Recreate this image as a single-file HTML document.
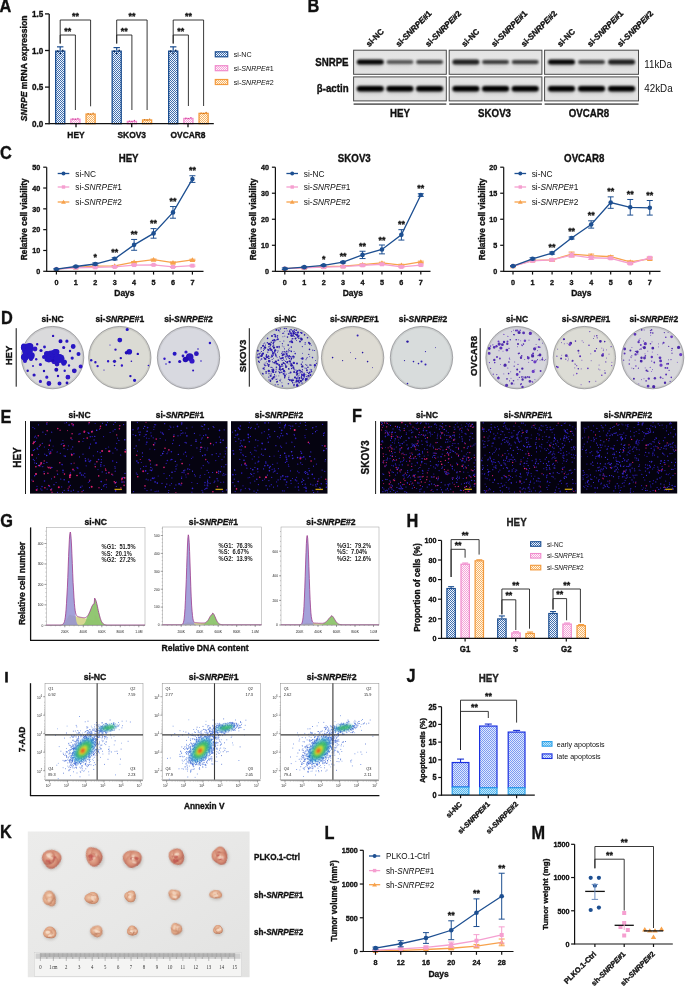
<!DOCTYPE html>
<html><head><meta charset="utf-8"><style>
html,body{margin:0;padding:0;background:#fff;width:685px;height:987px;overflow:hidden}
svg{display:block;font-family:"Liberation Sans",sans-serif;will-change:transform}
</style></head><body>
<svg width="685" height="987" viewBox="0 0 685 987">
<defs>
<pattern id="pB" width="2" height="2" patternUnits="userSpaceOnUse"><rect width="2" height="2" fill="#f4f7fc"/><rect width="1" height="1" fill="#3f6fb0"/><rect x="1" y="1" width="1" height="1" fill="#3f6fb0"/></pattern>
<pattern id="pP" width="2" height="2" patternUnits="userSpaceOnUse"><rect width="2" height="2" fill="#fff4fb"/><rect width="1" height="1" fill="#f4a6d8"/><rect x="1" y="1" width="1" height="1" fill="#f4a6d8"/></pattern>
<pattern id="pO" width="2" height="2" patternUnits="userSpaceOnUse"><rect width="2" height="2" fill="#fff6ea"/><rect width="1" height="1" fill="#f6b466"/><rect x="1" y="1" width="1" height="1" fill="#f6b466"/></pattern>
<filter id="blur1" x="-50%" y="-50%" width="200%" height="200%"><feGaussianBlur stdDeviation="1.15"/></filter>
<filter id="blur05" x="-50%" y="-50%" width="200%" height="200%"><feGaussianBlur stdDeviation="0.5"/></filter>
<filter id="blur2" x="-50%" y="-50%" width="200%" height="200%"><feGaussianBlur stdDeviation="2"/></filter>
<linearGradient id="blotbg" x1="0" y1="0" x2="0" y2="1"><stop offset="0" stop-color="#e2e2e2"/><stop offset="0.5" stop-color="#e9e9e9"/><stop offset="1" stop-color="#e0e0e0"/></linearGradient>


<radialGradient id="plate" cx="0.5" cy="0.5" r="0.5"><stop offset="0" stop-color="#dedee0"/><stop offset="0.85" stop-color="#d8d8db"/><stop offset="0.97" stop-color="#cacacd"/><stop offset="1" stop-color="#8c8c90"/></radialGradient>
<filter id="cb" x="-50%" y="-50%" width="200%" height="200%"><feGaussianBlur stdDeviation="0.35"/></filter>
<filter id="fb" x="-50%" y="-50%" width="200%" height="200%"><feGaussianBlur stdDeviation="0.45"/></filter>


<filter id="hb" x="-50%" y="-50%" width="200%" height="200%"><feGaussianBlur stdDeviation="1.6"/></filter>
<filter id="hb2" x="-50%" y="-50%" width="200%" height="200%"><feGaussianBlur stdDeviation="0.9"/></filter>
<pattern id="pE" width="2" height="2" patternUnits="userSpaceOnUse"><rect width="2" height="2" fill="#bfe6fb"/><rect width="1" height="1" fill="#5ab8ee"/><rect x="1" y="1" width="1" height="1" fill="#5ab8ee"/></pattern>
<pattern id="pL" width="2" height="2" patternUnits="userSpaceOnUse"><rect width="2" height="2" fill="#dfe8fd"/><rect width="1" height="1" fill="#7c9af2"/><rect x="1" y="1" width="1" height="1" fill="#7c9af2"/></pattern>


<linearGradient id="photo" x1="0" y1="0" x2="1" y2="1"><stop offset="0" stop-color="#ececeb"/><stop offset="0.5" stop-color="#e8e8e7"/><stop offset="1" stop-color="#e2e2e1"/></linearGradient>
<radialGradient id="tum" cx="0.45" cy="0.42" r="0.6"><stop offset="0" stop-color="#efc9aa"/><stop offset="0.6" stop-color="#e0a686"/><stop offset="0.9" stop-color="#c98a6c"/><stop offset="1" stop-color="#b27458"/></radialGradient>
<radialGradient id="tumr" cx="0.45" cy="0.42" r="0.6"><stop offset="0" stop-color="#e8b49c"/><stop offset="0.6" stop-color="#d68e76"/><stop offset="0.9" stop-color="#bf7060"/><stop offset="1" stop-color="#a45a4e"/></radialGradient>
<filter id="tb" x="-30%" y="-30%" width="160%" height="160%"><feGaussianBlur stdDeviation="0.5"/></filter>
<filter id="tb2" x="-50%" y="-50%" width="200%" height="200%"><feGaussianBlur stdDeviation="1.0"/></filter>
</defs>
<text x="0" y="0" font-size="18.15" font-weight="bold" text-anchor="start" fill="#111" transform="translate(-0.5 11.6) scale(0.9 1)" stroke="#111" stroke-width="0.35">A</text>
<line x1="60.2" y1="50.5" x2="60.2" y2="46.84" stroke="#1d4f91" stroke-width="1.2"/>
<line x1="57" y1="46.84" x2="63.4" y2="46.84" stroke="#1d4f91" stroke-width="1.2"/>
<rect x="55.65" y="51.15" width="9.1" height="72.55" fill="url(#pB)" stroke="#1d4f91" stroke-width="1.3"/>
<circle cx="57.7" cy="51.23" r="0.9" fill="#0b2a5a"/>
<circle cx="62.7" cy="50.5" r="0.9" fill="#0b2a5a"/>
<circle cx="60.2" cy="53.43" r="0.9" fill="#0b2a5a"/>
<rect x="70.85" y="119.23" width="9.1" height="4.47" fill="url(#pP)" stroke="#f08ccd" stroke-width="1.3"/>
<circle cx="72.9" cy="118.94" r="0.7" fill="#d0409a"/>
<circle cx="77.9" cy="118.36" r="0.7" fill="#d0409a"/>
<circle cx="75.4" cy="119.31" r="0.7" fill="#d0409a"/>
<rect x="86.05" y="114.1" width="9.1" height="9.6" fill="url(#pO)" stroke="#f39a3c" stroke-width="1.3"/>
<circle cx="88.1" cy="113.82" r="0.7" fill="#d07010"/>
<circle cx="93.1" cy="113.23" r="0.7" fill="#d07010"/>
<circle cx="90.6" cy="114.18" r="0.7" fill="#d07010"/>
<line x1="116.7" y1="50.5" x2="116.7" y2="47.57" stroke="#1d4f91" stroke-width="1.2"/>
<line x1="113.5" y1="47.57" x2="119.9" y2="47.57" stroke="#1d4f91" stroke-width="1.2"/>
<rect x="112.15" y="51.15" width="9.1" height="72.55" fill="url(#pB)" stroke="#1d4f91" stroke-width="1.3"/>
<circle cx="114.2" cy="51.23" r="0.9" fill="#0b2a5a"/>
<circle cx="119.2" cy="50.5" r="0.9" fill="#0b2a5a"/>
<circle cx="116.7" cy="53.43" r="0.9" fill="#0b2a5a"/>
<rect x="127.35" y="121.42" width="9.1" height="2.28" fill="url(#pP)" stroke="#f08ccd" stroke-width="1.3"/>
<circle cx="129.4" cy="121.14" r="0.7" fill="#d0409a"/>
<circle cx="134.4" cy="120.55" r="0.7" fill="#d0409a"/>
<circle cx="131.9" cy="121.5" r="0.7" fill="#d0409a"/>
<rect x="142.55" y="119.96" width="9.1" height="3.74" fill="url(#pO)" stroke="#f39a3c" stroke-width="1.3"/>
<circle cx="144.6" cy="119.67" r="0.7" fill="#d07010"/>
<circle cx="149.6" cy="119.09" r="0.7" fill="#d07010"/>
<circle cx="147.1" cy="120.04" r="0.7" fill="#d07010"/>
<line x1="173.2" y1="50.5" x2="173.2" y2="46.84" stroke="#1d4f91" stroke-width="1.2"/>
<line x1="170" y1="46.84" x2="176.4" y2="46.84" stroke="#1d4f91" stroke-width="1.2"/>
<rect x="168.65" y="51.15" width="9.1" height="72.55" fill="url(#pB)" stroke="#1d4f91" stroke-width="1.3"/>
<circle cx="170.7" cy="51.23" r="0.9" fill="#0b2a5a"/>
<circle cx="175.7" cy="50.5" r="0.9" fill="#0b2a5a"/>
<circle cx="173.2" cy="53.43" r="0.9" fill="#0b2a5a"/>
<rect x="183.85" y="118.49" width="9.1" height="5.21" fill="url(#pP)" stroke="#f08ccd" stroke-width="1.3"/>
<circle cx="185.9" cy="118.21" r="0.7" fill="#d0409a"/>
<circle cx="190.9" cy="117.62" r="0.7" fill="#d0409a"/>
<circle cx="188.4" cy="118.58" r="0.7" fill="#d0409a"/>
<rect x="199.05" y="113.37" width="9.1" height="10.33" fill="url(#pO)" stroke="#f39a3c" stroke-width="1.3"/>
<circle cx="201.1" cy="113.09" r="0.7" fill="#d07010"/>
<circle cx="206.1" cy="112.5" r="0.7" fill="#d07010"/>
<circle cx="203.6" cy="113.45" r="0.7" fill="#d07010"/>
<polyline points="60.2,43.5 60.2,20 90.6,20 90.6,106.3" stroke="#222" stroke-width="0.9" fill="none"/>
<polyline points="60.2,43.5 60.2,35 75.4,35 75.4,110" stroke="#222" stroke-width="0.9" fill="none"/>
<text x="0" y="0" font-size="9.9" font-weight="bold" text-anchor="middle" fill="#111" transform="translate(75.4 19) scale(0.9 1)" stroke="#111" stroke-width="0.35">**</text>
<text x="0" y="0" font-size="9.9" font-weight="bold" text-anchor="middle" fill="#111" transform="translate(67.8 34) scale(0.9 1)" stroke="#111" stroke-width="0.35">**</text>
<polyline points="116.7,43.5 116.7,20 147.1,20 147.1,110" stroke="#222" stroke-width="0.9" fill="none"/>
<polyline points="116.7,43.5 116.7,35 131.9,35 131.9,110" stroke="#222" stroke-width="0.9" fill="none"/>
<text x="0" y="0" font-size="9.9" font-weight="bold" text-anchor="middle" fill="#111" transform="translate(131.9 19) scale(0.9 1)" stroke="#111" stroke-width="0.35">**</text>
<text x="0" y="0" font-size="9.9" font-weight="bold" text-anchor="middle" fill="#111" transform="translate(124.3 34) scale(0.9 1)" stroke="#111" stroke-width="0.35">**</text>
<polyline points="173.2,43.5 173.2,20 203.6,20 203.6,106" stroke="#222" stroke-width="0.9" fill="none"/>
<polyline points="173.2,43.5 173.2,35 188.4,35 188.4,106" stroke="#222" stroke-width="0.9" fill="none"/>
<text x="0" y="0" font-size="9.9" font-weight="bold" text-anchor="middle" fill="#111" transform="translate(188.4 19) scale(0.9 1)" stroke="#111" stroke-width="0.35">**</text>
<text x="0" y="0" font-size="9.9" font-weight="bold" text-anchor="middle" fill="#111" transform="translate(180.8 34) scale(0.9 1)" stroke="#111" stroke-width="0.35">**</text>
<line x1="49.2" y1="13.9" x2="49.2" y2="124.35" stroke="#111" stroke-width="1.3"/>
<line x1="45" y1="13.9" x2="49.2" y2="13.9" stroke="#111" stroke-width="1.3"/>
<text x="0" y="0" font-size="9.02" font-weight="bold" text-anchor="end" fill="#111" transform="translate(43.2 17.06) scale(0.9 1)" stroke="#111" stroke-width="0.35">1.5</text>
<line x1="45" y1="50.5" x2="49.2" y2="50.5" stroke="#111" stroke-width="1.3"/>
<text x="0" y="0" font-size="9.02" font-weight="bold" text-anchor="end" fill="#111" transform="translate(43.2 53.66) scale(0.9 1)" stroke="#111" stroke-width="0.35">1.0</text>
<line x1="45" y1="87.1" x2="49.2" y2="87.1" stroke="#111" stroke-width="1.3"/>
<text x="0" y="0" font-size="9.02" font-weight="bold" text-anchor="end" fill="#111" transform="translate(43.2 90.26) scale(0.9 1)" stroke="#111" stroke-width="0.35">0.5</text>
<line x1="45" y1="123.7" x2="49.2" y2="123.7" stroke="#111" stroke-width="1.3"/>
<text x="0" y="0" font-size="9.02" font-weight="bold" text-anchor="end" fill="#111" transform="translate(43.2 126.86) scale(0.9 1)" stroke="#111" stroke-width="0.35">0.0</text>
<line x1="49.2" y1="123.7" x2="213.8" y2="123.7" stroke="#111" stroke-width="1.3"/>
<line x1="76" y1="123.7" x2="76" y2="127.2" stroke="#111" stroke-width="1.3"/>
<text x="0" y="0" font-size="9.35" font-weight="bold" text-anchor="middle" fill="#111" transform="translate(76 137.97) scale(0.9 1)" stroke="#111" stroke-width="0.35">HEY</text>
<line x1="131.7" y1="123.7" x2="131.7" y2="127.2" stroke="#111" stroke-width="1.3"/>
<text x="0" y="0" font-size="9.35" font-weight="bold" text-anchor="middle" fill="#111" transform="translate(131.7 137.97) scale(0.9 1)" stroke="#111" stroke-width="0.35">SKOV3</text>
<line x1="188" y1="123.7" x2="188" y2="127.2" stroke="#111" stroke-width="1.3"/>
<text x="0" y="0" font-size="9.35" font-weight="bold" text-anchor="middle" fill="#111" transform="translate(188 137.97) scale(0.9 1)" stroke="#111" stroke-width="0.35">OVCAR8</text>
<text x="0" y="0" font-size="8.6" font-weight="bold" text-anchor="middle" fill="#111" transform="translate(27 68.4) rotate(-90)" stroke="#111" stroke-width="0.35"><tspan font-style="italic">SNRPE</tspan> mRNA expression</text>
<rect x="215.3" y="51.8" width="12.4" height="5" fill="url(#pB)" stroke="#1d4f91" stroke-width="1.2"/>
<text x="0" y="0" font-size="7.92" text-anchor="start" fill="#111" transform="translate(233.8 57.07) scale(0.9 1)">si-NC</text>
<rect x="215.3" y="65.7" width="12.4" height="5" fill="url(#pP)" stroke="#f08ccd" stroke-width="1.2"/>
<text x="0" y="0" font-size="7.92" text-anchor="start" fill="#111" transform="translate(233.8 70.97) scale(0.9 1)">si-<tspan font-style="italic">SNRPE</tspan>#1</text>
<rect x="215.3" y="79.5" width="12.4" height="5" fill="url(#pO)" stroke="#f39a3c" stroke-width="1.2"/>
<text x="0" y="0" font-size="7.92" text-anchor="start" fill="#111" transform="translate(233.8 84.77) scale(0.9 1)">si-<tspan font-style="italic">SNRPE</tspan>#2</text>
<text x="0" y="0" font-size="18.15" font-weight="bold" text-anchor="start" fill="#111" transform="translate(307.5 11.8) scale(0.9 1)" stroke="#111" stroke-width="0.35">B</text>
<rect x="353.6" y="50.2" width="92.7" height="24.1" fill="url(#blotbg)" stroke="#4a4a4a" stroke-width="1"/>
<clipPath id="cp00"><rect x="353.6" y="50.2" width="92.7" height="24.1"/></clipPath>
<g clip-path="url(#cp00)">
<rect x="356.79" y="59.5" width="27" height="5" rx="2.5" fill="#000" fill-opacity="0.97" filter="url(#blur1)"/>
<rect x="357.29" y="60" width="26" height="7" rx="3.5" fill="#000" fill-opacity="0.15" filter="url(#blur2)"/>
<rect x="386.45" y="59.9" width="27" height="4.2" rx="2.1" fill="#000" fill-opacity="0.6" filter="url(#blur1)"/>
<rect x="386.95" y="60" width="26" height="7" rx="3.5" fill="#000" fill-opacity="0.09" filter="url(#blur2)"/>
<rect x="416.11" y="59.9" width="27" height="4.2" rx="2.1" fill="#000" fill-opacity="0.7" filter="url(#blur1)"/>
<rect x="416.61" y="60" width="26" height="7" rx="3.5" fill="#000" fill-opacity="0.1" filter="url(#blur2)"/>
</g>
<rect x="353.6" y="76.9" width="92.7" height="24" fill="url(#blotbg)" stroke="#4a4a4a" stroke-width="1"/>
<clipPath id="cp01"><rect x="353.6" y="76.9" width="92.7" height="24"/></clipPath>
<g clip-path="url(#cp01)">
<rect x="356.79" y="86.1" width="27" height="5.4" rx="2.7" fill="#000" fill-opacity="1" filter="url(#blur1)"/>
<rect x="356.79" y="85.5" width="27" height="8" rx="4" fill="#000" fill-opacity="0.18" filter="url(#blur2)"/>
<rect x="386.45" y="86.1" width="27" height="5.4" rx="2.7" fill="#000" fill-opacity="1" filter="url(#blur1)"/>
<rect x="386.45" y="85.5" width="27" height="8" rx="4" fill="#000" fill-opacity="0.18" filter="url(#blur2)"/>
<rect x="416.11" y="86.1" width="27" height="5.4" rx="2.7" fill="#000" fill-opacity="1" filter="url(#blur1)"/>
<rect x="416.11" y="85.5" width="27" height="8" rx="4" fill="#000" fill-opacity="0.18" filter="url(#blur2)"/>
</g>
<line x1="353.6" y1="104.1" x2="446.3" y2="104.1" stroke="#6a6a6a" stroke-width="1.6"/>
<text x="0" y="0" font-size="10.78" font-weight="bold" text-anchor="middle" fill="#111" transform="translate(399.95 117.37) scale(0.9 1)" stroke="#111" stroke-width="0.35">HEY</text>
<text x="369.29" y="47.2" font-size="8.2" font-weight="bold" text-anchor="start" fill="#111" transform="rotate(-45 369.29 47.2)" stroke="#111" stroke-width="0.35">si-NC</text>
<text x="398.95" y="47.2" font-size="8.2" font-weight="bold" text-anchor="start" fill="#111" transform="rotate(-45 398.95 47.2)" stroke="#111" stroke-width="0.35">si-<tspan font-style="italic">SNRPE</tspan>#1</text>
<text x="428.61" y="47.2" font-size="8.2" font-weight="bold" text-anchor="start" fill="#111" transform="rotate(-45 428.61 47.2)" stroke="#111" stroke-width="0.35">si-<tspan font-style="italic">SNRPE</tspan>#2</text>
<rect x="449.2" y="50.2" width="92.7" height="24.1" fill="url(#blotbg)" stroke="#4a4a4a" stroke-width="1"/>
<clipPath id="cp10"><rect x="449.2" y="50.2" width="92.7" height="24.1"/></clipPath>
<g clip-path="url(#cp10)">
<rect x="452.39" y="59.5" width="27" height="5" rx="2.5" fill="#000" fill-opacity="0.85" filter="url(#blur1)"/>
<rect x="452.89" y="60" width="26" height="7" rx="3.5" fill="#000" fill-opacity="0.13" filter="url(#blur2)"/>
<rect x="482.05" y="59.9" width="27" height="4.2" rx="2.1" fill="#000" fill-opacity="0.72" filter="url(#blur1)"/>
<rect x="482.55" y="60" width="26" height="7" rx="3.5" fill="#000" fill-opacity="0.11" filter="url(#blur2)"/>
<rect x="511.71" y="59.9" width="27" height="4.2" rx="2.1" fill="#000" fill-opacity="0.72" filter="url(#blur1)"/>
<rect x="512.21" y="60" width="26" height="7" rx="3.5" fill="#000" fill-opacity="0.11" filter="url(#blur2)"/>
</g>
<rect x="449.2" y="76.9" width="92.7" height="24" fill="url(#blotbg)" stroke="#4a4a4a" stroke-width="1"/>
<clipPath id="cp11"><rect x="449.2" y="76.9" width="92.7" height="24"/></clipPath>
<g clip-path="url(#cp11)">
<rect x="452.39" y="86.1" width="27" height="5.4" rx="2.7" fill="#000" fill-opacity="1" filter="url(#blur1)"/>
<rect x="452.39" y="85.5" width="27" height="8" rx="4" fill="#000" fill-opacity="0.18" filter="url(#blur2)"/>
<rect x="482.05" y="86.1" width="27" height="5.4" rx="2.7" fill="#000" fill-opacity="1" filter="url(#blur1)"/>
<rect x="482.05" y="85.5" width="27" height="8" rx="4" fill="#000" fill-opacity="0.18" filter="url(#blur2)"/>
<rect x="511.71" y="86.1" width="27" height="5.4" rx="2.7" fill="#000" fill-opacity="1" filter="url(#blur1)"/>
<rect x="511.71" y="85.5" width="27" height="8" rx="4" fill="#000" fill-opacity="0.18" filter="url(#blur2)"/>
</g>
<line x1="449.2" y1="104.1" x2="541.9" y2="104.1" stroke="#6a6a6a" stroke-width="1.6"/>
<text x="0" y="0" font-size="10.78" font-weight="bold" text-anchor="middle" fill="#111" transform="translate(494.55 117.37) scale(0.9 1)" stroke="#111" stroke-width="0.35">SKOV3</text>
<text x="464.89" y="47.2" font-size="8.2" font-weight="bold" text-anchor="start" fill="#111" transform="rotate(-45 464.89 47.2)" stroke="#111" stroke-width="0.35">si-NC</text>
<text x="494.55" y="47.2" font-size="8.2" font-weight="bold" text-anchor="start" fill="#111" transform="rotate(-45 494.55 47.2)" stroke="#111" stroke-width="0.35">si-<tspan font-style="italic">SNRPE</tspan>#1</text>
<text x="524.21" y="47.2" font-size="8.2" font-weight="bold" text-anchor="start" fill="#111" transform="rotate(-45 524.21 47.2)" stroke="#111" stroke-width="0.35">si-<tspan font-style="italic">SNRPE</tspan>#2</text>
<rect x="544.6" y="50.2" width="93.9" height="24.1" fill="url(#blotbg)" stroke="#4a4a4a" stroke-width="1"/>
<clipPath id="cp20"><rect x="544.6" y="50.2" width="93.9" height="24.1"/></clipPath>
<g clip-path="url(#cp20)">
<rect x="548" y="59.5" width="27" height="5" rx="2.5" fill="#000" fill-opacity="0.97" filter="url(#blur1)"/>
<rect x="548.5" y="60" width="26" height="7" rx="3.5" fill="#000" fill-opacity="0.15" filter="url(#blur2)"/>
<rect x="578.05" y="59.9" width="27" height="4.2" rx="2.1" fill="#000" fill-opacity="0.72" filter="url(#blur1)"/>
<rect x="578.55" y="60" width="26" height="7" rx="3.5" fill="#000" fill-opacity="0.11" filter="url(#blur2)"/>
<rect x="608.1" y="59.5" width="27" height="5" rx="2.5" fill="#000" fill-opacity="0.85" filter="url(#blur1)"/>
<rect x="608.6" y="60" width="26" height="7" rx="3.5" fill="#000" fill-opacity="0.13" filter="url(#blur2)"/>
</g>
<rect x="544.6" y="76.9" width="93.9" height="24" fill="url(#blotbg)" stroke="#4a4a4a" stroke-width="1"/>
<clipPath id="cp21"><rect x="544.6" y="76.9" width="93.9" height="24"/></clipPath>
<g clip-path="url(#cp21)">
<rect x="548" y="86.1" width="27" height="5.4" rx="2.7" fill="#000" fill-opacity="1" filter="url(#blur1)"/>
<rect x="548" y="85.5" width="27" height="8" rx="4" fill="#000" fill-opacity="0.18" filter="url(#blur2)"/>
<rect x="578.05" y="86.1" width="27" height="5.4" rx="2.7" fill="#000" fill-opacity="1" filter="url(#blur1)"/>
<rect x="578.05" y="85.5" width="27" height="8" rx="4" fill="#000" fill-opacity="0.18" filter="url(#blur2)"/>
<rect x="608.1" y="86.1" width="27" height="5.4" rx="2.7" fill="#000" fill-opacity="1" filter="url(#blur1)"/>
<rect x="608.1" y="85.5" width="27" height="8" rx="4" fill="#000" fill-opacity="0.18" filter="url(#blur2)"/>
</g>
<line x1="544.6" y1="104.1" x2="638.5" y2="104.1" stroke="#6a6a6a" stroke-width="1.6"/>
<text x="0" y="0" font-size="10.78" font-weight="bold" text-anchor="middle" fill="#111" transform="translate(588.85 117.37) scale(0.9 1)" stroke="#111" stroke-width="0.35">OVCAR8</text>
<text x="560.5" y="47.2" font-size="8.2" font-weight="bold" text-anchor="start" fill="#111" transform="rotate(-45 560.5 47.2)" stroke="#111" stroke-width="0.35">si-NC</text>
<text x="590.55" y="47.2" font-size="8.2" font-weight="bold" text-anchor="start" fill="#111" transform="rotate(-45 590.55 47.2)" stroke="#111" stroke-width="0.35">si-<tspan font-style="italic">SNRPE</tspan>#1</text>
<text x="620.6" y="47.2" font-size="8.2" font-weight="bold" text-anchor="start" fill="#111" transform="rotate(-45 620.6 47.2)" stroke="#111" stroke-width="0.35">si-<tspan font-style="italic">SNRPE</tspan>#2</text>
<text x="0" y="0" font-size="10.78" font-weight="bold" text-anchor="end" fill="#111" transform="translate(348.6 65.77) scale(0.9 1)" stroke="#111" stroke-width="0.35">SNRPE</text>
<text x="0" y="0" font-size="10.78" font-weight="bold" text-anchor="end" fill="#111" transform="translate(348.6 92.17) scale(0.9 1)" stroke="#111" stroke-width="0.35">&#946;-actin</text>
<text x="0" y="0" font-size="10.89" text-anchor="start" fill="#111" transform="translate(644.3 68.11) scale(0.9 1)">11kDa</text>
<text x="0" y="0" font-size="10.89" text-anchor="start" fill="#111" transform="translate(644.3 92.01) scale(0.9 1)">42kDa</text>
<text x="0" y="0" font-size="18.15" font-weight="bold" text-anchor="start" fill="#111" transform="translate(0 158.5) scale(0.9 1)" stroke="#111" stroke-width="0.35">C</text>
<line x1="75.83" y1="267.76" x2="75.83" y2="266.93" stroke="#f7a24c" stroke-width="1"/>
<line x1="72.83" y1="266.93" x2="78.83" y2="266.93" stroke="#f7a24c" stroke-width="1"/>
<line x1="72.83" y1="267.76" x2="78.83" y2="267.76" stroke="#f7a24c" stroke-width="1"/>
<line x1="95.26" y1="266.51" x2="95.26" y2="265.68" stroke="#f7a24c" stroke-width="1"/>
<line x1="92.26" y1="265.68" x2="98.26" y2="265.68" stroke="#f7a24c" stroke-width="1"/>
<line x1="92.26" y1="266.51" x2="98.26" y2="266.51" stroke="#f7a24c" stroke-width="1"/>
<line x1="114.69" y1="266.3" x2="114.69" y2="265.47" stroke="#f7a24c" stroke-width="1"/>
<line x1="111.69" y1="265.47" x2="117.69" y2="265.47" stroke="#f7a24c" stroke-width="1"/>
<line x1="111.69" y1="266.3" x2="117.69" y2="266.3" stroke="#f7a24c" stroke-width="1"/>
<line x1="134.12" y1="262.76" x2="134.12" y2="261.51" stroke="#f7a24c" stroke-width="1"/>
<line x1="131.12" y1="261.51" x2="137.12" y2="261.51" stroke="#f7a24c" stroke-width="1"/>
<line x1="131.12" y1="262.76" x2="137.12" y2="262.76" stroke="#f7a24c" stroke-width="1"/>
<line x1="153.55" y1="260.27" x2="153.55" y2="259.02" stroke="#f7a24c" stroke-width="1"/>
<line x1="150.55" y1="259.02" x2="156.55" y2="259.02" stroke="#f7a24c" stroke-width="1"/>
<line x1="150.55" y1="260.27" x2="156.55" y2="260.27" stroke="#f7a24c" stroke-width="1"/>
<line x1="172.98" y1="263.18" x2="172.98" y2="261.93" stroke="#f7a24c" stroke-width="1"/>
<line x1="169.98" y1="261.93" x2="175.98" y2="261.93" stroke="#f7a24c" stroke-width="1"/>
<line x1="169.98" y1="263.18" x2="175.98" y2="263.18" stroke="#f7a24c" stroke-width="1"/>
<line x1="192.41" y1="260.47" x2="192.41" y2="259.22" stroke="#f7a24c" stroke-width="1"/>
<line x1="189.41" y1="259.22" x2="195.41" y2="259.22" stroke="#f7a24c" stroke-width="1"/>
<line x1="189.41" y1="260.47" x2="195.41" y2="260.47" stroke="#f7a24c" stroke-width="1"/>
<polyline points="56.4,269.22 75.83,267.34 95.26,266.1 114.69,265.89 134.12,262.14 153.55,259.64 172.98,262.56 192.41,259.85" stroke="#f7a24c" stroke-width="1.3" fill="none"/>
<polygon points="56.4,266.62 53.54,271.3 59.26,271.3" fill="#f7a24c"/>
<polygon points="75.83,264.74 72.97,269.42 78.69,269.42" fill="#f7a24c"/>
<polygon points="95.26,263.5 92.4,268.18 98.12,268.18" fill="#f7a24c"/>
<polygon points="114.69,263.29 111.83,267.97 117.55,267.97" fill="#f7a24c"/>
<polygon points="134.12,259.54 131.26,264.22 136.98,264.22" fill="#f7a24c"/>
<polygon points="153.55,257.04 150.69,261.72 156.41,261.72" fill="#f7a24c"/>
<polygon points="172.98,259.96 170.12,264.64 175.84,264.64" fill="#f7a24c"/>
<polygon points="192.41,257.25 189.55,261.93 195.27,261.93" fill="#f7a24c"/>
<line x1="75.83" y1="268.18" x2="75.83" y2="267.34" stroke="#f59fd0" stroke-width="1"/>
<line x1="72.83" y1="267.34" x2="78.83" y2="267.34" stroke="#f59fd0" stroke-width="1"/>
<line x1="72.83" y1="268.18" x2="78.83" y2="268.18" stroke="#f59fd0" stroke-width="1"/>
<line x1="95.26" y1="267.76" x2="95.26" y2="266.93" stroke="#f59fd0" stroke-width="1"/>
<line x1="92.26" y1="266.93" x2="98.26" y2="266.93" stroke="#f59fd0" stroke-width="1"/>
<line x1="92.26" y1="267.76" x2="98.26" y2="267.76" stroke="#f59fd0" stroke-width="1"/>
<line x1="114.69" y1="267.34" x2="114.69" y2="266.51" stroke="#f59fd0" stroke-width="1"/>
<line x1="111.69" y1="266.51" x2="117.69" y2="266.51" stroke="#f59fd0" stroke-width="1"/>
<line x1="111.69" y1="267.34" x2="117.69" y2="267.34" stroke="#f59fd0" stroke-width="1"/>
<line x1="134.12" y1="265.68" x2="134.12" y2="264.43" stroke="#f59fd0" stroke-width="1"/>
<line x1="131.12" y1="264.43" x2="137.12" y2="264.43" stroke="#f59fd0" stroke-width="1"/>
<line x1="131.12" y1="265.68" x2="137.12" y2="265.68" stroke="#f59fd0" stroke-width="1"/>
<line x1="153.55" y1="265.26" x2="153.55" y2="264.43" stroke="#f59fd0" stroke-width="1"/>
<line x1="150.55" y1="264.43" x2="156.55" y2="264.43" stroke="#f59fd0" stroke-width="1"/>
<line x1="150.55" y1="265.26" x2="156.55" y2="265.26" stroke="#f59fd0" stroke-width="1"/>
<line x1="172.98" y1="267.55" x2="172.98" y2="266.3" stroke="#f59fd0" stroke-width="1"/>
<line x1="169.98" y1="266.3" x2="175.98" y2="266.3" stroke="#f59fd0" stroke-width="1"/>
<line x1="169.98" y1="267.55" x2="175.98" y2="267.55" stroke="#f59fd0" stroke-width="1"/>
<line x1="192.41" y1="266.3" x2="192.41" y2="265.05" stroke="#f59fd0" stroke-width="1"/>
<line x1="189.41" y1="265.05" x2="195.41" y2="265.05" stroke="#f59fd0" stroke-width="1"/>
<line x1="189.41" y1="266.3" x2="195.41" y2="266.3" stroke="#f59fd0" stroke-width="1"/>
<polyline points="56.4,269.22 75.83,267.76 95.26,267.34 114.69,266.93 134.12,265.05 153.55,264.85 172.98,266.93 192.41,265.68" stroke="#f59fd0" stroke-width="1.3" fill="none"/>
<rect x="54.4" y="267.22" width="4" height="4" fill="#f59fd0" stroke="none" stroke-width="1"/>
<rect x="73.83" y="265.76" width="4" height="4" fill="#f59fd0" stroke="none" stroke-width="1"/>
<rect x="93.26" y="265.34" width="4" height="4" fill="#f59fd0" stroke="none" stroke-width="1"/>
<rect x="112.69" y="264.93" width="4" height="4" fill="#f59fd0" stroke="none" stroke-width="1"/>
<rect x="132.12" y="263.05" width="4" height="4" fill="#f59fd0" stroke="none" stroke-width="1"/>
<rect x="151.55" y="262.85" width="4" height="4" fill="#f59fd0" stroke="none" stroke-width="1"/>
<rect x="170.98" y="264.93" width="4" height="4" fill="#f59fd0" stroke="none" stroke-width="1"/>
<rect x="190.41" y="263.68" width="4" height="4" fill="#f59fd0" stroke="none" stroke-width="1"/>
<line x1="56.4" y1="269.84" x2="56.4" y2="268.59" stroke="#1d4f91" stroke-width="1"/>
<line x1="53.4" y1="268.59" x2="59.4" y2="268.59" stroke="#1d4f91" stroke-width="1"/>
<line x1="53.4" y1="269.84" x2="59.4" y2="269.84" stroke="#1d4f91" stroke-width="1"/>
<line x1="75.83" y1="267.14" x2="75.83" y2="265.89" stroke="#1d4f91" stroke-width="1"/>
<line x1="72.83" y1="265.89" x2="78.83" y2="265.89" stroke="#1d4f91" stroke-width="1"/>
<line x1="72.83" y1="267.14" x2="78.83" y2="267.14" stroke="#1d4f91" stroke-width="1"/>
<line x1="95.26" y1="265.05" x2="95.26" y2="262.97" stroke="#1d4f91" stroke-width="1"/>
<line x1="92.26" y1="262.97" x2="98.26" y2="262.97" stroke="#1d4f91" stroke-width="1"/>
<line x1="92.26" y1="265.05" x2="98.26" y2="265.05" stroke="#1d4f91" stroke-width="1"/>
<line x1="114.69" y1="259.85" x2="114.69" y2="257.77" stroke="#1d4f91" stroke-width="1"/>
<line x1="111.69" y1="257.77" x2="117.69" y2="257.77" stroke="#1d4f91" stroke-width="1"/>
<line x1="111.69" y1="259.85" x2="117.69" y2="259.85" stroke="#1d4f91" stroke-width="1"/>
<line x1="134.12" y1="250.27" x2="134.12" y2="239.45" stroke="#1d4f91" stroke-width="1"/>
<line x1="131.12" y1="239.45" x2="137.12" y2="239.45" stroke="#1d4f91" stroke-width="1"/>
<line x1="131.12" y1="250.27" x2="137.12" y2="250.27" stroke="#1d4f91" stroke-width="1"/>
<line x1="153.55" y1="238.2" x2="153.55" y2="228.62" stroke="#1d4f91" stroke-width="1"/>
<line x1="150.55" y1="228.62" x2="156.55" y2="228.62" stroke="#1d4f91" stroke-width="1"/>
<line x1="150.55" y1="238.2" x2="156.55" y2="238.2" stroke="#1d4f91" stroke-width="1"/>
<line x1="172.98" y1="218.21" x2="172.98" y2="206.55" stroke="#1d4f91" stroke-width="1"/>
<line x1="169.98" y1="206.55" x2="175.98" y2="206.55" stroke="#1d4f91" stroke-width="1"/>
<line x1="169.98" y1="218.21" x2="175.98" y2="218.21" stroke="#1d4f91" stroke-width="1"/>
<line x1="192.41" y1="182.4" x2="192.41" y2="175.74" stroke="#1d4f91" stroke-width="1"/>
<line x1="189.41" y1="175.74" x2="195.41" y2="175.74" stroke="#1d4f91" stroke-width="1"/>
<line x1="189.41" y1="182.4" x2="195.41" y2="182.4" stroke="#1d4f91" stroke-width="1"/>
<polyline points="56.4,269.22 75.83,266.51 95.26,264.01 114.69,258.81 134.12,244.86 153.55,233.41 172.98,212.38 192.41,179.07" stroke="#1d4f91" stroke-width="1.3" fill="none"/>
<circle cx="56.4" cy="269.22" r="2.3" fill="#1d4f91"/>
<circle cx="75.83" cy="266.51" r="2.3" fill="#1d4f91"/>
<circle cx="95.26" cy="264.01" r="2.3" fill="#1d4f91"/>
<circle cx="114.69" cy="258.81" r="2.3" fill="#1d4f91"/>
<circle cx="134.12" cy="244.86" r="2.3" fill="#1d4f91"/>
<circle cx="153.55" cy="233.41" r="2.3" fill="#1d4f91"/>
<circle cx="172.98" cy="212.38" r="2.3" fill="#1d4f91"/>
<circle cx="192.41" cy="179.07" r="2.3" fill="#1d4f91"/>
<text x="0" y="0" font-size="9.9" font-weight="bold" text-anchor="middle" fill="#111" transform="translate(95.26 260.47) scale(0.9 1)" stroke="#111" stroke-width="0.35">*</text>
<text x="0" y="0" font-size="9.9" font-weight="bold" text-anchor="middle" fill="#111" transform="translate(114.69 255.27) scale(0.9 1)" stroke="#111" stroke-width="0.35">**</text>
<text x="0" y="0" font-size="9.9" font-weight="bold" text-anchor="middle" fill="#111" transform="translate(134.12 236.95) scale(0.9 1)" stroke="#111" stroke-width="0.35">**</text>
<text x="0" y="0" font-size="9.9" font-weight="bold" text-anchor="middle" fill="#111" transform="translate(153.55 226.12) scale(0.9 1)" stroke="#111" stroke-width="0.35">**</text>
<text x="0" y="0" font-size="9.9" font-weight="bold" text-anchor="middle" fill="#111" transform="translate(172.98 204.05) scale(0.9 1)" stroke="#111" stroke-width="0.35">**</text>
<text x="0" y="0" font-size="9.9" font-weight="bold" text-anchor="middle" fill="#111" transform="translate(192.41 173.24) scale(0.9 1)" stroke="#111" stroke-width="0.35">**</text>
<line x1="46.7" y1="167.2" x2="46.7" y2="271.9" stroke="#111" stroke-width="1.2"/>
<line x1="43.2" y1="271.3" x2="46.7" y2="271.3" stroke="#111" stroke-width="1.2"/>
<text x="0" y="0" font-size="8.03" font-weight="bold" text-anchor="end" fill="#111" transform="translate(40.3 274.11) scale(0.9 1)" stroke="#111" stroke-width="0.35">0</text>
<line x1="43.2" y1="250.48" x2="46.7" y2="250.48" stroke="#111" stroke-width="1.2"/>
<text x="0" y="0" font-size="8.03" font-weight="bold" text-anchor="end" fill="#111" transform="translate(40.3 253.29) scale(0.9 1)" stroke="#111" stroke-width="0.35">10</text>
<line x1="43.2" y1="229.66" x2="46.7" y2="229.66" stroke="#111" stroke-width="1.2"/>
<text x="0" y="0" font-size="8.03" font-weight="bold" text-anchor="end" fill="#111" transform="translate(40.3 232.47) scale(0.9 1)" stroke="#111" stroke-width="0.35">20</text>
<line x1="43.2" y1="208.84" x2="46.7" y2="208.84" stroke="#111" stroke-width="1.2"/>
<text x="0" y="0" font-size="8.03" font-weight="bold" text-anchor="end" fill="#111" transform="translate(40.3 211.65) scale(0.9 1)" stroke="#111" stroke-width="0.35">30</text>
<line x1="43.2" y1="188.02" x2="46.7" y2="188.02" stroke="#111" stroke-width="1.2"/>
<text x="0" y="0" font-size="8.03" font-weight="bold" text-anchor="end" fill="#111" transform="translate(40.3 190.83) scale(0.9 1)" stroke="#111" stroke-width="0.35">40</text>
<line x1="43.2" y1="167.2" x2="46.7" y2="167.2" stroke="#111" stroke-width="1.2"/>
<text x="0" y="0" font-size="8.03" font-weight="bold" text-anchor="end" fill="#111" transform="translate(40.3 170.01) scale(0.9 1)" stroke="#111" stroke-width="0.35">50</text>
<line x1="46.7" y1="271.3" x2="203.5" y2="271.3" stroke="#111" stroke-width="1.2"/>
<line x1="56.4" y1="271.3" x2="56.4" y2="274.6" stroke="#111" stroke-width="1.2"/>
<text x="0" y="0" font-size="8.03" font-weight="bold" text-anchor="middle" fill="#111" transform="translate(56.4 284.81) scale(0.9 1)" stroke="#111" stroke-width="0.35">0</text>
<line x1="75.83" y1="271.3" x2="75.83" y2="274.6" stroke="#111" stroke-width="1.2"/>
<text x="0" y="0" font-size="8.03" font-weight="bold" text-anchor="middle" fill="#111" transform="translate(75.83 284.81) scale(0.9 1)" stroke="#111" stroke-width="0.35">1</text>
<line x1="95.26" y1="271.3" x2="95.26" y2="274.6" stroke="#111" stroke-width="1.2"/>
<text x="0" y="0" font-size="8.03" font-weight="bold" text-anchor="middle" fill="#111" transform="translate(95.26 284.81) scale(0.9 1)" stroke="#111" stroke-width="0.35">2</text>
<line x1="114.69" y1="271.3" x2="114.69" y2="274.6" stroke="#111" stroke-width="1.2"/>
<text x="0" y="0" font-size="8.03" font-weight="bold" text-anchor="middle" fill="#111" transform="translate(114.69 284.81) scale(0.9 1)" stroke="#111" stroke-width="0.35">3</text>
<line x1="134.12" y1="271.3" x2="134.12" y2="274.6" stroke="#111" stroke-width="1.2"/>
<text x="0" y="0" font-size="8.03" font-weight="bold" text-anchor="middle" fill="#111" transform="translate(134.12 284.81) scale(0.9 1)" stroke="#111" stroke-width="0.35">4</text>
<line x1="153.55" y1="271.3" x2="153.55" y2="274.6" stroke="#111" stroke-width="1.2"/>
<text x="0" y="0" font-size="8.03" font-weight="bold" text-anchor="middle" fill="#111" transform="translate(153.55 284.81) scale(0.9 1)" stroke="#111" stroke-width="0.35">5</text>
<line x1="172.98" y1="271.3" x2="172.98" y2="274.6" stroke="#111" stroke-width="1.2"/>
<text x="0" y="0" font-size="8.03" font-weight="bold" text-anchor="middle" fill="#111" transform="translate(172.98 284.81) scale(0.9 1)" stroke="#111" stroke-width="0.35">6</text>
<line x1="192.41" y1="271.3" x2="192.41" y2="274.6" stroke="#111" stroke-width="1.2"/>
<text x="0" y="0" font-size="8.03" font-weight="bold" text-anchor="middle" fill="#111" transform="translate(192.41 284.81) scale(0.9 1)" stroke="#111" stroke-width="0.35">7</text>
<text x="0" y="0" font-size="9.46" font-weight="bold" text-anchor="middle" fill="#111" transform="translate(124.41 296.01) scale(0.9 1)" stroke="#111" stroke-width="0.35">Days</text>
<text x="0" y="0" font-size="10.78" font-weight="bold" text-anchor="middle" fill="#111" transform="translate(128.6 162.17) scale(0.9 1)" stroke="#111" stroke-width="0.35">HEY</text>
<text x="0" y="0" font-size="8.4" font-weight="bold" text-anchor="middle" fill="#111" transform="translate(27.22 219.25) rotate(-90)" stroke="#111" stroke-width="0.35">Relative cell viability</text>
<line x1="57.7" y1="173.5" x2="69.3" y2="173.5" stroke="#1d4f91" stroke-width="1.3"/>
<circle cx="63.5" cy="173.5" r="1.95" fill="#1d4f91"/>
<text x="0" y="0" font-size="9.24" text-anchor="start" fill="#111" transform="translate(75.3 176.73) scale(0.9 1)">si-NC</text>
<line x1="57.7" y1="187" x2="69.3" y2="187" stroke="#f59fd0" stroke-width="1.3"/>
<rect x="61.8" y="185.3" width="3.4" height="3.4" fill="#f59fd0" stroke="none" stroke-width="1"/>
<text x="0" y="0" font-size="9.24" text-anchor="start" fill="#111" transform="translate(75.3 190.23) scale(0.9 1)">si-<tspan font-style="italic">SNRPE</tspan>#1</text>
<line x1="57.7" y1="202" x2="69.3" y2="202" stroke="#f7a24c" stroke-width="1.3"/>
<polygon points="63.5,199.79 61.07,203.77 65.93,203.77" fill="#f7a24c"/>
<text x="0" y="0" font-size="9.24" text-anchor="start" fill="#111" transform="translate(75.3 205.23) scale(0.9 1)">si-<tspan font-style="italic">SNRPE</tspan>#2</text>
<line x1="304.23" y1="268.18" x2="304.23" y2="267.14" stroke="#f7a24c" stroke-width="1"/>
<line x1="301.23" y1="267.14" x2="307.23" y2="267.14" stroke="#f7a24c" stroke-width="1"/>
<line x1="301.23" y1="268.18" x2="307.23" y2="268.18" stroke="#f7a24c" stroke-width="1"/>
<line x1="323.66" y1="267.14" x2="323.66" y2="266.1" stroke="#f7a24c" stroke-width="1"/>
<line x1="320.66" y1="266.1" x2="326.66" y2="266.1" stroke="#f7a24c" stroke-width="1"/>
<line x1="320.66" y1="267.14" x2="326.66" y2="267.14" stroke="#f7a24c" stroke-width="1"/>
<line x1="343.09" y1="266.62" x2="343.09" y2="265.57" stroke="#f7a24c" stroke-width="1"/>
<line x1="340.09" y1="265.57" x2="346.09" y2="265.57" stroke="#f7a24c" stroke-width="1"/>
<line x1="340.09" y1="266.62" x2="346.09" y2="266.62" stroke="#f7a24c" stroke-width="1"/>
<line x1="362.52" y1="265.31" x2="362.52" y2="263.75" stroke="#f7a24c" stroke-width="1"/>
<line x1="359.52" y1="263.75" x2="365.52" y2="263.75" stroke="#f7a24c" stroke-width="1"/>
<line x1="359.52" y1="265.31" x2="365.52" y2="265.31" stroke="#f7a24c" stroke-width="1"/>
<line x1="381.95" y1="263.75" x2="381.95" y2="262.19" stroke="#f7a24c" stroke-width="1"/>
<line x1="378.95" y1="262.19" x2="384.95" y2="262.19" stroke="#f7a24c" stroke-width="1"/>
<line x1="378.95" y1="263.75" x2="384.95" y2="263.75" stroke="#f7a24c" stroke-width="1"/>
<line x1="401.38" y1="265.83" x2="401.38" y2="264.27" stroke="#f7a24c" stroke-width="1"/>
<line x1="398.38" y1="264.27" x2="404.38" y2="264.27" stroke="#f7a24c" stroke-width="1"/>
<line x1="398.38" y1="265.83" x2="404.38" y2="265.83" stroke="#f7a24c" stroke-width="1"/>
<line x1="420.81" y1="262.71" x2="420.81" y2="261.15" stroke="#f7a24c" stroke-width="1"/>
<line x1="417.81" y1="261.15" x2="423.81" y2="261.15" stroke="#f7a24c" stroke-width="1"/>
<line x1="417.81" y1="262.71" x2="423.81" y2="262.71" stroke="#f7a24c" stroke-width="1"/>
<polyline points="284.8,268.7 304.23,267.66 323.66,266.62 343.09,266.1 362.52,264.53 381.95,262.97 401.38,265.05 420.81,261.93" stroke="#f7a24c" stroke-width="1.3" fill="none"/>
<polygon points="284.8,266.1 281.94,270.78 287.66,270.78" fill="#f7a24c"/>
<polygon points="304.23,265.06 301.37,269.74 307.09,269.74" fill="#f7a24c"/>
<polygon points="323.66,264.02 320.8,268.7 326.52,268.7" fill="#f7a24c"/>
<polygon points="343.09,263.5 340.23,268.18 345.95,268.18" fill="#f7a24c"/>
<polygon points="362.52,261.93 359.66,266.61 365.38,266.61" fill="#f7a24c"/>
<polygon points="381.95,260.37 379.09,265.05 384.81,265.05" fill="#f7a24c"/>
<polygon points="401.38,262.45 398.52,267.13 404.24,267.13" fill="#f7a24c"/>
<polygon points="420.81,259.33 417.95,264.01 423.67,264.01" fill="#f7a24c"/>
<line x1="304.23" y1="268.44" x2="304.23" y2="267.4" stroke="#f59fd0" stroke-width="1"/>
<line x1="301.23" y1="267.4" x2="307.23" y2="267.4" stroke="#f59fd0" stroke-width="1"/>
<line x1="301.23" y1="268.44" x2="307.23" y2="268.44" stroke="#f59fd0" stroke-width="1"/>
<line x1="323.66" y1="267.66" x2="323.66" y2="266.62" stroke="#f59fd0" stroke-width="1"/>
<line x1="320.66" y1="266.62" x2="326.66" y2="266.62" stroke="#f59fd0" stroke-width="1"/>
<line x1="320.66" y1="267.66" x2="326.66" y2="267.66" stroke="#f59fd0" stroke-width="1"/>
<line x1="343.09" y1="267.14" x2="343.09" y2="266.1" stroke="#f59fd0" stroke-width="1"/>
<line x1="340.09" y1="266.1" x2="346.09" y2="266.1" stroke="#f59fd0" stroke-width="1"/>
<line x1="340.09" y1="267.14" x2="346.09" y2="267.14" stroke="#f59fd0" stroke-width="1"/>
<line x1="362.52" y1="266.1" x2="362.52" y2="264.53" stroke="#f59fd0" stroke-width="1"/>
<line x1="359.52" y1="264.53" x2="365.52" y2="264.53" stroke="#f59fd0" stroke-width="1"/>
<line x1="359.52" y1="266.1" x2="365.52" y2="266.1" stroke="#f59fd0" stroke-width="1"/>
<line x1="381.95" y1="264.79" x2="381.95" y2="263.75" stroke="#f59fd0" stroke-width="1"/>
<line x1="378.95" y1="263.75" x2="384.95" y2="263.75" stroke="#f59fd0" stroke-width="1"/>
<line x1="378.95" y1="264.79" x2="384.95" y2="264.79" stroke="#f59fd0" stroke-width="1"/>
<line x1="401.38" y1="267.66" x2="401.38" y2="266.1" stroke="#f59fd0" stroke-width="1"/>
<line x1="398.38" y1="266.1" x2="404.38" y2="266.1" stroke="#f59fd0" stroke-width="1"/>
<line x1="398.38" y1="267.66" x2="404.38" y2="267.66" stroke="#f59fd0" stroke-width="1"/>
<line x1="420.81" y1="265.83" x2="420.81" y2="264.27" stroke="#f59fd0" stroke-width="1"/>
<line x1="417.81" y1="264.27" x2="423.81" y2="264.27" stroke="#f59fd0" stroke-width="1"/>
<line x1="417.81" y1="265.83" x2="423.81" y2="265.83" stroke="#f59fd0" stroke-width="1"/>
<polyline points="284.8,268.7 304.23,267.92 323.66,267.14 343.09,266.62 362.52,265.31 381.95,264.27 401.38,266.88 420.81,265.05" stroke="#f59fd0" stroke-width="1.3" fill="none"/>
<rect x="282.8" y="266.7" width="4" height="4" fill="#f59fd0" stroke="none" stroke-width="1"/>
<rect x="302.23" y="265.92" width="4" height="4" fill="#f59fd0" stroke="none" stroke-width="1"/>
<rect x="321.66" y="265.14" width="4" height="4" fill="#f59fd0" stroke="none" stroke-width="1"/>
<rect x="341.09" y="264.62" width="4" height="4" fill="#f59fd0" stroke="none" stroke-width="1"/>
<rect x="360.52" y="263.31" width="4" height="4" fill="#f59fd0" stroke="none" stroke-width="1"/>
<rect x="379.95" y="262.27" width="4" height="4" fill="#f59fd0" stroke="none" stroke-width="1"/>
<rect x="399.38" y="264.88" width="4" height="4" fill="#f59fd0" stroke="none" stroke-width="1"/>
<rect x="418.81" y="263.05" width="4" height="4" fill="#f59fd0" stroke="none" stroke-width="1"/>
<line x1="284.8" y1="269.48" x2="284.8" y2="267.92" stroke="#1d4f91" stroke-width="1"/>
<line x1="281.8" y1="267.92" x2="287.8" y2="267.92" stroke="#1d4f91" stroke-width="1"/>
<line x1="281.8" y1="269.48" x2="287.8" y2="269.48" stroke="#1d4f91" stroke-width="1"/>
<line x1="304.23" y1="267.92" x2="304.23" y2="266.36" stroke="#1d4f91" stroke-width="1"/>
<line x1="301.23" y1="266.36" x2="307.23" y2="266.36" stroke="#1d4f91" stroke-width="1"/>
<line x1="301.23" y1="267.92" x2="307.23" y2="267.92" stroke="#1d4f91" stroke-width="1"/>
<line x1="323.66" y1="266.1" x2="323.66" y2="264.53" stroke="#1d4f91" stroke-width="1"/>
<line x1="320.66" y1="264.53" x2="326.66" y2="264.53" stroke="#1d4f91" stroke-width="1"/>
<line x1="320.66" y1="266.1" x2="326.66" y2="266.1" stroke="#1d4f91" stroke-width="1"/>
<line x1="343.09" y1="262.97" x2="343.09" y2="261.41" stroke="#1d4f91" stroke-width="1"/>
<line x1="340.09" y1="261.41" x2="346.09" y2="261.41" stroke="#1d4f91" stroke-width="1"/>
<line x1="340.09" y1="262.97" x2="346.09" y2="262.97" stroke="#1d4f91" stroke-width="1"/>
<line x1="362.52" y1="258.55" x2="362.52" y2="251.26" stroke="#1d4f91" stroke-width="1"/>
<line x1="359.52" y1="251.26" x2="365.52" y2="251.26" stroke="#1d4f91" stroke-width="1"/>
<line x1="359.52" y1="258.55" x2="365.52" y2="258.55" stroke="#1d4f91" stroke-width="1"/>
<line x1="381.95" y1="253.86" x2="381.95" y2="245.01" stroke="#1d4f91" stroke-width="1"/>
<line x1="378.95" y1="245.01" x2="384.95" y2="245.01" stroke="#1d4f91" stroke-width="1"/>
<line x1="378.95" y1="253.86" x2="384.95" y2="253.86" stroke="#1d4f91" stroke-width="1"/>
<line x1="401.38" y1="240.07" x2="401.38" y2="229.66" stroke="#1d4f91" stroke-width="1"/>
<line x1="398.38" y1="229.66" x2="404.38" y2="229.66" stroke="#1d4f91" stroke-width="1"/>
<line x1="398.38" y1="240.07" x2="404.38" y2="240.07" stroke="#1d4f91" stroke-width="1"/>
<line x1="420.81" y1="196.35" x2="420.81" y2="193.75" stroke="#1d4f91" stroke-width="1"/>
<line x1="417.81" y1="193.75" x2="423.81" y2="193.75" stroke="#1d4f91" stroke-width="1"/>
<line x1="417.81" y1="196.35" x2="423.81" y2="196.35" stroke="#1d4f91" stroke-width="1"/>
<polyline points="284.8,268.7 304.23,267.14 323.66,265.31 343.09,262.19 362.52,254.9 381.95,249.44 401.38,234.87 420.81,195.05" stroke="#1d4f91" stroke-width="1.3" fill="none"/>
<circle cx="284.8" cy="268.7" r="2.3" fill="#1d4f91"/>
<circle cx="304.23" cy="267.14" r="2.3" fill="#1d4f91"/>
<circle cx="323.66" cy="265.31" r="2.3" fill="#1d4f91"/>
<circle cx="343.09" cy="262.19" r="2.3" fill="#1d4f91"/>
<circle cx="362.52" cy="254.9" r="2.3" fill="#1d4f91"/>
<circle cx="381.95" cy="249.44" r="2.3" fill="#1d4f91"/>
<circle cx="401.38" cy="234.87" r="2.3" fill="#1d4f91"/>
<circle cx="420.81" cy="195.05" r="2.3" fill="#1d4f91"/>
<text x="0" y="0" font-size="9.9" font-weight="bold" text-anchor="middle" fill="#111" transform="translate(323.66 262.03) scale(0.9 1)" stroke="#111" stroke-width="0.35">*</text>
<text x="0" y="0" font-size="9.9" font-weight="bold" text-anchor="middle" fill="#111" transform="translate(343.09 258.91) scale(0.9 1)" stroke="#111" stroke-width="0.35">**</text>
<text x="0" y="0" font-size="9.9" font-weight="bold" text-anchor="middle" fill="#111" transform="translate(362.52 248.76) scale(0.9 1)" stroke="#111" stroke-width="0.35">**</text>
<text x="0" y="0" font-size="9.9" font-weight="bold" text-anchor="middle" fill="#111" transform="translate(381.95 242.51) scale(0.9 1)" stroke="#111" stroke-width="0.35">**</text>
<text x="0" y="0" font-size="9.9" font-weight="bold" text-anchor="middle" fill="#111" transform="translate(401.38 227.16) scale(0.9 1)" stroke="#111" stroke-width="0.35">**</text>
<text x="0" y="0" font-size="9.9" font-weight="bold" text-anchor="middle" fill="#111" transform="translate(420.81 191.25) scale(0.9 1)" stroke="#111" stroke-width="0.35">**</text>
<line x1="275.4" y1="167.2" x2="275.4" y2="271.9" stroke="#111" stroke-width="1.2"/>
<line x1="271.9" y1="271.3" x2="275.4" y2="271.3" stroke="#111" stroke-width="1.2"/>
<text x="0" y="0" font-size="8.03" font-weight="bold" text-anchor="end" fill="#111" transform="translate(269 274.11) scale(0.9 1)" stroke="#111" stroke-width="0.35">0</text>
<line x1="271.9" y1="245.28" x2="275.4" y2="245.28" stroke="#111" stroke-width="1.2"/>
<text x="0" y="0" font-size="8.03" font-weight="bold" text-anchor="end" fill="#111" transform="translate(269 248.09) scale(0.9 1)" stroke="#111" stroke-width="0.35">10</text>
<line x1="271.9" y1="219.25" x2="275.4" y2="219.25" stroke="#111" stroke-width="1.2"/>
<text x="0" y="0" font-size="8.03" font-weight="bold" text-anchor="end" fill="#111" transform="translate(269 222.06) scale(0.9 1)" stroke="#111" stroke-width="0.35">20</text>
<line x1="271.9" y1="193.22" x2="275.4" y2="193.22" stroke="#111" stroke-width="1.2"/>
<text x="0" y="0" font-size="8.03" font-weight="bold" text-anchor="end" fill="#111" transform="translate(269 196.04) scale(0.9 1)" stroke="#111" stroke-width="0.35">30</text>
<line x1="271.9" y1="167.2" x2="275.4" y2="167.2" stroke="#111" stroke-width="1.2"/>
<text x="0" y="0" font-size="8.03" font-weight="bold" text-anchor="end" fill="#111" transform="translate(269 170.01) scale(0.9 1)" stroke="#111" stroke-width="0.35">40</text>
<line x1="275.4" y1="271.3" x2="430.5" y2="271.3" stroke="#111" stroke-width="1.2"/>
<line x1="284.8" y1="271.3" x2="284.8" y2="274.6" stroke="#111" stroke-width="1.2"/>
<text x="0" y="0" font-size="8.03" font-weight="bold" text-anchor="middle" fill="#111" transform="translate(284.8 284.81) scale(0.9 1)" stroke="#111" stroke-width="0.35">0</text>
<line x1="304.23" y1="271.3" x2="304.23" y2="274.6" stroke="#111" stroke-width="1.2"/>
<text x="0" y="0" font-size="8.03" font-weight="bold" text-anchor="middle" fill="#111" transform="translate(304.23 284.81) scale(0.9 1)" stroke="#111" stroke-width="0.35">1</text>
<line x1="323.66" y1="271.3" x2="323.66" y2="274.6" stroke="#111" stroke-width="1.2"/>
<text x="0" y="0" font-size="8.03" font-weight="bold" text-anchor="middle" fill="#111" transform="translate(323.66 284.81) scale(0.9 1)" stroke="#111" stroke-width="0.35">2</text>
<line x1="343.09" y1="271.3" x2="343.09" y2="274.6" stroke="#111" stroke-width="1.2"/>
<text x="0" y="0" font-size="8.03" font-weight="bold" text-anchor="middle" fill="#111" transform="translate(343.09 284.81) scale(0.9 1)" stroke="#111" stroke-width="0.35">3</text>
<line x1="362.52" y1="271.3" x2="362.52" y2="274.6" stroke="#111" stroke-width="1.2"/>
<text x="0" y="0" font-size="8.03" font-weight="bold" text-anchor="middle" fill="#111" transform="translate(362.52 284.81) scale(0.9 1)" stroke="#111" stroke-width="0.35">4</text>
<line x1="381.95" y1="271.3" x2="381.95" y2="274.6" stroke="#111" stroke-width="1.2"/>
<text x="0" y="0" font-size="8.03" font-weight="bold" text-anchor="middle" fill="#111" transform="translate(381.95 284.81) scale(0.9 1)" stroke="#111" stroke-width="0.35">5</text>
<line x1="401.38" y1="271.3" x2="401.38" y2="274.6" stroke="#111" stroke-width="1.2"/>
<text x="0" y="0" font-size="8.03" font-weight="bold" text-anchor="middle" fill="#111" transform="translate(401.38 284.81) scale(0.9 1)" stroke="#111" stroke-width="0.35">6</text>
<line x1="420.81" y1="271.3" x2="420.81" y2="274.6" stroke="#111" stroke-width="1.2"/>
<text x="0" y="0" font-size="8.03" font-weight="bold" text-anchor="middle" fill="#111" transform="translate(420.81 284.81) scale(0.9 1)" stroke="#111" stroke-width="0.35">7</text>
<text x="0" y="0" font-size="9.46" font-weight="bold" text-anchor="middle" fill="#111" transform="translate(352.81 296.01) scale(0.9 1)" stroke="#111" stroke-width="0.35">Days</text>
<text x="0" y="0" font-size="10.78" font-weight="bold" text-anchor="middle" fill="#111" transform="translate(354.3 162.17) scale(0.9 1)" stroke="#111" stroke-width="0.35">SKOV3</text>
<text x="0" y="0" font-size="8.4" font-weight="bold" text-anchor="middle" fill="#111" transform="translate(256.02 219.25) rotate(-90)" stroke="#111" stroke-width="0.35">Relative cell viability</text>
<line x1="286.4" y1="173.5" x2="298" y2="173.5" stroke="#1d4f91" stroke-width="1.3"/>
<circle cx="292.2" cy="173.5" r="1.95" fill="#1d4f91"/>
<text x="0" y="0" font-size="9.24" text-anchor="start" fill="#111" transform="translate(303.8 176.73) scale(0.9 1)">si-NC</text>
<line x1="286.4" y1="187" x2="298" y2="187" stroke="#f59fd0" stroke-width="1.3"/>
<rect x="290.5" y="185.3" width="3.4" height="3.4" fill="#f59fd0" stroke="none" stroke-width="1"/>
<text x="0" y="0" font-size="9.24" text-anchor="start" fill="#111" transform="translate(303.8 190.23) scale(0.9 1)">si-<tspan font-style="italic">SNRPE</tspan>#1</text>
<line x1="286.4" y1="202" x2="298" y2="202" stroke="#f7a24c" stroke-width="1.3"/>
<polygon points="292.2,199.79 289.77,203.77 294.63,203.77" fill="#f7a24c"/>
<text x="0" y="0" font-size="9.24" text-anchor="start" fill="#111" transform="translate(303.8 205.23) scale(0.9 1)">si-<tspan font-style="italic">SNRPE</tspan>#2</text>
<line x1="532.54" y1="260.89" x2="532.54" y2="259.85" stroke="#f7a24c" stroke-width="1"/>
<line x1="529.54" y1="259.85" x2="535.54" y2="259.85" stroke="#f7a24c" stroke-width="1"/>
<line x1="529.54" y1="260.89" x2="535.54" y2="260.89" stroke="#f7a24c" stroke-width="1"/>
<line x1="552.08" y1="260.89" x2="552.08" y2="258.81" stroke="#f7a24c" stroke-width="1"/>
<line x1="549.08" y1="258.81" x2="555.08" y2="258.81" stroke="#f7a24c" stroke-width="1"/>
<line x1="549.08" y1="260.89" x2="555.08" y2="260.89" stroke="#f7a24c" stroke-width="1"/>
<line x1="571.62" y1="256.21" x2="571.62" y2="252.04" stroke="#f7a24c" stroke-width="1"/>
<line x1="568.62" y1="252.04" x2="574.62" y2="252.04" stroke="#f7a24c" stroke-width="1"/>
<line x1="568.62" y1="256.21" x2="574.62" y2="256.21" stroke="#f7a24c" stroke-width="1"/>
<line x1="591.16" y1="257.25" x2="591.16" y2="254.12" stroke="#f7a24c" stroke-width="1"/>
<line x1="588.16" y1="254.12" x2="594.16" y2="254.12" stroke="#f7a24c" stroke-width="1"/>
<line x1="588.16" y1="257.25" x2="594.16" y2="257.25" stroke="#f7a24c" stroke-width="1"/>
<line x1="610.7" y1="257.77" x2="610.7" y2="255.69" stroke="#f7a24c" stroke-width="1"/>
<line x1="607.7" y1="255.69" x2="613.7" y2="255.69" stroke="#f7a24c" stroke-width="1"/>
<line x1="607.7" y1="257.77" x2="613.7" y2="257.77" stroke="#f7a24c" stroke-width="1"/>
<line x1="630.24" y1="262.97" x2="630.24" y2="260.89" stroke="#f7a24c" stroke-width="1"/>
<line x1="627.24" y1="260.89" x2="633.24" y2="260.89" stroke="#f7a24c" stroke-width="1"/>
<line x1="627.24" y1="262.97" x2="633.24" y2="262.97" stroke="#f7a24c" stroke-width="1"/>
<line x1="649.78" y1="259.85" x2="649.78" y2="257.77" stroke="#f7a24c" stroke-width="1"/>
<line x1="646.78" y1="257.77" x2="652.78" y2="257.77" stroke="#f7a24c" stroke-width="1"/>
<line x1="646.78" y1="259.85" x2="652.78" y2="259.85" stroke="#f7a24c" stroke-width="1"/>
<polyline points="513,266.1 532.54,260.37 552.08,259.85 571.62,254.12 591.16,255.69 610.7,256.73 630.24,261.93 649.78,258.81" stroke="#f7a24c" stroke-width="1.3" fill="none"/>
<polygon points="513,263.5 510.14,268.18 515.86,268.18" fill="#f7a24c"/>
<polygon points="532.54,257.77 529.68,262.45 535.4,262.45" fill="#f7a24c"/>
<polygon points="552.08,257.25 549.22,261.93 554.94,261.93" fill="#f7a24c"/>
<polygon points="571.62,251.52 568.76,256.2 574.48,256.2" fill="#f7a24c"/>
<polygon points="591.16,253.09 588.3,257.76 594.02,257.76" fill="#f7a24c"/>
<polygon points="610.7,254.13 607.84,258.81 613.56,258.81" fill="#f7a24c"/>
<polygon points="630.24,259.33 627.38,264.01 633.1,264.01" fill="#f7a24c"/>
<polygon points="649.78,256.21 646.92,260.89 652.64,260.89" fill="#f7a24c"/>
<line x1="532.54" y1="261.41" x2="532.54" y2="260.37" stroke="#f59fd0" stroke-width="1"/>
<line x1="529.54" y1="260.37" x2="535.54" y2="260.37" stroke="#f59fd0" stroke-width="1"/>
<line x1="529.54" y1="261.41" x2="535.54" y2="261.41" stroke="#f59fd0" stroke-width="1"/>
<line x1="552.08" y1="260.89" x2="552.08" y2="258.81" stroke="#f59fd0" stroke-width="1"/>
<line x1="549.08" y1="258.81" x2="555.08" y2="258.81" stroke="#f59fd0" stroke-width="1"/>
<line x1="549.08" y1="260.89" x2="555.08" y2="260.89" stroke="#f59fd0" stroke-width="1"/>
<line x1="571.62" y1="257.25" x2="571.62" y2="253.08" stroke="#f59fd0" stroke-width="1"/>
<line x1="568.62" y1="253.08" x2="574.62" y2="253.08" stroke="#f59fd0" stroke-width="1"/>
<line x1="568.62" y1="257.25" x2="574.62" y2="257.25" stroke="#f59fd0" stroke-width="1"/>
<line x1="591.16" y1="259.33" x2="591.16" y2="256.21" stroke="#f59fd0" stroke-width="1"/>
<line x1="588.16" y1="256.21" x2="594.16" y2="256.21" stroke="#f59fd0" stroke-width="1"/>
<line x1="588.16" y1="259.33" x2="594.16" y2="259.33" stroke="#f59fd0" stroke-width="1"/>
<line x1="610.7" y1="259.33" x2="610.7" y2="257.25" stroke="#f59fd0" stroke-width="1"/>
<line x1="607.7" y1="257.25" x2="613.7" y2="257.25" stroke="#f59fd0" stroke-width="1"/>
<line x1="607.7" y1="259.33" x2="613.7" y2="259.33" stroke="#f59fd0" stroke-width="1"/>
<line x1="630.24" y1="264.53" x2="630.24" y2="262.45" stroke="#f59fd0" stroke-width="1"/>
<line x1="627.24" y1="262.45" x2="633.24" y2="262.45" stroke="#f59fd0" stroke-width="1"/>
<line x1="627.24" y1="264.53" x2="633.24" y2="264.53" stroke="#f59fd0" stroke-width="1"/>
<line x1="649.78" y1="258.81" x2="649.78" y2="256.73" stroke="#f59fd0" stroke-width="1"/>
<line x1="646.78" y1="256.73" x2="652.78" y2="256.73" stroke="#f59fd0" stroke-width="1"/>
<line x1="646.78" y1="258.81" x2="652.78" y2="258.81" stroke="#f59fd0" stroke-width="1"/>
<polyline points="513,266.1 532.54,260.89 552.08,259.85 571.62,255.16 591.16,257.77 610.7,258.29 630.24,263.49 649.78,257.77" stroke="#f59fd0" stroke-width="1.3" fill="none"/>
<rect x="511" y="264.1" width="4" height="4" fill="#f59fd0" stroke="none" stroke-width="1"/>
<rect x="530.54" y="258.89" width="4" height="4" fill="#f59fd0" stroke="none" stroke-width="1"/>
<rect x="550.08" y="257.85" width="4" height="4" fill="#f59fd0" stroke="none" stroke-width="1"/>
<rect x="569.62" y="253.16" width="4" height="4" fill="#f59fd0" stroke="none" stroke-width="1"/>
<rect x="589.16" y="255.77" width="4" height="4" fill="#f59fd0" stroke="none" stroke-width="1"/>
<rect x="608.7" y="256.29" width="4" height="4" fill="#f59fd0" stroke="none" stroke-width="1"/>
<rect x="628.24" y="261.49" width="4" height="4" fill="#f59fd0" stroke="none" stroke-width="1"/>
<rect x="647.78" y="255.77" width="4" height="4" fill="#f59fd0" stroke="none" stroke-width="1"/>
<line x1="513" y1="266.62" x2="513" y2="265.57" stroke="#1d4f91" stroke-width="1"/>
<line x1="510" y1="265.57" x2="516" y2="265.57" stroke="#1d4f91" stroke-width="1"/>
<line x1="510" y1="266.62" x2="516" y2="266.62" stroke="#1d4f91" stroke-width="1"/>
<line x1="532.54" y1="259.85" x2="532.54" y2="257.77" stroke="#1d4f91" stroke-width="1"/>
<line x1="529.54" y1="257.77" x2="535.54" y2="257.77" stroke="#1d4f91" stroke-width="1"/>
<line x1="529.54" y1="259.85" x2="535.54" y2="259.85" stroke="#1d4f91" stroke-width="1"/>
<line x1="552.08" y1="254.12" x2="552.08" y2="252.04" stroke="#1d4f91" stroke-width="1"/>
<line x1="549.08" y1="252.04" x2="555.08" y2="252.04" stroke="#1d4f91" stroke-width="1"/>
<line x1="549.08" y1="254.12" x2="555.08" y2="254.12" stroke="#1d4f91" stroke-width="1"/>
<line x1="571.62" y1="239.03" x2="571.62" y2="236.95" stroke="#1d4f91" stroke-width="1"/>
<line x1="568.62" y1="236.95" x2="574.62" y2="236.95" stroke="#1d4f91" stroke-width="1"/>
<line x1="568.62" y1="239.03" x2="574.62" y2="239.03" stroke="#1d4f91" stroke-width="1"/>
<line x1="591.16" y1="228.1" x2="591.16" y2="220.81" stroke="#1d4f91" stroke-width="1"/>
<line x1="588.16" y1="220.81" x2="594.16" y2="220.81" stroke="#1d4f91" stroke-width="1"/>
<line x1="588.16" y1="228.1" x2="594.16" y2="228.1" stroke="#1d4f91" stroke-width="1"/>
<line x1="610.7" y1="208.32" x2="610.7" y2="196.87" stroke="#1d4f91" stroke-width="1"/>
<line x1="607.7" y1="196.87" x2="613.7" y2="196.87" stroke="#1d4f91" stroke-width="1"/>
<line x1="607.7" y1="208.32" x2="613.7" y2="208.32" stroke="#1d4f91" stroke-width="1"/>
<line x1="630.24" y1="215.09" x2="630.24" y2="199.47" stroke="#1d4f91" stroke-width="1"/>
<line x1="627.24" y1="199.47" x2="633.24" y2="199.47" stroke="#1d4f91" stroke-width="1"/>
<line x1="627.24" y1="215.09" x2="633.24" y2="215.09" stroke="#1d4f91" stroke-width="1"/>
<line x1="649.78" y1="215.09" x2="649.78" y2="200.51" stroke="#1d4f91" stroke-width="1"/>
<line x1="646.78" y1="200.51" x2="652.78" y2="200.51" stroke="#1d4f91" stroke-width="1"/>
<line x1="646.78" y1="215.09" x2="652.78" y2="215.09" stroke="#1d4f91" stroke-width="1"/>
<polyline points="513,266.1 532.54,258.81 552.08,253.08 571.62,237.99 591.16,224.46 610.7,202.59 630.24,207.28 649.78,207.8" stroke="#1d4f91" stroke-width="1.3" fill="none"/>
<circle cx="513" cy="266.1" r="2.3" fill="#1d4f91"/>
<circle cx="532.54" cy="258.81" r="2.3" fill="#1d4f91"/>
<circle cx="552.08" cy="253.08" r="2.3" fill="#1d4f91"/>
<circle cx="571.62" cy="237.99" r="2.3" fill="#1d4f91"/>
<circle cx="591.16" cy="224.46" r="2.3" fill="#1d4f91"/>
<circle cx="610.7" cy="202.59" r="2.3" fill="#1d4f91"/>
<circle cx="630.24" cy="207.28" r="2.3" fill="#1d4f91"/>
<circle cx="649.78" cy="207.8" r="2.3" fill="#1d4f91"/>
<text x="0" y="0" font-size="9.9" font-weight="bold" text-anchor="middle" fill="#111" transform="translate(552.08 249.54) scale(0.9 1)" stroke="#111" stroke-width="0.35">**</text>
<text x="0" y="0" font-size="9.9" font-weight="bold" text-anchor="middle" fill="#111" transform="translate(571.62 234.45) scale(0.9 1)" stroke="#111" stroke-width="0.35">**</text>
<text x="0" y="0" font-size="9.9" font-weight="bold" text-anchor="middle" fill="#111" transform="translate(591.16 218.31) scale(0.9 1)" stroke="#111" stroke-width="0.35">**</text>
<text x="0" y="0" font-size="9.9" font-weight="bold" text-anchor="middle" fill="#111" transform="translate(610.7 194.37) scale(0.9 1)" stroke="#111" stroke-width="0.35">**</text>
<text x="0" y="0" font-size="9.9" font-weight="bold" text-anchor="middle" fill="#111" transform="translate(630.24 196.97) scale(0.9 1)" stroke="#111" stroke-width="0.35">**</text>
<text x="0" y="0" font-size="9.9" font-weight="bold" text-anchor="middle" fill="#111" transform="translate(649.78 198.01) scale(0.9 1)" stroke="#111" stroke-width="0.35">**</text>
<line x1="503.7" y1="167.2" x2="503.7" y2="271.9" stroke="#111" stroke-width="1.2"/>
<line x1="500.2" y1="271.3" x2="503.7" y2="271.3" stroke="#111" stroke-width="1.2"/>
<text x="0" y="0" font-size="8.03" font-weight="bold" text-anchor="end" fill="#111" transform="translate(497.3 274.11) scale(0.9 1)" stroke="#111" stroke-width="0.35">0</text>
<line x1="500.2" y1="245.28" x2="503.7" y2="245.28" stroke="#111" stroke-width="1.2"/>
<text x="0" y="0" font-size="8.03" font-weight="bold" text-anchor="end" fill="#111" transform="translate(497.3 248.09) scale(0.9 1)" stroke="#111" stroke-width="0.35">5</text>
<line x1="500.2" y1="219.25" x2="503.7" y2="219.25" stroke="#111" stroke-width="1.2"/>
<text x="0" y="0" font-size="8.03" font-weight="bold" text-anchor="end" fill="#111" transform="translate(497.3 222.06) scale(0.9 1)" stroke="#111" stroke-width="0.35">10</text>
<line x1="500.2" y1="193.22" x2="503.7" y2="193.22" stroke="#111" stroke-width="1.2"/>
<text x="0" y="0" font-size="8.03" font-weight="bold" text-anchor="end" fill="#111" transform="translate(497.3 196.04) scale(0.9 1)" stroke="#111" stroke-width="0.35">15</text>
<line x1="500.2" y1="167.2" x2="503.7" y2="167.2" stroke="#111" stroke-width="1.2"/>
<text x="0" y="0" font-size="8.03" font-weight="bold" text-anchor="end" fill="#111" transform="translate(497.3 170.01) scale(0.9 1)" stroke="#111" stroke-width="0.35">20</text>
<line x1="503.7" y1="271.3" x2="660.5" y2="271.3" stroke="#111" stroke-width="1.2"/>
<line x1="513" y1="271.3" x2="513" y2="274.6" stroke="#111" stroke-width="1.2"/>
<text x="0" y="0" font-size="8.03" font-weight="bold" text-anchor="middle" fill="#111" transform="translate(513 284.81) scale(0.9 1)" stroke="#111" stroke-width="0.35">0</text>
<line x1="532.54" y1="271.3" x2="532.54" y2="274.6" stroke="#111" stroke-width="1.2"/>
<text x="0" y="0" font-size="8.03" font-weight="bold" text-anchor="middle" fill="#111" transform="translate(532.54 284.81) scale(0.9 1)" stroke="#111" stroke-width="0.35">1</text>
<line x1="552.08" y1="271.3" x2="552.08" y2="274.6" stroke="#111" stroke-width="1.2"/>
<text x="0" y="0" font-size="8.03" font-weight="bold" text-anchor="middle" fill="#111" transform="translate(552.08 284.81) scale(0.9 1)" stroke="#111" stroke-width="0.35">2</text>
<line x1="571.62" y1="271.3" x2="571.62" y2="274.6" stroke="#111" stroke-width="1.2"/>
<text x="0" y="0" font-size="8.03" font-weight="bold" text-anchor="middle" fill="#111" transform="translate(571.62 284.81) scale(0.9 1)" stroke="#111" stroke-width="0.35">3</text>
<line x1="591.16" y1="271.3" x2="591.16" y2="274.6" stroke="#111" stroke-width="1.2"/>
<text x="0" y="0" font-size="8.03" font-weight="bold" text-anchor="middle" fill="#111" transform="translate(591.16 284.81) scale(0.9 1)" stroke="#111" stroke-width="0.35">4</text>
<line x1="610.7" y1="271.3" x2="610.7" y2="274.6" stroke="#111" stroke-width="1.2"/>
<text x="0" y="0" font-size="8.03" font-weight="bold" text-anchor="middle" fill="#111" transform="translate(610.7 284.81) scale(0.9 1)" stroke="#111" stroke-width="0.35">5</text>
<line x1="630.24" y1="271.3" x2="630.24" y2="274.6" stroke="#111" stroke-width="1.2"/>
<text x="0" y="0" font-size="8.03" font-weight="bold" text-anchor="middle" fill="#111" transform="translate(630.24 284.81) scale(0.9 1)" stroke="#111" stroke-width="0.35">6</text>
<line x1="649.78" y1="271.3" x2="649.78" y2="274.6" stroke="#111" stroke-width="1.2"/>
<text x="0" y="0" font-size="8.03" font-weight="bold" text-anchor="middle" fill="#111" transform="translate(649.78 284.81) scale(0.9 1)" stroke="#111" stroke-width="0.35">7</text>
<text x="0" y="0" font-size="9.46" font-weight="bold" text-anchor="middle" fill="#111" transform="translate(581.39 296.01) scale(0.9 1)" stroke="#111" stroke-width="0.35">Days</text>
<text x="0" y="0" font-size="10.78" font-weight="bold" text-anchor="middle" fill="#111" transform="translate(584.3 162.17) scale(0.9 1)" stroke="#111" stroke-width="0.35">OVCAR8</text>
<text x="0" y="0" font-size="8.4" font-weight="bold" text-anchor="middle" fill="#111" transform="translate(484.52 219.25) rotate(-90)" stroke="#111" stroke-width="0.35">Relative cell viability</text>
<line x1="514.5" y1="173.5" x2="526.1" y2="173.5" stroke="#1d4f91" stroke-width="1.3"/>
<circle cx="520.3" cy="173.5" r="1.95" fill="#1d4f91"/>
<text x="0" y="0" font-size="9.24" text-anchor="start" fill="#111" transform="translate(531.7 176.73) scale(0.9 1)">si-NC</text>
<line x1="514.5" y1="187" x2="526.1" y2="187" stroke="#f59fd0" stroke-width="1.3"/>
<rect x="518.6" y="185.3" width="3.4" height="3.4" fill="#f59fd0" stroke="none" stroke-width="1"/>
<text x="0" y="0" font-size="9.24" text-anchor="start" fill="#111" transform="translate(531.7 190.23) scale(0.9 1)">si-<tspan font-style="italic">SNRPE</tspan>#1</text>
<line x1="514.5" y1="202" x2="526.1" y2="202" stroke="#f7a24c" stroke-width="1.3"/>
<polygon points="520.3,199.79 517.87,203.77 522.73,203.77" fill="#f7a24c"/>
<text x="0" y="0" font-size="9.24" text-anchor="start" fill="#111" transform="translate(531.7 205.23) scale(0.9 1)">si-<tspan font-style="italic">SNRPE</tspan>#2</text>
<text x="0" y="0" font-size="18.15" font-weight="bold" text-anchor="start" fill="#111" transform="translate(1 323.6) scale(0.9 1)" stroke="#111" stroke-width="0.35">D</text>
<line x1="16.2" y1="328.2" x2="16.2" y2="386.7" stroke="#111" stroke-width="1"/>
<text x="0" y="0" font-size="9.6" font-weight="bold" text-anchor="middle" fill="#111" transform="translate(11.9 355.5) rotate(-90)" stroke="#111" stroke-width="0.35">HEY</text>
<circle cx="52.6" cy="357.6" r="31.2" fill="#dadadc" stroke="#77777c" stroke-width="0.6"/>
<circle cx="52.6" cy="357.6" r="30.2" fill="none" stroke="#000" stroke-opacity="0.07" stroke-width="1.6"/>
<g filter="url(#cb)" stroke-linecap="round" fill="none"><path d="M24.5 347.5h0" stroke="#2c12bc" stroke-width="7.2"/><path d="M29.8 346.5h0M55.2 352.8h0" stroke="#2614c4" stroke-width="7.2"/><path d="M26.6 353.9h0" stroke="#2210b4" stroke-width="7.2"/><path d="M23.5 357.0h0M31.0 356.0h0" stroke="#2614c4" stroke-width="5.2"/><path d="M32.0 354.9h0" stroke="#3018c8" stroke-width="5.2"/><path d="M27.5 350.5h0" stroke="#3018c8" stroke-width="6.8"/><path d="M35.0 349.0h0M48.9 360.2h0M67.9 377.2h0M48.0 359.0h0" stroke="#3018c8" stroke-width="4.8"/><path d="M25.0 361.0h0M80.6 366.6h0M64.0 362.0h0" stroke="#3018c8" stroke-width="4"/><path d="M31.0 359.0h0" stroke="#2c12bc" stroke-width="4"/><path d="M46.8 353.9h0" stroke="#2614c4" stroke-width="5.6"/><path d="M51.0 356.0h0M59.5 358.1h0" stroke="#3018c8" stroke-width="7.2"/><path d="M54.2 361.3h0M25.0 357.0h0" stroke="#3018c8" stroke-width="5.6"/><path d="M63.7 363.4h0M73.2 346.5h0" stroke="#2614c4" stroke-width="4.8"/><path d="M52.5 359.0h0" stroke="#2210b4" stroke-width="6"/><path d="M57.0 364.0h0M74.3 370.8h0M48.9 383.5h0M56.0 352.0h0" stroke="#2c12bc" stroke-width="4.8"/><path d="M44.0 357.0h0M78.5 353.9h0M59.5 383.5h0" stroke="#2614c4" stroke-width="4"/><path d="M60.5 341.2h0M56.3 369.7h0" stroke="#2210b4" stroke-width="4"/><path d="M66.9 341.2h0M72.2 358.1h0" stroke="#2614c4" stroke-width="3.2"/><path d="M46.8 377.2h0M40.4 381.4h0M40.4 364.5h0" stroke="#3018c8" stroke-width="3.2"/><path d="M34.1 375.0h0M63.7 347.5h0" stroke="#2c12bc" stroke-width="3.2"/><path d="M27.7 370.8h0M70.0 351.0h0M44.0 371.0h0" stroke="#2210b4" stroke-width="2.4"/><path d="M37.2 344.3h0M53.1 335.9h0M58.0 376.0h0" stroke="#2c12bc" stroke-width="2.4"/><path d="M64.7 370.8h0M69.0 365.5h0" stroke="#2614c4" stroke-width="2.4"/><path d="M36.2 359.2h0" stroke="#3018c8" stroke-width="2.4"/><path d="M41.0 350.5h0" stroke="#2210b4" stroke-width="3.2"/><path d="M44.5 347.0h0" stroke="#2614c4" stroke-width="2.8"/><path d="M33.0 366.0h0" stroke="#3018c8" stroke-width="2"/><path d="M67.0 383.0h0" stroke="#2210b4" stroke-width="2.8"/><path d="M27.5 350.0h0" stroke="#3018c8" stroke-width="8.8"/><path d="M52.0 355.0h0" stroke="#3018c8" stroke-width="8.4"/><path d="M59.0 358.5h0" stroke="#2c12bc" stroke-width="7.6"/></g>
<ellipse cx="27.5" cy="350" rx="5.5" ry="6.5" fill="#2614c4" filter="url(#cb)"/><ellipse cx="25" cy="357" rx="3.5" ry="4" fill="#2614c4" filter="url(#cb)"/><ellipse cx="31" cy="356" rx="3.5" ry="3.5" fill="#2614c4" filter="url(#cb)"/><ellipse cx="23.5" cy="347" rx="2.5" ry="3.5" fill="#2614c4" filter="url(#cb)"/><ellipse cx="52" cy="355" rx="6.5" ry="4.5" fill="#2614c4" filter="url(#cb)"/><ellipse cx="59" cy="358.5" rx="5.5" ry="4.5" fill="#2614c4" filter="url(#cb)"/><ellipse cx="48" cy="359" rx="3.5" ry="3" fill="#2614c4" filter="url(#cb)"/><ellipse cx="64" cy="362" rx="3" ry="2.5" fill="#2614c4" filter="url(#cb)"/><ellipse cx="56" cy="352" rx="3.5" ry="3" fill="#2614c4" filter="url(#cb)"/>
<circle cx="119.8" cy="357.6" r="31.2" fill="#dbdbd4" stroke="#77777c" stroke-width="0.6"/>
<circle cx="119.8" cy="357.6" r="30.2" fill="none" stroke="#000" stroke-opacity="0.07" stroke-width="1.6"/>
<g filter="url(#cb)" stroke-linecap="round" fill="none"><path d="M127.2 329.5h0M134.6 380.3h0" stroke="#2614c4" stroke-width="3.2"/><path d="M119.8 340.1h0" stroke="#2614c4" stroke-width="4.8"/><path d="M129.3 351.8h0" stroke="#2614c4" stroke-width="5.6"/><path d="M126.5 352.8h0" stroke="#2210b4" stroke-width="3.6"/><path d="M115.5 349.6h0M95.4 362.3h0" stroke="#2c12bc" stroke-width="2.4"/><path d="M137.8 353.9h0M120.8 358.1h0M130.4 376.1h0" stroke="#2210b4" stroke-width="2.4"/><path d="M114.5 361.3h0" stroke="#2c12bc" stroke-width="3.2"/><path d="M91.2 360.2h0" stroke="#2614c4" stroke-width="2.4"/><path d="M97.6 366.1h0M108.1 361.3h0M121.9 365.5h0" stroke="#3018c8" stroke-width="2.4"/><path d="M114.5 365.5h0M131.4 361.3h0" stroke="#2210b4" stroke-width="1.6"/><path d="M148.4 365.5h0" stroke="#2614c4" stroke-width="1.6"/><path d="M110.0 345.0h0" stroke="#3018c8" stroke-width="1.2"/><path d="M104.0 370.0h0" stroke="#2210b4" stroke-width="1.2"/></g>
<circle cx="188.5" cy="357.6" r="31.2" fill="#d8d9e0" stroke="#77777c" stroke-width="0.6"/>
<circle cx="188.5" cy="357.6" r="30.2" fill="none" stroke="#000" stroke-opacity="0.07" stroke-width="1.6"/>
<g filter="url(#cb)" stroke-linecap="round" fill="none"><path d="M189.7 357.1h0" stroke="#2c12bc" stroke-width="7.6"/><path d="M196.4 353.7h0" stroke="#2c12bc" stroke-width="4.8"/><path d="M185.5 359.5h0" stroke="#2210b4" stroke-width="5.6"/><path d="M192.0 361.0h0" stroke="#3018c8" stroke-width="5.2"/><path d="M174.6 353.7h0" stroke="#2614c4" stroke-width="4"/><path d="M209.9 343.0h0" stroke="#2614c4" stroke-width="2.4"/><path d="M164.5 358.8h0" stroke="#3018c8" stroke-width="2.4"/><path d="M169.6 362.1h0" stroke="#2210b4" stroke-width="2.4"/><path d="M179.7 361.5h0" stroke="#2c12bc" stroke-width="3.2"/><path d="M193.1 370.5h0" stroke="#2c12bc" stroke-width="2"/><path d="M166.0 364.0h0M201.0 361.0h0" stroke="#3018c8" stroke-width="1.6"/><path d="M186.0 352.0h0" stroke="#3018c8" stroke-width="3.2"/><path d="M183.0 356.0h0" stroke="#2c12bc" stroke-width="2.8"/><path d="M198.0 349.0h0" stroke="#2c12bc" stroke-width="1.6"/></g>
<text x="0" y="0" font-size="9.46" font-weight="bold" text-anchor="middle" fill="#111" transform="translate(52.6 321.91) scale(0.9 1)" stroke="#111" stroke-width="0.35">si-NC</text>
<text x="0" y="0" font-size="9.46" font-weight="bold" text-anchor="middle" fill="#111" transform="translate(119.8 321.91) scale(0.9 1)" stroke="#111" stroke-width="0.35">si-<tspan font-style="italic">SNRPE</tspan>#1</text>
<text x="0" y="0" font-size="9.46" font-weight="bold" text-anchor="middle" fill="#111" transform="translate(188.5 321.91) scale(0.9 1)" stroke="#111" stroke-width="0.35">si-<tspan font-style="italic">SNRPE</tspan>#2</text>
<line x1="249.3" y1="328.2" x2="249.3" y2="386.7" stroke="#111" stroke-width="1"/>
<text x="0" y="0" font-size="9.6" font-weight="bold" text-anchor="middle" fill="#111" transform="translate(246.2 356) rotate(-90)" stroke="#111" stroke-width="0.35">SKOV3</text>
<circle cx="287" cy="357.6" r="31.2" fill="#cbcfd0" stroke="#77777c" stroke-width="0.6"/>
<circle cx="287" cy="357.6" r="30.2" fill="none" stroke="#000" stroke-opacity="0.07" stroke-width="1.6"/>
<g filter="url(#cb)" stroke-linecap="round" fill="none"><path d="M282.4 351.9h0M263.1 345.6h0M282.2 360.5h0M263.5 350.3h0M300.4 332.5h0M275.2 384.8h0M283.7 333.0h0M284.6 363.7h0M273.3 369.2h0M288.8 377.6h0M277.4 337.2h0M293.7 332.7h0M299.9 370.2h0M295.9 370.0h0M291.5 329.8h0M264.7 343.0h0M301.2 358.6h0M286.1 374.2h0M301.6 374.2h0M305.6 380.7h0M264.4 357.9h0M291.0 359.8h0M275.7 350.5h0M290.2 329.8h0M305.9 380.6h0M294.4 356.9h0M282.4 343.7h0M306.3 376.6h0M276.8 382.1h0M286.4 328.6h0M292.5 331.5h0M299.2 377.6h0M316.4 363.3h0M299.7 370.6h0M293.0 332.1h0M273.4 371.8h0M271.7 369.8h0M271.7 355.2h0M297.7 333.0h0M302.3 346.6h0M299.2 380.1h0M269.7 348.7h0M302.3 383.0h0M285.4 364.2h0M299.1 377.5h0M263.3 345.4h0M304.1 373.0h0M278.0 350.9h0M282.8 333.4h0M265.5 345.1h0M274.5 374.6h0M259.3 362.4h0M289.7 330.3h0M280.1 368.9h0M285.3 356.2h0M268.5 365.9h0M312.8 350.2h0M261.4 351.5h0M273.7 372.4h0M311.6 369.8h0" stroke="#2c1cac" stroke-width="1.2"/><path d="M283.6 373.7h0M276.4 330.0h0M298.0 332.3h0M281.0 358.5h0M268.7 350.1h0M291.6 335.3h0M297.4 371.1h0M265.6 358.9h0M289.2 356.0h0M283.9 354.3h0M304.1 376.0h0M277.9 339.3h0M309.7 372.6h0M286.7 354.1h0M270.6 375.8h0M302.7 379.6h0M272.6 378.5h0M269.4 360.9h0M280.0 366.5h0M310.4 375.1h0M269.1 343.8h0M303.7 375.6h0M272.1 356.3h0M275.0 350.4h0M306.9 370.2h0M266.9 356.9h0M293.3 367.3h0M297.0 363.4h0M290.6 372.6h0M302.0 375.0h0M291.6 365.5h0M282.8 357.9h0M296.6 378.6h0M301.6 333.1h0M291.0 333.5h0" stroke="#3020b4" stroke-width="2"/><path d="M302.5 358.5h0M273.2 370.3h0M297.1 385.5h0M305.9 379.2h0M300.8 381.1h0M291.9 380.5h0" stroke="#2c1cac" stroke-width="2.4"/><path d="M286.8 351.0h0M271.9 367.4h0M268.9 356.7h0M293.7 334.0h0M295.2 377.0h0M269.0 373.7h0M292.8 365.3h0M271.2 373.9h0M285.5 361.3h0M263.7 345.9h0M260.3 353.0h0M307.2 372.4h0M311.0 365.2h0M276.2 379.5h0M262.1 355.4h0M306.8 365.2h0M290.5 361.9h0M273.8 345.1h0M259.9 356.1h0M280.3 328.9h0M261.7 354.3h0M296.6 334.6h0M284.3 328.4h0M264.7 364.8h0M308.8 354.4h0M298.1 378.9h0M290.2 362.0h0M300.2 372.7h0M294.4 329.6h0M311.1 370.8h0M286.5 359.0h0M294.2 369.8h0M266.6 354.8h0M288.6 349.9h0M267.9 364.6h0M269.9 346.3h0M288.6 368.6h0M280.7 370.2h0M308.6 373.4h0M297.5 374.6h0M294.2 336.5h0M280.3 380.8h0M288.1 351.9h0M273.1 362.6h0M272.9 346.4h0M283.4 369.0h0M269.1 379.9h0M267.3 363.5h0M278.0 384.6h0" stroke="#2616a0" stroke-width="1.2"/><path d="M301.5 376.8h0M275.7 355.1h0M293.0 330.7h0M297.5 337.0h0M312.5 357.6h0M282.4 386.0h0M311.6 371.6h0M297.2 381.2h0M288.6 379.2h0M294.1 384.5h0M278.7 330.4h0M273.2 352.8h0M291.3 347.1h0M274.2 334.5h0M278.5 360.3h0M266.3 356.9h0M294.2 331.4h0M289.9 341.7h0M293.2 335.8h0M290.8 356.8h0M286.3 351.7h0M277.5 335.7h0M262.4 353.5h0M295.2 353.6h0M296.1 381.9h0M289.5 331.7h0M270.4 345.1h0M265.1 365.6h0M294.0 385.6h0M288.5 357.0h0M303.3 378.2h0M301.4 339.6h0M296.9 371.7h0M276.1 356.1h0M288.4 383.7h0M272.4 351.7h0M277.7 363.9h0M293.2 356.3h0M259.2 353.9h0M275.5 354.1h0M285.0 375.9h0M261.6 359.0h0" stroke="#3020b4" stroke-width="1.6"/><path d="M291.7 339.0h0M287.2 330.9h0M268.5 360.4h0M277.2 364.2h0M269.1 347.8h0M302.1 372.3h0M296.2 333.1h0M273.6 371.6h0M283.1 366.0h0M309.6 376.8h0M311.3 345.4h0M298.3 332.9h0M279.4 357.9h0M298.4 382.8h0M289.2 348.3h0M288.1 344.6h0M267.4 349.2h0M293.0 334.3h0M265.2 359.2h0M290.6 332.1h0M277.0 379.1h0M269.0 364.4h0M274.7 375.1h0M273.4 358.4h0M286.0 354.0h0M284.7 331.4h0M283.9 346.9h0M261.8 356.1h0M272.7 369.0h0M307.0 376.7h0M283.7 359.5h0M314.4 367.2h0M270.6 380.0h0M278.4 371.4h0M273.1 345.9h0M294.9 382.6h0M291.6 359.4h0M298.7 376.2h0M264.7 369.5h0M292.8 379.1h0M260.9 349.0h0M299.3 379.2h0M271.0 376.3h0M310.2 369.4h0M272.5 361.5h0M293.7 358.3h0M309.7 356.6h0M280.0 341.5h0M274.9 377.9h0" stroke="#3020b4" stroke-width="0.8"/><path d="M280.8 379.3h0M305.5 364.6h0M300.8 338.2h0M299.2 378.0h0M276.1 376.1h0M260.4 360.1h0M288.5 361.3h0M277.1 357.4h0M285.5 357.7h0M287.1 357.0h0M274.4 362.9h0M290.5 332.1h0M282.9 336.7h0M299.6 378.7h0M264.3 367.6h0M266.7 361.8h0M282.5 354.0h0M282.3 346.0h0M266.6 355.0h0M263.4 357.7h0M284.2 360.5h0M263.2 374.3h0M279.8 331.8h0M265.2 363.0h0M267.0 365.5h0M297.2 383.1h0M287.8 356.0h0M289.0 376.1h0M302.4 353.4h0M281.9 382.7h0M304.5 377.4h0M296.0 332.5h0M278.8 375.9h0M263.3 343.9h0M296.5 384.4h0M268.6 346.6h0M263.8 348.5h0M301.3 383.1h0M294.1 351.5h0M302.7 372.8h0M307.3 357.6h0M308.9 373.3h0" stroke="#2c1cac" stroke-width="0.8"/><path d="M271.2 342.2h0M284.7 371.8h0M299.6 377.9h0M268.7 366.1h0M266.1 371.9h0M279.9 367.7h0M258.7 361.4h0M291.5 358.4h0M274.4 362.8h0M293.4 380.3h0M310.0 365.0h0M288.2 345.3h0M295.5 334.5h0M267.3 357.2h0M294.6 333.2h0M301.4 364.3h0M262.8 373.6h0M277.3 381.6h0M264.7 358.8h0M296.4 372.5h0M291.1 363.6h0M272.2 378.9h0M284.7 377.7h0M273.8 342.2h0M277.1 381.7h0M300.9 380.9h0M307.9 367.2h0M287.5 337.1h0M301.5 378.1h0M270.4 381.3h0M284.2 351.7h0M292.7 382.8h0M309.5 349.4h0M301.1 338.4h0M287.3 361.9h0M270.6 348.3h0M292.2 336.0h0M270.6 380.8h0M299.3 382.8h0M261.3 347.7h0" stroke="#2616a0" stroke-width="1.6"/><path d="M268.9 364.7h0M272.6 340.5h0M267.6 338.4h0M288.9 369.1h0M274.7 351.9h0M292.7 338.7h0M307.5 337.7h0M273.2 343.2h0M275.7 372.0h0M289.3 358.5h0M267.4 342.8h0M298.9 338.3h0M285.8 365.7h0M291.7 368.5h0M281.8 372.2h0M268.6 358.2h0M281.9 366.3h0M299.0 370.3h0M304.5 334.9h0M268.4 356.1h0M270.9 350.1h0M276.4 367.2h0M279.1 346.6h0M287.2 355.6h0M293.8 368.2h0M275.3 335.0h0M291.3 351.4h0M301.8 371.6h0M296.2 330.3h0M300.3 370.9h0M262.8 345.9h0" stroke="#2c1cac" stroke-width="1.6"/><path d="M286.2 356.5h0M273.3 343.0h0M296.4 330.4h0M297.0 375.5h0M305.1 344.2h0M257.5 354.8h0M266.4 354.9h0M314.5 350.5h0M305.0 368.0h0M257.3 357.2h0M267.8 352.2h0M296.2 372.9h0M296.5 374.7h0M282.7 355.0h0M299.0 335.6h0M302.1 375.1h0M289.0 373.3h0M289.8 350.7h0M297.5 384.3h0M266.2 355.8h0M284.5 348.8h0M278.0 360.2h0M270.5 349.3h0M298.3 381.1h0M283.8 341.0h0M273.3 355.2h0M279.1 347.7h0M276.2 369.2h0M264.3 349.2h0M281.6 369.5h0M262.3 354.3h0M271.1 357.2h0M296.6 378.7h0M291.9 333.0h0M305.2 342.6h0M302.4 362.0h0M267.9 349.8h0M268.8 377.2h0M272.2 359.5h0M276.6 339.8h0M274.4 376.5h0M297.5 377.0h0M266.1 373.4h0M306.3 368.3h0M262.7 354.6h0M282.9 357.5h0M281.7 353.4h0" stroke="#3020b4" stroke-width="1.2"/><path d="M297.6 385.5h0M296.6 380.7h0M279.8 372.6h0M275.4 336.6h0M288.7 334.0h0M263.1 353.6h0M271.6 350.0h0M273.0 353.7h0M270.4 344.2h0M284.8 375.8h0M293.5 333.4h0M291.3 335.8h0M289.8 361.3h0M276.4 363.5h0M263.5 368.5h0M282.0 364.5h0M264.8 347.2h0M279.1 365.0h0M306.9 378.9h0M308.9 342.7h0M294.9 377.5h0M289.9 380.0h0M277.1 346.9h0M300.0 341.5h0M298.4 336.5h0M272.7 371.8h0M298.5 381.1h0M293.2 356.8h0M287.2 362.5h0M272.0 336.0h0M275.3 350.2h0" stroke="#2c1cac" stroke-width="2"/><path d="M282.7 369.0h0M257.9 350.7h0M295.5 338.4h0M258.6 357.6h0M279.6 369.2h0M261.2 356.0h0M308.4 375.8h0M294.1 372.0h0M283.5 363.1h0M286.0 367.0h0M268.9 344.0h0M273.6 377.3h0M297.4 373.5h0M292.2 342.3h0M309.8 343.8h0M282.6 355.3h0M265.3 347.7h0" stroke="#2616a0" stroke-width="2"/><path d="M302.3 369.6h0M303.5 374.6h0M306.0 359.7h0M258.0 354.2h0M285.7 352.8h0M279.4 356.5h0M286.9 366.3h0M306.4 358.3h0M301.6 377.3h0M270.8 344.9h0M277.5 352.4h0M315.5 360.5h0M299.2 373.9h0M264.1 364.2h0M270.9 371.7h0M262.5 356.0h0M302.5 379.9h0M284.4 374.3h0M284.8 336.2h0M294.0 369.2h0M281.5 358.2h0M273.3 344.9h0M289.0 364.0h0M285.2 328.4h0M295.5 332.5h0M274.5 353.1h0M279.6 380.3h0M270.8 367.4h0M296.5 340.5h0M275.4 340.8h0M289.6 331.8h0M306.0 374.8h0M302.5 369.8h0M276.2 371.1h0M308.0 377.2h0M293.6 333.1h0M291.0 329.5h0M269.4 358.6h0M299.0 375.5h0" stroke="#2616a0" stroke-width="0.8"/><path d="M293.8 362.9h0M304.1 374.5h0M274.3 340.2h0M291.5 341.4h0M268.8 371.0h0M297.2 335.0h0M284.0 370.9h0M314.9 365.3h0M269.2 361.2h0" stroke="#3020b4" stroke-width="2.4"/><path d="M301.6 339.3h0M275.8 361.6h0M302.3 366.4h0M274.0 347.6h0M291.4 365.2h0" stroke="#2616a0" stroke-width="2.4"/></g>
<circle cx="352.6" cy="357.6" r="31.2" fill="#dedcd4" stroke="#77777c" stroke-width="0.6"/>
<circle cx="352.6" cy="357.6" r="30.2" fill="none" stroke="#000" stroke-opacity="0.07" stroke-width="1.6"/>
<g filter="url(#cb)" stroke-linecap="round" fill="none"><path d="M332.6 357.6h0M362.6 352.6h0M367.6 361.6h0" stroke="#2616a0" stroke-width="1.6"/><path d="M357.6 335.6h0" stroke="#3020b4" stroke-width="2"/><path d="M355.6 358.6h0" stroke="#3020b4" stroke-width="1.2"/><path d="M342.6 360.6h0" stroke="#2616a0" stroke-width="1.2"/><path d="M350.6 352.6h0M372.6 367.6h0" stroke="#2616a0" stroke-width="0.8"/></g>
<circle cx="421.5" cy="357.6" r="31.2" fill="#d8dcdc" stroke="#77777c" stroke-width="0.6"/>
<circle cx="421.5" cy="357.6" r="30.2" fill="none" stroke="#000" stroke-opacity="0.07" stroke-width="1.6"/>
<g filter="url(#cb)" stroke-linecap="round" fill="none"><path d="M407.5 341.6h0" stroke="#2616a0" stroke-width="2.4"/><path d="M413.5 361.6h0M418.5 363.6h0M407.5 383.6h0" stroke="#2c1cac" stroke-width="1.6"/><path d="M421.5 361.6h0M425.5 364.6h0" stroke="#3020b4" stroke-width="2"/><path d="M425.5 351.6h0" stroke="#2c1cac" stroke-width="1.2"/><path d="M404.5 360.6h0" stroke="#2616a0" stroke-width="1.2"/><path d="M435.5 347.6h0" stroke="#2616a0" stroke-width="0.8"/></g>
<text x="0" y="0" font-size="9.46" font-weight="bold" text-anchor="middle" fill="#111" transform="translate(285.4 321.91) scale(0.9 1)" stroke="#111" stroke-width="0.35">si-NC</text>
<text x="0" y="0" font-size="9.46" font-weight="bold" text-anchor="middle" fill="#111" transform="translate(354.3 321.91) scale(0.9 1)" stroke="#111" stroke-width="0.35">si-<tspan font-style="italic">SNRPE</tspan>#1</text>
<text x="0" y="0" font-size="9.46" font-weight="bold" text-anchor="middle" fill="#111" transform="translate(423 321.91) scale(0.9 1)" stroke="#111" stroke-width="0.35">si-<tspan font-style="italic">SNRPE</tspan>#2</text>
<line x1="480.2" y1="328.2" x2="480.2" y2="386.7" stroke="#111" stroke-width="1"/>
<text x="0" y="0" font-size="9.6" font-weight="bold" text-anchor="middle" fill="#111" transform="translate(477.2 356) rotate(-90)" stroke="#111" stroke-width="0.35">OVCAR8</text>
<circle cx="517" cy="357.6" r="31.2" fill="#d6d6dc" stroke="#77777c" stroke-width="0.6"/>
<circle cx="517" cy="357.6" r="30.2" fill="none" stroke="#000" stroke-opacity="0.07" stroke-width="1.6"/>
<g filter="url(#cb)" stroke-linecap="round" fill="none"><path d="M517.9 379.7h0M521.6 344.7h0M520.7 340.8h0M500.4 364.5h0M536.0 347.3h0M534.8 369.7h0M514.0 384.0h0M516.7 339.5h0M503.0 351.3h0" stroke="#6a3cc4" stroke-width="0.8"/><path d="M523.5 344.1h0M508.9 362.0h0M507.0 378.9h0M513.5 380.7h0M508.6 373.6h0" stroke="#4a28a8" stroke-width="1.6"/><path d="M534.6 348.8h0M499.2 344.1h0M506.6 385.3h0" stroke="#5530b0" stroke-width="3.2"/><path d="M514.3 334.7h0M530.0 332.5h0M494.7 362.6h0M516.2 339.8h0M527.7 376.9h0M519.7 371.9h0" stroke="#5a30b8" stroke-width="1.6"/><path d="M500.9 348.0h0M530.3 333.4h0" stroke="#5a30b8" stroke-width="3.2"/><path d="M532.6 360.4h0M490.6 368.4h0M493.3 374.2h0M527.6 356.5h0M489.4 362.6h0M536.5 360.8h0M520.6 384.7h0M519.4 377.4h0M538.3 355.3h0" stroke="#5a30b8" stroke-width="1.2"/><path d="M522.2 345.5h0M532.5 382.0h0M490.5 346.1h0M520.2 330.3h0" stroke="#6a3cc4" stroke-width="1.6"/><path d="M498.4 378.1h0M489.2 353.4h0M528.3 358.0h0M506.9 350.1h0M517.2 374.5h0" stroke="#5a30b8" stroke-width="2.8"/><path d="M518.0 343.9h0M517.2 369.5h0" stroke="#4a28a8" stroke-width="2"/><path d="M537.5 359.7h0M492.9 344.8h0M509.5 380.8h0M523.6 377.0h0M496.8 374.6h0M529.6 381.4h0" stroke="#5530b0" stroke-width="1.2"/><path d="M536.1 344.5h0M534.9 379.6h0M513.6 330.2h0M537.6 350.6h0M499.0 350.7h0M509.8 359.4h0M540.1 360.2h0M524.7 359.5h0" stroke="#5530b0" stroke-width="0.8"/><path d="M503.8 373.9h0M530.8 332.6h0M511.0 378.4h0M521.3 377.2h0M532.0 381.4h0M528.7 362.4h0M517.6 346.7h0M511.5 331.6h0M531.5 360.4h0M531.7 333.0h0M488.6 352.5h0" stroke="#5a30b8" stroke-width="0.8"/><path d="M519.1 332.5h0M505.1 365.2h0M532.6 355.9h0" stroke="#4a28a8" stroke-width="3.2"/><path d="M539.8 347.2h0M521.2 383.9h0M504.4 365.7h0M522.0 376.9h0M510.3 339.8h0M518.5 353.6h0M521.7 355.9h0M519.3 353.2h0" stroke="#5530b0" stroke-width="1.6"/><path d="M496.5 346.3h0" stroke="#5a30b8" stroke-width="2.4"/><path d="M540.0 355.0h0M489.3 348.5h0" stroke="#4a28a8" stroke-width="2.8"/><path d="M504.0 342.0h0M525.5 377.4h0M511.8 383.5h0M522.6 379.5h0M522.3 368.6h0" stroke="#4a28a8" stroke-width="2.4"/><path d="M533.2 371.4h0M534.9 361.8h0" stroke="#6a3cc4" stroke-width="3.2"/><path d="M542.3 359.4h0M540.6 371.1h0M539.2 339.6h0M516.0 330.4h0M529.3 377.3h0" stroke="#5530b0" stroke-width="2"/><path d="M513.5 334.6h0M509.0 348.3h0M514.2 366.2h0M498.5 377.2h0M520.5 357.2h0" stroke="#4a28a8" stroke-width="1.2"/><path d="M533.1 353.4h0M497.0 357.1h0" stroke="#5a30b8" stroke-width="2"/><path d="M503.9 334.4h0M507.9 336.3h0M542.5 357.9h0M509.4 358.2h0M507.8 368.0h0M531.7 354.6h0M518.0 364.4h0" stroke="#6a3cc4" stroke-width="1.2"/><path d="M544.3 360.5h0M518.7 339.8h0M529.0 340.2h0M545.7 359.6h0M537.9 355.7h0M542.4 343.2h0M510.7 371.8h0M514.7 362.0h0" stroke="#4a28a8" stroke-width="0.8"/><path d="M494.3 359.9h0M521.0 357.8h0M522.5 386.9h0M507.3 343.8h0" stroke="#5530b0" stroke-width="2.4"/><path d="M494.2 347.3h0M529.9 381.3h0M502.4 344.7h0M523.6 332.9h0" stroke="#5530b0" stroke-width="2.8"/><path d="M498.5 341.6h0M517.4 330.4h0M507.5 341.6h0M499.9 358.5h0M538.6 346.9h0" stroke="#6a3cc4" stroke-width="2"/><path d="M524.9 340.7h0" stroke="#6a3cc4" stroke-width="2.4"/></g>
<circle cx="584.4" cy="357.6" r="31.2" fill="#dcdcd5" stroke="#77777c" stroke-width="0.6"/>
<circle cx="584.4" cy="357.6" r="30.2" fill="none" stroke="#000" stroke-opacity="0.07" stroke-width="1.6"/>
<g filter="url(#cb)" stroke-linecap="round" fill="none"><path d="M561.1 358.4h0M563.8 339.2h0M578.4 350.7h0" stroke="#4a28a8" stroke-width="2"/><path d="M576.8 373.6h0M601.8 375.3h0" stroke="#6a3cc4" stroke-width="1.6"/><path d="M565.8 359.2h0M605.8 361.9h0M611.1 346.7h0M597.2 337.8h0" stroke="#5530b0" stroke-width="1.2"/><path d="M578.3 368.8h0M604.7 341.6h0M564.3 339.2h0M556.7 366.6h0" stroke="#4a28a8" stroke-width="1.6"/><path d="M573.7 375.1h0M582.1 340.8h0M581.9 360.3h0M604.8 370.6h0M599.1 365.1h0M578.8 353.1h0M567.9 360.7h0M581.1 384.7h0M606.5 358.1h0M611.9 362.4h0" stroke="#5a30b8" stroke-width="0.8"/><path d="M602.5 355.4h0M570.7 343.2h0M600.4 341.3h0" stroke="#4a28a8" stroke-width="2.8"/><path d="M595.8 381.3h0M609.0 354.2h0M603.3 350.6h0M567.9 356.9h0M593.4 338.5h0M564.3 343.8h0M581.2 368.9h0M557.7 349.2h0" stroke="#4a28a8" stroke-width="0.8"/><path d="M575.0 363.8h0M598.7 369.1h0M575.2 364.5h0M574.8 367.9h0M568.6 359.0h0M599.9 369.9h0M591.2 360.7h0M561.5 342.6h0M572.1 361.4h0M590.8 353.8h0" stroke="#5530b0" stroke-width="0.8"/><path d="M589.4 381.7h0M605.1 373.1h0M596.8 335.7h0M575.5 341.1h0" stroke="#5530b0" stroke-width="1.6"/><path d="M595.0 351.1h0M580.1 356.2h0" stroke="#5a30b8" stroke-width="2"/><path d="M589.0 345.3h0M587.9 368.4h0" stroke="#5a30b8" stroke-width="1.6"/><path d="M583.3 342.4h0M561.7 355.3h0M567.2 343.4h0M603.4 349.2h0M601.8 348.2h0M606.5 349.9h0" stroke="#6a3cc4" stroke-width="0.8"/><path d="M576.7 365.7h0M611.7 365.6h0M594.4 336.0h0" stroke="#6a3cc4" stroke-width="1.2"/><path d="M589.8 331.6h0M556.9 356.2h0" stroke="#5a30b8" stroke-width="1.2"/><path d="M566.3 355.7h0" stroke="#5530b0" stroke-width="2.8"/><path d="M557.8 367.3h0M603.0 354.0h0" stroke="#6a3cc4" stroke-width="2"/><path d="M572.6 360.8h0" stroke="#5530b0" stroke-width="2"/><path d="M569.8 344.6h0" stroke="#6a3cc4" stroke-width="2.8"/><path d="M596.5 348.6h0" stroke="#4a28a8" stroke-width="1.2"/></g>
<circle cx="652.6" cy="357.6" r="31.2" fill="#d8d8dc" stroke="#77777c" stroke-width="0.6"/>
<circle cx="652.6" cy="357.6" r="30.2" fill="none" stroke="#000" stroke-opacity="0.07" stroke-width="1.6"/>
<g filter="url(#cb)" stroke-linecap="round" fill="none"><path d="M641.6 379.6h0M666.7 364.2h0M662.5 343.9h0M660.4 377.1h0M658.5 343.9h0M645.0 353.9h0" stroke="#5530b0" stroke-width="0.8"/><path d="M680.7 354.6h0M661.0 365.2h0" stroke="#6a3cc4" stroke-width="3.2"/><path d="M651.4 371.5h0M677.3 362.4h0M650.7 335.4h0M644.0 378.7h0M638.8 383.8h0M640.1 338.6h0M652.3 352.1h0M661.1 361.7h0M658.6 346.9h0" stroke="#6a3cc4" stroke-width="0.8"/><path d="M654.3 362.2h0M652.8 333.0h0M641.7 329.9h0M665.3 367.9h0M672.1 348.6h0" stroke="#4a28a8" stroke-width="1.6"/><path d="M633.9 378.7h0M668.1 363.7h0M646.5 370.4h0M630.4 350.6h0" stroke="#4a28a8" stroke-width="2"/><path d="M645.2 367.9h0M652.6 369.6h0M630.4 357.0h0M631.3 357.6h0M652.0 341.9h0M631.9 347.5h0M647.8 351.2h0M642.2 347.2h0M639.5 349.4h0M657.7 354.7h0M631.9 368.1h0" stroke="#5a30b8" stroke-width="0.8"/><path d="M670.1 381.3h0M635.4 351.4h0M669.1 370.4h0M668.7 346.4h0M638.4 368.2h0M629.3 360.0h0M643.6 341.0h0" stroke="#5530b0" stroke-width="1.2"/><path d="M671.0 359.6h0M651.7 361.1h0M662.9 378.3h0" stroke="#5a30b8" stroke-width="1.2"/><path d="M633.7 368.6h0M623.7 360.2h0M672.0 353.2h0M650.4 330.6h0M664.3 332.6h0M631.8 355.8h0" stroke="#4a28a8" stroke-width="1.2"/><path d="M647.8 371.3h0M641.0 349.1h0M639.1 340.2h0M651.6 329.9h0" stroke="#5530b0" stroke-width="1.6"/><path d="M635.1 360.2h0M644.2 330.0h0M668.6 359.8h0M668.1 332.4h0" stroke="#4a28a8" stroke-width="0.8"/><path d="M660.6 377.5h0M666.1 374.6h0M624.6 353.5h0M663.6 342.8h0" stroke="#5a30b8" stroke-width="2"/><path d="M653.7 386.7h0M678.6 347.4h0M644.4 347.6h0" stroke="#4a28a8" stroke-width="3.2"/><path d="M648.8 378.6h0M635.6 354.4h0M638.6 342.1h0M651.8 357.0h0" stroke="#5a30b8" stroke-width="2.4"/><path d="M666.9 363.7h0M635.9 366.0h0" stroke="#6a3cc4" stroke-width="1.6"/><path d="M650.2 367.3h0M637.8 353.9h0M671.7 350.5h0" stroke="#6a3cc4" stroke-width="1.2"/><path d="M640.8 344.9h0M667.3 368.0h0" stroke="#6a3cc4" stroke-width="2"/><path d="M645.3 343.7h0" stroke="#5a30b8" stroke-width="3.2"/><path d="M641.5 357.7h0M665.0 382.8h0" stroke="#4a28a8" stroke-width="2.4"/><path d="M660.6 360.9h0M660.0 357.8h0M635.0 334.3h0" stroke="#5a30b8" stroke-width="2.8"/><path d="M641.2 361.2h0M652.8 348.2h0M637.3 351.8h0" stroke="#4a28a8" stroke-width="2.8"/><path d="M671.3 377.4h0M665.8 337.3h0M650.7 332.7h0M646.1 380.9h0M629.3 364.0h0M654.4 362.7h0M645.4 355.9h0M650.5 343.7h0" stroke="#5a30b8" stroke-width="1.6"/><path d="M644.5 358.0h0M648.1 386.2h0M624.7 349.0h0" stroke="#5530b0" stroke-width="2.8"/><path d="M671.6 336.8h0" stroke="#6a3cc4" stroke-width="2.8"/><path d="M654.9 378.3h0" stroke="#5530b0" stroke-width="2.4"/></g>
<text x="0" y="0" font-size="9.46" font-weight="bold" text-anchor="middle" fill="#111" transform="translate(517 321.91) scale(0.9 1)" stroke="#111" stroke-width="0.35">si-NC</text>
<text x="0" y="0" font-size="9.46" font-weight="bold" text-anchor="middle" fill="#111" transform="translate(586 321.91) scale(0.9 1)" stroke="#111" stroke-width="0.35">si-<tspan font-style="italic">SNRPE</tspan>#1</text>
<text x="0" y="0" font-size="9.46" font-weight="bold" text-anchor="middle" fill="#111" transform="translate(653.8 321.91) scale(0.9 1)" stroke="#111" stroke-width="0.35">si-<tspan font-style="italic">SNRPE</tspan>#2</text>
<text x="0" y="0" font-size="18.15" font-weight="bold" text-anchor="start" fill="#111" transform="translate(0.5 422.5) scale(0.9 1)" stroke="#111" stroke-width="0.35">E</text>
<line x1="25.5" y1="421" x2="25.5" y2="494" stroke="#1a1a1a" stroke-width="1"/>
<text x="0" y="0" font-size="10" font-weight="bold" text-anchor="middle" fill="#111" transform="translate(20.8 457.5) rotate(-90)" stroke="#111" stroke-width="0.35">HEY</text>
<rect x="30" y="421.2" width="96.5" height="72.4" fill="#050310" stroke="none" stroke-width="1"/>
<g filter="url(#fb)" stroke-linecap="round" fill="none"><path d="M44.8 454.2h0M92.2 436.6h0M103.6 436.6h0M80.6 472.9h0M99.5 429.5h0M35.5 436.1h0M72.7 423.6h0M34.7 462.9h0M71.2 449.1h0M56.1 482.5h0M61.7 486.9h0M104.1 465.7h0M101.4 459.6h0M77.4 468.2h0M106.2 484.3h0M44.4 447.0h0M84.8 473.4h0M88.8 423.8h0M94.1 439.9h0M86.2 465.8h0M63.1 443.5h0M33.3 459.4h0M36.7 437.9h0M40.8 488.9h0M113.6 424.3h0M38.5 424.8h0M37.0 486.3h0M77.1 467.4h0M37.8 449.2h0M114.9 466.5h0M101.3 456.4h0" stroke="#2c1ec8" stroke-width="1.2"/><path d="M100.2 452.7h0M38.6 454.3h0M105.9 448.6h0M102.2 471.9h0M34.7 437.1h0M124.5 482.0h0M83.8 438.5h0M103.8 485.9h0M115.2 422.4h0M92.6 431.1h0M64.2 490.3h0M96.1 442.9h0M117.5 438.0h0M42.8 466.6h0M88.2 459.1h0M49.1 452.0h0M50.3 441.0h0M72.7 446.9h0M70.3 472.9h0M78.1 491.7h0M100.8 466.2h0M90.5 444.1h0M73.5 490.2h0M33.4 450.4h0M84.9 476.9h0M61.3 444.2h0M57.5 492.3h0M79.7 473.0h0M64.0 448.6h0M113.1 431.0h0M106.3 473.2h0M83.3 475.2h0M48.5 449.6h0M41.9 490.1h0M107.5 422.3h0M60.8 479.1h0M34.6 449.7h0M71.1 491.2h0M90.7 460.4h0" stroke="#3626d8" stroke-width="1.2"/><path d="M115.4 448.3h0M73.1 425.7h0M115.0 429.5h0M42.0 486.6h0M89.9 461.7h0M112.7 461.0h0M100.8 464.8h0M90.3 436.8h0M73.9 453.8h0" stroke="#2818b8" stroke-width="1.6"/><path d="M50.9 489.5h0M88.0 432.6h0M83.3 490.4h0M79.5 456.9h0M51.5 478.8h0M93.3 455.8h0M50.7 451.3h0M89.4 447.0h0M43.9 463.4h0M110.1 432.5h0M47.1 489.1h0M116.3 482.2h0M112.9 453.0h0M39.3 446.4h0M102.5 423.3h0M89.3 448.3h0M118.9 440.4h0M89.4 481.4h0M115.2 471.2h0M72.0 439.6h0M31.9 480.0h0M80.1 433.7h0M44.0 471.7h0M60.3 453.3h0M116.7 443.3h0M45.7 434.3h0M83.0 454.2h0M34.3 460.6h0M97.6 451.7h0M70.3 485.4h0M51.7 432.2h0M62.5 492.4h0M112.8 475.1h0M82.1 486.0h0" stroke="#3424d0" stroke-width="1.2"/><path d="M46.8 424.0h0M68.4 490.4h0M44.5 481.0h0M37.2 448.3h0M95.9 443.1h0M62.1 464.6h0" stroke="#2c1ec8" stroke-width="1.6"/><path d="M106.5 487.1h0M108.9 472.0h0M74.1 470.7h0M37.3 488.8h0M71.3 453.9h0M88.3 482.5h0M108.6 447.0h0M78.9 434.5h0M82.9 441.3h0M52.1 449.9h0M64.1 455.8h0M57.0 452.0h0M63.0 472.2h0M67.7 449.6h0M36.5 458.0h0M32.9 427.4h0M57.3 451.9h0M98.0 469.6h0M64.9 423.0h0M34.7 428.7h0M53.1 446.0h0M68.4 445.8h0M62.9 440.5h0M115.0 483.6h0M103.5 485.8h0M79.1 433.8h0M123.8 477.5h0M95.2 423.5h0M40.8 466.0h0M78.1 468.1h0" stroke="#2818b8" stroke-width="1.2"/><path d="M89.5 487.6h0M115.1 468.1h0M36.5 463.4h0M104.9 484.6h0M125.3 449.7h0M57.6 474.2h0M42.3 443.3h0M50.4 440.0h0M117.0 449.8h0M120.7 455.0h0M51.7 488.9h0M35.3 441.4h0M42.9 432.1h0M110.1 451.1h0M89.0 461.1h0M123.6 424.6h0M116.3 486.5h0M94.8 436.4h0M85.3 458.7h0M54.0 484.7h0M125.0 473.4h0M101.2 462.4h0M95.0 464.1h0M66.6 422.6h0M46.9 462.4h0M71.2 463.7h0M116.7 462.3h0M101.5 489.5h0" stroke="#4030e8" stroke-width="1.2"/><path d="M63.0 470.2h0M49.5 486.2h0M49.7 453.7h0M123.1 477.5h0M85.6 460.9h0M115.6 490.9h0M98.6 459.5h0M68.7 481.9h0M34.7 475.7h0M122.0 482.1h0M64.2 479.7h0" stroke="#3424d0" stroke-width="1.6"/><path d="M65.3 456.2h0M106.3 424.9h0M51.8 467.5h0M101.2 481.6h0M81.6 475.0h0M80.6 487.3h0" stroke="#3626d8" stroke-width="1.6"/><path d="M96.7 430.2h0M38.6 465.5h0M88.8 433.3h0M69.1 425.0h0M124.8 439.7h0M46.7 455.5h0" stroke="#4030e8" stroke-width="1.6"/><path d="M89.2 422.6h0M114.3 481.8h0M98.7 475.9h0M50.5 468.1h0M95.3 466.7h0M96.9 461.8h0M47.2 430.7h0M120.9 488.0h0M54.5 477.0h0M63.8 445.9h0M124.1 485.4h0M71.7 454.6h0" stroke="#d02070" stroke-width="1.6"/><path d="M105.5 468.9h0" stroke="#e01c68" stroke-width="1.2"/><path d="M73.0 469.5h0" stroke="#a81460" stroke-width="2"/><path d="M108.9 472.7h0M73.2 424.7h0M87.2 438.1h0M51.0 489.9h0M33.2 443.6h0M44.9 487.7h0M100.5 426.2h0M33.2 481.2h0M64.5 474.1h0" stroke="#e01c68" stroke-width="1.6"/><path d="M40.8 464.2h0M111.9 474.3h0M38.3 435.7h0M121.8 479.7h0M71.0 438.1h0M84.3 432.3h0M119.8 425.7h0M57.8 428.6h0M64.4 445.5h0M105.9 470.2h0M50.7 453.0h0M72.1 433.8h0M119.4 428.8h0M47.9 473.3h0M48.8 485.5h0M59.8 462.8h0" stroke="#c8186a" stroke-width="1.6"/><path d="M47.8 467.0h0M44.2 460.9h0M116.7 434.9h0" stroke="#f02878" stroke-width="1.2"/><path d="M122.1 478.5h0M91.7 486.7h0M58.8 487.2h0M125.3 451.8h0" stroke="#e01c68" stroke-width="2"/><path d="M69.8 475.9h0M49.3 445.2h0M79.0 441.6h0M71.9 455.0h0M39.5 465.6h0M44.3 473.8h0M35.9 466.7h0M48.9 467.8h0M124.7 477.9h0M77.0 475.5h0M115.4 482.8h0" stroke="#f02878" stroke-width="1.6"/><path d="M68.1 488.7h0M49.8 467.0h0M123.2 481.9h0M67.5 430.6h0" stroke="#a81460" stroke-width="1.2"/><path d="M47.0 422.5h0M74.1 463.1h0M57.1 470.8h0M82.0 491.7h0M106.3 479.8h0" stroke="#c8186a" stroke-width="1.2"/><path d="M40.2 445.1h0M60.1 430.3h0M99.0 487.7h0M71.7 423.7h0M52.0 492.2h0M100.2 428.3h0M89.7 480.2h0M69.2 487.0h0" stroke="#a81460" stroke-width="1.6"/><path d="M69.9 477.3h0M34.0 442.2h0M41.2 462.9h0M102.1 450.9h0M32.1 455.0h0M91.9 431.8h0" stroke="#d02070" stroke-width="2"/><path d="M84.4 431.5h0M36.6 489.9h0" stroke="#c8186a" stroke-width="2"/><path d="M36.0 473.9h0M109.1 451.2h0M70.3 475.1h0" stroke="#f02878" stroke-width="2"/></g>
<line x1="114.5" y1="489.4" x2="121.9" y2="489.4" stroke="#c8a010" stroke-width="1.3"/>
<rect x="131" y="421.2" width="96.5" height="72.4" fill="#050310" stroke="none" stroke-width="1"/>
<g filter="url(#fb)" stroke-linecap="round" fill="none"><path d="M186.9 435.9h0M138.2 462.7h0M205.1 454.9h0M135.6 435.5h0M181.8 423.1h0M206.9 488.3h0M139.7 434.7h0" stroke="#3424d0" stroke-width="1.6"/><path d="M176.1 468.9h0M218.7 456.4h0M173.4 440.2h0M171.5 483.6h0M145.3 434.8h0M216.3 453.6h0M220.6 439.8h0M158.5 491.0h0M169.9 426.0h0M152.4 469.0h0M167.0 453.7h0M224.1 475.1h0M164.0 473.6h0M201.3 468.0h0M187.5 469.0h0M207.1 470.3h0M186.5 456.1h0M154.7 449.6h0M150.9 432.8h0M137.4 422.4h0M169.0 429.5h0M144.9 488.6h0M148.1 479.9h0M160.8 432.1h0M171.9 477.9h0M205.7 434.9h0M133.1 434.6h0M146.2 479.2h0M175.9 484.9h0M134.2 448.3h0M146.6 438.1h0M147.1 442.2h0M184.0 472.1h0M174.6 488.4h0M144.2 436.5h0M204.8 485.2h0M142.6 456.6h0M208.8 462.9h0M155.7 424.8h0M165.5 440.0h0M224.2 456.9h0M175.9 466.4h0M199.9 477.2h0M154.0 445.0h0M146.5 442.2h0M153.2 437.8h0M202.2 437.9h0M202.8 492.2h0M154.1 426.9h0M222.0 459.6h0M133.6 491.6h0M202.0 490.3h0M200.3 475.3h0M166.2 463.3h0M224.0 466.8h0M165.4 487.1h0" stroke="#2c1ec8" stroke-width="1.2"/><path d="M204.8 448.0h0M154.6 477.9h0M167.8 452.0h0M158.2 476.0h0M189.6 464.8h0M146.2 444.2h0M191.8 482.5h0M201.4 439.1h0M225.8 474.3h0M137.5 451.2h0M204.8 489.4h0M181.7 424.6h0M156.9 491.2h0M223.7 482.2h0M194.5 474.7h0M204.8 474.5h0M177.0 464.9h0M191.9 492.2h0M220.8 482.3h0M173.7 427.1h0M138.5 428.0h0M185.8 474.8h0M169.9 485.2h0M149.9 449.0h0M170.7 459.9h0M155.5 481.9h0M206.0 435.1h0M149.0 438.5h0M200.0 435.0h0M215.8 460.6h0M225.1 451.1h0M155.1 491.6h0M180.8 459.7h0M192.9 457.1h0M186.1 477.0h0M192.2 427.0h0M221.6 466.7h0M166.8 478.4h0M207.9 485.8h0M175.0 471.4h0M141.3 462.5h0M184.0 472.8h0M180.4 435.1h0M153.8 429.5h0" stroke="#2818b8" stroke-width="1.2"/><path d="M172.6 443.6h0M185.3 433.0h0M214.8 481.2h0M224.2 429.8h0M203.5 435.6h0M182.1 472.4h0M139.1 439.9h0M219.4 437.0h0M182.9 432.9h0M154.8 424.6h0M161.0 455.3h0M201.3 426.1h0M151.3 435.9h0M208.0 482.9h0M154.9 442.9h0M207.5 481.7h0M218.0 480.8h0M205.8 488.5h0M181.1 430.5h0M170.8 427.2h0M222.7 491.3h0M179.4 445.3h0M200.3 451.3h0M202.0 447.6h0M207.7 480.1h0M136.3 473.0h0M138.2 427.8h0M155.2 465.0h0M165.5 486.5h0M168.8 490.5h0" stroke="#3626d8" stroke-width="1.2"/><path d="M191.1 445.3h0M164.7 423.7h0M183.8 470.7h0M150.2 470.0h0M181.6 478.5h0M136.2 445.9h0M150.5 464.0h0M175.3 461.4h0M213.1 426.5h0M225.9 464.6h0M144.7 426.4h0M137.8 429.0h0M207.3 484.0h0M178.0 435.8h0M140.6 468.8h0M178.3 454.4h0M186.2 442.9h0M218.6 471.2h0M163.3 434.2h0M186.8 428.0h0M150.9 467.4h0M194.4 433.3h0M210.1 483.3h0M174.0 434.9h0M142.4 452.9h0M226.4 489.9h0M212.1 454.7h0M226.4 447.7h0M192.5 471.2h0M208.4 428.8h0M195.3 476.0h0M202.6 455.7h0M223.1 440.2h0M213.9 427.3h0M150.8 480.1h0M166.8 484.1h0M147.8 473.6h0M184.9 470.0h0" stroke="#4030e8" stroke-width="1.2"/><path d="M200.8 447.7h0M196.9 447.9h0M143.5 428.3h0M225.4 453.8h0M200.3 449.5h0M188.0 468.8h0M223.7 473.5h0M169.5 475.6h0M160.1 438.5h0M204.0 429.1h0M212.6 472.5h0M137.2 474.4h0M185.1 442.4h0M196.0 439.6h0M140.3 432.1h0M213.5 444.8h0M202.6 426.5h0M168.5 492.5h0M214.1 482.6h0M207.7 448.0h0M151.1 489.9h0M189.7 469.3h0M163.7 451.4h0M181.2 433.5h0M146.3 434.6h0M218.6 473.2h0M143.6 466.5h0M138.9 432.1h0M181.7 477.1h0M207.1 450.0h0M208.6 472.6h0M162.0 483.4h0M207.5 461.7h0M203.2 465.6h0M223.3 440.0h0M197.3 483.5h0M147.0 490.6h0M191.5 458.5h0M207.2 485.7h0M222.8 475.0h0M154.8 481.9h0M183.7 454.0h0M220.1 453.9h0M200.7 442.7h0" stroke="#3424d0" stroke-width="1.2"/><path d="M179.1 483.9h0M220.5 442.5h0M196.0 441.3h0M177.5 426.4h0M220.4 471.7h0M204.5 424.7h0M172.0 472.3h0M147.1 431.3h0M162.7 453.6h0" stroke="#4030e8" stroke-width="1.6"/><path d="M149.1 459.6h0M152.5 478.3h0M157.3 483.1h0M145.6 470.9h0M171.8 459.5h0M151.5 470.5h0M219.5 430.4h0M192.5 488.4h0" stroke="#3626d8" stroke-width="1.6"/><path d="M136.9 461.1h0M147.6 427.6h0M171.4 451.7h0M162.4 433.1h0M209.7 477.3h0M153.1 478.4h0M185.5 452.2h0" stroke="#2c1ec8" stroke-width="1.6"/><path d="M133.0 429.8h0M217.1 478.7h0M180.9 485.0h0M146.0 466.3h0M216.2 442.6h0M167.4 460.5h0M205.0 482.6h0" stroke="#2818b8" stroke-width="1.6"/><path d="M137.8 476.7h0M212.9 491.7h0M150.1 460.7h0M165.0 448.3h0M173.8 436.5h0M216.7 472.4h0" stroke="#e01c68" stroke-width="1.6"/><path d="M156.8 465.0h0M182.1 463.6h0M153.6 444.8h0M210.6 443.6h0M207.8 437.6h0M201.1 447.2h0" stroke="#f02878" stroke-width="1.6"/><path d="M217.4 486.6h0M181.6 483.4h0M188.1 473.7h0M205.7 459.6h0" stroke="#a81460" stroke-width="1.6"/><path d="M175.9 492.5h0" stroke="#c8186a" stroke-width="1.2"/><path d="M168.9 449.9h0M145.0 485.9h0M164.0 467.4h0" stroke="#d02070" stroke-width="1.6"/><path d="M146.0 422.4h0" stroke="#a81460" stroke-width="1.2"/><path d="M140.3 459.5h0" stroke="#e01c68" stroke-width="1.2"/><path d="M156.2 439.1h0M136.7 455.2h0" stroke="#c8186a" stroke-width="1.6"/><path d="M143.2 471.2h0" stroke="#c8186a" stroke-width="2"/></g>
<line x1="215.5" y1="489.4" x2="222.9" y2="489.4" stroke="#c8a010" stroke-width="1.3"/>
<rect x="231" y="421.2" width="96.5" height="72.4" fill="#050310" stroke="none" stroke-width="1"/>
<g filter="url(#fb)" stroke-linecap="round" fill="none"><path d="M246.0 465.6h0M302.5 484.5h0M267.6 438.2h0M269.7 486.1h0M291.1 483.3h0M243.3 455.6h0M271.3 484.7h0M274.3 468.9h0M239.6 449.6h0M300.8 451.4h0M296.8 480.9h0M256.1 450.8h0M292.3 455.6h0M295.2 487.0h0M308.9 468.5h0M250.6 473.7h0M302.0 457.4h0M235.7 435.1h0M322.2 445.6h0M254.9 447.3h0M264.5 479.0h0M316.4 464.1h0M250.5 436.4h0M278.4 468.6h0M277.6 485.9h0M249.1 488.5h0M254.0 491.1h0M299.0 472.7h0M254.8 481.1h0M261.8 432.9h0M302.6 479.1h0M288.8 466.5h0M272.7 464.4h0M302.1 481.6h0M284.2 490.9h0M288.4 464.8h0M277.2 473.4h0M240.9 452.7h0M316.1 426.7h0M232.5 432.1h0M234.9 437.5h0M257.8 490.2h0M292.5 478.5h0M326.3 481.1h0M325.1 461.0h0M324.8 471.4h0M235.2 491.6h0M234.9 470.1h0M306.2 429.5h0M287.7 487.5h0M324.4 432.9h0" stroke="#2c1ec8" stroke-width="1.2"/><path d="M294.5 435.0h0M255.3 428.7h0M238.8 438.9h0M305.3 422.5h0M251.6 474.3h0M307.0 472.5h0M286.7 433.6h0M315.5 431.7h0M284.2 479.7h0M266.1 485.7h0M245.8 456.5h0M267.4 475.1h0M254.9 467.5h0M234.5 469.8h0M305.7 425.3h0M268.3 442.2h0M270.2 466.4h0M313.6 492.5h0M300.7 462.8h0M249.8 489.6h0M290.8 480.7h0M255.7 439.9h0M326.3 448.7h0M268.6 422.8h0M301.8 482.1h0M323.6 435.3h0M232.9 482.6h0M303.7 480.4h0M280.4 455.4h0M269.7 456.4h0M298.8 490.0h0M280.9 476.9h0M295.9 423.6h0M274.4 471.1h0M241.0 440.7h0M285.5 424.3h0M308.2 478.1h0M233.1 474.8h0M274.7 431.3h0M292.7 458.6h0M234.8 485.9h0M292.8 426.1h0" stroke="#4030e8" stroke-width="1.2"/><path d="M285.5 425.2h0M237.0 435.1h0M279.3 437.8h0M250.4 452.3h0M292.4 455.3h0M302.2 464.5h0M282.4 490.8h0M245.0 464.4h0M250.5 428.5h0M322.6 424.4h0M294.6 446.7h0M273.5 487.1h0M258.7 426.8h0M262.7 480.3h0M239.8 459.4h0M280.2 422.8h0M281.3 433.4h0M322.1 470.1h0M241.7 445.5h0M290.4 470.9h0M286.0 484.8h0M278.5 423.2h0M273.3 472.0h0M261.4 454.2h0M280.7 446.1h0M241.1 449.9h0M286.0 455.9h0M305.8 487.2h0M318.8 478.8h0M268.8 434.7h0M285.3 479.7h0M285.4 462.4h0M256.3 492.5h0M250.7 468.3h0M241.0 489.5h0M290.8 426.2h0M242.3 446.3h0M286.2 443.1h0M246.6 465.2h0M297.8 464.1h0M257.9 471.8h0M240.3 443.1h0M248.1 434.1h0M300.3 423.2h0M305.6 471.6h0M263.1 455.4h0M241.6 464.9h0M293.0 458.1h0M246.9 468.2h0M254.3 456.7h0M310.8 451.9h0" stroke="#3424d0" stroke-width="1.2"/><path d="M278.4 451.2h0M305.6 459.0h0M249.7 477.3h0M248.1 477.8h0M304.2 487.4h0M264.3 431.7h0M298.3 483.3h0M258.0 440.6h0M276.6 481.9h0M287.3 434.2h0M319.6 487.7h0M245.4 488.3h0M290.4 428.7h0M297.6 471.2h0M277.2 463.1h0M251.8 454.1h0M304.9 435.6h0M249.3 422.6h0M294.1 434.3h0M305.2 437.7h0M254.9 450.2h0M265.8 461.7h0M243.0 485.8h0M316.1 486.2h0M280.1 457.4h0M309.5 443.6h0M275.3 470.8h0M252.2 459.1h0M299.0 426.5h0M274.1 456.0h0M253.1 476.0h0M304.4 472.2h0M321.2 477.0h0M281.6 447.4h0M242.8 454.7h0M235.7 474.6h0M312.8 490.3h0M241.7 445.4h0M250.3 482.9h0M235.8 441.4h0M296.6 477.3h0M272.1 469.3h0M255.5 428.6h0M316.9 430.5h0M258.8 457.1h0M257.8 445.8h0M254.0 473.4h0M289.1 425.4h0M257.9 462.1h0M323.6 433.4h0" stroke="#2818b8" stroke-width="1.2"/><path d="M284.7 453.2h0M323.8 450.6h0M291.6 451.8h0M252.8 469.7h0M309.9 456.5h0M239.8 429.4h0M265.2 449.2h0M297.6 457.6h0M269.4 470.8h0" stroke="#4030e8" stroke-width="1.6"/><path d="M298.3 487.1h0M317.3 484.0h0M249.3 441.7h0M309.4 470.7h0M306.1 491.0h0M300.4 457.4h0M306.1 488.4h0M303.7 456.9h0M286.7 482.1h0M262.1 443.3h0M326.4 483.6h0M265.9 463.0h0M237.7 434.4h0M284.8 425.9h0M267.8 465.4h0M238.5 428.1h0M281.8 430.4h0M269.9 436.8h0" stroke="#2c1ec8" stroke-width="1.6"/><path d="M305.6 473.4h0M284.3 427.8h0M277.7 436.6h0M325.5 459.5h0M291.9 442.2h0M280.6 435.8h0M280.4 479.1h0M271.7 477.3h0M313.0 485.1h0M317.6 481.6h0M248.6 427.4h0M310.7 484.2h0M312.7 433.6h0M278.1 479.9h0M240.1 446.6h0M258.4 484.6h0M255.2 463.1h0M317.8 491.8h0M305.2 484.2h0M262.3 443.7h0M268.9 480.6h0M320.5 488.2h0M261.8 449.0h0M263.6 468.9h0M267.6 489.1h0M282.8 435.7h0M251.2 427.3h0M257.1 424.2h0M313.5 466.2h0M314.7 458.9h0M240.8 490.8h0M275.9 445.7h0M315.6 484.8h0M286.2 457.4h0M234.2 479.1h0M279.8 427.5h0" stroke="#3626d8" stroke-width="1.2"/><path d="M288.9 456.1h0M233.7 454.0h0M257.6 468.9h0M286.7 459.2h0M244.0 460.2h0M312.3 474.4h0M301.5 453.3h0M307.9 474.3h0M312.7 427.7h0M282.8 475.9h0M248.3 434.8h0" stroke="#3626d8" stroke-width="1.6"/><path d="M258.6 461.4h0M240.4 426.0h0M232.7 474.6h0M295.4 479.9h0M295.6 438.4h0M326.4 487.2h0M321.3 483.7h0M286.8 461.2h0M241.7 473.1h0M287.7 476.6h0M265.0 422.9h0M314.4 478.5h0M233.1 450.7h0M285.9 476.7h0M243.9 440.1h0" stroke="#2818b8" stroke-width="1.6"/><path d="M248.4 437.6h0M264.8 465.8h0M235.4 430.7h0M269.5 467.7h0M256.8 479.3h0M238.2 481.6h0M268.8 429.6h0" stroke="#3424d0" stroke-width="1.6"/><path d="M294.7 430.1h0M266.0 477.3h0" stroke="#f02878" stroke-width="2"/><path d="M318.0 481.1h0" stroke="#e01c68" stroke-width="1.2"/><path d="M311.1 461.0h0M236.5 488.9h0M245.2 446.9h0" stroke="#e01c68" stroke-width="1.6"/><path d="M308.4 442.4h0" stroke="#d02070" stroke-width="1.6"/><path d="M245.1 463.4h0M324.9 445.9h0" stroke="#a81460" stroke-width="2"/><path d="M325.8 479.3h0M259.8 477.2h0" stroke="#c8186a" stroke-width="1.6"/><path d="M300.4 458.6h0" stroke="#c8186a" stroke-width="2"/></g>
<line x1="315.5" y1="489.4" x2="322.9" y2="489.4" stroke="#c8a010" stroke-width="1.3"/>
<text x="0" y="0" font-size="9.41" font-weight="bold" text-anchor="middle" fill="#111" transform="translate(79.5 418.29) scale(0.9 1)" stroke="#111" stroke-width="0.35">si-NC</text>
<text x="0" y="0" font-size="9.41" font-weight="bold" text-anchor="middle" fill="#111" transform="translate(180 418.29) scale(0.9 1)" stroke="#111" stroke-width="0.35">si-<tspan font-style="italic">SNRPE</tspan>#1</text>
<text x="0" y="0" font-size="9.41" font-weight="bold" text-anchor="middle" fill="#111" transform="translate(279 418.29) scale(0.9 1)" stroke="#111" stroke-width="0.35">si-<tspan font-style="italic">SNRPE</tspan>#2</text>
<text x="0" y="0" font-size="18.15" font-weight="bold" text-anchor="start" fill="#111" transform="translate(352 422) scale(0.9 1)" stroke="#111" stroke-width="0.35">F</text>
<line x1="375.6" y1="421" x2="375.6" y2="494" stroke="#1a1a1a" stroke-width="1"/>
<text x="0" y="0" font-size="10" font-weight="bold" text-anchor="middle" fill="#111" transform="translate(369.3 457.5) rotate(-90)" stroke="#111" stroke-width="0.35">SKOV3</text>
<rect x="380" y="421.5" width="96.5" height="72" fill="#04020e" stroke="none" stroke-width="1"/>
<g filter="url(#fb)" stroke-linecap="round" fill="none"><path d="M385.3 436.7h0M462.3 441.2h0M424.5 436.0h0M447.2 447.1h0M413.6 458.6h0M472.8 438.3h0M401.0 488.2h0M422.8 473.5h0M459.8 471.6h0M444.6 471.8h0M393.4 472.5h0M394.1 449.1h0M422.6 452.9h0M417.8 483.0h0M431.9 489.6h0M429.3 484.7h0M409.4 457.4h0M419.3 453.7h0M397.8 468.1h0M436.2 453.3h0M395.2 438.6h0M440.3 435.9h0M467.3 448.2h0M390.5 425.4h0M407.5 448.8h0M441.7 426.5h0M441.9 468.5h0M454.1 427.1h0M449.7 446.3h0M449.1 448.1h0M408.9 437.5h0M404.2 428.4h0M431.6 483.9h0M382.6 487.7h0M424.5 448.8h0M391.1 487.8h0M401.4 469.7h0M409.0 438.4h0M422.5 486.6h0M465.3 466.8h0M406.1 440.6h0M463.6 468.1h0M468.2 446.7h0M446.3 430.9h0M471.4 458.5h0M419.0 454.6h0M421.6 434.5h0M399.9 445.4h0M389.9 480.8h0M434.7 453.0h0M406.7 492.3h0M469.8 459.6h0M438.1 464.8h0M452.1 478.0h0M447.7 441.9h0M451.6 457.2h0M447.4 488.8h0M461.8 436.7h0M383.7 474.5h0M474.2 484.6h0M395.6 475.0h0M474.7 466.7h0M395.2 432.4h0M464.9 461.9h0M404.9 491.7h0M387.4 432.5h0M450.7 489.2h0M442.5 423.6h0M385.0 466.7h0M435.3 468.1h0M387.2 459.8h0M434.5 457.5h0M390.3 491.5h0M437.9 479.8h0M424.2 491.9h0M432.5 457.1h0M418.1 471.7h0M395.5 492.3h0M445.7 442.2h0M452.3 450.9h0M412.7 445.8h0M419.4 476.9h0M395.0 452.4h0M381.8 422.6h0M457.1 471.8h0M392.5 485.9h0M474.1 474.7h0M392.6 460.9h0M421.7 461.3h0M407.0 444.9h0M418.2 441.9h0M470.3 486.1h0M448.3 458.8h0M464.7 442.8h0M402.5 443.7h0M462.0 432.1h0M404.0 442.1h0M387.1 479.5h0M461.4 490.5h0M387.6 458.2h0M407.3 482.5h0M467.3 429.0h0M412.1 443.9h0M462.2 438.9h0" stroke="#3626d8" stroke-width="1.2"/><path d="M448.1 472.8h0M396.2 435.8h0M404.0 459.1h0M470.3 476.3h0M395.6 456.5h0M460.3 459.5h0M467.1 457.2h0M412.2 469.5h0M437.8 434.1h0M451.6 438.1h0M453.0 477.5h0M449.0 435.3h0M475.1 443.8h0M399.1 437.2h0M428.3 423.8h0M403.8 475.1h0M417.2 449.5h0M407.6 426.2h0M390.4 455.4h0M471.0 433.1h0M417.4 463.1h0M400.1 450.4h0M450.1 441.5h0M406.6 461.3h0M390.0 458.7h0M452.6 482.8h0M437.7 465.9h0M417.4 429.8h0M448.9 453.7h0M444.8 465.3h0M423.7 435.2h0M453.5 440.1h0M468.7 426.2h0M465.1 433.4h0M386.0 454.3h0M474.8 474.0h0M407.5 483.2h0M441.5 456.7h0M468.2 424.7h0M402.2 464.3h0M469.8 484.1h0M410.8 424.7h0M452.3 468.3h0M392.4 442.5h0M473.7 426.5h0M411.7 483.8h0M401.2 488.9h0M402.1 461.5h0M381.7 441.6h0M397.3 427.7h0M452.2 445.4h0M408.7 476.5h0M456.0 447.3h0M410.0 453.1h0M402.3 465.1h0M474.2 486.3h0M430.7 444.2h0M403.6 460.6h0M420.1 435.0h0M424.2 456.1h0M435.8 485.7h0M421.7 440.9h0M447.0 472.9h0M393.1 436.4h0M430.6 433.8h0M413.6 485.3h0M472.1 424.2h0M468.3 465.3h0M454.5 470.1h0M394.6 443.1h0M469.4 491.2h0M436.4 425.1h0M401.5 487.2h0M410.8 481.6h0M385.3 430.7h0M438.0 457.0h0M433.7 466.8h0M386.5 422.9h0M404.2 474.3h0M395.9 465.1h0M428.1 470.3h0M407.8 477.3h0M391.8 465.3h0M397.2 491.4h0M433.0 446.1h0M474.5 469.6h0M422.4 470.4h0M429.1 484.6h0M399.2 465.1h0M406.3 432.8h0" stroke="#2818b8" stroke-width="1.2"/><path d="M402.7 488.7h0M391.5 438.3h0M385.3 490.9h0M474.2 455.1h0M401.4 436.3h0M433.5 447.8h0M423.3 430.7h0M382.3 440.8h0M466.4 483.1h0M472.5 424.3h0M471.7 480.4h0M417.9 454.8h0M452.1 466.2h0M411.2 430.1h0M383.9 489.0h0M446.8 439.4h0M468.0 490.0h0M412.8 432.0h0M411.2 447.3h0M391.8 432.6h0M456.9 472.7h0M386.3 465.1h0M418.8 434.6h0M460.4 490.2h0M453.6 451.3h0M413.4 444.8h0M439.4 429.1h0M457.4 477.1h0M399.1 488.4h0M400.4 437.9h0M399.6 427.4h0M463.1 464.9h0M430.0 445.9h0M437.1 489.7h0M450.6 436.4h0M387.1 490.5h0M473.7 475.4h0M448.3 462.5h0M422.9 471.1h0M398.7 483.8h0M397.5 426.7h0M455.0 429.0h0M446.9 435.5h0M450.7 449.9h0M434.2 484.3h0M422.1 458.6h0M430.3 461.3h0M439.0 448.5h0M461.7 451.0h0M466.6 460.0h0M407.7 472.3h0M469.2 475.7h0M441.2 482.3h0M472.9 471.0h0M441.6 433.8h0M426.2 423.8h0M406.7 474.8h0M434.8 455.5h0M416.3 429.1h0M447.5 452.4h0M454.8 439.1h0M435.1 423.8h0M417.6 422.9h0M464.4 483.3h0M396.9 487.5h0M456.4 478.4h0M431.4 476.9h0M473.9 445.0h0M387.8 433.7h0M420.9 476.8h0M452.3 466.5h0M469.6 439.9h0M419.9 467.5h0M385.8 479.3h0M458.1 426.9h0M456.8 482.4h0M427.0 442.5h0M437.9 485.4h0M446.2 474.3h0M466.0 434.1h0M443.0 450.1h0M414.6 446.6h0M454.5 435.8h0M433.0 477.1h0M420.3 479.4h0M425.7 435.1h0M452.5 479.3h0M442.5 492.2h0M442.3 467.1h0M411.1 470.2h0M421.9 461.6h0M445.9 473.4h0M444.4 429.4h0M436.2 464.6h0M388.8 488.9h0" stroke="#4030e8" stroke-width="1.2"/><path d="M392.5 432.3h0M394.8 460.4h0M385.7 432.6h0M413.0 445.9h0M417.2 462.4h0M446.0 489.8h0M416.2 423.6h0M427.3 445.2h0M434.7 432.3h0M452.5 468.8h0M426.8 430.7h0M449.8 483.9h0M442.2 454.1h0M419.0 483.1h0M422.5 451.3h0M462.1 427.9h0M400.2 430.7h0M463.6 456.0h0M458.2 443.7h0M419.7 456.6h0M429.1 426.4h0M419.1 450.4h0M392.1 471.9h0M462.8 460.9h0M459.4 477.1h0M415.1 474.7h0M386.8 490.1h0M419.9 489.6h0M406.3 434.3h0M455.4 424.6h0M385.6 436.2h0M402.0 443.5h0M390.6 440.3h0M461.4 484.0h0M395.3 439.0h0M461.6 430.6h0M412.1 436.9h0M411.8 458.5h0M433.8 474.0h0M427.0 441.1h0M402.4 484.7h0M455.0 443.3h0M414.8 428.1h0M440.6 432.0h0M441.5 489.7h0M400.5 461.9h0M388.6 434.3h0M406.0 487.0h0M466.7 423.5h0M421.1 488.9h0M418.3 445.7h0M381.3 447.5h0M448.9 473.3h0M382.5 423.6h0M440.8 456.7h0M437.2 438.2h0M398.6 442.7h0M414.5 445.4h0M404.4 478.0h0M466.3 482.5h0M469.4 482.0h0M438.5 461.3h0M433.5 455.6h0M459.4 437.1h0M386.2 460.0h0M389.1 435.1h0M389.7 432.1h0M472.4 433.4h0M396.3 447.0h0M424.9 463.5h0M462.6 460.3h0M448.4 485.8h0M392.0 489.2h0M426.2 430.7h0M436.3 464.9h0M448.3 432.6h0M390.9 447.6h0M463.3 478.5h0M415.9 436.9h0M413.3 475.0h0M393.0 428.9h0M392.3 453.2h0M472.1 446.0h0M419.9 491.3h0M475.3 460.0h0M456.7 463.0h0M455.3 452.7h0M433.1 491.5h0M383.3 425.7h0M382.9 462.3h0M432.2 434.3h0M387.7 435.2h0" stroke="#2c1ec8" stroke-width="1.2"/><path d="M400.3 472.2h0M416.7 488.5h0M427.8 433.1h0M415.2 465.4h0M471.2 426.5h0M459.7 434.3h0M416.5 437.8h0M440.7 487.4h0M429.3 432.7h0M426.3 464.0h0" stroke="#3626d8" stroke-width="0.8"/><path d="M468.0 472.3h0M416.0 450.2h0M412.5 476.1h0M426.0 441.5h0M448.8 440.0h0M423.6 428.6h0M398.7 439.9h0" stroke="#2c1ec8" stroke-width="0.8"/><path d="M406.1 454.7h0M391.4 438.1h0M394.7 479.0h0M458.4 456.5h0M382.8 441.9h0M393.7 490.4h0M457.4 479.8h0M400.0 488.8h0M399.6 449.0h0M399.3 458.3h0M427.2 487.1h0M459.1 478.5h0M405.4 424.6h0M447.5 488.3h0M419.9 454.4h0M431.2 426.7h0M458.5 449.5h0M452.8 435.4h0M470.0 436.7h0M439.1 470.6h0M425.4 438.4h0M382.6 480.6h0M412.3 488.2h0M427.1 449.5h0M407.6 470.6h0M440.9 446.7h0M448.1 484.4h0M457.2 423.0h0M422.2 444.5h0M416.6 445.2h0M445.1 484.9h0M437.4 442.5h0M474.1 462.9h0M464.8 456.2h0M467.8 452.5h0M436.5 477.8h0M408.5 447.9h0M463.7 472.1h0M400.4 485.9h0M412.4 454.6h0M382.9 491.7h0M430.8 465.6h0M393.4 465.9h0M425.9 423.0h0M462.9 458.2h0M457.1 463.8h0M429.8 481.2h0M392.2 455.9h0M392.3 431.9h0M465.6 426.6h0M466.4 458.9h0M465.2 486.9h0M400.6 448.8h0M420.6 423.6h0M397.4 472.9h0M390.9 445.2h0M416.3 458.6h0M461.5 460.8h0M450.2 452.4h0M428.9 468.6h0M474.4 480.7h0M391.1 445.3h0M454.1 434.9h0M386.9 431.1h0M382.9 473.8h0M411.6 432.7h0M437.5 435.8h0M445.9 471.6h0M411.9 463.8h0M398.5 467.9h0M395.4 463.9h0M421.7 462.7h0M433.3 453.0h0M402.9 475.3h0M467.9 482.0h0M409.4 475.4h0M391.1 484.9h0M440.9 438.5h0M434.7 424.5h0M396.6 469.1h0M414.9 477.6h0M438.5 478.6h0M440.1 425.9h0M403.0 453.2h0M445.9 425.7h0M459.4 429.8h0M444.6 434.9h0M399.2 429.3h0M452.9 443.5h0M415.1 444.1h0M430.0 432.2h0" stroke="#3424d0" stroke-width="1.2"/><path d="M443.4 429.6h0M404.0 476.7h0M441.9 447.2h0M448.5 490.7h0M458.9 454.5h0M456.8 447.6h0M442.1 428.6h0M457.2 475.8h0M423.8 429.8h0M461.3 425.0h0M418.8 437.4h0" stroke="#2818b8" stroke-width="0.8"/><path d="M408.5 449.0h0M468.3 483.5h0M409.1 430.8h0M466.3 454.1h0M421.1 422.5h0M387.6 492.1h0M469.4 423.7h0M436.7 427.7h0M410.4 477.8h0M388.8 424.6h0M384.1 460.5h0" stroke="#4030e8" stroke-width="0.8"/><path d="M400.1 443.8h0M428.0 455.1h0M419.3 454.4h0M385.6 447.6h0M454.3 429.5h0M394.8 440.9h0M418.5 468.4h0M417.8 482.3h0M430.5 436.1h0" stroke="#3424d0" stroke-width="0.8"/><path d="M453.2 491.8h0M449.8 426.4h0M411.7 466.4h0M401.0 469.8h0M464.5 487.5h0M414.5 487.5h0M469.8 487.3h0M453.0 478.0h0M381.1 444.4h0M381.7 424.6h0M387.3 423.4h0M415.7 449.2h0M404.1 454.6h0M401.9 453.8h0M410.1 458.3h0M391.8 448.0h0M444.8 455.7h0M418.0 440.7h0M438.3 477.0h0M448.0 470.2h0M425.1 482.3h0M399.5 452.0h0M425.0 459.4h0M422.3 476.8h0M455.3 486.6h0M390.5 482.1h0M469.8 452.7h0" stroke="#c8186a" stroke-width="1.2"/><path d="M385.0 465.9h0M400.6 482.3h0M397.6 436.9h0M434.1 476.8h0M462.9 458.7h0M393.5 459.7h0M409.6 484.3h0M471.0 477.2h0M463.6 490.6h0M411.9 453.0h0M383.3 461.1h0M389.7 475.7h0M446.4 449.5h0M381.6 430.0h0M424.4 458.8h0M461.9 466.1h0M415.3 456.6h0M423.2 435.1h0M399.9 470.9h0M404.0 484.4h0M435.7 458.1h0M457.6 464.7h0M395.4 426.3h0M468.3 491.4h0M396.4 459.9h0M388.9 472.0h0M382.4 448.2h0M435.8 485.8h0M389.5 450.8h0" stroke="#e01c68" stroke-width="1.2"/><path d="M447.8 474.6h0M450.6 464.9h0M388.1 447.8h0M448.3 454.2h0M418.8 428.6h0M470.6 446.2h0M435.1 453.2h0M465.7 492.1h0M390.6 470.0h0M420.7 465.1h0M383.5 456.4h0M460.2 428.7h0M383.6 483.6h0M431.1 490.3h0M390.1 446.7h0M428.8 427.4h0M471.3 469.9h0M403.4 457.7h0M382.4 427.5h0M388.0 433.0h0M447.0 453.5h0M454.2 484.3h0M440.2 449.3h0M419.4 432.3h0M413.9 457.9h0M391.4 487.3h0" stroke="#a81460" stroke-width="1.2"/><path d="M420.3 485.6h0M383.2 453.8h0M470.4 426.2h0M390.1 487.0h0M386.3 462.6h0M454.0 432.4h0M423.1 476.4h0M441.6 432.8h0M391.8 434.2h0M405.3 473.1h0M415.2 446.8h0M468.4 430.1h0M444.4 469.6h0M427.1 476.9h0M404.2 430.4h0M436.7 478.4h0M391.5 451.4h0M435.7 449.2h0M456.9 453.9h0M427.7 452.1h0M449.9 437.2h0M436.0 442.7h0M460.1 471.6h0M465.2 443.7h0M392.0 448.9h0M471.4 425.0h0M442.7 432.9h0M445.4 460.4h0M403.7 479.0h0M437.2 449.3h0M442.7 427.1h0M427.3 472.8h0M446.2 472.1h0M385.2 433.0h0M412.7 483.0h0M468.9 460.6h0M384.6 422.9h0M383.7 462.8h0" stroke="#d02070" stroke-width="1.2"/><path d="M458.3 486.4h0M466.3 467.9h0M408.0 465.0h0M448.2 447.1h0M440.8 461.5h0M418.1 477.0h0M413.0 427.0h0M424.8 427.2h0M417.2 443.7h0M405.0 480.6h0M440.6 437.8h0M394.6 480.6h0M426.7 479.7h0M458.5 455.6h0M472.9 470.5h0M386.7 426.8h0M464.1 447.7h0M474.7 476.4h0M466.4 477.9h0M410.5 456.2h0M458.5 448.2h0M446.3 449.3h0M396.2 467.4h0M462.4 466.2h0M437.8 485.6h0M389.4 473.1h0M448.7 455.1h0M427.4 437.7h0M472.9 427.4h0M421.3 481.9h0M410.0 423.2h0M466.5 486.4h0M392.4 456.3h0M474.3 457.6h0M393.4 479.9h0M397.5 469.6h0M415.5 436.8h0" stroke="#f02878" stroke-width="1.2"/><path d="M441.7 464.3h0M414.1 475.9h0M453.9 440.0h0M415.1 480.5h0" stroke="#f02878" stroke-width="1.6"/><path d="M401.6 447.7h0M409.7 461.1h0" stroke="#a81460" stroke-width="1.6"/><path d="M391.5 436.6h0M426.7 458.8h0M474.9 483.8h0" stroke="#e01c68" stroke-width="1.6"/><path d="M401.9 422.6h0M389.3 484.0h0M448.8 458.8h0" stroke="#c8186a" stroke-width="1.6"/><path d="M468.6 457.6h0" stroke="#d02070" stroke-width="1.6"/></g>
<line x1="464.5" y1="489.3" x2="471.9" y2="489.3" stroke="#c8a010" stroke-width="1.3"/>
<rect x="480.3" y="421.5" width="96.5" height="72" fill="#04020e" stroke="none" stroke-width="1"/>
<g filter="url(#fb)" stroke-linecap="round" fill="none"><path d="M487.6 445.3h0M559.9 481.4h0M563.8 458.3h0M541.8 444.3h0M533.5 478.8h0M524.1 463.3h0M530.2 482.5h0M536.7 480.9h0M519.8 476.5h0M496.0 468.2h0M494.6 479.4h0M499.3 448.9h0M520.3 464.3h0M552.5 447.0h0M566.7 437.6h0M536.3 439.2h0M546.3 467.7h0M526.4 468.6h0M508.4 480.2h0M546.2 436.3h0M562.0 471.8h0M484.3 490.6h0M482.9 440.8h0M563.1 455.3h0M533.8 465.6h0M492.8 469.7h0M536.2 461.2h0M483.6 429.1h0M501.9 477.5h0M554.9 468.1h0M562.3 443.7h0M520.1 487.7h0M566.3 461.3h0M491.1 427.3h0M539.2 486.0h0M572.0 457.5h0M526.7 442.4h0M496.5 449.1h0M512.0 437.4h0M507.2 429.2h0M518.1 439.1h0M563.0 457.2h0M537.3 470.7h0M524.7 463.2h0M527.0 461.2h0M513.1 457.2h0M499.6 463.0h0M490.4 458.7h0M531.8 427.1h0M484.9 441.5h0M564.2 437.1h0M518.2 449.3h0M539.7 446.2h0M485.1 446.8h0M567.7 433.2h0M483.8 431.2h0M506.9 437.5h0M563.9 460.8h0M564.8 431.0h0M508.8 453.8h0M526.8 463.5h0M517.5 453.5h0M517.7 438.1h0M515.6 443.0h0M573.0 483.3h0M525.3 438.0h0M504.9 442.3h0M572.2 462.1h0M494.1 452.3h0M555.7 443.7h0M540.8 491.2h0M498.3 461.6h0M513.3 450.4h0M514.8 442.1h0M514.5 492.0h0M526.9 447.4h0M505.3 460.5h0M493.7 491.6h0M549.9 482.3h0M489.6 452.5h0M550.0 452.7h0M552.2 454.7h0M560.5 439.0h0M559.0 488.6h0M513.0 436.2h0M569.3 470.3h0M545.2 459.1h0M560.9 453.5h0M522.1 433.5h0M527.6 474.9h0M506.0 427.9h0M523.7 488.2h0" stroke="#3626d8" stroke-width="1.2"/><path d="M512.1 471.5h0M564.6 435.6h0M484.8 473.5h0M484.4 474.3h0M530.0 446.7h0M497.5 426.5h0M529.2 491.4h0M495.8 435.6h0M565.2 472.0h0M489.1 429.6h0M502.6 440.4h0M509.5 470.8h0M491.4 460.6h0M508.9 489.1h0M548.8 485.5h0M503.4 468.3h0M495.2 427.7h0M552.0 458.8h0M518.3 439.8h0M572.2 472.5h0M553.9 441.5h0M512.5 477.5h0M490.4 431.6h0M566.6 451.5h0M567.3 486.1h0M494.8 439.2h0M509.1 459.3h0M547.2 442.3h0M531.4 476.1h0M513.9 426.2h0M575.6 490.8h0M561.5 483.3h0M575.8 483.6h0M515.8 461.0h0M521.4 435.9h0M525.9 431.2h0M501.2 431.0h0M550.3 473.7h0M538.2 481.1h0M489.2 436.0h0M552.1 429.6h0M572.8 426.8h0M491.7 429.2h0M509.7 438.4h0M548.8 453.4h0M554.1 440.6h0M575.7 455.3h0M494.2 438.5h0M535.4 490.8h0M505.9 465.1h0M572.7 433.3h0M573.5 454.8h0M558.3 452.5h0M506.3 477.6h0M530.5 481.2h0M566.2 484.0h0M563.5 452.9h0M535.3 463.6h0M527.5 447.2h0M481.4 460.0h0M565.1 441.0h0M516.2 475.8h0M528.2 473.5h0M523.6 457.7h0M502.0 478.7h0M489.9 471.5h0M564.1 455.2h0M516.4 482.2h0M564.0 477.7h0M546.5 477.6h0M537.8 433.7h0M495.6 450.8h0M564.3 423.5h0M571.3 454.3h0M525.3 425.1h0M497.7 433.2h0M492.3 462.1h0M563.5 438.3h0M546.7 477.2h0M482.8 465.4h0M566.6 432.6h0M506.6 458.7h0M487.5 465.6h0M553.7 428.7h0M511.1 445.2h0M560.1 491.8h0M560.8 480.4h0M551.0 442.9h0M523.9 466.1h0M532.2 460.7h0M568.5 474.0h0M521.2 441.0h0M575.6 428.8h0M541.2 447.0h0M543.8 468.7h0M522.4 450.5h0M488.3 490.0h0M525.3 488.9h0M511.7 455.6h0M485.0 455.2h0M490.2 489.7h0M511.8 432.9h0M489.4 488.6h0M493.7 461.9h0M533.7 487.9h0M513.7 468.6h0M548.6 462.0h0M485.2 478.0h0M539.9 459.4h0M558.9 452.0h0M488.3 459.2h0M528.6 472.6h0" stroke="#2818b8" stroke-width="1.2"/><path d="M506.9 456.3h0M526.9 472.7h0M553.2 472.9h0M554.2 456.8h0M574.8 469.3h0M567.1 459.8h0M493.9 459.5h0M529.4 484.7h0M549.2 465.4h0M543.4 463.4h0M504.0 462.8h0M552.0 476.3h0M572.6 479.6h0M522.1 430.2h0M498.7 471.8h0M546.5 457.4h0M573.7 435.1h0M488.7 430.1h0M552.7 464.6h0M536.6 447.1h0M556.8 425.5h0M544.8 448.8h0M554.7 465.6h0M503.4 426.3h0M556.4 487.0h0M512.9 460.1h0M521.8 483.6h0M486.5 486.6h0M541.2 425.7h0M536.2 470.6h0M511.2 482.6h0M500.8 434.5h0M553.0 457.5h0M522.2 489.1h0M530.8 446.4h0M565.4 430.7h0M485.3 492.5h0M557.4 440.8h0M492.5 453.9h0M569.5 441.7h0M482.5 429.6h0M549.4 467.8h0M526.6 439.8h0M536.4 448.3h0M510.6 476.3h0M562.3 468.5h0M505.0 453.6h0M546.5 463.7h0M555.6 490.0h0M517.5 447.6h0M499.0 437.8h0M529.9 489.1h0M566.1 436.1h0M520.3 449.6h0M564.6 445.2h0M509.5 461.1h0M565.2 423.0h0M541.3 430.3h0M518.4 441.1h0M501.6 465.3h0M523.3 423.2h0M546.9 429.6h0M561.0 450.2h0M504.1 475.4h0M504.7 485.0h0M525.9 453.9h0M516.7 470.2h0M571.3 447.5h0M487.8 459.9h0M562.7 447.8h0M518.4 432.6h0M554.7 454.0h0M568.3 439.2h0M574.5 449.2h0M526.2 479.4h0M529.6 468.5h0M566.7 491.4h0M499.9 470.0h0M488.2 472.4h0M507.6 468.2h0M517.7 437.1h0M540.8 429.8h0M487.8 469.5h0M521.6 423.1h0M565.6 431.9h0M507.9 461.3h0M536.4 467.0h0M558.4 446.6h0M572.5 488.3h0M566.8 454.8h0M507.7 450.6h0M502.4 486.2h0M498.6 455.0h0M549.9 469.2h0M550.1 427.2h0M571.7 439.7h0M503.5 460.3h0M536.0 442.5h0M512.2 469.9h0M500.0 487.3h0M546.0 425.3h0M555.0 458.5h0" stroke="#3424d0" stroke-width="1.2"/><path d="M494.5 462.2h0M516.4 434.3h0M562.3 463.4h0M509.7 491.5h0M507.9 477.8h0M495.1 447.8h0M515.8 471.9h0M557.4 462.2h0M548.7 440.8h0M548.5 449.6h0M488.3 472.6h0M541.9 448.1h0M532.2 425.7h0M558.2 484.2h0M498.8 461.8h0" stroke="#2818b8" stroke-width="0.8"/><path d="M503.0 485.9h0M531.3 435.0h0M520.1 428.2h0M534.9 476.2h0M502.9 439.2h0M546.7 475.7h0M526.7 479.0h0M482.4 458.1h0M506.1 482.4h0M501.2 456.8h0M515.3 469.9h0M575.3 447.3h0" stroke="#2c1ec8" stroke-width="0.8"/><path d="M491.5 461.6h0M520.4 481.5h0M546.9 487.4h0M495.6 462.5h0M500.5 490.8h0M492.3 464.1h0M571.3 473.3h0M547.6 481.2h0M515.3 471.5h0M495.4 467.3h0M483.3 467.9h0M504.7 422.7h0M540.7 461.3h0M563.0 467.7h0M553.1 453.2h0M519.5 442.2h0M488.4 474.9h0M505.3 425.8h0M487.1 478.7h0M483.9 447.2h0M539.3 492.1h0M531.3 491.2h0M523.5 445.4h0M493.8 433.9h0M553.3 463.4h0M536.5 437.7h0M567.2 429.6h0M494.8 437.8h0M528.2 487.9h0M531.5 455.5h0M526.2 437.6h0M546.3 450.4h0M563.6 440.1h0M572.6 489.8h0M504.0 423.6h0M511.2 436.3h0M540.1 481.7h0M492.3 443.2h0M519.3 431.4h0M512.5 465.3h0M519.9 441.5h0M534.8 467.1h0M572.0 449.8h0M547.2 427.4h0M518.0 433.9h0M550.2 429.7h0M569.1 453.1h0M488.0 438.0h0M567.0 474.6h0M529.0 487.1h0M500.3 490.6h0M529.2 455.4h0M490.5 432.2h0M528.2 442.0h0M539.4 427.9h0M555.4 439.1h0M501.3 443.9h0M564.2 429.8h0M564.6 467.0h0M524.8 492.2h0M550.0 473.7h0M501.2 483.4h0M536.5 451.8h0M547.1 475.1h0M560.2 491.2h0M534.2 483.0h0M561.8 425.3h0M524.1 482.2h0M539.2 434.9h0M546.8 469.7h0M520.2 463.8h0M543.5 474.7h0M485.8 491.1h0M520.3 473.4h0M521.0 459.8h0M494.6 427.1h0M502.4 492.1h0M547.2 481.9h0M568.9 436.5h0M560.3 448.7h0M509.0 432.5h0M538.1 478.0h0M554.4 434.8h0M543.0 426.1h0M491.2 424.3h0M561.3 425.5h0M542.6 439.5h0M527.7 458.3h0M531.1 473.5h0" stroke="#2c1ec8" stroke-width="1.2"/><path d="M553.3 477.0h0M553.3 444.4h0M505.1 463.9h0M506.7 487.3h0M492.0 446.0h0M483.2 422.8h0M539.0 478.5h0M484.1 429.0h0M511.0 459.3h0M482.5 469.4h0M511.3 483.1h0M554.5 437.4h0M535.7 428.3h0M548.8 461.4h0M502.8 431.7h0M527.2 446.5h0M557.3 472.6h0M527.1 431.1h0M517.0 447.1h0M488.6 471.4h0M508.8 471.2h0M554.0 448.2h0M549.6 444.9h0M514.7 459.5h0M498.1 483.6h0M510.4 448.2h0M547.4 465.4h0M506.7 467.6h0M506.7 457.8h0M566.4 477.2h0M571.8 431.4h0M507.9 442.6h0M551.0 429.8h0M483.8 444.2h0M559.0 473.5h0M508.0 441.0h0M505.4 437.5h0M539.0 429.8h0M550.8 451.6h0M520.5 492.0h0M501.0 465.2h0M574.3 458.0h0M526.7 432.4h0M538.2 463.7h0M509.3 429.0h0M527.8 437.8h0M511.4 454.9h0M536.0 459.2h0M482.0 460.7h0M564.7 438.2h0M516.8 438.1h0M490.0 457.2h0M535.5 463.2h0M563.2 447.2h0M529.4 446.8h0M493.0 482.3h0M494.0 467.0h0M514.0 430.6h0M520.0 480.8h0M528.2 465.6h0M554.4 438.4h0M569.8 425.2h0M570.8 470.1h0M567.0 483.3h0M524.3 446.4h0M509.6 443.8h0M573.4 447.8h0M564.4 478.4h0M528.8 444.3h0M554.1 467.9h0M509.7 479.2h0M521.0 477.0h0M504.2 439.3h0M535.6 444.2h0M566.8 437.7h0M495.9 465.8h0M506.4 441.0h0M527.0 430.4h0M555.0 492.4h0M506.4 476.8h0M565.0 476.5h0M517.1 434.9h0M549.7 437.1h0M498.6 429.2h0M493.4 443.0h0M573.9 446.7h0" stroke="#4030e8" stroke-width="1.2"/><path d="M485.1 484.1h0M519.0 426.7h0M489.0 440.4h0M556.8 445.1h0M520.6 474.5h0M494.6 480.5h0M488.0 441.1h0M552.1 432.3h0M519.9 480.7h0M544.5 432.1h0M535.0 424.2h0M489.8 480.0h0M528.4 470.8h0M482.2 473.8h0" stroke="#4030e8" stroke-width="0.8"/><path d="M504.7 434.8h0M555.0 478.9h0M531.1 438.4h0M527.8 451.2h0M553.8 451.4h0M558.1 442.4h0M542.8 436.8h0M493.4 438.8h0M540.6 451.1h0M534.2 427.2h0" stroke="#3424d0" stroke-width="0.8"/><path d="M508.8 444.9h0M547.6 448.6h0M486.5 431.5h0M509.0 488.0h0M547.7 489.5h0M556.0 457.9h0M503.8 459.9h0M548.6 437.3h0" stroke="#3626d8" stroke-width="0.8"/><path d="M529.0 455.5h0M534.6 467.2h0M502.7 455.2h0M515.5 423.0h0M539.1 439.1h0M482.5 428.0h0M562.7 469.5h0" stroke="#e01c68" stroke-width="1.2"/><path d="M505.2 476.4h0M526.8 469.6h0M520.0 491.2h0M509.0 475.3h0M533.9 425.4h0M492.6 475.7h0" stroke="#d02070" stroke-width="1.2"/><path d="M550.1 445.7h0M556.0 460.7h0" stroke="#d02070" stroke-width="1.6"/><path d="M521.1 461.7h0M549.5 473.5h0M573.8 491.4h0M486.8 490.8h0M540.4 486.9h0M542.0 473.7h0" stroke="#a81460" stroke-width="1.2"/><path d="M484.2 437.1h0M520.0 481.9h0" stroke="#a81460" stroke-width="1.6"/><path d="M570.4 431.5h0M512.7 462.4h0M523.0 432.4h0" stroke="#f02878" stroke-width="1.2"/><path d="M528.6 453.6h0" stroke="#c8186a" stroke-width="1.6"/><path d="M564.3 473.7h0M558.2 423.2h0" stroke="#c8186a" stroke-width="1.2"/><path d="M524.7 468.5h0" stroke="#f02878" stroke-width="1.6"/></g>
<line x1="564.8" y1="489.3" x2="572.2" y2="489.3" stroke="#c8a010" stroke-width="1.3"/>
<rect x="580.7" y="421.5" width="96.5" height="72" fill="#04020e" stroke="none" stroke-width="1"/>
<g filter="url(#fb)" stroke-linecap="round" fill="none"><path d="M653.9 467.6h0M619.7 455.8h0M652.8 453.8h0M654.4 465.4h0M653.8 446.7h0M583.2 446.8h0M604.9 486.8h0M616.4 451.7h0M585.3 483.0h0M652.6 469.0h0M662.1 466.4h0M624.0 476.8h0M675.5 486.3h0M585.9 428.4h0M595.6 458.2h0M610.0 464.2h0M592.7 455.3h0M598.5 480.7h0M614.2 466.8h0M626.5 461.1h0M630.2 470.7h0M639.1 433.5h0M653.0 452.1h0M666.7 425.9h0M650.9 486.9h0M629.0 484.1h0M610.8 464.9h0M591.2 440.6h0M668.2 474.7h0M608.9 462.6h0M672.0 453.5h0M633.3 475.8h0M593.4 425.8h0M647.7 465.2h0M634.2 427.5h0M600.8 471.7h0M659.9 478.0h0M664.3 489.9h0M605.6 425.2h0M665.6 487.5h0M624.3 460.7h0M611.1 434.1h0M636.6 440.9h0M586.9 477.4h0M668.7 490.9h0M598.7 456.5h0M584.2 472.6h0M593.8 441.2h0M656.5 438.4h0M650.9 425.7h0M622.3 477.1h0M642.2 440.3h0M584.8 474.7h0M622.6 476.6h0M641.6 485.7h0M646.0 433.8h0M675.0 445.3h0M608.3 446.4h0M593.7 431.9h0M596.2 438.3h0M653.4 480.7h0M594.6 476.7h0M654.4 455.2h0M648.6 432.9h0M598.7 481.7h0M606.7 476.4h0M665.7 481.1h0M653.1 422.7h0M633.2 451.6h0M591.7 451.6h0M669.4 482.8h0M586.9 474.5h0M650.2 491.5h0M602.8 469.8h0M670.7 432.9h0M588.3 426.8h0M641.8 474.4h0M618.8 488.0h0M584.9 437.0h0M627.1 454.9h0M634.1 432.6h0M624.1 482.7h0M586.1 452.8h0M632.9 475.1h0M623.8 432.9h0M670.3 446.9h0M649.7 432.6h0M674.5 465.8h0M630.8 465.0h0M664.9 470.6h0M582.4 449.4h0M619.7 492.3h0M639.2 454.5h0M613.7 449.4h0M586.9 464.0h0M590.4 446.9h0M639.1 443.0h0M658.2 469.2h0M671.2 423.6h0M612.6 448.8h0M624.6 448.4h0M591.2 430.4h0M642.5 431.5h0M646.4 485.6h0M645.3 467.7h0M635.9 481.8h0M675.1 459.0h0" stroke="#2818b8" stroke-width="1.2"/><path d="M600.2 450.4h0M649.3 472.1h0M600.4 445.2h0M638.8 424.3h0M657.8 467.1h0M600.1 470.2h0M601.3 425.5h0M669.8 423.9h0M661.6 471.2h0M671.4 427.2h0M627.9 426.7h0M630.4 492.2h0M620.6 449.5h0M592.6 462.2h0M618.7 478.0h0M590.4 474.9h0M648.0 468.4h0M603.0 475.6h0M621.3 444.2h0M622.7 473.9h0M599.1 479.5h0M616.6 461.3h0M628.8 447.8h0M626.5 475.6h0M654.8 439.6h0M636.7 458.2h0M624.1 486.1h0M638.6 422.6h0M623.4 473.8h0M615.3 486.2h0M655.6 446.0h0M666.3 474.2h0M596.1 456.5h0M612.9 454.4h0M632.0 479.9h0M628.0 424.5h0M599.3 456.9h0M663.9 448.3h0M650.0 443.7h0M674.3 486.3h0M643.9 438.8h0M649.7 461.5h0M607.3 448.8h0M625.8 470.8h0M607.5 486.2h0M587.4 482.6h0M606.5 468.2h0M618.7 485.9h0M599.3 431.3h0M623.4 447.5h0M620.5 465.2h0M656.0 437.8h0M634.2 435.9h0M587.4 481.7h0M597.1 451.2h0M668.9 486.5h0M632.1 468.1h0M635.9 443.1h0M624.8 459.8h0M626.2 469.8h0M590.5 479.0h0M645.7 464.8h0M661.1 470.7h0M613.4 448.8h0M614.6 471.2h0M645.7 452.4h0M601.5 456.8h0M588.1 480.3h0M588.9 484.2h0M618.9 476.5h0M647.1 490.4h0M587.3 441.9h0M598.7 455.7h0M632.4 449.2h0M637.9 424.7h0M587.8 486.4h0M583.1 475.3h0M666.2 448.9h0M634.4 468.8h0M608.9 487.3h0M639.1 429.8h0M615.3 471.0h0M617.5 467.9h0M648.2 431.3h0M653.4 432.2h0M590.1 452.7h0M644.6 436.0h0M675.6 434.8h0M646.5 475.4h0M623.3 472.2h0M622.9 452.3h0M582.6 438.1h0M630.4 490.0h0M620.3 456.1h0" stroke="#3626d8" stroke-width="1.2"/><path d="M662.1 425.0h0M604.1 466.6h0M668.5 434.3h0M625.9 425.0h0M629.5 483.5h0M617.2 483.7h0M638.6 460.1h0M613.8 490.9h0M636.9 449.6h0M602.1 427.0h0M614.1 453.1h0M660.9 460.9h0M613.1 448.1h0M584.1 428.0h0M643.0 422.9h0M586.6 449.8h0M601.1 447.5h0M670.0 453.7h0M620.0 434.3h0M629.6 464.2h0M622.3 483.3h0M638.2 460.3h0M651.3 444.1h0M608.0 463.6h0M663.6 487.4h0M674.3 451.3h0M614.2 445.6h0M635.1 475.2h0M642.3 489.5h0M649.6 465.4h0M621.7 439.2h0M675.5 462.4h0M647.0 428.7h0M611.6 468.5h0M660.6 488.0h0M628.2 459.7h0M611.4 463.4h0M633.3 482.0h0M616.0 457.7h0M638.0 444.8h0M627.9 466.5h0M598.5 447.5h0M584.6 430.0h0M623.4 458.4h0M664.1 484.8h0M611.7 475.6h0M659.0 441.0h0M667.6 456.2h0M661.3 447.6h0M623.7 471.1h0M630.0 469.6h0M584.2 444.1h0M657.8 456.9h0M666.5 490.0h0M634.1 477.8h0M653.1 490.5h0M596.5 443.2h0M598.4 452.3h0M605.1 446.0h0M654.3 450.6h0M664.6 460.5h0M670.3 422.9h0M618.2 464.5h0M623.7 451.5h0M646.7 445.5h0M606.9 484.6h0M597.5 463.2h0M652.8 426.6h0M627.2 474.9h0M673.1 469.5h0M631.0 463.8h0M655.8 481.9h0M645.4 471.1h0M607.7 433.2h0M634.8 470.8h0M649.3 472.8h0M664.9 437.7h0M617.8 435.2h0M653.0 441.6h0M630.8 488.7h0M628.3 466.4h0M629.9 450.8h0M630.0 477.5h0M620.6 437.8h0M646.0 433.3h0M635.3 455.6h0M615.8 433.3h0" stroke="#3424d0" stroke-width="1.2"/><path d="M586.0 485.4h0M654.9 425.9h0M645.7 488.3h0M603.5 430.8h0M622.9 424.9h0M584.8 487.5h0M675.0 468.6h0M666.4 445.0h0" stroke="#3626d8" stroke-width="0.8"/><path d="M606.3 434.9h0M593.7 437.9h0M609.3 483.1h0M672.3 443.7h0M622.1 439.6h0M670.6 444.2h0M673.0 475.4h0M600.0 436.4h0M658.5 442.7h0M622.0 434.6h0M663.7 454.1h0M657.3 471.9h0M595.2 492.3h0M626.7 466.3h0M672.0 446.8h0M619.5 429.6h0M639.2 449.8h0M595.0 487.9h0M627.5 425.9h0M619.7 462.2h0M652.9 453.8h0M659.7 425.5h0M607.0 435.8h0M597.6 452.8h0M620.3 490.4h0M630.3 471.8h0M602.1 445.1h0M650.2 467.1h0M654.2 449.2h0M664.0 462.4h0M635.4 486.6h0M630.5 446.8h0M600.8 484.0h0M670.6 477.8h0M629.8 453.4h0M605.6 486.3h0M675.8 447.0h0M635.0 457.8h0M636.9 475.1h0M657.1 487.6h0M638.2 422.7h0M639.1 440.5h0M605.5 467.0h0M597.2 456.1h0M666.4 430.8h0M622.6 438.3h0M607.9 481.2h0M621.1 487.5h0M599.2 467.2h0M630.5 431.2h0M663.4 440.7h0M626.9 428.8h0M643.5 477.5h0M600.1 444.6h0M652.8 483.7h0M616.1 460.1h0M619.0 424.5h0M615.4 488.1h0M647.2 468.8h0M616.2 432.6h0M638.6 442.0h0M675.7 450.3h0M660.0 477.8h0M609.1 430.9h0M664.8 462.7h0M657.0 446.6h0M621.3 437.5h0M665.7 445.8h0M609.2 430.9h0M669.5 484.6h0M626.0 435.6h0M638.3 459.0h0M603.4 468.7h0M609.3 438.6h0M588.1 476.1h0M596.2 470.8h0M639.2 470.1h0M625.1 480.6h0M586.8 489.1h0M608.8 440.7h0M662.4 468.5h0M644.8 480.0h0M651.2 448.4h0M647.0 456.3h0M636.9 443.7h0M591.2 486.1h0M658.5 472.8h0M607.0 449.5h0M636.2 431.5h0M673.1 442.4h0M601.4 483.1h0M583.8 486.3h0M639.4 464.8h0M637.3 439.8h0M617.3 440.3h0" stroke="#2c1ec8" stroke-width="1.2"/><path d="M604.2 485.2h0M634.2 446.9h0M673.3 449.8h0M618.0 461.4h0M593.0 465.5h0M603.2 487.9h0M672.1 485.4h0M668.1 460.6h0M611.0 448.1h0M660.0 449.3h0M600.0 474.9h0M657.2 479.2h0M630.7 436.8h0M614.1 433.4h0M616.2 469.7h0M607.6 459.3h0M650.2 430.1h0M617.7 472.0h0M605.3 463.9h0M650.6 431.9h0M662.7 453.2h0M624.9 444.8h0M610.0 464.4h0M674.2 429.3h0M601.2 469.0h0M614.1 426.4h0M671.8 469.4h0M626.1 478.2h0M591.0 463.9h0M593.5 482.5h0M654.2 442.0h0M622.4 438.7h0M650.2 466.9h0M648.9 452.9h0M625.4 438.1h0M651.8 461.4h0M599.5 455.4h0M655.5 427.2h0M611.8 467.3h0M642.2 425.0h0M598.0 467.7h0M669.0 444.1h0M667.3 487.3h0M658.8 489.4h0M673.5 489.0h0M647.1 444.8h0M622.3 461.5h0M647.8 433.5h0M648.5 444.8h0M600.8 440.3h0M588.3 480.8h0M610.0 435.6h0M616.9 463.8h0M668.4 445.5h0M603.9 441.8h0M664.7 446.1h0M643.9 432.7h0M603.3 473.9h0M671.7 462.3h0M661.2 460.9h0M646.0 433.8h0M615.9 466.2h0M596.9 428.3h0M649.7 428.7h0M660.8 483.9h0M597.4 487.9h0M621.2 436.6h0M591.8 479.3h0M610.3 428.4h0M651.3 462.1h0M636.6 441.9h0M638.9 466.3h0M609.5 475.6h0M672.5 488.0h0M673.3 436.8h0M619.5 452.4h0M658.2 423.8h0M607.4 453.1h0M623.4 466.3h0M636.1 447.8h0M612.7 427.5h0M612.5 434.9h0M598.5 470.6h0M624.0 445.4h0M665.0 489.6h0M627.1 461.1h0M623.2 449.7h0M613.4 476.7h0M629.8 465.8h0M628.2 452.2h0M600.3 463.7h0M622.3 473.3h0M597.4 445.1h0M618.0 425.3h0M629.7 483.4h0M642.2 423.9h0M620.7 466.2h0M613.5 457.8h0M594.3 439.7h0M625.4 472.1h0M585.8 450.6h0M603.0 427.8h0M645.5 490.5h0M605.4 457.4h0M583.1 479.1h0M583.2 470.7h0M604.8 476.2h0M660.4 463.5h0M649.9 481.6h0M614.6 454.6h0" stroke="#4030e8" stroke-width="1.2"/><path d="M644.5 455.2h0M663.2 428.6h0M669.7 473.6h0M675.6 433.6h0M581.7 456.6h0M582.9 477.3h0M643.3 488.0h0M659.1 470.6h0M640.7 470.4h0M633.5 491.5h0" stroke="#2818b8" stroke-width="0.8"/><path d="M673.0 488.4h0M624.6 465.9h0M621.4 440.6h0M650.6 485.1h0M642.9 423.7h0M666.4 427.8h0M635.6 441.9h0M596.8 452.0h0" stroke="#2c1ec8" stroke-width="0.8"/><path d="M589.0 469.5h0M594.9 487.8h0M621.9 424.0h0M599.7 454.5h0M652.6 455.7h0M587.3 456.6h0M633.7 448.1h0M636.1 460.1h0M618.5 469.4h0M666.8 446.1h0M661.3 476.8h0M664.8 455.0h0M674.6 465.2h0" stroke="#3424d0" stroke-width="0.8"/><path d="M627.3 477.2h0M584.4 432.0h0M672.9 447.7h0M596.7 477.9h0M619.6 462.5h0M661.1 470.8h0M588.3 438.8h0M658.3 473.3h0" stroke="#4030e8" stroke-width="0.8"/><path d="M632.7 462.4h0M610.4 467.7h0M665.0 464.3h0M659.7 443.6h0" stroke="#d02070" stroke-width="1.2"/><path d="M646.4 485.7h0" stroke="#a81460" stroke-width="1.6"/><path d="M606.5 439.6h0M668.9 466.1h0M603.3 478.8h0M675.1 473.6h0M609.8 480.9h0" stroke="#a81460" stroke-width="1.2"/><path d="M588.7 437.0h0M602.9 478.2h0M603.9 475.0h0M635.7 482.9h0" stroke="#c8186a" stroke-width="1.2"/><path d="M675.8 450.1h0M667.2 442.9h0M616.7 423.9h0M595.5 434.9h0M655.4 490.4h0M655.7 491.5h0M623.7 450.3h0M629.0 444.8h0" stroke="#e01c68" stroke-width="1.2"/><path d="M658.1 447.9h0M646.0 448.0h0M624.2 471.2h0M664.6 487.1h0M659.1 470.7h0M631.7 439.4h0" stroke="#f02878" stroke-width="1.2"/><path d="M662.0 469.7h0" stroke="#d02070" stroke-width="1.6"/><path d="M646.1 445.2h0" stroke="#e01c68" stroke-width="1.6"/></g>
<line x1="665.2" y1="489.3" x2="672.6" y2="489.3" stroke="#c8a010" stroke-width="1.3"/>
<text x="0" y="0" font-size="9.41" font-weight="bold" text-anchor="middle" fill="#111" transform="translate(427 418.29) scale(0.9 1)" stroke="#111" stroke-width="0.35">si-NC</text>
<text x="0" y="0" font-size="9.41" font-weight="bold" text-anchor="middle" fill="#111" transform="translate(528 418.29) scale(0.9 1)" stroke="#111" stroke-width="0.35">si-<tspan font-style="italic">SNRPE</tspan>#1</text>
<text x="0" y="0" font-size="9.41" font-weight="bold" text-anchor="middle" fill="#111" transform="translate(628 418.29) scale(0.9 1)" stroke="#111" stroke-width="0.35">si-<tspan font-style="italic">SNRPE</tspan>#2</text>
<text x="0" y="0" font-size="18.15" font-weight="bold" text-anchor="start" fill="#111" transform="translate(0.3 526.6) scale(0.9 1)" stroke="#111" stroke-width="0.35">G</text>
<line x1="30.6" y1="527.4" x2="30.6" y2="640.4" stroke="#111" stroke-width="1.3"/>
<line x1="30" y1="640.4" x2="379.2" y2="640.4" stroke="#111" stroke-width="1.3"/>
<text x="0" y="0" font-size="8.55" font-weight="bold" text-anchor="middle" fill="#111" transform="translate(25.2 583.5) rotate(-90)" stroke="#111" stroke-width="0.35">Relative cell number</text>
<text x="0" y="0" font-size="9.57" font-weight="bold" text-anchor="middle" fill="#111" transform="translate(205 650.95) scale(0.9 1)" stroke="#111" stroke-width="0.35">Relative DNA content</text>
<rect x="46.3" y="527.6" width="98.7" height="97.7" fill="#fff" stroke="#9a9a9a" stroke-width="0.5"/>
<line x1="44.3" y1="625.3" x2="46.3" y2="625.3" stroke="#555" stroke-width="0.5"/>
<text x="0" y="0" font-size="3.74" text-anchor="end" fill="#222" transform="translate(43.3 626.61) scale(0.9 1)">0</text>
<line x1="44.3" y1="604.85" x2="46.3" y2="604.85" stroke="#555" stroke-width="0.5"/>
<text x="0" y="0" font-size="3.74" text-anchor="end" fill="#222" transform="translate(43.3 606.16) scale(0.9 1)">100</text>
<line x1="44.3" y1="584.4" x2="46.3" y2="584.4" stroke="#555" stroke-width="0.5"/>
<text x="0" y="0" font-size="3.74" text-anchor="end" fill="#222" transform="translate(43.3 585.71) scale(0.9 1)">200</text>
<line x1="44.3" y1="563.95" x2="46.3" y2="563.95" stroke="#555" stroke-width="0.5"/>
<text x="0" y="0" font-size="3.74" text-anchor="end" fill="#222" transform="translate(43.3 565.26) scale(0.9 1)">300</text>
<line x1="44.3" y1="543.5" x2="46.3" y2="543.5" stroke="#555" stroke-width="0.5"/>
<text x="0" y="0" font-size="3.74" text-anchor="end" fill="#222" transform="translate(43.3 544.81) scale(0.9 1)">400</text>
<line x1="45.3" y1="625.3" x2="46.3" y2="625.3" stroke="#777" stroke-width="0.4"/>
<line x1="45.3" y1="621.21" x2="46.3" y2="621.21" stroke="#777" stroke-width="0.4"/>
<line x1="45.3" y1="617.12" x2="46.3" y2="617.12" stroke="#777" stroke-width="0.4"/>
<line x1="45.3" y1="613.03" x2="46.3" y2="613.03" stroke="#777" stroke-width="0.4"/>
<line x1="45.3" y1="608.94" x2="46.3" y2="608.94" stroke="#777" stroke-width="0.4"/>
<line x1="45.3" y1="604.85" x2="46.3" y2="604.85" stroke="#777" stroke-width="0.4"/>
<line x1="45.3" y1="600.76" x2="46.3" y2="600.76" stroke="#777" stroke-width="0.4"/>
<line x1="45.3" y1="596.67" x2="46.3" y2="596.67" stroke="#777" stroke-width="0.4"/>
<line x1="45.3" y1="592.58" x2="46.3" y2="592.58" stroke="#777" stroke-width="0.4"/>
<line x1="45.3" y1="588.49" x2="46.3" y2="588.49" stroke="#777" stroke-width="0.4"/>
<line x1="45.3" y1="584.4" x2="46.3" y2="584.4" stroke="#777" stroke-width="0.4"/>
<line x1="45.3" y1="580.31" x2="46.3" y2="580.31" stroke="#777" stroke-width="0.4"/>
<line x1="45.3" y1="576.22" x2="46.3" y2="576.22" stroke="#777" stroke-width="0.4"/>
<line x1="45.3" y1="572.13" x2="46.3" y2="572.13" stroke="#777" stroke-width="0.4"/>
<line x1="45.3" y1="568.04" x2="46.3" y2="568.04" stroke="#777" stroke-width="0.4"/>
<line x1="45.3" y1="563.95" x2="46.3" y2="563.95" stroke="#777" stroke-width="0.4"/>
<line x1="45.3" y1="559.86" x2="46.3" y2="559.86" stroke="#777" stroke-width="0.4"/>
<line x1="45.3" y1="555.77" x2="46.3" y2="555.77" stroke="#777" stroke-width="0.4"/>
<line x1="45.3" y1="551.68" x2="46.3" y2="551.68" stroke="#777" stroke-width="0.4"/>
<line x1="45.3" y1="547.59" x2="46.3" y2="547.59" stroke="#777" stroke-width="0.4"/>
<line x1="45.3" y1="543.5" x2="46.3" y2="543.5" stroke="#777" stroke-width="0.4"/>
<line x1="45.3" y1="539.41" x2="46.3" y2="539.41" stroke="#777" stroke-width="0.4"/>
<line x1="45.3" y1="535.32" x2="46.3" y2="535.32" stroke="#777" stroke-width="0.4"/>
<line x1="45.3" y1="531.23" x2="46.3" y2="531.23" stroke="#777" stroke-width="0.4"/>
<line x1="64.8" y1="625.3" x2="64.8" y2="627.3" stroke="#555" stroke-width="0.5"/>
<text x="0" y="0" font-size="3.63" text-anchor="middle" fill="#222" transform="translate(64.8 632.97) scale(0.9 1)">200K</text>
<line x1="83.3" y1="625.3" x2="83.3" y2="627.3" stroke="#555" stroke-width="0.5"/>
<text x="0" y="0" font-size="3.63" text-anchor="middle" fill="#222" transform="translate(83.3 632.97) scale(0.9 1)">400K</text>
<line x1="101.8" y1="625.3" x2="101.8" y2="627.3" stroke="#555" stroke-width="0.5"/>
<text x="0" y="0" font-size="3.63" text-anchor="middle" fill="#222" transform="translate(101.8 632.97) scale(0.9 1)">600K</text>
<line x1="120.3" y1="625.3" x2="120.3" y2="627.3" stroke="#555" stroke-width="0.5"/>
<text x="0" y="0" font-size="3.63" text-anchor="middle" fill="#222" transform="translate(120.3 632.97) scale(0.9 1)">800K</text>
<line x1="138.8" y1="625.3" x2="138.8" y2="627.3" stroke="#555" stroke-width="0.5"/>
<text x="0" y="0" font-size="3.63" text-anchor="middle" fill="#222" transform="translate(138.8 632.97) scale(0.9 1)">1.0M</text>
<line x1="50.92" y1="625.3" x2="50.92" y2="626.3" stroke="#777" stroke-width="0.4"/>
<line x1="55.55" y1="625.3" x2="55.55" y2="626.3" stroke="#777" stroke-width="0.4"/>
<line x1="60.17" y1="625.3" x2="60.17" y2="626.3" stroke="#777" stroke-width="0.4"/>
<line x1="64.8" y1="625.3" x2="64.8" y2="626.3" stroke="#777" stroke-width="0.4"/>
<line x1="69.42" y1="625.3" x2="69.42" y2="626.3" stroke="#777" stroke-width="0.4"/>
<line x1="74.05" y1="625.3" x2="74.05" y2="626.3" stroke="#777" stroke-width="0.4"/>
<line x1="78.67" y1="625.3" x2="78.67" y2="626.3" stroke="#777" stroke-width="0.4"/>
<line x1="83.3" y1="625.3" x2="83.3" y2="626.3" stroke="#777" stroke-width="0.4"/>
<line x1="87.92" y1="625.3" x2="87.92" y2="626.3" stroke="#777" stroke-width="0.4"/>
<line x1="92.55" y1="625.3" x2="92.55" y2="626.3" stroke="#777" stroke-width="0.4"/>
<line x1="97.17" y1="625.3" x2="97.17" y2="626.3" stroke="#777" stroke-width="0.4"/>
<line x1="101.8" y1="625.3" x2="101.8" y2="626.3" stroke="#777" stroke-width="0.4"/>
<line x1="106.42" y1="625.3" x2="106.42" y2="626.3" stroke="#777" stroke-width="0.4"/>
<line x1="111.05" y1="625.3" x2="111.05" y2="626.3" stroke="#777" stroke-width="0.4"/>
<line x1="115.67" y1="625.3" x2="115.67" y2="626.3" stroke="#777" stroke-width="0.4"/>
<line x1="120.3" y1="625.3" x2="120.3" y2="626.3" stroke="#777" stroke-width="0.4"/>
<line x1="124.92" y1="625.3" x2="124.92" y2="626.3" stroke="#777" stroke-width="0.4"/>
<line x1="129.55" y1="625.3" x2="129.55" y2="626.3" stroke="#777" stroke-width="0.4"/>
<line x1="134.18" y1="625.3" x2="134.18" y2="626.3" stroke="#777" stroke-width="0.4"/>
<line x1="138.8" y1="625.3" x2="138.8" y2="626.3" stroke="#777" stroke-width="0.4"/>
<line x1="143.43" y1="625.3" x2="143.43" y2="626.3" stroke="#777" stroke-width="0.4"/>
<path d="M46.3 625.0L46.3 625.0L46.7 625.0L47.1 625.0L47.5 625.0L48.0 625.0L48.4 625.0L48.8 625.0L49.2 625.0L49.6 625.0L50.0 625.0L50.4 625.0L50.8 625.0L51.3 625.0L51.7 625.0L52.1 625.0L52.5 625.0L52.9 625.0L53.3 625.0L53.7 625.0L54.1 625.0L54.6 625.0L55.0 625.0L55.4 625.0L55.8 625.0L56.2 625.0L56.6 625.0L57.0 625.0L57.5 625.0L57.9 625.0L58.3 625.0L58.7 625.0L59.1 625.0L59.5 625.0L59.9 625.0L60.3 624.9L60.8 624.9L61.2 624.8L61.6 624.8L62.0 624.7L62.4 624.5L62.8 624.4L63.2 624.2L63.6 623.9L64.1 623.5L64.5 623.1L64.9 622.6L65.3 622.0L65.7 621.4L66.1 620.6L66.5 619.9L66.9 619.0L67.4 618.2L67.8 617.4L68.2 616.6L68.6 615.9L69.0 615.3L69.4 614.9L69.8 614.6L70.3 614.5L70.7 615.1L71.1 615.2L71.5 615.3L71.9 615.4L72.3 615.5L72.7 615.6L73.1 615.6L73.6 615.7L74.0 615.8L74.4 615.9L74.8 616.0L75.2 616.1L75.6 616.2L76.0 616.3L76.4 616.4L76.9 616.5L77.3 616.6L77.7 616.6L78.1 616.7L78.5 616.8L78.9 616.9L79.3 617.0L79.8 617.1L80.2 617.2L80.6 617.3L81.0 617.4L81.4 617.5L81.8 617.5L82.2 617.6L82.6 617.7L83.1 617.8L83.5 617.9L83.9 618.0L84.3 618.1L84.7 618.2L85.1 618.3L85.5 618.4L85.9 618.4L86.4 618.5L86.8 618.6L87.2 618.7L87.6 618.8L88.0 618.9L88.4 619.0L88.8 619.1L89.2 619.2L89.7 619.3L90.1 619.4L90.5 619.4L90.9 619.5L91.3 619.6L91.7 619.7L92.1 619.8L92.6 619.9L93.0 620.0L93.4 620.1L93.8 620.2L94.2 620.3L94.6 614.5L95.0 614.7L95.4 615.0L95.9 615.4L96.3 616.0L96.7 616.6L97.1 617.2L97.5 617.9L97.9 618.7L98.3 619.4L98.7 620.1L99.2 620.8L99.6 621.4L100.0 622.0L100.4 622.5L100.8 623.0L101.2 623.3L101.6 623.7L102.1 624.0L102.5 624.2L102.9 624.4L103.3 624.5L103.7 624.7L104.1 624.7L104.5 624.8L104.9 624.9L105.4 624.9L105.8 624.9L106.2 625.0L106.6 625.0L107.0 625.0L107.4 625.0L107.8 625.0L108.2 625.0L108.7 625.0L109.1 625.0L109.5 625.0L109.9 625.0L110.3 625.0L110.7 625.0L111.1 625.0L111.5 625.0L112.0 625.0L112.4 625.0L112.8 625.0L113.2 625.0L113.6 625.0L114.0 625.0L114.4 625.0L114.9 625.0L115.3 625.0L115.7 625.0L116.1 625.0L116.5 625.0L116.9 625.0L117.3 625.0L117.7 625.0L118.2 625.0L118.6 625.0L119.0 625.0L119.4 625.0L119.8 625.0L120.2 625.0L120.6 625.0L121.0 625.0L121.5 625.0L121.9 625.0L122.3 625.0L122.7 625.0L123.1 625.0L123.5 625.0L123.9 625.0L124.4 625.0L124.8 625.0L125.2 625.0L125.6 625.0L126.0 625.0L126.4 625.0L126.8 625.0L127.2 625.0L127.7 625.0L128.1 625.0L128.5 625.0L128.9 625.0L129.3 625.0L129.7 625.0L130.1 625.0L130.5 625.0L131.0 625.0L131.4 625.0L131.8 625.0L132.2 625.0L132.6 625.0L133.0 625.0L133.4 625.0L133.8 625.0L134.3 625.0L134.7 625.0L135.1 625.0L135.5 625.0L135.9 625.0L136.3 625.0L136.7 625.0L137.2 625.0L137.6 625.0L138.0 625.0L138.4 625.0L138.8 625.0L139.2 625.0L139.6 625.0L140.0 625.0L140.5 625.0L140.9 625.0L141.3 625.0L141.7 625.0L142.1 625.0L142.5 625.0L142.9 625.0L143.3 625.0L143.8 625.0L144.2 625.0L144.6 625.0L145.0 625.0L145.0 625.0Z" fill="#d6d68e" fill-opacity="0.95"/>
<path d="M46.3 625.0L46.3 625.0L46.7 625.0L47.1 625.0L47.5 625.0L48.0 625.0L48.4 625.0L48.8 625.0L49.2 625.0L49.6 625.0L50.0 625.0L50.4 625.0L50.8 625.0L51.3 625.0L51.7 625.0L52.1 625.0L52.5 625.0L52.9 625.0L53.3 625.0L53.7 625.0L54.1 625.0L54.6 625.0L55.0 625.0L55.4 625.0L55.8 625.0L56.2 625.0L56.6 625.0L57.0 625.0L57.5 625.0L57.9 625.0L58.3 625.0L58.7 625.0L59.1 625.0L59.5 625.0L59.9 625.0L60.3 625.0L60.8 625.0L61.2 625.0L61.6 625.0L62.0 625.0L62.4 625.0L62.8 625.0L63.2 625.0L63.6 625.0L64.1 625.0L64.5 625.0L64.9 625.0L65.3 625.0L65.7 625.0L66.1 625.0L66.5 625.0L66.9 625.0L67.4 625.0L67.8 625.0L68.2 625.0L68.6 625.0L69.0 625.0L69.4 625.0L69.8 625.0L70.3 625.0L70.7 625.0L71.1 625.0L71.5 625.0L71.9 625.0L72.3 625.0L72.7 625.0L73.1 625.0L73.6 625.0L74.0 625.0L74.4 625.0L74.8 625.0L75.2 625.0L75.6 625.0L76.0 625.0L76.4 625.0L76.9 625.0L77.3 625.0L77.7 625.0L78.1 625.0L78.5 625.0L78.9 625.0L79.3 625.0L79.8 625.0L80.2 625.0L80.6 625.0L81.0 624.9L81.4 624.9L81.8 624.8L82.2 624.8L82.6 624.7L83.1 624.5L83.5 624.3L83.9 624.0L84.3 623.6L84.7 623.1L85.1 622.4L85.5 621.6L85.9 620.5L86.4 619.2L86.8 617.6L87.2 616.4L87.6 615.9L88.0 615.3L88.4 614.6L88.8 613.9L89.2 613.0L89.7 612.1L90.1 611.1L90.5 610.0L90.9 609.0L91.3 607.9L91.7 606.9L92.1 606.0L92.6 605.2L93.0 604.6L93.4 604.1L93.8 603.8L94.2 603.8L94.6 598.1L95.0 598.6L95.4 599.3L95.9 600.4L96.3 601.8L96.7 603.3L97.1 605.0L97.5 606.8L97.9 608.7L98.3 610.6L98.7 612.4L99.2 614.1L99.6 615.8L100.0 617.2L100.4 618.6L100.8 619.7L101.2 620.8L101.6 621.6L102.1 622.3L102.5 622.9L102.9 623.4L103.3 623.8L103.7 624.1L104.1 624.3L104.5 624.5L104.9 624.7L105.4 624.8L105.8 624.8L106.2 624.9L106.6 624.9L107.0 624.9L107.4 625.0L107.8 625.0L108.2 625.0L108.7 625.0L109.1 625.0L109.5 625.0L109.9 625.0L110.3 625.0L110.7 625.0L111.1 625.0L111.5 625.0L112.0 625.0L112.4 625.0L112.8 625.0L113.2 625.0L113.6 625.0L114.0 625.0L114.4 625.0L114.9 625.0L115.3 625.0L115.7 625.0L116.1 625.0L116.5 625.0L116.9 625.0L117.3 625.0L117.7 625.0L118.2 625.0L118.6 625.0L119.0 625.0L119.4 625.0L119.8 625.0L120.2 625.0L120.6 625.0L121.0 625.0L121.5 625.0L121.9 625.0L122.3 625.0L122.7 625.0L123.1 625.0L123.5 625.0L123.9 625.0L124.4 625.0L124.8 625.0L125.2 625.0L125.6 625.0L126.0 625.0L126.4 625.0L126.8 625.0L127.2 625.0L127.7 625.0L128.1 625.0L128.5 625.0L128.9 625.0L129.3 625.0L129.7 625.0L130.1 625.0L130.5 625.0L131.0 625.0L131.4 625.0L131.8 625.0L132.2 625.0L132.6 625.0L133.0 625.0L133.4 625.0L133.8 625.0L134.3 625.0L134.7 625.0L135.1 625.0L135.5 625.0L135.9 625.0L136.3 625.0L136.7 625.0L137.2 625.0L137.6 625.0L138.0 625.0L138.4 625.0L138.8 625.0L139.2 625.0L139.6 625.0L140.0 625.0L140.5 625.0L140.9 625.0L141.3 625.0L141.7 625.0L142.1 625.0L142.5 625.0L142.9 625.0L143.3 625.0L143.8 625.0L144.2 625.0L144.6 625.0L145.0 625.0L145.0 625.0Z" fill="#8cc46c" fill-opacity="0.95"/>
<path d="M46.3 625.0L46.3 625.0L46.7 625.0L47.1 625.0L47.5 625.0L48.0 625.0L48.4 625.0L48.8 625.0L49.2 625.0L49.6 625.0L50.0 625.0L50.4 625.0L50.8 625.0L51.3 625.0L51.7 625.0L52.1 625.0L52.5 625.0L52.9 625.0L53.3 625.0L53.7 625.0L54.1 625.0L54.6 625.0L55.0 625.0L55.4 625.0L55.8 625.0L56.2 625.0L56.6 625.0L57.0 625.0L57.5 625.0L57.9 625.0L58.3 625.0L58.7 625.0L59.1 625.0L59.5 625.0L59.9 625.0L60.3 625.0L60.8 625.0L61.2 625.0L61.6 625.0L62.0 624.9L62.4 624.8L62.8 624.6L63.2 624.1L63.6 623.4L64.1 622.5L64.5 621.4L64.9 619.6L65.3 617.2L65.7 613.8L66.1 609.2L66.5 603.3L66.9 596.0L67.4 587.2L67.8 577.4L68.2 566.9L68.6 556.5L69.0 547.0L69.4 539.2L69.8 534.1L70.3 532.0L70.7 533.8L71.1 538.2L71.5 545.0L71.9 553.8L72.3 563.5L72.7 573.3L73.1 582.7L73.6 590.9L74.0 597.9L74.4 603.4L74.8 607.7L75.2 610.7L75.6 615.0L76.0 619.0L76.4 621.6L76.9 623.1L77.3 624.0L77.7 624.5L78.1 624.7L78.5 624.9L78.9 624.9L79.3 625.0L79.8 625.0L80.2 625.0L80.6 625.0L81.0 625.0L81.4 625.0L81.8 625.0L82.2 625.0L82.6 625.0L83.1 625.0L83.5 625.0L83.9 625.0L84.3 625.0L84.7 625.0L85.1 625.0L85.5 625.0L85.9 625.0L86.4 625.0L86.8 625.0L87.2 625.0L87.6 625.0L88.0 625.0L88.4 625.0L88.8 625.0L89.2 625.0L89.7 625.0L90.1 625.0L90.5 625.0L90.9 625.0L91.3 625.0L91.7 625.0L92.1 625.0L92.6 625.0L93.0 625.0L93.4 625.0L93.8 625.0L94.2 625.0L94.6 625.0L95.0 625.0L95.4 625.0L95.9 625.0L96.3 625.0L96.7 625.0L97.1 625.0L97.5 625.0L97.9 625.0L98.3 625.0L98.7 625.0L99.2 625.0L99.6 625.0L100.0 625.0L100.4 625.0L100.8 625.0L101.2 625.0L101.6 625.0L102.1 625.0L102.5 625.0L102.9 625.0L103.3 625.0L103.7 625.0L104.1 625.0L104.5 625.0L104.9 625.0L105.4 625.0L105.8 625.0L106.2 625.0L106.6 625.0L107.0 625.0L107.4 625.0L107.8 625.0L108.2 625.0L108.7 625.0L109.1 625.0L109.5 625.0L109.9 625.0L110.3 625.0L110.7 625.0L111.1 625.0L111.5 625.0L112.0 625.0L112.4 625.0L112.8 625.0L113.2 625.0L113.6 625.0L114.0 625.0L114.4 625.0L114.9 625.0L115.3 625.0L115.7 625.0L116.1 625.0L116.5 625.0L116.9 625.0L117.3 625.0L117.7 625.0L118.2 625.0L118.6 625.0L119.0 625.0L119.4 625.0L119.8 625.0L120.2 625.0L120.6 625.0L121.0 625.0L121.5 625.0L121.9 625.0L122.3 625.0L122.7 625.0L123.1 625.0L123.5 625.0L123.9 625.0L124.4 625.0L124.8 625.0L125.2 625.0L125.6 625.0L126.0 625.0L126.4 625.0L126.8 625.0L127.2 625.0L127.7 625.0L128.1 625.0L128.5 625.0L128.9 625.0L129.3 625.0L129.7 625.0L130.1 625.0L130.5 625.0L131.0 625.0L131.4 625.0L131.8 625.0L132.2 625.0L132.6 625.0L133.0 625.0L133.4 625.0L133.8 625.0L134.3 625.0L134.7 625.0L135.1 625.0L135.5 625.0L135.9 625.0L136.3 625.0L136.7 625.0L137.2 625.0L137.6 625.0L138.0 625.0L138.4 625.0L138.8 625.0L139.2 625.0L139.6 625.0L140.0 625.0L140.5 625.0L140.9 625.0L141.3 625.0L141.7 625.0L142.1 625.0L142.5 625.0L142.9 625.0L143.3 625.0L143.8 625.0L144.2 625.0L144.6 625.0L145.0 625.0L145.0 625.0Z" fill="#9490d2" fill-opacity="0.85"/>
<path d="M46.3 625.0L46.7 625.0L47.1 625.0L47.5 625.0L48.0 625.0L48.4 625.0L48.8 625.0L49.2 625.0L49.6 625.0L50.0 625.0L50.4 625.0L50.8 625.0L51.3 625.0L51.7 625.0L52.1 625.0L52.5 625.0L52.9 625.0L53.3 625.0L53.7 625.0L54.1 625.0L54.6 625.0L55.0 625.0L55.4 625.0L55.8 625.0L56.2 625.0L56.6 625.0L57.0 625.0L57.5 625.0L57.9 625.0L58.3 625.0L58.7 625.0L59.1 625.0L59.5 625.0L59.9 625.0L60.3 624.9L60.8 624.9L61.2 624.8L61.6 624.8L62.0 624.6L62.4 624.5L62.8 624.2L63.2 623.9L63.6 623.3L64.1 622.5L64.5 621.4L64.9 619.6L65.3 617.2L65.7 613.8L66.1 609.2L66.5 603.3L66.9 596.0L67.4 587.2L67.8 577.4L68.2 566.9L68.6 556.5L69.0 547.0L69.4 539.2L69.8 534.1L70.3 532.0L70.7 533.8L71.1 538.2L71.5 545.0L71.9 553.8L72.3 563.5L72.7 573.3L73.1 582.7L73.6 590.9L74.0 597.9L74.4 603.4L74.8 607.7L75.2 610.7L75.6 612.9L76.0 614.3L76.4 615.2L76.9 615.8L77.3 616.2L77.7 616.5L78.1 616.6L78.5 616.8L78.9 616.9L79.3 617.0L79.8 617.1L80.2 617.2L80.6 617.3L81.0 617.3L81.4 617.4L81.8 617.5L82.2 617.6L82.6 617.6L83.1 617.7L83.5 617.7L83.9 617.7L84.3 617.7L84.7 617.7L85.1 617.6L85.5 617.5L85.9 617.3L86.4 617.1L86.8 616.8L87.2 616.4L87.6 615.9L88.0 615.3L88.4 614.6L88.8 613.9L89.2 613.0L89.7 612.1L90.1 611.1L90.5 610.0L90.9 609.0L91.3 607.9L91.7 606.9L92.1 606.0L92.6 605.2L93.0 604.6L93.4 604.1L93.8 603.8L94.2 603.8L94.6 598.1L95.0 598.6L95.4 599.3L95.9 600.4L96.3 601.8L96.7 603.3L97.1 605.0L97.5 606.8L97.9 608.7L98.3 610.6L98.7 612.4L99.2 614.1L99.6 615.8L100.0 617.2L100.4 618.6L100.8 619.7L101.2 620.8L101.6 621.6L102.1 622.3L102.5 622.9L102.9 623.4L103.3 623.8L103.7 624.1L104.1 624.3L104.5 624.5L104.9 624.7L105.4 624.8L105.8 624.8L106.2 624.9L106.6 624.9L107.0 624.9L107.4 625.0L107.8 625.0L108.2 625.0L108.7 625.0L109.1 625.0L109.5 625.0L109.9 625.0L110.3 625.0L110.7 625.0L111.1 625.0L111.5 625.0L112.0 625.0L112.4 625.0L112.8 625.0L113.2 625.0L113.6 625.0L114.0 625.0L114.4 625.0L114.9 625.0L115.3 625.0L115.7 625.0L116.1 625.0L116.5 625.0L116.9 625.0L117.3 625.0L117.7 625.0L118.2 625.0L118.6 625.0L119.0 625.0L119.4 625.0L119.8 625.0L120.2 625.0L120.6 625.0L121.0 625.0L121.5 625.0L121.9 625.0L122.3 625.0L122.7 625.0L123.1 625.0L123.5 625.0L123.9 625.0L124.4 625.0L124.8 625.0L125.2 625.0L125.6 625.0L126.0 625.0L126.4 625.0L126.8 625.0L127.2 625.0L127.7 625.0L128.1 625.0L128.5 625.0L128.9 625.0L129.3 625.0L129.7 625.0L130.1 625.0L130.5 625.0L131.0 625.0L131.4 625.0L131.8 625.0L132.2 625.0L132.6 625.0L133.0 625.0L133.4 625.0L133.8 625.0L134.3 625.0L134.7 625.0L135.1 625.0L135.5 625.0L135.9 625.0L136.3 625.0L136.7 625.0L137.2 625.0L137.6 625.0L138.0 625.0L138.4 625.0L138.8 625.0L139.2 625.0L139.6 625.0L140.0 625.0L140.5 625.0L140.9 625.0L141.3 625.0L141.7 625.0L142.1 625.0L142.5 625.0L142.9 625.0L143.3 625.0L143.8 625.0L144.2 625.0L144.6 625.0L145.0 625.0" fill="none" stroke="#9c3a8c" stroke-width="0.8"/>
<line x1="46.3" y1="625.3" x2="145" y2="625.3" stroke="#777" stroke-width="0.5"/>
<text x="0" y="0" font-size="6.38" font-weight="bold" text-anchor="start" fill="#222" transform="translate(101.6 548.93) scale(0.9 1)" xml:space="preserve">%G1:  51.5%</text>
<text x="0" y="0" font-size="6.38" font-weight="bold" text-anchor="start" fill="#222" transform="translate(101.6 555.73) scale(0.9 1)" xml:space="preserve">%S:  20.1%</text>
<text x="0" y="0" font-size="6.38" font-weight="bold" text-anchor="start" fill="#222" transform="translate(101.6 562.03) scale(0.9 1)" xml:space="preserve">%G2:  27.2%</text>
<text x="0" y="0" font-size="9.57" font-weight="bold" text-anchor="middle" fill="#111" transform="translate(95.8 525.05) scale(0.9 1)" stroke="#111" stroke-width="0.35">si-NC</text>
<rect x="162.7" y="527" width="98.8" height="98" fill="#fff" stroke="#9a9a9a" stroke-width="0.5"/>
<line x1="160.7" y1="625" x2="162.7" y2="625" stroke="#555" stroke-width="0.5"/>
<text x="0" y="0" font-size="3.74" text-anchor="end" fill="#222" transform="translate(159.7 626.31) scale(0.9 1)">0</text>
<line x1="160.7" y1="607.1" x2="162.7" y2="607.1" stroke="#555" stroke-width="0.5"/>
<text x="0" y="0" font-size="3.74" text-anchor="end" fill="#222" transform="translate(159.7 608.41) scale(0.9 1)">100</text>
<line x1="160.7" y1="589.2" x2="162.7" y2="589.2" stroke="#555" stroke-width="0.5"/>
<text x="0" y="0" font-size="3.74" text-anchor="end" fill="#222" transform="translate(159.7 590.51) scale(0.9 1)">200</text>
<line x1="160.7" y1="571.3" x2="162.7" y2="571.3" stroke="#555" stroke-width="0.5"/>
<text x="0" y="0" font-size="3.74" text-anchor="end" fill="#222" transform="translate(159.7 572.61) scale(0.9 1)">300</text>
<line x1="160.7" y1="553.4" x2="162.7" y2="553.4" stroke="#555" stroke-width="0.5"/>
<text x="0" y="0" font-size="3.74" text-anchor="end" fill="#222" transform="translate(159.7 554.71) scale(0.9 1)">400</text>
<line x1="160.7" y1="535.5" x2="162.7" y2="535.5" stroke="#555" stroke-width="0.5"/>
<text x="0" y="0" font-size="3.74" text-anchor="end" fill="#222" transform="translate(159.7 536.81) scale(0.9 1)">500</text>
<line x1="161.7" y1="625" x2="162.7" y2="625" stroke="#777" stroke-width="0.4"/>
<line x1="161.7" y1="621.42" x2="162.7" y2="621.42" stroke="#777" stroke-width="0.4"/>
<line x1="161.7" y1="617.84" x2="162.7" y2="617.84" stroke="#777" stroke-width="0.4"/>
<line x1="161.7" y1="614.26" x2="162.7" y2="614.26" stroke="#777" stroke-width="0.4"/>
<line x1="161.7" y1="610.68" x2="162.7" y2="610.68" stroke="#777" stroke-width="0.4"/>
<line x1="161.7" y1="607.1" x2="162.7" y2="607.1" stroke="#777" stroke-width="0.4"/>
<line x1="161.7" y1="603.52" x2="162.7" y2="603.52" stroke="#777" stroke-width="0.4"/>
<line x1="161.7" y1="599.94" x2="162.7" y2="599.94" stroke="#777" stroke-width="0.4"/>
<line x1="161.7" y1="596.36" x2="162.7" y2="596.36" stroke="#777" stroke-width="0.4"/>
<line x1="161.7" y1="592.78" x2="162.7" y2="592.78" stroke="#777" stroke-width="0.4"/>
<line x1="161.7" y1="589.2" x2="162.7" y2="589.2" stroke="#777" stroke-width="0.4"/>
<line x1="161.7" y1="585.62" x2="162.7" y2="585.62" stroke="#777" stroke-width="0.4"/>
<line x1="161.7" y1="582.04" x2="162.7" y2="582.04" stroke="#777" stroke-width="0.4"/>
<line x1="161.7" y1="578.46" x2="162.7" y2="578.46" stroke="#777" stroke-width="0.4"/>
<line x1="161.7" y1="574.88" x2="162.7" y2="574.88" stroke="#777" stroke-width="0.4"/>
<line x1="161.7" y1="571.3" x2="162.7" y2="571.3" stroke="#777" stroke-width="0.4"/>
<line x1="161.7" y1="567.72" x2="162.7" y2="567.72" stroke="#777" stroke-width="0.4"/>
<line x1="161.7" y1="564.14" x2="162.7" y2="564.14" stroke="#777" stroke-width="0.4"/>
<line x1="161.7" y1="560.56" x2="162.7" y2="560.56" stroke="#777" stroke-width="0.4"/>
<line x1="161.7" y1="556.98" x2="162.7" y2="556.98" stroke="#777" stroke-width="0.4"/>
<line x1="161.7" y1="553.4" x2="162.7" y2="553.4" stroke="#777" stroke-width="0.4"/>
<line x1="161.7" y1="549.82" x2="162.7" y2="549.82" stroke="#777" stroke-width="0.4"/>
<line x1="161.7" y1="546.24" x2="162.7" y2="546.24" stroke="#777" stroke-width="0.4"/>
<line x1="161.7" y1="542.66" x2="162.7" y2="542.66" stroke="#777" stroke-width="0.4"/>
<line x1="161.7" y1="539.08" x2="162.7" y2="539.08" stroke="#777" stroke-width="0.4"/>
<line x1="161.7" y1="535.5" x2="162.7" y2="535.5" stroke="#777" stroke-width="0.4"/>
<line x1="161.7" y1="531.92" x2="162.7" y2="531.92" stroke="#777" stroke-width="0.4"/>
<line x1="161.7" y1="528.34" x2="162.7" y2="528.34" stroke="#777" stroke-width="0.4"/>
<line x1="181.2" y1="625" x2="181.2" y2="627" stroke="#555" stroke-width="0.5"/>
<text x="0" y="0" font-size="3.63" text-anchor="middle" fill="#222" transform="translate(181.2 632.67) scale(0.9 1)">200K</text>
<line x1="199.7" y1="625" x2="199.7" y2="627" stroke="#555" stroke-width="0.5"/>
<text x="0" y="0" font-size="3.63" text-anchor="middle" fill="#222" transform="translate(199.7 632.67) scale(0.9 1)">400K</text>
<line x1="218.2" y1="625" x2="218.2" y2="627" stroke="#555" stroke-width="0.5"/>
<text x="0" y="0" font-size="3.63" text-anchor="middle" fill="#222" transform="translate(218.2 632.67) scale(0.9 1)">600K</text>
<line x1="236.7" y1="625" x2="236.7" y2="627" stroke="#555" stroke-width="0.5"/>
<text x="0" y="0" font-size="3.63" text-anchor="middle" fill="#222" transform="translate(236.7 632.67) scale(0.9 1)">800K</text>
<line x1="255.2" y1="625" x2="255.2" y2="627" stroke="#555" stroke-width="0.5"/>
<text x="0" y="0" font-size="3.63" text-anchor="middle" fill="#222" transform="translate(255.2 632.67) scale(0.9 1)">1.0M</text>
<line x1="167.32" y1="625" x2="167.32" y2="626" stroke="#777" stroke-width="0.4"/>
<line x1="171.95" y1="625" x2="171.95" y2="626" stroke="#777" stroke-width="0.4"/>
<line x1="176.57" y1="625" x2="176.57" y2="626" stroke="#777" stroke-width="0.4"/>
<line x1="181.2" y1="625" x2="181.2" y2="626" stroke="#777" stroke-width="0.4"/>
<line x1="185.82" y1="625" x2="185.82" y2="626" stroke="#777" stroke-width="0.4"/>
<line x1="190.45" y1="625" x2="190.45" y2="626" stroke="#777" stroke-width="0.4"/>
<line x1="195.07" y1="625" x2="195.07" y2="626" stroke="#777" stroke-width="0.4"/>
<line x1="199.7" y1="625" x2="199.7" y2="626" stroke="#777" stroke-width="0.4"/>
<line x1="204.32" y1="625" x2="204.32" y2="626" stroke="#777" stroke-width="0.4"/>
<line x1="208.95" y1="625" x2="208.95" y2="626" stroke="#777" stroke-width="0.4"/>
<line x1="213.57" y1="625" x2="213.57" y2="626" stroke="#777" stroke-width="0.4"/>
<line x1="218.2" y1="625" x2="218.2" y2="626" stroke="#777" stroke-width="0.4"/>
<line x1="222.82" y1="625" x2="222.82" y2="626" stroke="#777" stroke-width="0.4"/>
<line x1="227.45" y1="625" x2="227.45" y2="626" stroke="#777" stroke-width="0.4"/>
<line x1="232.07" y1="625" x2="232.07" y2="626" stroke="#777" stroke-width="0.4"/>
<line x1="236.7" y1="625" x2="236.7" y2="626" stroke="#777" stroke-width="0.4"/>
<line x1="241.32" y1="625" x2="241.32" y2="626" stroke="#777" stroke-width="0.4"/>
<line x1="245.95" y1="625" x2="245.95" y2="626" stroke="#777" stroke-width="0.4"/>
<line x1="250.57" y1="625" x2="250.57" y2="626" stroke="#777" stroke-width="0.4"/>
<line x1="255.2" y1="625" x2="255.2" y2="626" stroke="#777" stroke-width="0.4"/>
<line x1="259.82" y1="625" x2="259.82" y2="626" stroke="#777" stroke-width="0.4"/>
<path d="M162.7 624.7L162.7 624.7L163.1 624.7L163.5 624.7L163.9 624.7L164.4 624.7L164.8 624.7L165.2 624.7L165.6 624.7L166.0 624.7L166.4 624.7L166.8 624.7L167.2 624.7L167.7 624.7L168.1 624.7L168.5 624.7L168.9 624.7L169.3 624.7L169.7 624.7L170.1 624.7L170.6 624.7L171.0 624.7L171.4 624.7L171.8 624.7L172.2 624.7L172.6 624.7L173.0 624.7L173.4 624.7L173.9 624.7L174.3 624.7L174.7 624.7L175.1 624.7L175.5 624.7L175.9 624.7L176.3 624.7L176.8 624.7L177.2 624.7L177.6 624.7L178.0 624.7L178.4 624.7L178.8 624.7L179.2 624.7L179.6 624.7L180.1 624.7L180.5 624.7L180.9 624.6L181.3 624.6L181.7 624.6L182.1 624.5L182.5 624.5L183.0 624.4L183.4 624.3L183.8 624.1L184.2 624.0L184.6 623.8L185.0 623.6L185.4 623.3L185.8 623.1L186.3 622.9L186.7 622.7L187.1 622.5L187.5 622.3L187.9 622.2L188.3 622.2L188.7 622.3L189.2 622.4L189.6 622.4L190.0 622.4L190.4 622.4L190.8 622.5L191.2 622.5L191.6 622.5L192.1 622.5L192.5 622.5L192.9 622.6L193.3 622.6L193.7 622.6L194.1 622.6L194.5 622.6L194.9 622.7L195.4 622.7L195.8 622.7L196.2 622.7L196.6 622.8L197.0 622.8L197.4 622.8L197.8 622.8L198.3 622.8L198.7 622.9L199.1 622.9L199.5 622.9L199.9 622.9L200.3 622.9L200.7 623.0L201.1 623.0L201.6 623.0L202.0 623.0L202.4 623.1L202.8 623.1L203.2 623.1L203.6 623.1L204.0 623.1L204.5 623.2L204.9 623.2L205.3 623.2L205.7 623.2L206.1 623.2L206.5 623.3L206.9 623.3L207.3 623.3L207.8 623.3L208.2 623.4L208.6 623.4L209.0 623.4L209.4 623.4L209.8 623.4L210.2 623.5L210.7 623.5L211.1 623.5L211.5 623.5L211.9 623.5L212.3 623.6L212.7 622.2L213.1 622.3L213.5 622.4L214.0 622.5L214.4 622.7L214.8 622.9L215.2 623.1L215.6 623.3L216.0 623.5L216.4 623.7L216.9 623.9L217.3 624.0L217.7 624.2L218.1 624.3L218.5 624.4L218.9 624.5L219.3 624.5L219.7 624.6L220.2 624.6L220.6 624.6L221.0 624.7L221.4 624.7L221.8 624.7L222.2 624.7L222.6 624.7L223.1 624.7L223.5 624.7L223.9 624.7L224.3 624.7L224.7 624.7L225.1 624.7L225.5 624.7L225.9 624.7L226.4 624.7L226.8 624.7L227.2 624.7L227.6 624.7L228.0 624.7L228.4 624.7L228.8 624.7L229.3 624.7L229.7 624.7L230.1 624.7L230.5 624.7L230.9 624.7L231.3 624.7L231.7 624.7L232.1 624.7L232.6 624.7L233.0 624.7L233.4 624.7L233.8 624.7L234.2 624.7L234.6 624.7L235.0 624.7L235.5 624.7L235.9 624.7L236.3 624.7L236.7 624.7L237.1 624.7L237.5 624.7L237.9 624.7L238.4 624.7L238.8 624.7L239.2 624.7L239.6 624.7L240.0 624.7L240.4 624.7L240.8 624.7L241.2 624.7L241.7 624.7L242.1 624.7L242.5 624.7L242.9 624.7L243.3 624.7L243.7 624.7L244.1 624.7L244.6 624.7L245.0 624.7L245.4 624.7L245.8 624.7L246.2 624.7L246.6 624.7L247.0 624.7L247.4 624.7L247.9 624.7L248.3 624.7L248.7 624.7L249.1 624.7L249.5 624.7L249.9 624.7L250.3 624.7L250.8 624.7L251.2 624.7L251.6 624.7L252.0 624.7L252.4 624.7L252.8 624.7L253.2 624.7L253.6 624.7L254.1 624.7L254.5 624.7L254.9 624.7L255.3 624.7L255.7 624.7L256.1 624.7L256.5 624.7L257.0 624.7L257.4 624.7L257.8 624.7L258.2 624.7L258.6 624.7L259.0 624.7L259.4 624.7L259.8 624.7L260.3 624.7L260.7 624.7L261.1 624.7L261.5 624.7L261.5 624.7Z" fill="#d6d68e" fill-opacity="0.95"/>
<path d="M162.7 624.7L162.7 624.7L163.1 624.7L163.5 624.7L163.9 624.7L164.4 624.7L164.8 624.7L165.2 624.7L165.6 624.7L166.0 624.7L166.4 624.7L166.8 624.7L167.2 624.7L167.7 624.7L168.1 624.7L168.5 624.7L168.9 624.7L169.3 624.7L169.7 624.7L170.1 624.7L170.6 624.7L171.0 624.7L171.4 624.7L171.8 624.7L172.2 624.7L172.6 624.7L173.0 624.7L173.4 624.7L173.9 624.7L174.3 624.7L174.7 624.7L175.1 624.7L175.5 624.7L175.9 624.7L176.3 624.7L176.8 624.7L177.2 624.7L177.6 624.7L178.0 624.7L178.4 624.7L178.8 624.7L179.2 624.7L179.6 624.7L180.1 624.7L180.5 624.7L180.9 624.7L181.3 624.7L181.7 624.7L182.1 624.7L182.5 624.7L183.0 624.7L183.4 624.7L183.8 624.7L184.2 624.7L184.6 624.7L185.0 624.7L185.4 624.7L185.8 624.7L186.3 624.7L186.7 624.7L187.1 624.7L187.5 624.7L187.9 624.7L188.3 624.7L188.7 624.7L189.2 624.7L189.6 624.7L190.0 624.7L190.4 624.7L190.8 624.7L191.2 624.7L191.6 624.7L192.1 624.7L192.5 624.7L192.9 624.7L193.3 624.7L193.7 624.7L194.1 624.7L194.5 624.7L194.9 624.7L195.4 624.7L195.8 624.7L196.2 624.7L196.6 624.7L197.0 624.7L197.4 624.7L197.8 624.7L198.3 624.7L198.7 624.7L199.1 624.7L199.5 624.7L199.9 624.7L200.3 624.7L200.7 624.7L201.1 624.7L201.6 624.6L202.0 624.6L202.4 624.6L202.8 624.5L203.2 624.4L203.6 624.2L204.0 623.9L204.5 623.6L204.9 623.1L205.3 622.7L205.7 622.5L206.1 622.2L206.5 621.9L206.9 621.5L207.3 621.1L207.8 620.6L208.2 619.9L208.6 619.3L209.0 618.6L209.4 617.8L209.8 617.1L210.2 616.4L210.7 615.7L211.1 615.2L211.5 614.7L211.9 614.5L212.3 614.4L212.7 613.1L213.1 613.3L213.5 613.8L214.0 614.5L214.4 615.3L214.8 616.2L215.2 617.1L215.6 618.1L216.0 619.1L216.4 620.0L216.9 620.8L217.3 621.6L217.7 622.2L218.1 622.8L218.5 623.2L218.9 623.6L219.3 623.9L219.7 624.1L220.2 624.3L220.6 624.4L221.0 624.5L221.4 624.6L221.8 624.6L222.2 624.6L222.6 624.7L223.1 624.7L223.5 624.7L223.9 624.7L224.3 624.7L224.7 624.7L225.1 624.7L225.5 624.7L225.9 624.7L226.4 624.7L226.8 624.7L227.2 624.7L227.6 624.7L228.0 624.7L228.4 624.7L228.8 624.7L229.3 624.7L229.7 624.7L230.1 624.7L230.5 624.7L230.9 624.7L231.3 624.7L231.7 624.7L232.1 624.7L232.6 624.7L233.0 624.7L233.4 624.7L233.8 624.7L234.2 624.7L234.6 624.7L235.0 624.7L235.5 624.7L235.9 624.7L236.3 624.7L236.7 624.7L237.1 624.7L237.5 624.7L237.9 624.7L238.4 624.7L238.8 624.7L239.2 624.7L239.6 624.7L240.0 624.7L240.4 624.7L240.8 624.7L241.2 624.7L241.7 624.7L242.1 624.7L242.5 624.7L242.9 624.7L243.3 624.7L243.7 624.7L244.1 624.7L244.6 624.7L245.0 624.7L245.4 624.7L245.8 624.7L246.2 624.7L246.6 624.7L247.0 624.7L247.4 624.7L247.9 624.7L248.3 624.7L248.7 624.7L249.1 624.7L249.5 624.7L249.9 624.7L250.3 624.7L250.8 624.7L251.2 624.7L251.6 624.7L252.0 624.7L252.4 624.7L252.8 624.7L253.2 624.7L253.6 624.7L254.1 624.7L254.5 624.7L254.9 624.7L255.3 624.7L255.7 624.7L256.1 624.7L256.5 624.7L257.0 624.7L257.4 624.7L257.8 624.7L258.2 624.7L258.6 624.7L259.0 624.7L259.4 624.7L259.8 624.7L260.3 624.7L260.7 624.7L261.1 624.7L261.5 624.7L261.5 624.7Z" fill="#8cc46c" fill-opacity="0.95"/>
<path d="M162.7 624.7L162.7 624.7L163.1 624.7L163.5 624.7L163.9 624.7L164.4 624.7L164.8 624.7L165.2 624.7L165.6 624.7L166.0 624.7L166.4 624.7L166.8 624.7L167.2 624.7L167.7 624.7L168.1 624.7L168.5 624.7L168.9 624.7L169.3 624.7L169.7 624.7L170.1 624.7L170.6 624.7L171.0 624.7L171.4 624.7L171.8 624.7L172.2 624.7L172.6 624.7L173.0 624.7L173.4 624.7L173.9 624.7L174.3 624.7L174.7 624.7L175.1 624.7L175.5 624.7L175.9 624.7L176.3 624.7L176.8 624.7L177.2 624.7L177.6 624.7L178.0 624.7L178.4 624.7L178.8 624.7L179.2 624.7L179.6 624.7L180.1 624.7L180.5 624.7L180.9 624.7L181.3 624.6L181.7 624.5L182.1 624.3L182.5 624.0L183.0 623.5L183.4 622.5L183.8 620.9L184.2 618.2L184.6 614.2L185.0 608.5L185.4 600.8L185.8 591.0L186.3 579.6L186.7 567.3L187.1 555.3L187.5 545.0L187.9 537.8L188.3 534.8L188.7 536.4L189.2 542.3L189.6 551.6L190.0 563.0L190.4 575.1L190.8 586.8L191.2 596.9L191.6 605.1L192.1 611.3L192.5 615.7L192.9 618.6L193.3 620.4L193.7 621.5L194.1 623.0L194.5 623.9L194.9 624.3L195.4 624.6L195.8 624.6L196.2 624.7L196.6 624.7L197.0 624.7L197.4 624.7L197.8 624.7L198.3 624.7L198.7 624.7L199.1 624.7L199.5 624.7L199.9 624.7L200.3 624.7L200.7 624.7L201.1 624.7L201.6 624.7L202.0 624.7L202.4 624.7L202.8 624.7L203.2 624.7L203.6 624.7L204.0 624.7L204.5 624.7L204.9 624.7L205.3 624.7L205.7 624.7L206.1 624.7L206.5 624.7L206.9 624.7L207.3 624.7L207.8 624.7L208.2 624.7L208.6 624.7L209.0 624.7L209.4 624.7L209.8 624.7L210.2 624.7L210.7 624.7L211.1 624.7L211.5 624.7L211.9 624.7L212.3 624.7L212.7 624.7L213.1 624.7L213.5 624.7L214.0 624.7L214.4 624.7L214.8 624.7L215.2 624.7L215.6 624.7L216.0 624.7L216.4 624.7L216.9 624.7L217.3 624.7L217.7 624.7L218.1 624.7L218.5 624.7L218.9 624.7L219.3 624.7L219.7 624.7L220.2 624.7L220.6 624.7L221.0 624.7L221.4 624.7L221.8 624.7L222.2 624.7L222.6 624.7L223.1 624.7L223.5 624.7L223.9 624.7L224.3 624.7L224.7 624.7L225.1 624.7L225.5 624.7L225.9 624.7L226.4 624.7L226.8 624.7L227.2 624.7L227.6 624.7L228.0 624.7L228.4 624.7L228.8 624.7L229.3 624.7L229.7 624.7L230.1 624.7L230.5 624.7L230.9 624.7L231.3 624.7L231.7 624.7L232.1 624.7L232.6 624.7L233.0 624.7L233.4 624.7L233.8 624.7L234.2 624.7L234.6 624.7L235.0 624.7L235.5 624.7L235.9 624.7L236.3 624.7L236.7 624.7L237.1 624.7L237.5 624.7L237.9 624.7L238.4 624.7L238.8 624.7L239.2 624.7L239.6 624.7L240.0 624.7L240.4 624.7L240.8 624.7L241.2 624.7L241.7 624.7L242.1 624.7L242.5 624.7L242.9 624.7L243.3 624.7L243.7 624.7L244.1 624.7L244.6 624.7L245.0 624.7L245.4 624.7L245.8 624.7L246.2 624.7L246.6 624.7L247.0 624.7L247.4 624.7L247.9 624.7L248.3 624.7L248.7 624.7L249.1 624.7L249.5 624.7L249.9 624.7L250.3 624.7L250.8 624.7L251.2 624.7L251.6 624.7L252.0 624.7L252.4 624.7L252.8 624.7L253.2 624.7L253.6 624.7L254.1 624.7L254.5 624.7L254.9 624.7L255.3 624.7L255.7 624.7L256.1 624.7L256.5 624.7L257.0 624.7L257.4 624.7L257.8 624.7L258.2 624.7L258.6 624.7L259.0 624.7L259.4 624.7L259.8 624.7L260.3 624.7L260.7 624.7L261.1 624.7L261.5 624.7L261.5 624.7Z" fill="#9490d2" fill-opacity="0.85"/>
<path d="M162.7 624.7L163.1 624.7L163.5 624.7L163.9 624.7L164.4 624.7L164.8 624.7L165.2 624.7L165.6 624.7L166.0 624.7L166.4 624.7L166.8 624.7L167.2 624.7L167.7 624.7L168.1 624.7L168.5 624.7L168.9 624.7L169.3 624.7L169.7 624.7L170.1 624.7L170.6 624.7L171.0 624.7L171.4 624.7L171.8 624.7L172.2 624.7L172.6 624.7L173.0 624.7L173.4 624.7L173.9 624.7L174.3 624.7L174.7 624.7L175.1 624.7L175.5 624.7L175.9 624.7L176.3 624.7L176.8 624.7L177.2 624.7L177.6 624.7L178.0 624.7L178.4 624.7L178.8 624.7L179.2 624.7L179.6 624.7L180.1 624.7L180.5 624.7L180.9 624.6L181.3 624.6L181.7 624.5L182.1 624.3L182.5 624.0L183.0 623.5L183.4 622.5L183.8 620.9L184.2 618.2L184.6 614.2L185.0 608.5L185.4 600.8L185.8 591.0L186.3 579.6L186.7 567.3L187.1 555.3L187.5 545.0L187.9 537.8L188.3 534.8L188.7 536.4L189.2 542.3L189.6 551.6L190.0 563.0L190.4 575.1L190.8 586.8L191.2 596.9L191.6 605.1L192.1 611.3L192.5 615.7L192.9 618.6L193.3 620.4L193.7 621.5L194.1 622.1L194.5 622.4L194.9 622.5L195.4 622.6L195.8 622.7L196.2 622.7L196.6 622.7L197.0 622.8L197.4 622.8L197.8 622.8L198.3 622.8L198.7 622.9L199.1 622.9L199.5 622.9L199.9 622.9L200.3 622.9L200.7 623.0L201.1 623.0L201.6 623.0L202.0 623.0L202.4 623.0L202.8 623.0L203.2 623.0L203.6 623.0L204.0 623.0L204.5 622.9L204.9 622.8L205.3 622.7L205.7 622.5L206.1 622.2L206.5 621.9L206.9 621.5L207.3 621.1L207.8 620.6L208.2 619.9L208.6 619.3L209.0 618.6L209.4 617.8L209.8 617.1L210.2 616.4L210.7 615.7L211.1 615.2L211.5 614.7L211.9 614.5L212.3 614.4L212.7 613.1L213.1 613.3L213.5 613.8L214.0 614.5L214.4 615.3L214.8 616.2L215.2 617.1L215.6 618.1L216.0 619.1L216.4 620.0L216.9 620.8L217.3 621.6L217.7 622.2L218.1 622.8L218.5 623.2L218.9 623.6L219.3 623.9L219.7 624.1L220.2 624.3L220.6 624.4L221.0 624.5L221.4 624.6L221.8 624.6L222.2 624.6L222.6 624.7L223.1 624.7L223.5 624.7L223.9 624.7L224.3 624.7L224.7 624.7L225.1 624.7L225.5 624.7L225.9 624.7L226.4 624.7L226.8 624.7L227.2 624.7L227.6 624.7L228.0 624.7L228.4 624.7L228.8 624.7L229.3 624.7L229.7 624.7L230.1 624.7L230.5 624.7L230.9 624.7L231.3 624.7L231.7 624.7L232.1 624.7L232.6 624.7L233.0 624.7L233.4 624.7L233.8 624.7L234.2 624.7L234.6 624.7L235.0 624.7L235.5 624.7L235.9 624.7L236.3 624.7L236.7 624.7L237.1 624.7L237.5 624.7L237.9 624.7L238.4 624.7L238.8 624.7L239.2 624.7L239.6 624.7L240.0 624.7L240.4 624.7L240.8 624.7L241.2 624.7L241.7 624.7L242.1 624.7L242.5 624.7L242.9 624.7L243.3 624.7L243.7 624.7L244.1 624.7L244.6 624.7L245.0 624.7L245.4 624.7L245.8 624.7L246.2 624.7L246.6 624.7L247.0 624.7L247.4 624.7L247.9 624.7L248.3 624.7L248.7 624.7L249.1 624.7L249.5 624.7L249.9 624.7L250.3 624.7L250.8 624.7L251.2 624.7L251.6 624.7L252.0 624.7L252.4 624.7L252.8 624.7L253.2 624.7L253.6 624.7L254.1 624.7L254.5 624.7L254.9 624.7L255.3 624.7L255.7 624.7L256.1 624.7L256.5 624.7L257.0 624.7L257.4 624.7L257.8 624.7L258.2 624.7L258.6 624.7L259.0 624.7L259.4 624.7L259.8 624.7L260.3 624.7L260.7 624.7L261.1 624.7L261.5 624.7" fill="none" stroke="#9c3a8c" stroke-width="0.8"/>
<line x1="162.7" y1="625" x2="261.5" y2="625" stroke="#777" stroke-width="0.5"/>
<text x="0" y="0" font-size="6.38" font-weight="bold" text-anchor="start" fill="#222" transform="translate(218.6 547.53) scale(0.9 1)" xml:space="preserve">%G1:  76.3%</text>
<text x="0" y="0" font-size="6.38" font-weight="bold" text-anchor="start" fill="#222" transform="translate(218.6 554.13) scale(0.9 1)" xml:space="preserve">%S:  6.67%</text>
<text x="0" y="0" font-size="6.38" font-weight="bold" text-anchor="start" fill="#222" transform="translate(218.6 560.63) scale(0.9 1)" xml:space="preserve">%G2:  13.9%</text>
<text x="0" y="0" font-size="9.57" font-weight="bold" text-anchor="middle" fill="#111" transform="translate(213.5 525.05) scale(0.9 1)" stroke="#111" stroke-width="0.35">si-<tspan font-style="italic">SNRPE</tspan>#1</text>
<rect x="281" y="527" width="98" height="98" fill="#fff" stroke="#9a9a9a" stroke-width="0.5"/>
<line x1="279" y1="625" x2="281" y2="625" stroke="#555" stroke-width="0.5"/>
<text x="0" y="0" font-size="3.74" text-anchor="end" fill="#222" transform="translate(278 626.31) scale(0.9 1)">0</text>
<line x1="279" y1="600.4" x2="281" y2="600.4" stroke="#555" stroke-width="0.5"/>
<text x="0" y="0" font-size="3.74" text-anchor="end" fill="#222" transform="translate(278 601.71) scale(0.9 1)">200</text>
<line x1="279" y1="575.8" x2="281" y2="575.8" stroke="#555" stroke-width="0.5"/>
<text x="0" y="0" font-size="3.74" text-anchor="end" fill="#222" transform="translate(278 577.11) scale(0.9 1)">400</text>
<line x1="279" y1="551.2" x2="281" y2="551.2" stroke="#555" stroke-width="0.5"/>
<text x="0" y="0" font-size="3.74" text-anchor="end" fill="#222" transform="translate(278 552.51) scale(0.9 1)">600</text>
<line x1="280" y1="625" x2="281" y2="625" stroke="#777" stroke-width="0.4"/>
<line x1="280" y1="620.08" x2="281" y2="620.08" stroke="#777" stroke-width="0.4"/>
<line x1="280" y1="615.16" x2="281" y2="615.16" stroke="#777" stroke-width="0.4"/>
<line x1="280" y1="610.24" x2="281" y2="610.24" stroke="#777" stroke-width="0.4"/>
<line x1="280" y1="605.32" x2="281" y2="605.32" stroke="#777" stroke-width="0.4"/>
<line x1="280" y1="600.4" x2="281" y2="600.4" stroke="#777" stroke-width="0.4"/>
<line x1="280" y1="595.48" x2="281" y2="595.48" stroke="#777" stroke-width="0.4"/>
<line x1="280" y1="590.56" x2="281" y2="590.56" stroke="#777" stroke-width="0.4"/>
<line x1="280" y1="585.64" x2="281" y2="585.64" stroke="#777" stroke-width="0.4"/>
<line x1="280" y1="580.72" x2="281" y2="580.72" stroke="#777" stroke-width="0.4"/>
<line x1="280" y1="575.8" x2="281" y2="575.8" stroke="#777" stroke-width="0.4"/>
<line x1="280" y1="570.88" x2="281" y2="570.88" stroke="#777" stroke-width="0.4"/>
<line x1="280" y1="565.96" x2="281" y2="565.96" stroke="#777" stroke-width="0.4"/>
<line x1="280" y1="561.04" x2="281" y2="561.04" stroke="#777" stroke-width="0.4"/>
<line x1="280" y1="556.12" x2="281" y2="556.12" stroke="#777" stroke-width="0.4"/>
<line x1="280" y1="551.2" x2="281" y2="551.2" stroke="#777" stroke-width="0.4"/>
<line x1="280" y1="546.28" x2="281" y2="546.28" stroke="#777" stroke-width="0.4"/>
<line x1="280" y1="541.36" x2="281" y2="541.36" stroke="#777" stroke-width="0.4"/>
<line x1="280" y1="536.44" x2="281" y2="536.44" stroke="#777" stroke-width="0.4"/>
<line x1="280" y1="531.52" x2="281" y2="531.52" stroke="#777" stroke-width="0.4"/>
<line x1="299.5" y1="625" x2="299.5" y2="627" stroke="#555" stroke-width="0.5"/>
<text x="0" y="0" font-size="3.63" text-anchor="middle" fill="#222" transform="translate(299.5 632.67) scale(0.9 1)">200K</text>
<line x1="318" y1="625" x2="318" y2="627" stroke="#555" stroke-width="0.5"/>
<text x="0" y="0" font-size="3.63" text-anchor="middle" fill="#222" transform="translate(318 632.67) scale(0.9 1)">400K</text>
<line x1="336.5" y1="625" x2="336.5" y2="627" stroke="#555" stroke-width="0.5"/>
<text x="0" y="0" font-size="3.63" text-anchor="middle" fill="#222" transform="translate(336.5 632.67) scale(0.9 1)">600K</text>
<line x1="355" y1="625" x2="355" y2="627" stroke="#555" stroke-width="0.5"/>
<text x="0" y="0" font-size="3.63" text-anchor="middle" fill="#222" transform="translate(355 632.67) scale(0.9 1)">800K</text>
<line x1="373.5" y1="625" x2="373.5" y2="627" stroke="#555" stroke-width="0.5"/>
<text x="0" y="0" font-size="3.63" text-anchor="middle" fill="#222" transform="translate(373.5 632.67) scale(0.9 1)">1.0M</text>
<line x1="285.62" y1="625" x2="285.62" y2="626" stroke="#777" stroke-width="0.4"/>
<line x1="290.25" y1="625" x2="290.25" y2="626" stroke="#777" stroke-width="0.4"/>
<line x1="294.88" y1="625" x2="294.88" y2="626" stroke="#777" stroke-width="0.4"/>
<line x1="299.5" y1="625" x2="299.5" y2="626" stroke="#777" stroke-width="0.4"/>
<line x1="304.12" y1="625" x2="304.12" y2="626" stroke="#777" stroke-width="0.4"/>
<line x1="308.75" y1="625" x2="308.75" y2="626" stroke="#777" stroke-width="0.4"/>
<line x1="313.38" y1="625" x2="313.38" y2="626" stroke="#777" stroke-width="0.4"/>
<line x1="318" y1="625" x2="318" y2="626" stroke="#777" stroke-width="0.4"/>
<line x1="322.62" y1="625" x2="322.62" y2="626" stroke="#777" stroke-width="0.4"/>
<line x1="327.25" y1="625" x2="327.25" y2="626" stroke="#777" stroke-width="0.4"/>
<line x1="331.88" y1="625" x2="331.88" y2="626" stroke="#777" stroke-width="0.4"/>
<line x1="336.5" y1="625" x2="336.5" y2="626" stroke="#777" stroke-width="0.4"/>
<line x1="341.12" y1="625" x2="341.12" y2="626" stroke="#777" stroke-width="0.4"/>
<line x1="345.75" y1="625" x2="345.75" y2="626" stroke="#777" stroke-width="0.4"/>
<line x1="350.38" y1="625" x2="350.38" y2="626" stroke="#777" stroke-width="0.4"/>
<line x1="355" y1="625" x2="355" y2="626" stroke="#777" stroke-width="0.4"/>
<line x1="359.62" y1="625" x2="359.62" y2="626" stroke="#777" stroke-width="0.4"/>
<line x1="364.25" y1="625" x2="364.25" y2="626" stroke="#777" stroke-width="0.4"/>
<line x1="368.88" y1="625" x2="368.88" y2="626" stroke="#777" stroke-width="0.4"/>
<line x1="373.5" y1="625" x2="373.5" y2="626" stroke="#777" stroke-width="0.4"/>
<line x1="378.12" y1="625" x2="378.12" y2="626" stroke="#777" stroke-width="0.4"/>
<path d="M281.0 624.7L281.0 624.7L281.4 624.7L281.8 624.7L282.2 624.7L282.6 624.7L283.1 624.7L283.5 624.7L283.9 624.7L284.3 624.7L284.7 624.7L285.1 624.7L285.5 624.7L285.9 624.7L286.3 624.7L286.7 624.7L287.2 624.7L287.6 624.7L288.0 624.7L288.4 624.7L288.8 624.7L289.2 624.7L289.6 624.7L290.0 624.7L290.4 624.7L290.8 624.7L291.3 624.7L291.7 624.7L292.1 624.7L292.5 624.7L292.9 624.7L293.3 624.7L293.7 624.7L294.1 624.7L294.5 624.7L294.9 624.7L295.4 624.7L295.8 624.7L296.2 624.7L296.6 624.7L297.0 624.7L297.4 624.7L297.8 624.7L298.2 624.7L298.6 624.7L299.0 624.7L299.5 624.7L299.9 624.7L300.3 624.6L300.7 624.6L301.1 624.5L301.5 624.5L301.9 624.4L302.3 624.3L302.7 624.2L303.1 624.1L303.6 623.9L304.0 623.7L304.4 623.5L304.8 623.4L305.2 623.2L305.6 623.0L306.0 622.9L306.4 622.8L306.8 622.7L307.2 622.8L307.7 622.8L308.1 622.8L308.5 622.9L308.9 622.9L309.3 622.9L309.7 622.9L310.1 622.9L310.5 622.9L310.9 623.0L311.3 623.0L311.8 623.0L312.2 623.0L312.6 623.0L313.0 623.0L313.4 623.1L313.8 623.1L314.2 623.1L314.6 623.1L315.0 623.1L315.4 623.1L315.9 623.2L316.3 623.2L316.7 623.2L317.1 623.2L317.5 623.2L317.9 623.2L318.3 623.3L318.7 623.3L319.1 623.3L319.5 623.3L320.0 623.3L320.4 623.3L320.8 623.4L321.2 623.4L321.6 623.4L322.0 623.4L322.4 623.4L322.8 623.4L323.2 623.5L323.6 623.5L324.1 623.5L324.5 623.5L324.9 623.5L325.3 623.5L325.7 623.6L326.1 623.6L326.5 623.6L326.9 623.6L327.3 623.6L327.7 623.6L328.2 623.7L328.6 623.7L329.0 623.7L329.4 623.7L329.8 623.7L330.2 623.8L330.6 623.8L331.0 623.8L331.4 622.7L331.8 622.7L332.3 622.8L332.7 622.9L333.1 623.0L333.5 623.1L333.9 623.2L334.3 623.4L334.7 623.5L335.1 623.7L335.5 623.8L335.9 624.0L336.4 624.1L336.8 624.2L337.2 624.3L337.6 624.4L338.0 624.5L338.4 624.5L338.8 624.6L339.2 624.6L339.6 624.6L340.0 624.6L340.5 624.7L340.9 624.7L341.3 624.7L341.7 624.7L342.1 624.7L342.5 624.7L342.9 624.7L343.3 624.7L343.7 624.7L344.1 624.7L344.6 624.7L345.0 624.7L345.4 624.7L345.8 624.7L346.2 624.7L346.6 624.7L347.0 624.7L347.4 624.7L347.8 624.7L348.2 624.7L348.7 624.7L349.1 624.7L349.5 624.7L349.9 624.7L350.3 624.7L350.7 624.7L351.1 624.7L351.5 624.7L351.9 624.7L352.3 624.7L352.8 624.7L353.2 624.7L353.6 624.7L354.0 624.7L354.4 624.7L354.8 624.7L355.2 624.7L355.6 624.7L356.0 624.7L356.4 624.7L356.9 624.7L357.3 624.7L357.7 624.7L358.1 624.7L358.5 624.7L358.9 624.7L359.3 624.7L359.7 624.7L360.1 624.7L360.5 624.7L361.0 624.7L361.4 624.7L361.8 624.7L362.2 624.7L362.6 624.7L363.0 624.7L363.4 624.7L363.8 624.7L364.2 624.7L364.6 624.7L365.1 624.7L365.5 624.7L365.9 624.7L366.3 624.7L366.7 624.7L367.1 624.7L367.5 624.7L367.9 624.7L368.3 624.7L368.7 624.7L369.2 624.7L369.6 624.7L370.0 624.7L370.4 624.7L370.8 624.7L371.2 624.7L371.6 624.7L372.0 624.7L372.4 624.7L372.8 624.7L373.3 624.7L373.7 624.7L374.1 624.7L374.5 624.7L374.9 624.7L375.3 624.7L375.7 624.7L376.1 624.7L376.5 624.7L376.9 624.7L377.4 624.7L377.8 624.7L378.2 624.7L378.6 624.7L379.0 624.7L379.0 624.7Z" fill="#d6d68e" fill-opacity="0.95"/>
<path d="M281.0 624.7L281.0 624.7L281.4 624.7L281.8 624.7L282.2 624.7L282.6 624.7L283.1 624.7L283.5 624.7L283.9 624.7L284.3 624.7L284.7 624.7L285.1 624.7L285.5 624.7L285.9 624.7L286.3 624.7L286.7 624.7L287.2 624.7L287.6 624.7L288.0 624.7L288.4 624.7L288.8 624.7L289.2 624.7L289.6 624.7L290.0 624.7L290.4 624.7L290.8 624.7L291.3 624.7L291.7 624.7L292.1 624.7L292.5 624.7L292.9 624.7L293.3 624.7L293.7 624.7L294.1 624.7L294.5 624.7L294.9 624.7L295.4 624.7L295.8 624.7L296.2 624.7L296.6 624.7L297.0 624.7L297.4 624.7L297.8 624.7L298.2 624.7L298.6 624.7L299.0 624.7L299.5 624.7L299.9 624.7L300.3 624.7L300.7 624.7L301.1 624.7L301.5 624.7L301.9 624.7L302.3 624.7L302.7 624.7L303.1 624.7L303.6 624.7L304.0 624.7L304.4 624.7L304.8 624.7L305.2 624.7L305.6 624.7L306.0 624.7L306.4 624.7L306.8 624.7L307.2 624.7L307.7 624.7L308.1 624.7L308.5 624.7L308.9 624.7L309.3 624.7L309.7 624.7L310.1 624.7L310.5 624.7L310.9 624.7L311.3 624.7L311.8 624.7L312.2 624.7L312.6 624.7L313.0 624.7L313.4 624.7L313.8 624.7L314.2 624.7L314.6 624.7L315.0 624.7L315.4 624.7L315.9 624.7L316.3 624.7L316.7 624.7L317.1 624.7L317.5 624.7L317.9 624.7L318.3 624.7L318.7 624.7L319.1 624.7L319.5 624.7L320.0 624.7L320.4 624.6L320.8 624.6L321.2 624.5L321.6 624.4L322.0 624.3L322.4 624.2L322.8 623.9L323.2 623.6L323.6 623.2L324.1 623.0L324.5 622.8L324.9 622.7L325.3 622.4L325.7 622.1L326.1 621.8L326.5 621.4L326.9 621.0L327.3 620.5L327.7 620.0L328.2 619.5L328.6 619.0L329.0 618.4L329.4 618.0L329.8 617.6L330.2 617.2L330.6 617.0L331.0 616.8L331.4 615.7L331.8 615.8L332.3 616.0L332.7 616.4L333.1 616.9L333.5 617.4L333.9 618.1L334.3 618.7L334.7 619.4L335.1 620.1L335.5 620.8L335.9 621.4L336.4 622.0L336.8 622.5L337.2 622.9L337.6 623.3L338.0 623.6L338.4 623.9L338.8 624.1L339.2 624.2L339.6 624.4L340.0 624.5L340.5 624.5L340.9 624.6L341.3 624.6L341.7 624.6L342.1 624.7L342.5 624.7L342.9 624.7L343.3 624.7L343.7 624.7L344.1 624.7L344.6 624.7L345.0 624.7L345.4 624.7L345.8 624.7L346.2 624.7L346.6 624.7L347.0 624.7L347.4 624.7L347.8 624.7L348.2 624.7L348.7 624.7L349.1 624.7L349.5 624.7L349.9 624.7L350.3 624.7L350.7 624.7L351.1 624.7L351.5 624.7L351.9 624.7L352.3 624.7L352.8 624.7L353.2 624.7L353.6 624.7L354.0 624.7L354.4 624.7L354.8 624.7L355.2 624.7L355.6 624.7L356.0 624.7L356.4 624.7L356.9 624.7L357.3 624.7L357.7 624.7L358.1 624.7L358.5 624.7L358.9 624.7L359.3 624.7L359.7 624.7L360.1 624.7L360.5 624.7L361.0 624.7L361.4 624.7L361.8 624.7L362.2 624.7L362.6 624.7L363.0 624.7L363.4 624.7L363.8 624.7L364.2 624.7L364.6 624.7L365.1 624.7L365.5 624.7L365.9 624.7L366.3 624.7L366.7 624.7L367.1 624.7L367.5 624.7L367.9 624.7L368.3 624.7L368.7 624.7L369.2 624.7L369.6 624.7L370.0 624.7L370.4 624.7L370.8 624.7L371.2 624.7L371.6 624.7L372.0 624.7L372.4 624.7L372.8 624.7L373.3 624.7L373.7 624.7L374.1 624.7L374.5 624.7L374.9 624.7L375.3 624.7L375.7 624.7L376.1 624.7L376.5 624.7L376.9 624.7L377.4 624.7L377.8 624.7L378.2 624.7L378.6 624.7L379.0 624.7L379.0 624.7Z" fill="#8cc46c" fill-opacity="0.95"/>
<path d="M281.0 624.7L281.0 624.7L281.4 624.7L281.8 624.7L282.2 624.7L282.6 624.7L283.1 624.7L283.5 624.7L283.9 624.7L284.3 624.7L284.7 624.7L285.1 624.7L285.5 624.7L285.9 624.7L286.3 624.7L286.7 624.7L287.2 624.7L287.6 624.7L288.0 624.7L288.4 624.7L288.8 624.7L289.2 624.7L289.6 624.7L290.0 624.7L290.4 624.7L290.8 624.7L291.3 624.7L291.7 624.7L292.1 624.7L292.5 624.7L292.9 624.7L293.3 624.7L293.7 624.7L294.1 624.7L294.5 624.7L294.9 624.7L295.4 624.7L295.8 624.7L296.2 624.7L296.6 624.7L297.0 624.7L297.4 624.7L297.8 624.7L298.2 624.7L298.6 624.7L299.0 624.7L299.5 624.7L299.9 624.6L300.3 624.6L300.7 624.5L301.1 624.3L301.5 623.9L301.9 623.2L302.3 622.1L302.7 620.2L303.1 617.2L303.6 612.7L304.0 606.4L304.4 598.1L304.8 587.9L305.2 576.3L305.6 564.1L306.0 552.7L306.4 543.3L306.8 537.2L307.2 535.5L307.7 538.2L308.1 545.0L308.5 554.9L308.9 566.5L309.3 578.5L309.7 589.7L310.1 599.4L310.5 607.1L310.9 612.8L311.3 616.8L311.8 619.4L312.2 621.1L312.6 622.0L313.0 623.2L313.4 624.0L313.8 624.4L314.2 624.6L314.6 624.6L315.0 624.7L315.4 624.7L315.9 624.7L316.3 624.7L316.7 624.7L317.1 624.7L317.5 624.7L317.9 624.7L318.3 624.7L318.7 624.7L319.1 624.7L319.5 624.7L320.0 624.7L320.4 624.7L320.8 624.7L321.2 624.7L321.6 624.7L322.0 624.7L322.4 624.7L322.8 624.7L323.2 624.7L323.6 624.7L324.1 624.7L324.5 624.7L324.9 624.7L325.3 624.7L325.7 624.7L326.1 624.7L326.5 624.7L326.9 624.7L327.3 624.7L327.7 624.7L328.2 624.7L328.6 624.7L329.0 624.7L329.4 624.7L329.8 624.7L330.2 624.7L330.6 624.7L331.0 624.7L331.4 624.7L331.8 624.7L332.3 624.7L332.7 624.7L333.1 624.7L333.5 624.7L333.9 624.7L334.3 624.7L334.7 624.7L335.1 624.7L335.5 624.7L335.9 624.7L336.4 624.7L336.8 624.7L337.2 624.7L337.6 624.7L338.0 624.7L338.4 624.7L338.8 624.7L339.2 624.7L339.6 624.7L340.0 624.7L340.5 624.7L340.9 624.7L341.3 624.7L341.7 624.7L342.1 624.7L342.5 624.7L342.9 624.7L343.3 624.7L343.7 624.7L344.1 624.7L344.6 624.7L345.0 624.7L345.4 624.7L345.8 624.7L346.2 624.7L346.6 624.7L347.0 624.7L347.4 624.7L347.8 624.7L348.2 624.7L348.7 624.7L349.1 624.7L349.5 624.7L349.9 624.7L350.3 624.7L350.7 624.7L351.1 624.7L351.5 624.7L351.9 624.7L352.3 624.7L352.8 624.7L353.2 624.7L353.6 624.7L354.0 624.7L354.4 624.7L354.8 624.7L355.2 624.7L355.6 624.7L356.0 624.7L356.4 624.7L356.9 624.7L357.3 624.7L357.7 624.7L358.1 624.7L358.5 624.7L358.9 624.7L359.3 624.7L359.7 624.7L360.1 624.7L360.5 624.7L361.0 624.7L361.4 624.7L361.8 624.7L362.2 624.7L362.6 624.7L363.0 624.7L363.4 624.7L363.8 624.7L364.2 624.7L364.6 624.7L365.1 624.7L365.5 624.7L365.9 624.7L366.3 624.7L366.7 624.7L367.1 624.7L367.5 624.7L367.9 624.7L368.3 624.7L368.7 624.7L369.2 624.7L369.6 624.7L370.0 624.7L370.4 624.7L370.8 624.7L371.2 624.7L371.6 624.7L372.0 624.7L372.4 624.7L372.8 624.7L373.3 624.7L373.7 624.7L374.1 624.7L374.5 624.7L374.9 624.7L375.3 624.7L375.7 624.7L376.1 624.7L376.5 624.7L376.9 624.7L377.4 624.7L377.8 624.7L378.2 624.7L378.6 624.7L379.0 624.7L379.0 624.7Z" fill="#9490d2" fill-opacity="0.85"/>
<path d="M281.0 624.7L281.4 624.7L281.8 624.7L282.2 624.7L282.6 624.7L283.1 624.7L283.5 624.7L283.9 624.7L284.3 624.7L284.7 624.7L285.1 624.7L285.5 624.7L285.9 624.7L286.3 624.7L286.7 624.7L287.2 624.7L287.6 624.7L288.0 624.7L288.4 624.7L288.8 624.7L289.2 624.7L289.6 624.7L290.0 624.7L290.4 624.7L290.8 624.7L291.3 624.7L291.7 624.7L292.1 624.7L292.5 624.7L292.9 624.7L293.3 624.7L293.7 624.7L294.1 624.7L294.5 624.7L294.9 624.7L295.4 624.7L295.8 624.7L296.2 624.7L296.6 624.7L297.0 624.7L297.4 624.7L297.8 624.7L298.2 624.7L298.6 624.7L299.0 624.7L299.5 624.7L299.9 624.6L300.3 624.6L300.7 624.5L301.1 624.3L301.5 623.9L301.9 623.2L302.3 622.1L302.7 620.2L303.1 617.2L303.6 612.7L304.0 606.4L304.4 598.1L304.8 587.9L305.2 576.3L305.6 564.1L306.0 552.7L306.4 543.3L306.8 537.2L307.2 535.5L307.7 538.2L308.1 545.0L308.5 554.9L308.9 566.5L309.3 578.5L309.7 589.7L310.1 599.4L310.5 607.1L310.9 612.8L311.3 616.8L311.8 619.4L312.2 621.1L312.6 622.0L313.0 622.5L313.4 622.8L313.8 623.0L314.2 623.0L314.6 623.1L315.0 623.1L315.4 623.1L315.9 623.2L316.3 623.2L316.7 623.2L317.1 623.2L317.5 623.2L317.9 623.2L318.3 623.3L318.7 623.3L319.1 623.3L319.5 623.3L320.0 623.3L320.4 623.3L320.8 623.3L321.2 623.3L321.6 623.3L322.0 623.3L322.4 623.3L322.8 623.3L323.2 623.2L323.6 623.1L324.1 623.0L324.5 622.8L324.9 622.7L325.3 622.4L325.7 622.1L326.1 621.8L326.5 621.4L326.9 621.0L327.3 620.5L327.7 620.0L328.2 619.5L328.6 619.0L329.0 618.4L329.4 618.0L329.8 617.6L330.2 617.2L330.6 617.0L331.0 616.8L331.4 615.7L331.8 615.8L332.3 616.0L332.7 616.4L333.1 616.9L333.5 617.4L333.9 618.1L334.3 618.7L334.7 619.4L335.1 620.1L335.5 620.8L335.9 621.4L336.4 622.0L336.8 622.5L337.2 622.9L337.6 623.3L338.0 623.6L338.4 623.9L338.8 624.1L339.2 624.2L339.6 624.4L340.0 624.5L340.5 624.5L340.9 624.6L341.3 624.6L341.7 624.6L342.1 624.7L342.5 624.7L342.9 624.7L343.3 624.7L343.7 624.7L344.1 624.7L344.6 624.7L345.0 624.7L345.4 624.7L345.8 624.7L346.2 624.7L346.6 624.7L347.0 624.7L347.4 624.7L347.8 624.7L348.2 624.7L348.7 624.7L349.1 624.7L349.5 624.7L349.9 624.7L350.3 624.7L350.7 624.7L351.1 624.7L351.5 624.7L351.9 624.7L352.3 624.7L352.8 624.7L353.2 624.7L353.6 624.7L354.0 624.7L354.4 624.7L354.8 624.7L355.2 624.7L355.6 624.7L356.0 624.7L356.4 624.7L356.9 624.7L357.3 624.7L357.7 624.7L358.1 624.7L358.5 624.7L358.9 624.7L359.3 624.7L359.7 624.7L360.1 624.7L360.5 624.7L361.0 624.7L361.4 624.7L361.8 624.7L362.2 624.7L362.6 624.7L363.0 624.7L363.4 624.7L363.8 624.7L364.2 624.7L364.6 624.7L365.1 624.7L365.5 624.7L365.9 624.7L366.3 624.7L366.7 624.7L367.1 624.7L367.5 624.7L367.9 624.7L368.3 624.7L368.7 624.7L369.2 624.7L369.6 624.7L370.0 624.7L370.4 624.7L370.8 624.7L371.2 624.7L371.6 624.7L372.0 624.7L372.4 624.7L372.8 624.7L373.3 624.7L373.7 624.7L374.1 624.7L374.5 624.7L374.9 624.7L375.3 624.7L375.7 624.7L376.1 624.7L376.5 624.7L376.9 624.7L377.4 624.7L377.8 624.7L378.2 624.7L378.6 624.7L379.0 624.7" fill="none" stroke="#9c3a8c" stroke-width="0.8"/>
<line x1="281" y1="625" x2="379" y2="625" stroke="#777" stroke-width="0.5"/>
<text x="0" y="0" font-size="6.38" font-weight="bold" text-anchor="start" fill="#222" transform="translate(337 547.53) scale(0.9 1)" xml:space="preserve">%G1:  79.2%</text>
<text x="0" y="0" font-size="6.38" font-weight="bold" text-anchor="start" fill="#222" transform="translate(337 554.13) scale(0.9 1)" xml:space="preserve">%S:  7.04%</text>
<text x="0" y="0" font-size="6.38" font-weight="bold" text-anchor="start" fill="#222" transform="translate(337 560.63) scale(0.9 1)" xml:space="preserve">%G2:  12.6%</text>
<text x="0" y="0" font-size="9.57" font-weight="bold" text-anchor="middle" fill="#111" transform="translate(331 525.05) scale(0.9 1)" stroke="#111" stroke-width="0.35">si-<tspan font-style="italic">SNRPE</tspan>#2</text>
<text x="0" y="0" font-size="18.15" font-weight="bold" text-anchor="start" fill="#111" transform="translate(406.5 527) scale(0.9 1)" stroke="#111" stroke-width="0.35">H</text>
<text x="0" y="0" font-size="10.89" font-weight="bold" text-anchor="middle" fill="#222" transform="translate(516.6 525.71) scale(0.9 1)" stroke="#222" stroke-width="0.35">HEY</text>
<line x1="451.1" y1="587.93" x2="451.1" y2="586.66" stroke="#1d4f91" stroke-width="1.1"/>
<line x1="448.1" y1="586.66" x2="454.1" y2="586.66" stroke="#1d4f91" stroke-width="1.1"/>
<rect x="446.9" y="588.53" width="8.4" height="49.87" fill="url(#pB)" stroke="#1d4f91" stroke-width="1.2"/>
<line x1="465.2" y1="563.63" x2="465.2" y2="563.04" stroke="#f08ccd" stroke-width="1.1"/>
<line x1="462.2" y1="563.04" x2="468.2" y2="563.04" stroke="#f08ccd" stroke-width="1.1"/>
<rect x="461" y="564.23" width="8.4" height="74.17" fill="url(#pP)" stroke="#f08ccd" stroke-width="1.2"/>
<line x1="479.3" y1="560.2" x2="479.3" y2="559.8" stroke="#f39a3c" stroke-width="1.1"/>
<line x1="476.3" y1="559.8" x2="482.3" y2="559.8" stroke="#f39a3c" stroke-width="1.1"/>
<rect x="475.1" y="560.8" width="8.4" height="77.6" fill="url(#pO)" stroke="#f39a3c" stroke-width="1.2"/>
<line x1="501.9" y1="618.31" x2="501.9" y2="615.96" stroke="#1d4f91" stroke-width="1.1"/>
<line x1="498.9" y1="615.96" x2="504.9" y2="615.96" stroke="#1d4f91" stroke-width="1.1"/>
<rect x="497.7" y="618.91" width="8.4" height="19.49" fill="url(#pB)" stroke="#1d4f91" stroke-width="1.2"/>
<line x1="516" y1="632.32" x2="516" y2="631.74" stroke="#f08ccd" stroke-width="1.1"/>
<line x1="513" y1="631.74" x2="519" y2="631.74" stroke="#f08ccd" stroke-width="1.1"/>
<rect x="511.8" y="632.92" width="8.4" height="5.48" fill="url(#pP)" stroke="#f08ccd" stroke-width="1.2"/>
<line x1="530.1" y1="632.91" x2="530.1" y2="632.03" stroke="#f39a3c" stroke-width="1.1"/>
<line x1="527.1" y1="632.03" x2="533.1" y2="632.03" stroke="#f39a3c" stroke-width="1.1"/>
<rect x="525.9" y="633.51" width="8.4" height="4.89" fill="url(#pO)" stroke="#f39a3c" stroke-width="1.2"/>
<line x1="553" y1="612.92" x2="553" y2="611.55" stroke="#1d4f91" stroke-width="1.1"/>
<line x1="550" y1="611.55" x2="556" y2="611.55" stroke="#1d4f91" stroke-width="1.1"/>
<rect x="548.8" y="613.52" width="8.4" height="24.88" fill="url(#pB)" stroke="#1d4f91" stroke-width="1.2"/>
<line x1="567.1" y1="623.5" x2="567.1" y2="623.01" stroke="#f08ccd" stroke-width="1.1"/>
<line x1="564.1" y1="623.01" x2="570.1" y2="623.01" stroke="#f08ccd" stroke-width="1.1"/>
<rect x="562.9" y="624.1" width="8.4" height="14.3" fill="url(#pP)" stroke="#f08ccd" stroke-width="1.2"/>
<line x1="581.2" y1="625.07" x2="581.2" y2="624.58" stroke="#f39a3c" stroke-width="1.1"/>
<line x1="578.2" y1="624.58" x2="584.2" y2="624.58" stroke="#f39a3c" stroke-width="1.1"/>
<rect x="577" y="625.67" width="8.4" height="12.73" fill="url(#pO)" stroke="#f39a3c" stroke-width="1.2"/>
<polyline points="451.1,577 451.1,539.6 479.1,539.6 479.1,554.6" stroke="#222" stroke-width="0.9" fill="none"/>
<polyline points="451.1,577 451.1,549.3 465.1,549.3 465.1,557.7" stroke="#222" stroke-width="0.9" fill="none"/>
<text x="0" y="0" font-size="9.9" font-weight="bold" text-anchor="middle" fill="#111" transform="translate(465.1 538.2) scale(0.9 1)" stroke="#111" stroke-width="0.35">**</text>
<text x="0" y="0" font-size="9.9" font-weight="bold" text-anchor="middle" fill="#111" transform="translate(458.1 547.9) scale(0.9 1)" stroke="#111" stroke-width="0.35">**</text>
<polyline points="501.9,614.3 501.9,589 529.5,589 529.5,628.7" stroke="#222" stroke-width="0.9" fill="none"/>
<polyline points="501.9,614.3 501.9,599.8 515.8,599.8 515.8,630" stroke="#222" stroke-width="0.9" fill="none"/>
<text x="0" y="0" font-size="9.9" font-weight="bold" text-anchor="middle" fill="#111" transform="translate(515.7 587.6) scale(0.9 1)" stroke="#111" stroke-width="0.35">**</text>
<text x="0" y="0" font-size="9.9" font-weight="bold" text-anchor="middle" fill="#111" transform="translate(508.85 598.4) scale(0.9 1)" stroke="#111" stroke-width="0.35">**</text>
<polyline points="553,609.5 553,589 580.4,589 580.4,622.7" stroke="#222" stroke-width="0.9" fill="none"/>
<polyline points="553,609.5 553,598.6 566.6,598.6 566.6,620.3" stroke="#222" stroke-width="0.9" fill="none"/>
<text x="0" y="0" font-size="9.9" font-weight="bold" text-anchor="middle" fill="#111" transform="translate(566.7 587.6) scale(0.9 1)" stroke="#111" stroke-width="0.35">**</text>
<text x="0" y="0" font-size="9.9" font-weight="bold" text-anchor="middle" fill="#111" transform="translate(559.8 597.2) scale(0.9 1)" stroke="#111" stroke-width="0.35">**</text>
<line x1="441.5" y1="540.4" x2="441.5" y2="639" stroke="#111" stroke-width="1.2"/>
<line x1="438" y1="638.4" x2="441.5" y2="638.4" stroke="#111" stroke-width="1.2"/>
<text x="0" y="0" font-size="7.92" font-weight="bold" text-anchor="end" fill="#111" transform="translate(436.4 641.17) scale(0.9 1)" stroke="#111" stroke-width="0.35">0</text>
<line x1="438" y1="618.8" x2="441.5" y2="618.8" stroke="#111" stroke-width="1.2"/>
<text x="0" y="0" font-size="7.92" font-weight="bold" text-anchor="end" fill="#111" transform="translate(436.4 621.57) scale(0.9 1)" stroke="#111" stroke-width="0.35">20</text>
<line x1="438" y1="599.2" x2="441.5" y2="599.2" stroke="#111" stroke-width="1.2"/>
<text x="0" y="0" font-size="7.92" font-weight="bold" text-anchor="end" fill="#111" transform="translate(436.4 601.97) scale(0.9 1)" stroke="#111" stroke-width="0.35">40</text>
<line x1="438" y1="579.6" x2="441.5" y2="579.6" stroke="#111" stroke-width="1.2"/>
<text x="0" y="0" font-size="7.92" font-weight="bold" text-anchor="end" fill="#111" transform="translate(436.4 582.37) scale(0.9 1)" stroke="#111" stroke-width="0.35">60</text>
<line x1="438" y1="560" x2="441.5" y2="560" stroke="#111" stroke-width="1.2"/>
<text x="0" y="0" font-size="7.92" font-weight="bold" text-anchor="end" fill="#111" transform="translate(436.4 562.77) scale(0.9 1)" stroke="#111" stroke-width="0.35">80</text>
<line x1="438" y1="540.4" x2="441.5" y2="540.4" stroke="#111" stroke-width="1.2"/>
<text x="0" y="0" font-size="7.92" font-weight="bold" text-anchor="end" fill="#111" transform="translate(436.4 543.17) scale(0.9 1)" stroke="#111" stroke-width="0.35">100</text>
<line x1="441.5" y1="638.4" x2="589.1" y2="638.4" stroke="#111" stroke-width="1.2"/>
<line x1="465.1" y1="638.4" x2="465.1" y2="641.4" stroke="#111" stroke-width="1.2"/>
<text x="0" y="0" font-size="8.8" font-weight="bold" text-anchor="middle" fill="#111" transform="translate(465.1 651.78) scale(0.9 1)" stroke="#111" stroke-width="0.35">G1</text>
<line x1="515.7" y1="638.4" x2="515.7" y2="641.4" stroke="#111" stroke-width="1.2"/>
<text x="0" y="0" font-size="8.8" font-weight="bold" text-anchor="middle" fill="#111" transform="translate(515.7 651.78) scale(0.9 1)" stroke="#111" stroke-width="0.35">S</text>
<line x1="566.3" y1="638.4" x2="566.3" y2="641.4" stroke="#111" stroke-width="1.2"/>
<text x="0" y="0" font-size="8.8" font-weight="bold" text-anchor="middle" fill="#111" transform="translate(566.3 651.78) scale(0.9 1)" stroke="#111" stroke-width="0.35">G2</text>
<text x="0" y="0" font-size="8.3" font-weight="bold" text-anchor="middle" fill="#111" transform="translate(419.5 587.6) rotate(-90)" stroke="#111" stroke-width="0.35">Proportion of cells (%)</text>
<rect x="530.6" y="541.7" width="10.2" height="4.6" fill="url(#pB)" stroke="#1d4f91" stroke-width="1.1"/>
<text x="0" y="0" font-size="7.26" text-anchor="start" fill="#111" transform="translate(547 546.54) scale(0.9 1)">si-NC</text>
<rect x="530.6" y="553.5" width="10.2" height="4.6" fill="url(#pP)" stroke="#f08ccd" stroke-width="1.1"/>
<text x="0" y="0" font-size="7.26" text-anchor="start" fill="#111" transform="translate(547 558.34) scale(0.9 1)">si-<tspan font-style="italic">SNRPE</tspan>#1</text>
<rect x="530.6" y="565.3" width="10.2" height="4.6" fill="url(#pO)" stroke="#f39a3c" stroke-width="1.1"/>
<text x="0" y="0" font-size="7.26" text-anchor="start" fill="#111" transform="translate(547 570.14) scale(0.9 1)">si-<tspan font-style="italic">SNRPE</tspan>#2</text>
<rect x="5.2" y="671.8" width="2.6" height="10.8" fill="#111"/>
<line x1="30.5" y1="683.2" x2="30.5" y2="795.6" stroke="#111" stroke-width="1.3"/>
<line x1="29.9" y1="795.6" x2="379.4" y2="795.6" stroke="#111" stroke-width="1.3"/>
<text x="0" y="0" font-size="8.4" font-weight="bold" text-anchor="middle" fill="#111" transform="translate(25.3 739.4) rotate(-90)" stroke="#111" stroke-width="0.35">7-AAD</text>
<text x="0" y="0" font-size="9.24" font-weight="bold" text-anchor="middle" fill="#111" transform="translate(204.2 808.63) scale(0.9 1)" stroke="#111" stroke-width="0.35">Annexin V</text>
<rect x="45" y="683.3" width="98" height="96.4" fill="#fff" stroke="#8a8a8a" stroke-width="0.5"/>
<clipPath id="fc300"><rect x="45" y="683.3" width="98" height="96.4"/></clipPath>
<g clip-path="url(#fc300)">
<g stroke-linecap="round" fill="none"><path d="M76.0 755.1h0M98.1 734.0h0M87.1 737.8h0M84.8 756.6h0M84.7 760.8h0M81.5 761.3h0M74.0 754.9h0M93.2 758.2h0M87.0 753.5h0M92.7 742.8h0M94.7 731.8h0M90.9 740.2h0M80.6 758.1h0M95.7 736.2h0M85.7 746.1h0M99.1 732.5h0M85.3 747.1h0M90.4 761.5h0M79.0 760.4h0M80.5 750.3h0M87.5 751.5h0M80.8 760.0h0M77.2 748.9h0M89.7 755.4h0M80.6 742.7h0M94.4 744.2h0M76.1 748.5h0M87.3 744.7h0M86.0 743.5h0M71.0 757.8h0M91.8 750.5h0M86.1 753.4h0M95.2 744.9h0M86.0 747.5h0M76.0 757.5h0M89.1 755.5h0M84.1 764.1h0M88.3 745.6h0M76.8 752.8h0M80.0 761.3h0M92.4 738.8h0M82.4 733.1h0M92.1 756.0h0M67.4 759.7h0M91.3 752.9h0M80.5 741.9h0M98.0 735.3h0M92.3 759.5h0M80.2 771.4h0M85.5 738.5h0M88.0 748.7h0M98.4 751.7h0M80.3 740.4h0M84.3 770.7h0M87.7 744.3h0M94.2 747.8h0M89.6 746.7h0M86.2 750.8h0M85.2 737.3h0M83.4 748.5h0M83.9 756.6h0M88.3 753.5h0M88.7 756.5h0M71.2 758.2h0M81.6 758.0h0M90.3 746.3h0M88.5 737.0h0M83.5 748.0h0M88.8 757.6h0M71.7 747.7h0M89.8 744.4h0M89.6 733.1h0M85.8 750.8h0M80.0 745.4h0M83.7 771.3h0M82.6 748.7h0M85.9 750.3h0M86.2 744.0h0M82.6 740.6h0M83.8 742.1h0M92.8 746.7h0M83.2 751.0h0M71.1 760.8h0M75.8 749.9h0M82.0 749.5h0M79.0 744.5h0M85.4 744.8h0M68.5 760.3h0M86.9 754.6h0M76.2 756.5h0M71.2 757.7h0M90.9 744.1h0M80.5 747.6h0M94.9 751.3h0M89.0 775.0h0M82.1 756.8h0M72.4 748.5h0M67.7 766.1h0M92.4 746.4h0M84.4 759.0h0M79.5 754.8h0M84.6 743.8h0M87.0 740.4h0M72.5 746.2h0M77.5 739.4h0M97.7 748.4h0M84.9 749.0h0M65.7 760.3h0M80.7 736.9h0M77.8 740.5h0M88.1 741.6h0M83.1 739.2h0M81.5 758.4h0M89.9 745.6h0M73.0 757.4h0M77.5 754.6h0M83.5 751.2h0M92.9 749.2h0M84.3 738.5h0M85.8 750.2h0M78.1 749.5h0M85.6 750.3h0M72.7 757.5h0M86.5 757.2h0M102.7 741.7h0M94.6 750.5h0M90.5 740.7h0M69.0 743.2h0M70.3 762.0h0M86.0 765.3h0M91.3 747.4h0M69.7 749.7h0M89.3 761.0h0M95.7 749.5h0M76.3 765.3h0M75.7 755.7h0M83.8 757.1h0M88.6 744.2h0M80.6 763.6h0M72.6 760.7h0M70.6 775.6h0M89.2 753.5h0M82.9 739.4h0M82.0 750.6h0M83.9 756.5h0M91.3 726.2h0M93.3 760.5h0M78.5 737.8h0M92.1 752.3h0M82.3 766.8h0M88.8 752.2h0M93.3 743.3h0M94.0 755.0h0M89.3 735.8h0M81.5 743.6h0M95.2 755.3h0M78.4 759.7h0M79.1 743.8h0M74.8 755.1h0M87.2 746.1h0M89.4 753.4h0M90.7 734.9h0M100.8 731.9h0M78.1 758.5h0M83.5 751.5h0M94.6 738.2h0M96.2 748.9h0M87.7 744.4h0M87.6 740.6h0M85.5 763.8h0M92.0 741.2h0M74.5 757.2h0M93.4 740.2h0M78.0 751.7h0M73.9 747.7h0M77.6 746.6h0M75.5 757.0h0M88.8 754.0h0M89.5 750.8h0M77.0 765.3h0M77.0 756.2h0M74.7 743.8h0M81.2 740.0h0M85.5 740.1h0M84.8 751.2h0M88.2 749.5h0M92.9 744.4h0M86.5 754.8h0M80.4 730.8h0M77.1 752.9h0M86.7 755.9h0M96.2 738.8h0M88.9 752.6h0M83.7 756.6h0M78.6 747.5h0M76.2 746.1h0M83.6 748.0h0M84.0 741.4h0M67.2 752.7h0M77.1 751.4h0M78.3 756.9h0M58.3 763.4h0M83.9 740.8h0M85.2 742.2h0M101.9 744.9h0M80.8 749.7h0M84.3 755.8h0M81.2 746.9h0M85.1 750.6h0M107.9 727.9h0M111.7 726.9h0M110.3 727.1h0M106.8 724.7h0M102.8 727.9h0M118.4 726.2h0M94.7 724.6h0M119.3 724.4h0M107.3 728.6h0M101.4 728.7h0M115.4 723.8h0M99.1 728.7h0M110.8 726.8h0M99.1 728.3h0M102.1 727.5h0M99.4 727.2h0M126.3 721.1h0M119.2 729.7h0M105.4 726.1h0M105.2 726.3h0M110.7 727.9h0M100.4 729.9h0M106.7 729.5h0M92.0 727.7h0M107.1 729.6h0M112.2 728.8h0M106.5 723.4h0M104.3 727.2h0M116.0 728.2h0M89.8 731.4h0M109.5 724.2h0M105.5 726.7h0M106.8 727.9h0M109.2 725.1h0M106.4 727.6h0M102.0 735.6h0M96.4 740.4h0M83.9 745.2h0M99.6 730.7h0M86.1 745.4h0M91.1 743.0h0M91.1 746.3h0M102.5 733.3h0M92.6 740.6h0M86.9 744.6h0M86.9 742.0h0M90.5 749.4h0M107.4 729.4h0M86.7 749.5h0M85.5 748.4h0M107.8 732.6h0M107.4 730.3h0M106.2 727.4h0M105.5 727.3h0M90.6 751.5h0M83.8 748.9h0M81.6 755.1h0M95.5 740.2h0M114.0 736.5h0M84.8 732.3h0M111.2 751.8h0M76.7 732.9h0M81.6 753.0h0M92.9 749.7h0M67.1 726.1h0M99.9 730.3h0M96.7 750.7h0M97.2 731.7h0M57.6 728.8h0M89.3 754.3h0M109.7 750.7h0M120.0 764.3h0M79.1 733.9h0M71.3 756.9h0M85.7 752.0h0M97.3 735.8h0M111.6 737.9h0M109.0 728.7h0M87.0 745.2h0M101.5 748.8h0M93.7 744.4h0M94.7 736.7h0M111.4 752.1h0M79.0 738.9h0M94.4 736.7h0M73.7 751.1h0M101.7 745.4h0M94.6 751.0h0M82.3 751.6h0M121.4 743.2h0M105.3 742.0h0" stroke="#7a9ce6" stroke-width="0.8"/><path d="M78.6 754.0h0M89.7 747.2h0M87.4 759.4h0M80.7 734.2h0M90.3 754.0h0M89.1 755.8h0M87.9 749.6h0M85.9 740.6h0M81.5 758.5h0M95.2 742.7h0M73.7 740.2h0M90.3 738.7h0M77.2 745.5h0M83.5 751.3h0M83.6 749.9h0M101.1 730.0h0M77.0 745.0h0M88.3 745.1h0M92.2 730.7h0M80.7 755.7h0M84.8 736.6h0M78.9 753.8h0M72.5 748.6h0M88.1 740.2h0M83.1 751.0h0M75.5 741.5h0M76.1 742.3h0M74.7 756.1h0M75.6 751.4h0M91.4 732.2h0M71.6 755.9h0M96.3 739.9h0M72.4 757.6h0M89.8 754.9h0M85.8 763.7h0M75.5 763.5h0M74.4 754.7h0M86.1 746.1h0M93.7 765.5h0M76.9 753.3h0M75.8 758.7h0M92.2 742.6h0M86.2 760.1h0M81.7 756.9h0M81.8 753.1h0M87.3 750.4h0M75.8 744.6h0M82.7 754.4h0M80.1 742.8h0M96.8 731.6h0M87.1 747.7h0M96.7 743.9h0M105.9 732.1h0M85.1 750.3h0M74.2 757.3h0M83.4 760.4h0M75.3 748.8h0M87.2 747.4h0M93.9 748.5h0M90.3 741.5h0M73.1 758.0h0M78.8 754.9h0M82.0 742.4h0M71.9 762.5h0M87.5 742.2h0M108.5 749.6h0M82.0 741.3h0M91.3 733.6h0M83.9 736.3h0M80.6 744.9h0M72.4 752.7h0M74.7 759.6h0M78.1 733.5h0M91.5 741.2h0M72.6 753.8h0M77.0 773.0h0M91.7 751.8h0M79.5 743.9h0M86.1 748.4h0M86.7 754.0h0M92.6 746.7h0M95.7 744.9h0M72.5 761.5h0M81.2 755.0h0M75.5 763.1h0M95.2 742.2h0M79.4 762.3h0M100.5 729.6h0M68.4 750.6h0M93.9 730.4h0M77.8 740.3h0M88.4 731.7h0M89.0 747.3h0M78.1 754.2h0M78.5 740.7h0M79.8 757.8h0M73.4 771.8h0M82.6 749.9h0M93.1 730.1h0M84.5 751.7h0M78.0 753.9h0M76.3 748.4h0M73.1 755.9h0M81.4 760.6h0M82.5 765.7h0M82.0 758.5h0M69.6 751.0h0M89.0 740.2h0M89.4 757.2h0M83.3 746.3h0M83.5 751.7h0M87.9 750.8h0M78.5 745.4h0M97.7 739.8h0M72.6 753.2h0M76.1 737.1h0M89.3 762.5h0M91.1 740.6h0M79.4 762.7h0M83.9 740.2h0M84.9 749.6h0M76.4 758.7h0M92.4 749.9h0M85.4 746.2h0M77.6 760.7h0M84.7 756.9h0M91.1 736.8h0M96.2 740.8h0M80.2 746.3h0M77.8 752.8h0M79.8 752.3h0M73.7 748.8h0M77.3 752.3h0M87.1 730.6h0M81.1 755.2h0M80.4 750.1h0M88.4 754.9h0M86.2 753.3h0M93.4 743.4h0M77.5 751.7h0M81.4 765.8h0M91.8 742.8h0M77.8 747.8h0M80.0 756.8h0M83.5 751.6h0M86.0 750.3h0M88.7 749.5h0M65.6 768.7h0M90.6 756.7h0M81.6 754.4h0M71.7 735.8h0M83.3 758.2h0M77.9 758.1h0M86.6 756.3h0M80.5 742.6h0M72.8 744.4h0M87.6 748.7h0M79.6 749.5h0M86.5 757.6h0M73.9 735.9h0M85.6 743.7h0M65.7 754.0h0M92.4 751.6h0M63.0 760.4h0M75.9 762.4h0M76.5 762.5h0M75.4 765.2h0M92.6 739.3h0M79.0 750.5h0M73.7 757.6h0M87.4 730.5h0M83.0 747.6h0M88.4 741.3h0M72.4 746.0h0M82.8 750.1h0M98.4 751.6h0M97.8 737.5h0M73.1 737.5h0M73.4 748.9h0M91.1 745.4h0M91.5 741.1h0M78.3 749.6h0M81.6 751.5h0M75.8 752.6h0M74.5 761.8h0M70.7 764.8h0M80.6 747.3h0M80.4 754.7h0M85.2 747.4h0M96.5 749.7h0M96.5 735.9h0M81.2 748.5h0M69.7 762.0h0M106.9 739.0h0M98.5 733.1h0M80.2 747.7h0M80.9 750.4h0M93.3 748.8h0M73.4 763.3h0M100.8 728.2h0M80.6 744.3h0M82.0 753.6h0M94.4 744.0h0M93.9 736.2h0M83.4 749.1h0M82.7 746.3h0M90.7 736.4h0M77.8 752.4h0M85.5 755.4h0M85.4 740.6h0M88.1 756.2h0M81.6 752.1h0M84.9 755.1h0M86.4 749.8h0M71.0 747.5h0M85.2 743.9h0M83.3 754.3h0M87.6 749.5h0M83.7 753.5h0M88.1 732.6h0M82.1 755.5h0M85.8 744.0h0M74.8 757.6h0M78.0 758.2h0M58.2 778.7h0M70.8 759.2h0M69.8 756.2h0M85.8 755.6h0M77.8 754.6h0M88.7 753.2h0M78.4 743.8h0M97.8 732.7h0M106.3 732.2h0M106.4 730.5h0M101.5 727.2h0M102.1 722.9h0M102.1 727.6h0M110.1 725.2h0M111.1 726.6h0M121.9 727.8h0M99.0 724.7h0M105.7 732.5h0M113.6 723.1h0M94.6 726.9h0M112.2 727.6h0M111.4 723.5h0M106.9 729.1h0M122.1 721.2h0M105.6 727.9h0M113.3 727.0h0M107.4 728.9h0M107.7 731.2h0M122.4 725.7h0M105.1 726.7h0M97.3 725.1h0M112.8 726.3h0M89.3 746.0h0M96.2 739.3h0M88.8 741.7h0M92.3 745.4h0M91.6 742.3h0M87.7 749.8h0M87.0 749.4h0M84.2 742.7h0M102.4 731.0h0M103.1 729.7h0M92.7 747.3h0M86.5 749.0h0M99.9 737.4h0M93.9 738.9h0M103.3 731.7h0M86.5 748.3h0M90.6 749.0h0M107.5 729.4h0M106.0 733.0h0M79.5 716.5h0M85.2 721.8h0M80.1 744.3h0M63.2 753.2h0M86.9 726.7h0M55.5 735.4h0M95.1 745.1h0M72.7 760.6h0M73.5 745.1h0M115.4 774.9h0M87.8 727.3h0M90.1 753.3h0M86.5 740.1h0M64.6 738.1h0M91.9 753.1h0M91.2 754.8h0M85.2 736.1h0M86.5 752.2h0M78.3 789.9h0M91.5 743.0h0M73.1 758.3h0M88.2 745.4h0M89.0 753.8h0M88.3 730.8h0M92.8 729.5h0" stroke="#4872dc" stroke-width="0.8"/><path d="M73.0 736.5h0M84.4 738.7h0M84.6 755.7h0M81.4 745.0h0M76.7 754.3h0M87.5 739.1h0M86.3 748.0h0M97.2 755.2h0M64.2 761.0h0M86.1 756.1h0M100.8 749.0h0M72.1 760.0h0M83.6 751.0h0M75.5 758.4h0M94.3 753.9h0M94.4 744.4h0M88.4 741.8h0M75.1 751.6h0M80.3 747.5h0M66.4 757.3h0M69.9 760.8h0M80.5 763.5h0M76.5 740.9h0M64.9 755.5h0M87.5 742.7h0M84.2 753.8h0M72.7 740.3h0M77.8 756.0h0M90.1 742.5h0M76.6 754.5h0M72.0 753.6h0M84.6 748.7h0M79.1 752.9h0M89.9 749.1h0M78.2 749.0h0M77.9 752.1h0M76.6 756.1h0M78.0 753.2h0M93.6 754.7h0M87.8 746.1h0M80.5 752.8h0M63.4 773.2h0M75.4 746.8h0M96.7 735.2h0M83.2 743.9h0M84.9 741.6h0M82.7 756.5h0M74.2 741.4h0M88.6 742.6h0M83.9 750.9h0M75.1 755.0h0M74.9 749.2h0M84.0 753.9h0M85.8 748.3h0M87.2 739.8h0M83.6 756.2h0M87.5 747.1h0M85.4 735.8h0M95.0 749.8h0M92.1 746.5h0M88.7 751.1h0M74.2 751.4h0M94.5 747.8h0M91.7 741.2h0M68.9 767.2h0M73.1 753.5h0M86.4 748.0h0M74.9 748.0h0M100.4 730.9h0M90.4 743.0h0M85.5 749.2h0M83.9 749.5h0M84.5 744.0h0M70.0 769.4h0M85.5 758.8h0M93.3 740.9h0M86.5 737.4h0M85.6 760.4h0M83.3 750.8h0M69.7 753.0h0M67.8 762.9h0M81.2 743.6h0M70.3 753.0h0M81.0 758.4h0M86.3 743.1h0M83.3 745.4h0M91.6 747.5h0M79.4 748.9h0M94.2 746.7h0M88.4 744.3h0M75.8 767.3h0M89.7 729.6h0M79.9 749.8h0M83.6 749.3h0M73.6 765.4h0M83.9 741.1h0M83.8 753.8h0M85.4 731.6h0M78.7 746.9h0M76.9 750.7h0M71.7 763.0h0M101.9 730.9h0M91.0 751.4h0M95.1 736.0h0M86.3 761.8h0M77.5 745.7h0M73.3 731.2h0M89.2 735.2h0M74.5 760.8h0M85.1 742.5h0M87.8 744.6h0M78.9 757.5h0M85.4 756.1h0M86.5 752.1h0M74.9 744.3h0M70.7 767.5h0M88.4 752.4h0M91.0 750.1h0M79.0 745.5h0M83.4 746.3h0M88.0 721.2h0M97.0 742.1h0M83.3 744.8h0M93.1 742.5h0M93.8 769.4h0M78.0 757.4h0M81.9 751.7h0M92.6 737.9h0M92.1 737.3h0M90.4 744.8h0M80.8 754.2h0M85.1 748.0h0M74.8 763.6h0M74.1 749.0h0M81.0 744.5h0M78.9 756.0h0M78.0 751.9h0M88.3 759.1h0M85.5 750.5h0M82.5 752.5h0M91.6 747.5h0M106.1 736.8h0M96.4 731.1h0M89.3 753.6h0M88.4 745.9h0M86.3 743.6h0M81.1 750.4h0M69.6 760.3h0M81.7 751.6h0M85.1 744.7h0M85.8 738.0h0M84.7 736.6h0M91.9 751.7h0M90.0 736.3h0M87.5 751.7h0M66.7 756.4h0M73.9 753.9h0M88.6 745.3h0M84.1 743.4h0M90.3 749.9h0M84.4 747.4h0M77.0 761.9h0M75.5 745.3h0M93.9 737.7h0M95.6 731.5h0M87.2 751.3h0M78.5 736.5h0M83.1 748.4h0M70.1 759.7h0M76.3 755.4h0M84.4 740.1h0M94.2 753.3h0M75.3 754.1h0M90.3 739.3h0M83.1 743.7h0M95.5 742.8h0M94.7 729.1h0M93.2 754.9h0M86.9 736.3h0M93.5 752.3h0M89.6 751.5h0M76.2 749.5h0M87.0 750.7h0M89.2 749.3h0M101.1 731.4h0M87.9 751.9h0M71.2 742.4h0M87.4 753.0h0M86.1 748.0h0M88.4 765.6h0M83.4 737.8h0M83.9 746.4h0M81.2 754.7h0M96.3 724.9h0M84.4 758.5h0M80.6 751.2h0M74.0 752.2h0M97.6 739.4h0M86.9 748.0h0M72.5 754.8h0M79.2 762.4h0M99.5 742.0h0M95.4 745.5h0M95.6 738.6h0M87.1 745.2h0M94.2 739.5h0M91.6 739.8h0M84.2 737.6h0M87.1 754.0h0M66.5 751.9h0M89.5 732.7h0M86.4 749.0h0M81.0 745.0h0M84.7 743.3h0M92.0 745.8h0M65.6 760.7h0M74.8 764.3h0M106.2 733.7h0M83.5 751.3h0M83.1 753.4h0M75.5 764.5h0M82.6 751.9h0M78.6 759.9h0M83.5 756.7h0M85.7 763.9h0M79.5 758.5h0M85.0 746.5h0M66.5 733.0h0M68.9 770.7h0M87.0 728.0h0M83.7 752.5h0M89.6 746.4h0M91.7 735.7h0M73.8 755.4h0M89.5 744.9h0M87.6 749.4h0M84.4 748.9h0M82.9 759.6h0M86.0 744.6h0M81.6 760.9h0M82.9 748.2h0M85.3 753.1h0M78.5 738.0h0M103.1 740.9h0M81.5 757.0h0M84.1 757.0h0M72.1 761.5h0M93.8 738.5h0M76.3 767.3h0M91.7 740.1h0M83.7 744.5h0M95.9 733.9h0M81.2 746.9h0M86.2 742.0h0M109.1 731.0h0M102.1 722.8h0M90.7 733.7h0M108.2 725.8h0M100.2 726.1h0M104.9 726.6h0M105.6 730.4h0M114.6 730.0h0M113.2 727.6h0M107.5 726.2h0M102.4 737.1h0M118.8 725.7h0M113.0 730.4h0M101.7 726.5h0M99.9 728.0h0M96.8 729.8h0M117.2 725.0h0M105.9 726.6h0M110.6 727.7h0M113.4 724.4h0M106.0 726.7h0M102.1 726.5h0M100.1 730.1h0M113.3 724.3h0M104.1 728.6h0M101.4 730.0h0M110.1 720.0h0M114.0 723.0h0M98.4 726.2h0M105.3 728.1h0M108.5 727.7h0M114.7 725.9h0M114.0 728.5h0M105.3 723.6h0M106.3 723.8h0M103.8 728.7h0M103.2 734.0h0M92.3 740.5h0M97.4 736.7h0M90.3 745.3h0M99.7 736.7h0M93.4 740.0h0M105.1 731.5h0M102.4 736.1h0M107.4 727.7h0M98.3 737.3h0M92.4 742.9h0M95.3 740.7h0M91.5 741.7h0M103.8 729.0h0M95.0 730.4h0M104.7 738.8h0M81.5 744.3h0M93.8 746.1h0M99.1 735.6h0M104.8 731.2h0M85.6 746.8h0M75.1 761.7h0M117.4 753.6h0M117.0 751.2h0M84.7 752.8h0M111.0 730.1h0M88.3 738.4h0M86.0 736.9h0M80.5 742.8h0M73.2 749.3h0M80.7 772.2h0M89.5 750.6h0M106.4 741.9h0M87.7 746.4h0M78.7 754.9h0M121.1 749.1h0M76.4 746.6h0M115.1 740.8h0M109.0 753.9h0M102.2 726.0h0M88.0 733.5h0M79.6 732.7h0M109.0 751.8h0M73.3 749.7h0M63.7 754.5h0M89.9 746.7h0M75.9 743.1h0M104.3 736.6h0M98.1 752.1h0M93.5 754.4h0M76.7 743.8h0M96.5 722.5h0M86.3 737.6h0M83.3 750.1h0M66.5 755.6h0M85.8 748.1h0M82.7 759.5h0M120.4 759.1h0M70.0 745.4h0M96.1 744.6h0M70.7 749.7h0M99.9 747.2h0" stroke="#2c50c8" stroke-width="0.8"/><path d="M105.8 744.6h0M81.4 760.4h0M84.6 749.9h0M86.9 766.1h0M81.9 750.9h0M81.6 754.0h0M87.5 748.2h0M84.8 759.2h0M75.6 762.8h0M73.0 748.3h0M87.5 751.7h0M92.0 741.2h0M80.2 743.6h0M75.8 759.7h0M83.7 757.7h0M94.9 733.6h0M81.6 744.0h0M78.5 750.3h0M82.7 748.8h0M88.1 756.3h0M83.1 744.0h0M90.6 735.7h0M85.3 736.0h0M79.0 750.1h0M85.0 743.9h0M94.3 762.6h0M88.2 744.3h0M75.7 753.8h0M88.6 745.7h0M89.7 764.4h0M89.3 760.4h0M76.4 768.2h0M84.3 746.6h0M85.5 740.4h0M72.5 760.5h0M88.5 750.5h0M81.4 759.4h0M68.2 757.2h0M91.0 743.7h0M82.5 751.0h0M92.4 746.6h0M88.2 754.7h0M68.2 757.9h0M84.0 741.1h0M81.2 755.7h0M86.7 737.0h0M87.9 749.1h0M89.7 741.9h0M85.8 747.7h0M89.2 754.7h0M73.9 752.4h0M88.8 757.0h0M88.1 738.6h0M87.3 732.7h0M93.6 739.7h0M85.4 741.2h0M74.3 763.2h0M84.9 747.6h0M74.6 763.1h0M83.4 762.1h0M89.6 745.7h0M72.5 764.8h0M76.6 747.5h0M90.5 736.9h0M71.5 746.4h0M90.8 731.6h0M81.1 753.2h0M87.7 738.0h0M80.9 744.2h0M91.1 740.6h0M78.8 744.3h0M76.0 754.9h0M80.3 761.7h0M86.5 744.0h0M90.2 750.1h0M80.6 754.8h0M80.8 743.3h0M76.3 760.3h0M81.2 744.9h0M82.1 770.3h0M89.2 744.2h0M71.7 736.1h0M80.9 748.2h0M90.6 751.7h0M78.7 749.3h0M94.8 741.9h0M79.0 761.5h0M87.0 743.9h0M92.3 739.4h0M71.1 765.4h0M81.4 745.7h0M78.2 755.8h0M96.4 729.5h0M78.2 753.8h0M82.8 762.2h0M89.1 747.3h0M76.5 753.7h0M70.8 757.3h0M96.2 739.0h0M75.4 747.5h0M84.1 752.9h0M83.6 735.5h0M78.5 750.6h0M73.7 748.5h0M91.6 753.0h0M77.2 753.5h0M74.3 751.2h0M78.4 748.8h0M76.2 725.4h0M75.4 760.3h0M75.8 748.5h0M105.4 736.9h0M83.6 753.4h0M82.4 755.2h0M80.9 744.2h0M80.0 747.1h0M86.5 738.0h0M86.6 752.5h0M72.5 754.9h0M74.6 753.2h0M87.6 750.2h0M91.6 755.6h0M92.9 739.5h0M76.7 751.8h0M85.6 744.4h0M85.1 750.8h0M71.3 756.0h0M82.2 768.7h0M78.1 763.5h0M79.7 750.5h0M82.9 740.4h0M87.8 743.6h0M78.1 758.2h0M85.4 754.9h0M97.8 736.6h0M85.6 764.6h0M84.5 744.4h0M84.3 744.3h0M85.8 744.4h0M97.0 751.4h0M80.0 776.8h0M88.8 740.6h0M92.8 753.3h0M76.1 763.3h0M96.6 753.6h0M66.2 751.8h0M93.2 738.5h0M76.8 739.3h0M84.6 751.0h0M88.5 749.6h0M85.9 748.1h0M83.7 737.4h0M87.2 750.7h0M74.6 748.5h0M86.4 742.5h0M83.7 746.4h0M87.2 746.7h0M66.7 760.6h0M82.9 756.5h0M83.3 752.7h0M82.2 739.0h0M86.9 744.8h0M79.9 753.6h0M73.4 752.5h0M77.7 742.8h0M89.9 753.0h0M85.0 753.7h0M77.9 750.0h0M85.3 745.4h0M87.7 743.7h0M87.1 739.2h0M92.2 741.8h0M97.2 742.1h0M77.0 763.1h0M80.1 753.4h0M82.9 751.4h0M81.6 753.2h0M85.7 735.5h0M84.1 740.3h0M104.9 736.9h0M68.6 743.7h0M93.5 748.9h0M69.6 761.8h0M79.1 745.9h0M80.3 735.9h0M70.2 763.0h0M78.8 745.4h0M87.9 740.9h0M92.1 748.0h0M85.8 768.8h0M72.6 753.0h0M88.3 742.3h0M76.3 749.2h0M71.0 765.0h0M89.3 750.4h0M76.4 759.5h0M77.5 755.0h0M83.6 759.5h0M85.5 757.3h0M81.3 762.1h0M86.2 746.6h0M88.3 745.4h0M78.4 732.2h0M77.5 756.1h0M89.0 745.1h0M95.2 741.6h0M86.7 754.9h0M80.2 744.4h0M86.2 754.3h0M74.2 768.0h0M83.3 750.4h0M95.3 764.6h0M83.0 742.9h0M92.8 740.0h0M72.8 767.8h0M95.9 750.0h0M60.9 751.2h0M69.1 770.0h0M73.1 759.8h0M81.3 742.9h0M110.4 734.3h0M82.6 748.3h0M82.9 754.8h0M91.3 746.6h0M99.5 731.9h0M97.5 743.2h0M74.8 753.7h0M87.3 748.1h0M88.5 738.5h0M95.9 743.1h0M83.5 758.3h0M72.3 759.3h0M88.8 739.4h0M73.5 757.6h0M82.8 754.2h0M80.0 746.6h0M81.1 760.5h0M85.5 748.1h0M89.3 757.5h0M97.2 729.0h0M111.7 729.5h0M107.5 724.8h0M112.8 726.1h0M103.0 727.9h0M108.4 729.8h0M101.2 728.5h0M96.0 728.7h0M97.4 730.9h0M111.2 730.8h0M106.8 728.5h0M104.8 727.3h0M130.3 722.0h0M105.4 727.7h0M97.7 730.8h0M102.8 725.8h0M115.6 726.8h0M102.4 728.2h0M114.1 724.4h0M115.1 726.8h0M111.8 729.5h0M107.1 729.7h0M98.7 730.2h0M102.0 728.6h0M112.0 726.2h0M98.2 730.9h0M117.1 726.4h0M97.3 730.0h0M103.4 729.1h0M101.9 729.9h0M108.2 727.6h0M97.4 743.5h0M99.6 733.2h0M100.6 731.7h0M90.8 748.7h0M93.2 742.6h0M102.0 738.0h0M87.1 744.5h0M88.7 747.5h0M90.4 747.9h0M99.9 735.3h0M108.1 727.1h0M102.9 732.6h0M99.6 731.2h0M74.6 735.8h0M100.8 745.2h0M75.3 731.0h0M87.5 735.3h0M87.0 733.9h0M99.0 749.5h0M104.1 731.1h0M74.4 748.1h0M128.1 741.3h0M98.1 744.8h0M102.6 751.3h0M104.5 764.4h0M91.0 764.8h0M72.7 758.8h0M109.0 749.0h0M74.1 747.9h0M77.8 730.5h0M84.8 744.3h0M76.0 736.0h0M76.3 740.9h0M90.8 735.0h0M76.8 726.9h0M108.0 759.3h0M92.5 743.2h0" stroke="#3c64d8" stroke-width="0.8"/><path d="M86.8 730.8h0M79.0 752.9h0M85.3 744.6h0M81.5 752.8h0M79.1 762.7h0M79.1 761.4h0M102.0 740.2h0M89.2 747.3h0M94.4 741.5h0M97.8 760.2h0M80.5 741.2h0M81.9 756.7h0M89.4 759.5h0M80.6 768.1h0M86.4 751.3h0M78.8 742.9h0M84.5 755.7h0M68.7 754.1h0M72.8 766.5h0M85.3 742.2h0M70.3 750.4h0M87.4 766.7h0M71.4 749.1h0M95.5 752.4h0M90.3 748.3h0M92.4 733.1h0M83.0 749.2h0M72.8 753.5h0M85.9 756.1h0M82.7 747.5h0M79.2 755.9h0M80.5 745.0h0M87.3 749.0h0M81.4 742.9h0M78.4 752.1h0M70.9 760.1h0M77.3 760.2h0M89.2 752.6h0M78.8 743.2h0M74.0 746.5h0M76.1 760.0h0M86.8 749.7h0M76.5 752.0h0M80.1 746.5h0M85.0 761.5h0M102.9 731.0h0M88.5 741.4h0M75.6 762.0h0M86.8 739.3h0M75.6 749.0h0M81.4 753.1h0M78.0 764.3h0M83.1 747.8h0M77.6 755.3h0M88.9 744.0h0M88.0 750.9h0M82.5 747.2h0M87.6 743.9h0M83.4 749.6h0M91.6 745.2h0M93.7 741.8h0M72.7 753.1h0M85.2 741.0h0M86.0 735.2h0M85.7 741.0h0M77.6 759.2h0M90.5 746.4h0M96.3 736.2h0M56.8 765.2h0M84.3 742.5h0M77.7 762.8h0M81.4 760.7h0M102.2 730.9h0M81.3 760.0h0M95.7 746.5h0M83.5 742.8h0M82.1 742.9h0M81.2 763.5h0M86.9 751.5h0M86.2 748.0h0M71.9 755.2h0M73.8 750.9h0M75.9 752.4h0M67.4 751.8h0M83.7 751.3h0M79.7 761.5h0M91.5 731.7h0M79.9 743.0h0M80.4 764.4h0M93.7 751.6h0M84.3 750.5h0M86.0 744.8h0M96.8 725.7h0M90.7 739.1h0M86.2 738.7h0M76.3 754.6h0M77.4 738.8h0M89.2 747.8h0M77.8 761.1h0M75.5 752.9h0M79.6 758.3h0M91.4 744.3h0M81.6 755.5h0M77.6 746.7h0M70.0 759.9h0M69.6 753.8h0M86.3 749.9h0M85.8 740.8h0M82.4 757.4h0M77.5 753.9h0M78.3 741.7h0M84.9 753.2h0M79.8 767.2h0M91.7 745.5h0M83.9 760.2h0M89.3 756.4h0M88.4 745.7h0M89.2 745.8h0M95.2 742.9h0M77.3 740.8h0M88.8 736.6h0M82.8 752.2h0M85.1 746.4h0M85.1 750.8h0M82.4 761.4h0M91.3 739.1h0M76.9 753.8h0M85.2 752.1h0M75.3 749.2h0M70.9 755.4h0M77.1 756.1h0M72.9 746.1h0M76.1 759.9h0M77.3 753.8h0M73.5 747.2h0M81.4 767.2h0M70.3 759.7h0M78.1 759.5h0M84.7 757.8h0M69.2 745.1h0M81.1 754.5h0M100.7 748.3h0M76.8 764.7h0M88.2 749.2h0M79.4 759.5h0M71.5 760.6h0M71.5 749.4h0M86.4 751.1h0M78.3 748.0h0M81.3 757.4h0M82.5 749.8h0M79.0 746.2h0M83.6 746.7h0M83.4 749.8h0M91.9 743.8h0M99.6 743.8h0M77.0 745.7h0M78.3 742.1h0M86.1 738.9h0M98.7 744.1h0M94.2 745.6h0M78.3 739.0h0M88.7 771.8h0M81.6 756.3h0M77.8 755.8h0M79.9 749.7h0M76.2 762.5h0M69.7 766.1h0M77.3 749.1h0M80.1 745.7h0M79.9 755.4h0M85.5 748.3h0M80.4 758.2h0M72.2 755.4h0M81.4 753.9h0M86.3 753.4h0M102.9 754.0h0M76.0 758.7h0M71.8 758.5h0M91.9 742.4h0M83.9 752.7h0M80.4 750.1h0M86.3 740.3h0M90.3 757.4h0M78.6 758.8h0M83.5 760.0h0M90.3 747.8h0M66.6 748.5h0M90.0 732.5h0M90.0 743.7h0M82.0 743.8h0M93.5 739.7h0M81.0 760.8h0M86.6 738.7h0M84.7 757.7h0M87.1 756.9h0M86.2 758.3h0M78.1 756.1h0M94.0 750.8h0M81.4 735.8h0M87.9 746.1h0M81.0 755.9h0M84.7 741.7h0M82.3 741.5h0M71.6 765.9h0M90.6 749.3h0M77.2 745.3h0M63.1 767.7h0M89.8 758.2h0M89.0 733.9h0M70.5 745.9h0M87.3 739.7h0M82.4 756.0h0M82.0 736.7h0M80.1 758.0h0M85.5 756.1h0M78.9 756.1h0M81.2 735.1h0M99.0 728.1h0M109.0 728.7h0M100.9 731.3h0M118.5 722.5h0M113.3 723.2h0M108.3 729.1h0M91.1 733.1h0M108.3 727.8h0M112.6 730.1h0M111.5 728.8h0M110.2 731.4h0M106.4 727.0h0M106.4 725.3h0M93.2 728.8h0M101.5 730.5h0M105.2 725.7h0M106.2 731.9h0M104.2 730.0h0M104.1 731.2h0M103.6 724.5h0M100.5 727.0h0M105.2 724.0h0M108.1 728.6h0M100.1 728.1h0M104.3 728.0h0M116.7 727.0h0M101.5 731.7h0M109.9 728.4h0M102.3 732.2h0M107.2 725.4h0M106.7 728.9h0M104.9 725.3h0M107.5 724.5h0M88.2 743.0h0M101.1 734.4h0M89.1 749.1h0M87.1 748.6h0M90.0 740.6h0M94.2 743.1h0M89.4 741.3h0M103.3 726.8h0M108.1 729.6h0M107.4 726.9h0M94.6 737.5h0M102.6 733.2h0M101.0 731.4h0M98.4 737.3h0M103.8 727.6h0M93.6 747.3h0M110.8 730.7h0M101.1 730.9h0M95.7 739.5h0M88.0 764.5h0M107.2 737.6h0M89.3 737.9h0M104.5 736.6h0M82.1 745.1h0M110.0 730.2h0M109.1 746.7h0M90.6 729.9h0M80.2 753.6h0M84.4 756.2h0M115.0 751.4h0M101.2 734.9h0M99.4 753.0h0M90.6 749.6h0M98.7 750.3h0M96.2 739.3h0M70.2 737.7h0M72.9 737.4h0M96.3 749.5h0M64.9 761.1h0M104.6 743.6h0M88.2 765.1h0M110.8 735.7h0M94.7 757.3h0M90.0 759.6h0M59.2 746.6h0M100.5 757.4h0M73.9 745.5h0M82.1 751.5h0M114.2 744.9h0M106.3 782.6h0M91.2 733.2h0M93.4 746.7h0M101.5 732.9h0" stroke="#5a82e0" stroke-width="0.8"/></g>
<ellipse cx="83.71" cy="749.82" rx="14.25" ry="7.83" fill="#2cb0d0" fill-opacity="0.55" transform="rotate(-52 83.71 749.82)" filter="url(#hb)"/>
<ellipse cx="83.71" cy="749.82" rx="9.97" ry="5.67" fill="#3cc060" fill-opacity="0.9" transform="rotate(-52 83.71 749.82)" filter="url(#hb)"/>
<ellipse cx="83.11" cy="750.32" rx="5.7" ry="3.35" fill="#d8e030" fill-opacity="0.95" transform="rotate(-52 83.11 750.32)" filter="url(#hb2)"/>
<ellipse cx="82.71" cy="750.72" rx="2.66" ry="1.73" fill="#ee3a20" fill-opacity="0.95" transform="rotate(-52 82.71 750.72)" filter="url(#hb2)"/>
<ellipse cx="107.72" cy="727.64" rx="9" ry="3.12" fill="#30b0b0" fill-opacity="0.5" transform="rotate(-10 107.72 727.64)" filter="url(#hb2)"/>
<ellipse cx="108.72" cy="727.64" rx="5.62" ry="1.92" fill="#3cc060" fill-opacity="0.85" transform="rotate(-10 108.72 727.64)" filter="url(#hb2)"/>
</g>
<line x1="97.14" y1="683.3" x2="97.14" y2="779.7" stroke="#3a3a3a" stroke-width="1.1"/>
<line x1="45" y1="734.87" x2="143" y2="734.87" stroke="#3a3a3a" stroke-width="1.1"/>
<text x="0" y="0" font-size="4.29" text-anchor="start" fill="#1a1a1a" transform="translate(48.2 689.8) scale(0.9 1)">Q1</text>
<text x="0" y="0" font-size="4.29" text-anchor="start" fill="#1a1a1a" transform="translate(48.2 695.6) scale(0.9 1)">0.92</text>
<text x="0" y="0" font-size="4.29" text-anchor="end" fill="#1a1a1a" transform="translate(135.5 689.8) scale(0.9 1)">Q2</text>
<text x="0" y="0" font-size="4.29" text-anchor="end" fill="#1a1a1a" transform="translate(135.5 695.6) scale(0.9 1)">7.59</text>
<text x="0" y="0" font-size="4.29" text-anchor="start" fill="#1a1a1a" transform="translate(48.2 770.2) scale(0.9 1)">Q4</text>
<text x="0" y="0" font-size="4.29" text-anchor="start" fill="#1a1a1a" transform="translate(48.2 776.2) scale(0.9 1)">89.3</text>
<text x="0" y="0" font-size="4.29" text-anchor="end" fill="#1a1a1a" transform="translate(135.5 770.2) scale(0.9 1)">Q3</text>
<text x="0" y="0" font-size="4.29" text-anchor="end" fill="#1a1a1a" transform="translate(135.5 776.2) scale(0.9 1)">2.23</text>
<line x1="43.2" y1="696.7" x2="45" y2="696.7" stroke="#444" stroke-width="0.5"/>
<text x="0" y="0" font-size="3.74" text-anchor="end" fill="#222" transform="translate(42 698.61) scale(0.9 1)">10<tspan dy="-1.3" font-size="2.6">6</tspan></text>
<line x1="44.1" y1="702.27" x2="45" y2="702.27" stroke="#777" stroke-width="0.35"/>
<line x1="44.1" y1="705.53" x2="45" y2="705.53" stroke="#777" stroke-width="0.35"/>
<line x1="44.1" y1="707.84" x2="45" y2="707.84" stroke="#777" stroke-width="0.35"/>
<line x1="44.1" y1="709.63" x2="45" y2="709.63" stroke="#777" stroke-width="0.35"/>
<line x1="44.1" y1="711.1" x2="45" y2="711.1" stroke="#777" stroke-width="0.35"/>
<line x1="44.1" y1="712.33" x2="45" y2="712.33" stroke="#777" stroke-width="0.35"/>
<line x1="44.1" y1="713.41" x2="45" y2="713.41" stroke="#777" stroke-width="0.35"/>
<line x1="44.1" y1="714.35" x2="45" y2="714.35" stroke="#777" stroke-width="0.35"/>
<line x1="43.2" y1="715.2" x2="45" y2="715.2" stroke="#444" stroke-width="0.5"/>
<text x="0" y="0" font-size="3.74" text-anchor="end" fill="#222" transform="translate(42 717.11) scale(0.9 1)">10<tspan dy="-1.3" font-size="2.6">5</tspan></text>
<line x1="44.1" y1="720.77" x2="45" y2="720.77" stroke="#777" stroke-width="0.35"/>
<line x1="44.1" y1="724.03" x2="45" y2="724.03" stroke="#777" stroke-width="0.35"/>
<line x1="44.1" y1="726.34" x2="45" y2="726.34" stroke="#777" stroke-width="0.35"/>
<line x1="44.1" y1="728.13" x2="45" y2="728.13" stroke="#777" stroke-width="0.35"/>
<line x1="44.1" y1="729.6" x2="45" y2="729.6" stroke="#777" stroke-width="0.35"/>
<line x1="44.1" y1="730.83" x2="45" y2="730.83" stroke="#777" stroke-width="0.35"/>
<line x1="44.1" y1="731.91" x2="45" y2="731.91" stroke="#777" stroke-width="0.35"/>
<line x1="44.1" y1="732.85" x2="45" y2="732.85" stroke="#777" stroke-width="0.35"/>
<line x1="43.2" y1="733.7" x2="45" y2="733.7" stroke="#444" stroke-width="0.5"/>
<text x="0" y="0" font-size="3.74" text-anchor="end" fill="#222" transform="translate(42 735.61) scale(0.9 1)">10<tspan dy="-1.3" font-size="2.6">4</tspan></text>
<line x1="44.1" y1="739.27" x2="45" y2="739.27" stroke="#777" stroke-width="0.35"/>
<line x1="44.1" y1="742.53" x2="45" y2="742.53" stroke="#777" stroke-width="0.35"/>
<line x1="44.1" y1="744.84" x2="45" y2="744.84" stroke="#777" stroke-width="0.35"/>
<line x1="44.1" y1="746.63" x2="45" y2="746.63" stroke="#777" stroke-width="0.35"/>
<line x1="44.1" y1="748.1" x2="45" y2="748.1" stroke="#777" stroke-width="0.35"/>
<line x1="44.1" y1="749.33" x2="45" y2="749.33" stroke="#777" stroke-width="0.35"/>
<line x1="44.1" y1="750.41" x2="45" y2="750.41" stroke="#777" stroke-width="0.35"/>
<line x1="44.1" y1="751.35" x2="45" y2="751.35" stroke="#777" stroke-width="0.35"/>
<line x1="43.2" y1="752.2" x2="45" y2="752.2" stroke="#444" stroke-width="0.5"/>
<text x="0" y="0" font-size="3.74" text-anchor="end" fill="#222" transform="translate(42 754.11) scale(0.9 1)">10<tspan dy="-1.3" font-size="2.6">3</tspan></text>
<line x1="44.1" y1="757.77" x2="45" y2="757.77" stroke="#777" stroke-width="0.35"/>
<line x1="44.1" y1="761.03" x2="45" y2="761.03" stroke="#777" stroke-width="0.35"/>
<line x1="44.1" y1="763.34" x2="45" y2="763.34" stroke="#777" stroke-width="0.35"/>
<line x1="44.1" y1="765.13" x2="45" y2="765.13" stroke="#777" stroke-width="0.35"/>
<line x1="44.1" y1="766.6" x2="45" y2="766.6" stroke="#777" stroke-width="0.35"/>
<line x1="44.1" y1="767.83" x2="45" y2="767.83" stroke="#777" stroke-width="0.35"/>
<line x1="44.1" y1="768.91" x2="45" y2="768.91" stroke="#777" stroke-width="0.35"/>
<line x1="44.1" y1="769.85" x2="45" y2="769.85" stroke="#777" stroke-width="0.35"/>
<line x1="43.2" y1="770.7" x2="45" y2="770.7" stroke="#444" stroke-width="0.5"/>
<text x="0" y="0" font-size="3.74" text-anchor="end" fill="#222" transform="translate(42 772.61) scale(0.9 1)">10<tspan dy="-1.3" font-size="2.6">2</tspan></text>
<line x1="44.1" y1="776.27" x2="45" y2="776.27" stroke="#777" stroke-width="0.35"/>
<line x1="44.1" y1="779.53" x2="45" y2="779.53" stroke="#777" stroke-width="0.35"/>
<line x1="45" y1="780.6" x2="143" y2="780.6" stroke="#444" stroke-width="0.6"/>
<line x1="49.4" y1="780.6" x2="49.4" y2="782.5" stroke="#444" stroke-width="0.5"/>
<text x="0" y="0" font-size="3.74" text-anchor="middle" fill="#222" transform="translate(48.2 787.41) scale(0.9 1)">10<tspan dy="-1.3" font-size="2.6">2</tspan></text>
<line x1="54.88" y1="780.6" x2="54.88" y2="781.6" stroke="#777" stroke-width="0.35"/>
<line x1="58.08" y1="780.6" x2="58.08" y2="781.6" stroke="#777" stroke-width="0.35"/>
<line x1="60.36" y1="780.6" x2="60.36" y2="781.6" stroke="#777" stroke-width="0.35"/>
<line x1="62.12" y1="780.6" x2="62.12" y2="781.6" stroke="#777" stroke-width="0.35"/>
<line x1="63.56" y1="780.6" x2="63.56" y2="781.6" stroke="#777" stroke-width="0.35"/>
<line x1="64.78" y1="780.6" x2="64.78" y2="781.6" stroke="#777" stroke-width="0.35"/>
<line x1="65.84" y1="780.6" x2="65.84" y2="781.6" stroke="#777" stroke-width="0.35"/>
<line x1="66.77" y1="780.6" x2="66.77" y2="781.6" stroke="#777" stroke-width="0.35"/>
<line x1="67.6" y1="780.6" x2="67.6" y2="782.5" stroke="#444" stroke-width="0.5"/>
<text x="0" y="0" font-size="3.74" text-anchor="middle" fill="#222" transform="translate(66.4 787.41) scale(0.9 1)">10<tspan dy="-1.3" font-size="2.6">3</tspan></text>
<line x1="73.08" y1="780.6" x2="73.08" y2="781.6" stroke="#777" stroke-width="0.35"/>
<line x1="76.28" y1="780.6" x2="76.28" y2="781.6" stroke="#777" stroke-width="0.35"/>
<line x1="78.56" y1="780.6" x2="78.56" y2="781.6" stroke="#777" stroke-width="0.35"/>
<line x1="80.32" y1="780.6" x2="80.32" y2="781.6" stroke="#777" stroke-width="0.35"/>
<line x1="81.76" y1="780.6" x2="81.76" y2="781.6" stroke="#777" stroke-width="0.35"/>
<line x1="82.98" y1="780.6" x2="82.98" y2="781.6" stroke="#777" stroke-width="0.35"/>
<line x1="84.04" y1="780.6" x2="84.04" y2="781.6" stroke="#777" stroke-width="0.35"/>
<line x1="84.97" y1="780.6" x2="84.97" y2="781.6" stroke="#777" stroke-width="0.35"/>
<line x1="85.8" y1="780.6" x2="85.8" y2="782.5" stroke="#444" stroke-width="0.5"/>
<text x="0" y="0" font-size="3.74" text-anchor="middle" fill="#222" transform="translate(84.6 787.41) scale(0.9 1)">10<tspan dy="-1.3" font-size="2.6">4</tspan></text>
<line x1="91.28" y1="780.6" x2="91.28" y2="781.6" stroke="#777" stroke-width="0.35"/>
<line x1="94.48" y1="780.6" x2="94.48" y2="781.6" stroke="#777" stroke-width="0.35"/>
<line x1="96.76" y1="780.6" x2="96.76" y2="781.6" stroke="#777" stroke-width="0.35"/>
<line x1="98.52" y1="780.6" x2="98.52" y2="781.6" stroke="#777" stroke-width="0.35"/>
<line x1="99.96" y1="780.6" x2="99.96" y2="781.6" stroke="#777" stroke-width="0.35"/>
<line x1="101.18" y1="780.6" x2="101.18" y2="781.6" stroke="#777" stroke-width="0.35"/>
<line x1="102.24" y1="780.6" x2="102.24" y2="781.6" stroke="#777" stroke-width="0.35"/>
<line x1="103.17" y1="780.6" x2="103.17" y2="781.6" stroke="#777" stroke-width="0.35"/>
<line x1="104" y1="780.6" x2="104" y2="782.5" stroke="#444" stroke-width="0.5"/>
<text x="0" y="0" font-size="3.74" text-anchor="middle" fill="#222" transform="translate(102.8 787.41) scale(0.9 1)">10<tspan dy="-1.3" font-size="2.6">5</tspan></text>
<line x1="109.48" y1="780.6" x2="109.48" y2="781.6" stroke="#777" stroke-width="0.35"/>
<line x1="112.68" y1="780.6" x2="112.68" y2="781.6" stroke="#777" stroke-width="0.35"/>
<line x1="114.96" y1="780.6" x2="114.96" y2="781.6" stroke="#777" stroke-width="0.35"/>
<line x1="116.72" y1="780.6" x2="116.72" y2="781.6" stroke="#777" stroke-width="0.35"/>
<line x1="118.16" y1="780.6" x2="118.16" y2="781.6" stroke="#777" stroke-width="0.35"/>
<line x1="119.38" y1="780.6" x2="119.38" y2="781.6" stroke="#777" stroke-width="0.35"/>
<line x1="120.44" y1="780.6" x2="120.44" y2="781.6" stroke="#777" stroke-width="0.35"/>
<line x1="121.37" y1="780.6" x2="121.37" y2="781.6" stroke="#777" stroke-width="0.35"/>
<line x1="122.2" y1="780.6" x2="122.2" y2="782.5" stroke="#444" stroke-width="0.5"/>
<text x="0" y="0" font-size="3.74" text-anchor="middle" fill="#222" transform="translate(121 787.41) scale(0.9 1)">10<tspan dy="-1.3" font-size="2.6">6</tspan></text>
<line x1="127.68" y1="780.6" x2="127.68" y2="781.6" stroke="#777" stroke-width="0.35"/>
<line x1="130.88" y1="780.6" x2="130.88" y2="781.6" stroke="#777" stroke-width="0.35"/>
<line x1="133.16" y1="780.6" x2="133.16" y2="781.6" stroke="#777" stroke-width="0.35"/>
<line x1="134.92" y1="780.6" x2="134.92" y2="781.6" stroke="#777" stroke-width="0.35"/>
<line x1="136.36" y1="780.6" x2="136.36" y2="781.6" stroke="#777" stroke-width="0.35"/>
<line x1="137.58" y1="780.6" x2="137.58" y2="781.6" stroke="#777" stroke-width="0.35"/>
<line x1="138.64" y1="780.6" x2="138.64" y2="781.6" stroke="#777" stroke-width="0.35"/>
<line x1="139.57" y1="780.6" x2="139.57" y2="781.6" stroke="#777" stroke-width="0.35"/>
<line x1="140.4" y1="780.6" x2="140.4" y2="782.5" stroke="#444" stroke-width="0.5"/>
<text x="0" y="0" font-size="3.74" text-anchor="middle" fill="#222" transform="translate(139.2 787.41) scale(0.9 1)">10<tspan dy="-1.3" font-size="2.6">7</tspan></text>
<text x="0" y="0" font-size="9.68" font-weight="bold" text-anchor="middle" fill="#111" transform="translate(95 679.79) scale(0.9 1)" stroke="#111" stroke-width="0.35">si-NC</text>
<rect x="162.2" y="683.3" width="98.3" height="96.4" fill="#fff" stroke="#8a8a8a" stroke-width="0.5"/>
<clipPath id="fc301"><rect x="162.2" y="683.3" width="98.3" height="96.4"/></clipPath>
<g clip-path="url(#fc301)">
<g stroke-linecap="round" fill="none"><path d="M197.1 764.2h0M194.3 756.9h0M208.7 749.8h0M190.5 762.3h0M207.3 743.5h0M202.8 751.4h0M203.1 753.7h0M205.4 751.6h0M201.2 751.9h0M201.3 761.6h0M201.9 748.7h0M199.2 755.4h0M199.4 755.3h0M203.9 740.9h0M187.5 767.4h0M192.2 764.1h0M202.5 755.6h0M206.5 750.6h0M208.5 729.7h0M211.4 744.0h0M190.7 753.0h0M187.2 766.0h0M199.1 750.3h0M209.3 751.0h0M207.3 763.2h0M199.3 745.4h0M203.4 748.8h0M202.4 738.6h0M189.2 762.2h0M194.8 758.9h0M209.8 737.4h0M205.3 751.2h0M180.7 751.1h0M195.3 764.7h0M198.5 742.0h0M201.2 745.4h0M198.5 753.2h0M196.6 759.5h0M209.2 750.3h0M192.5 746.0h0M205.8 747.0h0M202.1 752.7h0M195.1 755.0h0M206.5 746.6h0M214.5 737.8h0M206.6 745.4h0M213.4 748.6h0M202.4 749.8h0M205.5 736.9h0M206.4 741.0h0M203.0 743.5h0M201.3 731.1h0M203.2 737.7h0M202.7 757.0h0M211.6 739.3h0M185.5 752.5h0M198.6 743.7h0M197.5 746.1h0M210.4 749.2h0M207.3 746.2h0M210.9 728.9h0M195.5 761.2h0M190.9 753.4h0M196.4 748.0h0M201.4 761.2h0M199.1 753.0h0M193.8 759.8h0M215.3 730.8h0M204.8 747.9h0M185.4 763.9h0M208.3 748.2h0M205.7 742.6h0M200.2 750.9h0M197.9 730.8h0M193.2 762.9h0M208.4 742.4h0M203.4 752.2h0M197.1 749.8h0M197.5 756.8h0M190.5 760.4h0M210.4 754.4h0M212.9 753.3h0M206.7 757.7h0M192.0 762.2h0M201.5 744.3h0M198.3 752.4h0M209.6 746.1h0M192.4 755.7h0M190.3 739.9h0M204.3 757.1h0M214.0 748.9h0M204.8 760.6h0M212.0 739.5h0M202.1 750.4h0M193.2 766.0h0M203.4 742.1h0M196.0 752.5h0M210.8 734.8h0M208.3 746.0h0M219.3 725.6h0M195.8 757.3h0M211.9 750.1h0M207.5 741.1h0M210.9 731.3h0M194.3 763.6h0M198.1 748.2h0M192.5 757.4h0M201.4 746.6h0M203.6 750.0h0M202.0 739.2h0M195.8 745.5h0M202.7 750.7h0M195.1 777.4h0M208.8 749.4h0M195.1 748.2h0M197.3 760.9h0M191.4 760.5h0M191.8 753.7h0M201.2 740.0h0M198.7 763.4h0M188.5 759.0h0M198.6 756.8h0M206.5 747.3h0M184.4 760.3h0M190.0 748.0h0M211.6 740.5h0M211.1 756.8h0M189.8 759.4h0M206.5 762.6h0M200.7 753.4h0M201.5 754.6h0M205.0 745.0h0M170.3 758.0h0M200.2 748.2h0M197.8 761.4h0M195.0 751.7h0M207.2 746.0h0M190.3 752.3h0M221.6 744.4h0M199.7 763.2h0M212.2 750.7h0M193.8 769.5h0M196.9 750.6h0M192.9 754.0h0M197.4 751.3h0M208.2 745.7h0M202.7 743.4h0M193.4 760.7h0M205.9 746.7h0M196.4 744.4h0M210.4 733.7h0M206.2 730.8h0M205.7 750.3h0M201.7 735.8h0M202.0 752.2h0M212.3 751.3h0M192.8 764.7h0M195.4 751.4h0M187.5 749.0h0M184.8 766.9h0M201.8 753.7h0M190.0 763.2h0M209.7 751.9h0M205.6 747.9h0M190.8 755.0h0M205.1 757.1h0M197.0 759.0h0M193.2 756.4h0M204.6 754.0h0M192.0 753.8h0M199.1 741.6h0M213.0 748.1h0M195.7 747.3h0M209.4 742.5h0M204.6 748.4h0M198.8 732.3h0M202.3 748.9h0M195.6 751.4h0M206.6 745.6h0M198.1 755.3h0M193.0 752.1h0M197.7 755.3h0M196.1 754.7h0M196.0 744.0h0M195.9 758.2h0M200.7 763.0h0M203.4 760.5h0M186.9 765.1h0M203.5 738.3h0M200.8 757.5h0M191.0 758.9h0M201.3 741.7h0M204.3 750.2h0M213.6 742.8h0M200.6 754.6h0M196.9 755.3h0M204.1 743.3h0M194.2 768.7h0M194.5 739.2h0M204.9 740.5h0M199.8 750.6h0M214.8 737.3h0M201.0 743.1h0M187.6 771.1h0M205.2 764.7h0M199.5 761.0h0M203.5 753.4h0M205.4 746.6h0M199.5 752.0h0M203.7 756.0h0M209.8 735.9h0M208.7 744.8h0M188.4 753.4h0M188.7 745.6h0M208.4 744.7h0M202.0 742.1h0M199.5 763.1h0M208.1 745.0h0M193.0 756.7h0M198.8 755.4h0M205.9 748.8h0M198.4 745.4h0M199.9 741.3h0M195.0 755.8h0M189.3 766.1h0M186.6 753.3h0M211.1 734.4h0M185.4 759.2h0M213.3 728.3h0M238.9 730.9h0M230.6 722.4h0M216.3 726.1h0M231.0 727.5h0M219.7 725.2h0M226.0 730.3h0M215.4 731.9h0M225.8 728.4h0M225.3 723.5h0M229.6 722.9h0M226.3 724.3h0M216.7 727.4h0M234.6 729.7h0M215.6 726.8h0M220.0 732.1h0M225.6 725.1h0M226.2 723.6h0M208.9 728.4h0M221.9 729.1h0M219.8 726.8h0M234.5 724.9h0M236.8 725.9h0M216.8 732.0h0M238.7 724.2h0M223.2 730.0h0M228.3 729.3h0M231.6 724.6h0M228.1 727.3h0M222.5 729.7h0M235.7 728.6h0M226.0 731.5h0M214.7 730.7h0M222.3 724.3h0M228.9 723.7h0M212.1 729.5h0M227.4 728.9h0M227.9 722.7h0M222.5 726.1h0M218.9 726.8h0M227.5 724.2h0M227.8 725.4h0M221.5 727.6h0M222.2 732.4h0M223.1 729.3h0M219.9 725.1h0M223.2 732.7h0M211.8 733.2h0M225.8 730.4h0M227.5 725.7h0M235.4 725.3h0M222.7 727.8h0M233.8 723.3h0M231.0 726.7h0M221.7 725.1h0M235.3 728.7h0M229.5 725.3h0M229.3 730.2h0M227.6 725.5h0M225.7 732.7h0M222.2 731.6h0M218.4 728.7h0M215.4 734.0h0M211.6 736.2h0M223.4 729.0h0M218.1 733.4h0M210.4 744.2h0M224.4 732.9h0M206.8 740.2h0M214.5 735.8h0M212.6 730.0h0M214.1 735.9h0M202.1 747.2h0M203.4 744.3h0M203.4 751.6h0M209.7 743.4h0M221.8 732.8h0M215.8 737.9h0M225.1 723.3h0M216.2 730.0h0M223.6 733.1h0M210.1 744.2h0M209.8 740.4h0M207.9 738.0h0M215.2 732.1h0M205.9 765.2h0M188.3 733.0h0M212.9 764.3h0M217.3 738.9h0M188.9 747.6h0M210.5 758.3h0M180.0 730.7h0M186.9 745.5h0M201.2 732.3h0M210.2 748.6h0M219.4 750.5h0M232.5 742.9h0M210.6 759.1h0M208.1 745.4h0M202.3 764.7h0M205.4 764.4h0M189.2 782.3h0M198.9 744.8h0M196.6 729.3h0M192.8 749.5h0M190.4 772.0h0M173.1 726.2h0M224.1 731.0h0M218.2 742.8h0M212.7 752.5h0M217.0 761.5h0M208.4 759.4h0M231.2 737.5h0M231.8 736.1h0M210.8 742.5h0M197.0 741.6h0M193.7 729.5h0M203.7 753.1h0M190.8 770.1h0M225.1 734.8h0" stroke="#5a82e0" stroke-width="0.8"/><path d="M208.9 736.0h0M211.4 740.5h0M198.8 743.7h0M190.4 734.7h0M180.2 756.6h0M218.4 735.4h0M207.3 735.5h0M192.0 752.8h0M203.8 764.4h0M190.9 771.6h0M191.1 743.7h0M197.7 749.6h0M206.2 739.5h0M203.8 759.4h0M203.1 752.2h0M198.0 750.6h0M212.7 750.0h0M200.3 750.5h0M193.1 758.3h0M202.0 741.7h0M193.1 759.8h0M200.3 745.9h0M196.3 764.3h0M210.0 735.9h0M190.9 770.6h0M195.1 756.5h0M212.8 731.1h0M187.3 752.6h0M201.3 745.1h0M211.4 748.0h0M190.7 749.0h0M201.6 747.9h0M205.0 742.2h0M188.8 757.6h0M207.2 737.3h0M194.4 760.2h0M201.3 749.7h0M203.3 749.6h0M206.9 741.0h0M211.9 751.7h0M194.1 755.2h0M193.6 748.6h0M196.4 749.7h0M203.0 767.1h0M193.3 756.9h0M198.2 756.8h0M211.1 752.4h0M197.3 751.6h0M204.3 736.7h0M194.5 759.7h0M209.4 745.8h0M197.3 774.0h0M183.4 769.1h0M198.8 746.6h0M204.4 740.5h0M202.0 752.5h0M193.9 752.4h0M196.8 752.5h0M208.5 739.1h0M203.0 745.9h0M199.4 750.7h0M207.9 750.5h0M192.4 754.5h0M209.2 743.6h0M203.6 743.7h0M211.8 763.9h0M201.2 753.4h0M213.6 750.3h0M218.5 738.1h0M186.5 759.8h0M209.8 738.3h0M190.8 755.5h0M201.8 736.2h0M205.9 767.3h0M209.5 751.9h0M203.7 743.9h0M190.2 752.0h0M205.2 758.5h0M199.6 743.2h0M197.3 754.7h0M200.4 747.4h0M209.6 752.4h0M213.0 734.1h0M208.9 759.9h0M193.8 746.0h0M190.9 750.5h0M182.0 768.7h0M207.1 732.4h0M208.9 745.3h0M216.3 742.1h0M196.8 745.6h0M203.6 747.9h0M205.2 752.3h0M197.1 744.4h0M194.7 747.5h0M192.1 753.6h0M194.3 745.1h0M193.8 746.0h0M196.2 748.1h0M207.6 747.4h0M200.0 742.8h0M188.7 748.3h0M187.8 748.5h0M204.3 744.1h0M198.1 757.8h0M195.9 756.2h0M194.9 749.4h0M205.3 747.3h0M206.7 752.8h0M207.3 747.1h0M201.9 741.8h0M190.8 751.0h0M203.1 748.5h0M207.3 745.6h0M208.3 742.7h0M203.8 754.2h0M201.8 749.0h0M205.7 732.8h0M200.0 758.7h0M201.2 758.7h0M196.6 737.8h0M203.6 744.1h0M216.0 743.0h0M191.6 743.8h0M196.4 739.5h0M197.7 753.0h0M200.5 742.4h0M203.0 746.1h0M198.3 737.9h0M205.1 750.4h0M199.5 748.6h0M208.5 744.6h0M194.7 744.6h0M194.2 757.1h0M193.9 748.5h0M193.6 751.3h0M206.7 743.3h0M196.1 744.6h0M205.8 765.4h0M203.4 751.0h0M195.6 732.5h0M205.1 745.7h0M196.8 755.9h0M205.9 756.7h0M198.9 739.2h0M186.5 757.9h0M205.5 736.2h0M202.1 749.7h0M204.8 729.5h0M205.8 752.8h0M197.1 760.0h0M207.4 745.6h0M207.4 744.0h0M211.1 745.3h0M204.7 755.6h0M190.5 740.6h0M196.9 740.8h0M201.3 759.8h0M207.2 744.1h0M201.2 738.7h0M200.6 750.3h0M199.6 737.4h0M192.6 755.0h0M210.1 748.1h0M205.7 745.2h0M218.0 725.2h0M198.6 746.5h0M194.0 743.3h0M199.5 767.6h0M202.2 755.6h0M196.7 739.8h0M198.0 749.8h0M186.4 744.3h0M214.8 736.8h0M184.5 747.0h0M217.8 745.3h0M181.6 752.9h0M205.2 745.2h0M195.5 750.9h0M199.0 757.4h0M191.8 735.5h0M219.1 739.6h0M205.9 724.6h0M203.2 741.4h0M186.6 751.6h0M212.3 744.0h0M209.1 742.4h0M201.7 744.2h0M206.3 757.1h0M197.8 753.0h0M199.6 757.2h0M191.5 754.9h0M201.1 753.5h0M209.0 746.8h0M181.7 753.4h0M202.3 752.2h0M208.1 741.5h0M202.3 749.0h0M192.5 756.0h0M202.0 759.1h0M202.1 756.9h0M209.2 736.8h0M197.4 759.9h0M204.4 740.2h0M201.7 746.4h0M198.1 756.2h0M207.5 727.0h0M201.9 744.0h0M179.9 754.4h0M196.5 752.2h0M193.0 748.5h0M198.3 748.2h0M215.7 737.7h0M190.4 749.4h0M204.1 747.0h0M199.9 732.7h0M199.0 746.8h0M209.3 751.3h0M215.2 732.1h0M210.2 751.0h0M197.7 760.0h0M193.6 735.7h0M202.0 752.6h0M188.6 737.2h0M191.2 762.7h0M201.5 758.4h0M202.5 740.0h0M204.1 760.3h0M216.5 754.2h0M206.8 733.9h0M198.7 748.8h0M201.9 751.0h0M200.7 752.4h0M189.7 760.2h0M203.9 742.8h0M194.7 747.4h0M196.3 756.2h0M202.5 751.5h0M208.6 750.0h0M208.2 747.2h0M213.4 741.3h0M214.3 753.9h0M208.1 738.5h0M199.2 768.7h0M199.1 751.1h0M202.9 741.8h0M208.4 741.0h0M206.1 758.5h0M216.3 739.2h0M203.3 750.9h0M202.4 742.6h0M190.5 747.4h0M192.0 758.5h0M209.5 740.3h0M208.4 733.0h0M218.7 735.6h0M187.0 751.5h0M197.4 761.8h0M197.1 747.6h0M210.2 727.4h0M224.5 726.9h0M220.8 726.2h0M223.0 728.6h0M232.3 728.3h0M227.0 732.2h0M224.1 728.7h0M217.2 732.2h0M212.5 733.0h0M222.0 728.2h0M225.0 731.4h0M228.8 726.7h0M213.0 725.3h0M222.0 731.6h0M222.9 726.5h0M224.2 728.3h0M221.4 731.3h0M237.9 726.2h0M220.0 728.8h0M229.3 730.0h0M224.6 727.3h0M229.6 725.7h0M220.0 724.2h0M229.1 730.9h0M214.2 729.9h0M240.6 725.7h0M223.2 725.8h0M223.5 728.1h0M219.4 723.3h0M218.9 732.4h0M235.5 720.0h0M234.0 729.3h0M221.9 730.9h0M227.6 728.7h0M216.0 729.2h0M220.8 730.4h0M217.6 727.4h0M217.6 730.4h0M220.7 727.9h0M224.1 729.8h0M227.9 729.2h0M214.6 727.7h0M231.7 723.1h0M232.0 724.5h0M215.4 724.0h0M216.6 731.9h0M232.8 724.0h0M226.0 728.9h0M221.2 727.8h0M225.6 731.5h0M239.7 727.4h0M224.9 733.2h0M217.2 725.2h0M226.7 728.3h0M224.1 726.7h0M218.0 727.4h0M218.8 724.0h0M218.5 726.0h0M235.1 730.5h0M234.7 726.8h0M232.9 729.0h0M245.2 725.3h0M227.0 730.2h0M212.7 725.8h0M202.5 742.7h0M208.3 740.1h0M208.0 743.2h0M203.0 746.0h0M214.0 736.9h0M204.3 750.2h0M199.9 748.3h0M214.5 736.7h0M209.2 742.0h0M219.8 734.9h0M207.4 748.2h0M203.0 753.2h0M213.8 734.8h0M221.8 732.8h0M213.2 737.3h0M215.7 742.7h0M209.6 741.5h0M222.4 725.7h0M196.6 747.5h0M208.1 740.5h0M192.2 733.9h0M199.3 756.5h0M202.0 741.0h0M220.7 748.1h0M224.0 748.1h0M213.7 745.0h0M226.8 739.8h0M220.7 744.7h0M204.5 751.5h0M200.9 758.7h0M209.3 735.5h0M212.0 749.3h0M212.9 752.9h0M203.1 743.7h0M209.4 754.1h0M208.1 746.4h0M228.1 723.7h0M205.3 729.8h0M218.0 752.1h0M238.9 760.5h0M217.2 742.5h0M219.0 726.3h0M174.8 733.5h0M192.1 745.8h0M182.6 735.1h0M208.0 752.6h0M226.5 751.9h0M226.1 728.4h0M209.5 760.0h0" stroke="#4872dc" stroke-width="0.8"/><path d="M203.1 746.2h0M195.5 743.6h0M208.6 736.3h0M198.7 746.9h0M199.5 757.8h0M202.5 752.0h0M200.2 755.2h0M210.2 746.7h0M199.7 749.6h0M197.1 755.0h0M205.7 743.0h0M214.4 750.6h0M197.0 759.3h0M196.9 761.9h0M213.8 745.9h0M199.5 743.2h0M223.2 751.7h0M204.1 744.2h0M199.1 746.0h0M191.1 751.3h0M188.9 755.8h0M195.7 762.5h0M206.6 755.9h0M211.8 760.9h0M200.7 752.4h0M201.2 750.4h0M205.6 745.9h0M203.6 752.5h0M203.0 734.1h0M192.8 760.4h0M190.4 757.8h0M198.7 754.5h0M210.8 735.4h0M199.4 753.5h0M206.1 741.7h0M191.2 763.5h0M195.3 749.3h0M209.7 747.3h0M203.6 757.3h0M193.4 751.3h0M205.4 750.5h0M205.5 759.3h0M213.5 738.8h0M205.8 753.4h0M208.5 747.8h0M206.2 752.9h0M183.0 756.9h0M207.1 755.2h0M193.0 765.5h0M202.6 751.5h0M204.1 748.4h0M201.2 749.2h0M202.5 754.3h0M198.2 764.8h0M202.2 750.4h0M209.9 747.3h0M207.8 745.5h0M194.9 750.1h0M198.0 750.4h0M202.8 763.2h0M197.7 754.2h0M195.7 764.7h0M189.9 751.3h0M187.7 769.1h0M200.4 749.6h0M201.0 760.7h0M197.3 742.3h0M194.8 747.2h0M211.6 750.1h0M193.3 766.7h0M200.8 749.5h0M204.0 750.5h0M194.5 751.8h0M210.3 746.2h0M206.4 761.9h0M205.9 737.2h0M189.4 750.8h0M204.4 745.7h0M203.2 750.4h0M203.1 742.8h0M199.3 752.0h0M203.2 752.2h0M209.4 748.4h0M224.6 742.8h0M201.5 749.9h0M195.1 751.9h0M201.4 748.6h0M199.7 769.2h0M201.5 749.3h0M206.7 754.5h0M210.8 747.6h0M210.7 734.3h0M203.1 757.5h0M198.5 737.4h0M202.9 757.0h0M198.4 749.4h0M199.8 751.7h0M209.2 750.8h0M207.6 740.2h0M195.3 750.8h0M204.0 750.0h0M202.1 747.5h0M204.3 743.8h0M202.5 753.2h0M194.6 746.0h0M194.7 747.3h0M192.3 744.2h0M207.5 733.7h0M207.0 753.8h0M208.5 746.9h0M207.8 743.7h0M198.5 741.3h0M190.0 751.5h0M199.9 760.4h0M201.8 758.0h0M209.8 731.9h0M191.5 759.1h0M202.0 744.8h0M201.2 758.5h0M201.9 750.8h0M203.1 758.9h0M197.5 753.7h0M197.2 758.1h0M204.0 737.3h0M206.3 755.0h0M194.7 754.8h0M200.3 737.4h0M190.6 746.3h0M204.7 739.5h0M183.6 748.5h0M201.9 752.1h0M208.9 725.8h0M204.7 743.8h0M197.6 747.3h0M200.1 762.7h0M211.9 758.7h0M198.6 749.4h0M189.1 760.5h0M196.2 753.2h0M213.9 741.7h0M200.9 743.2h0M203.2 741.4h0M201.2 739.2h0M200.4 751.7h0M202.3 760.7h0M212.7 739.3h0M209.3 758.8h0M195.6 761.8h0M205.2 743.2h0M196.6 741.4h0M196.4 763.8h0M211.3 753.1h0M202.7 750.9h0M189.4 757.6h0M200.9 747.0h0M199.9 764.5h0M194.8 749.6h0M208.1 744.2h0M200.1 743.5h0M195.4 750.1h0M202.5 747.8h0M208.9 743.9h0M200.5 749.9h0M213.1 726.7h0M211.3 748.7h0M200.6 745.0h0M197.9 761.5h0M201.6 749.0h0M201.5 751.5h0M206.2 736.7h0M212.0 745.8h0M195.3 748.4h0M204.8 736.4h0M217.1 730.7h0M189.0 760.9h0M192.6 764.4h0M197.0 751.4h0M207.1 746.0h0M211.5 743.3h0M213.3 742.8h0M207.8 747.1h0M194.5 760.3h0M206.6 738.6h0M200.6 756.1h0M210.8 745.8h0M200.4 735.9h0M195.5 749.8h0M206.2 755.5h0M215.5 746.7h0M223.7 718.9h0M193.4 753.0h0M202.1 748.3h0M203.5 729.4h0M190.5 762.0h0M209.6 742.2h0M208.3 749.8h0M205.6 749.6h0M208.9 755.9h0M196.8 753.0h0M195.3 751.0h0M202.3 754.2h0M218.9 737.6h0M199.6 762.6h0M204.9 749.1h0M205.4 756.6h0M209.4 748.9h0M208.3 747.4h0M204.7 752.7h0M213.1 736.5h0M209.2 755.4h0M190.2 761.5h0M196.8 762.5h0M197.9 755.8h0M199.5 753.9h0M203.0 726.4h0M222.2 725.8h0M219.0 725.2h0M227.7 729.4h0M214.6 731.0h0M221.5 727.4h0M236.1 723.2h0M238.8 728.4h0M231.4 722.8h0M232.0 725.6h0M223.6 726.8h0M222.5 728.8h0M230.1 725.7h0M221.1 725.0h0M240.4 721.6h0M226.4 729.4h0M233.7 726.3h0M220.0 725.2h0M223.5 723.9h0M217.5 732.7h0M234.7 723.4h0M231.5 726.6h0M209.9 731.4h0M213.9 732.3h0M217.7 732.2h0M228.2 727.3h0M222.3 725.7h0M225.5 725.8h0M234.0 725.7h0M224.3 729.2h0M232.6 723.5h0M224.5 730.3h0M236.5 723.9h0M217.0 725.6h0M225.2 728.2h0M213.3 728.5h0M225.9 729.3h0M233.0 722.9h0M215.3 728.6h0M229.9 722.5h0M233.9 724.4h0M224.4 727.6h0M228.3 731.9h0M213.0 730.9h0M223.9 726.0h0M221.9 727.1h0M209.8 727.9h0M240.9 727.6h0M225.1 729.3h0M233.7 730.4h0M220.1 731.6h0M226.9 727.8h0M218.7 727.1h0M233.5 727.2h0M226.5 728.1h0M225.4 730.3h0M229.6 728.5h0M228.8 730.6h0M234.4 725.7h0M234.0 726.1h0M216.2 727.6h0M214.7 738.9h0M211.3 733.4h0M205.7 743.8h0M203.6 747.8h0M225.2 725.0h0M207.0 749.1h0M210.5 733.3h0M214.3 743.0h0M215.6 737.1h0M206.0 741.4h0M215.4 735.0h0M218.7 735.2h0M219.6 734.6h0M223.3 729.0h0M223.9 727.8h0M200.9 741.0h0M200.4 745.4h0M224.3 733.7h0M211.5 739.3h0M240.1 746.9h0M219.0 753.4h0M185.9 732.1h0M224.8 750.3h0M188.9 733.5h0M216.7 748.1h0M210.1 728.2h0M209.2 739.1h0M197.1 727.2h0M206.8 732.1h0M192.7 759.6h0M197.8 761.4h0M231.3 724.0h0M202.8 735.2h0M221.4 755.6h0M194.9 735.7h0M190.7 748.9h0M189.4 752.5h0M219.5 741.1h0M198.4 755.8h0M202.6 751.5h0M214.2 729.7h0M205.0 745.3h0M199.6 746.6h0M190.9 742.8h0M228.0 751.6h0M206.4 738.2h0M221.7 764.3h0M215.1 761.1h0M196.0 742.0h0M186.3 753.8h0M178.8 736.3h0M201.2 749.0h0M201.6 733.9h0M216.7 756.9h0M204.1 762.4h0M212.6 752.9h0M211.7 751.5h0" stroke="#2c50c8" stroke-width="0.8"/><path d="M198.1 732.7h0M200.1 758.0h0M199.5 727.5h0M189.8 758.3h0M194.6 757.2h0M196.8 749.2h0M202.6 747.2h0M192.2 757.7h0M194.8 752.0h0M214.2 744.2h0M186.9 761.2h0M196.2 763.0h0M203.7 741.9h0M217.1 736.8h0M217.1 733.7h0M197.1 745.3h0M198.9 737.9h0M195.8 744.2h0M215.5 742.7h0M197.4 755.8h0M208.2 737.1h0M199.9 753.6h0M196.5 744.1h0M202.9 734.8h0M186.5 763.1h0M209.6 753.5h0M199.4 747.1h0M215.2 745.0h0M205.6 752.7h0M198.5 752.4h0M219.5 749.0h0M195.4 740.1h0M205.9 745.1h0M200.0 746.9h0M198.2 749.0h0M192.3 745.2h0M208.5 758.0h0M198.5 749.0h0M190.6 763.8h0M207.9 752.2h0M204.5 732.1h0M191.1 754.5h0M207.2 756.3h0M203.4 745.7h0M193.3 750.1h0M190.5 749.2h0M197.6 750.4h0M201.3 737.1h0M197.9 748.5h0M195.5 748.7h0M200.7 752.5h0M200.0 759.8h0M213.0 745.0h0M209.0 749.9h0M213.6 748.2h0M202.0 764.2h0M206.1 747.4h0M220.4 745.2h0M198.5 751.7h0M211.0 750.6h0M211.4 751.9h0M205.3 745.2h0M197.7 751.5h0M203.5 759.3h0M194.4 756.7h0M197.1 741.6h0M197.7 747.6h0M182.4 763.3h0M200.3 744.2h0M196.0 760.8h0M195.2 748.9h0M197.4 751.5h0M203.5 739.1h0M203.3 756.9h0M200.1 763.2h0M208.2 742.9h0M211.8 733.2h0M193.3 753.1h0M199.4 746.9h0M210.2 751.0h0M209.0 748.1h0M206.9 749.0h0M198.9 758.3h0M186.6 763.8h0M200.2 752.1h0M204.5 754.0h0M200.1 752.5h0M194.5 751.0h0M209.7 755.0h0M207.4 752.6h0M200.3 756.4h0M197.9 747.7h0M202.7 753.7h0M206.0 721.3h0M200.3 747.3h0M217.4 742.9h0M191.5 758.0h0M198.5 751.7h0M212.5 732.6h0M209.2 737.5h0M203.9 740.8h0M207.5 760.9h0M215.3 743.1h0M215.0 744.0h0M193.9 766.5h0M186.5 747.5h0M204.8 735.3h0M211.8 747.4h0M200.1 745.4h0M204.8 744.0h0M199.6 758.9h0M221.7 731.4h0M193.3 764.6h0M213.1 732.4h0M201.8 756.4h0M205.8 748.3h0M195.8 755.4h0M205.0 754.8h0M203.9 745.6h0M204.4 748.9h0M200.3 733.7h0M196.3 748.5h0M194.7 739.7h0M201.8 746.4h0M200.5 731.4h0M198.0 757.1h0M188.8 759.2h0M183.1 761.5h0M200.0 736.9h0M191.1 759.8h0M186.4 753.8h0M208.7 739.2h0M207.2 747.2h0M221.4 743.3h0M208.1 734.8h0M204.8 743.3h0M210.7 740.2h0M206.4 747.4h0M199.5 742.2h0M209.6 749.6h0M195.9 746.4h0M214.1 739.6h0M199.8 755.0h0M195.6 744.5h0M193.1 763.0h0M207.0 754.1h0M202.2 754.0h0M198.9 744.2h0M204.0 748.6h0M196.5 759.5h0M207.7 745.6h0M211.7 747.4h0M201.3 761.2h0M198.7 752.6h0M212.0 745.3h0M205.0 753.3h0M197.7 739.2h0M184.5 756.5h0M213.7 737.2h0M195.7 743.2h0M210.0 753.2h0M202.8 747.0h0M193.8 746.8h0M194.4 761.4h0M206.4 747.2h0M195.2 754.9h0M203.4 742.9h0M204.2 739.4h0M208.9 745.4h0M203.7 745.2h0M202.6 740.1h0M197.2 739.9h0M201.6 749.3h0M210.6 742.6h0M199.1 759.2h0M217.3 748.3h0M199.4 751.2h0M195.7 746.9h0M208.3 749.4h0M203.9 755.5h0M208.0 749.2h0M214.0 736.6h0M191.8 754.8h0M197.0 739.6h0M186.0 746.5h0M199.8 745.8h0M196.6 748.6h0M196.2 746.0h0M198.6 754.9h0M198.3 735.2h0M196.5 753.8h0M189.1 758.2h0M194.5 751.1h0M202.2 730.3h0M193.4 748.8h0M200.9 734.7h0M210.1 740.9h0M191.3 758.3h0M194.6 757.0h0M203.1 740.7h0M199.6 749.7h0M194.3 759.2h0M203.9 762.5h0M203.8 746.1h0M213.9 744.7h0M197.7 749.6h0M187.1 754.3h0M204.8 757.6h0M193.0 744.1h0M201.7 749.2h0M205.0 754.7h0M213.7 747.5h0M212.9 745.0h0M202.3 759.6h0M220.7 752.0h0M193.9 752.1h0M199.7 757.6h0M198.0 745.2h0M199.5 745.0h0M207.6 749.7h0M194.5 756.9h0M197.4 735.6h0M190.4 771.9h0M187.3 758.1h0M189.9 755.5h0M190.8 738.6h0M221.3 739.7h0M204.7 755.1h0M208.2 729.7h0M188.6 763.1h0M211.6 743.6h0M200.8 756.3h0M183.6 731.4h0M203.6 748.9h0M228.7 728.1h0M223.4 731.1h0M239.6 727.5h0M228.3 729.2h0M219.9 724.7h0M216.6 729.5h0M223.2 727.5h0M229.7 724.7h0M224.8 727.3h0M241.8 722.9h0M232.7 728.1h0M241.0 727.5h0M214.6 728.4h0M230.7 722.9h0M213.0 729.1h0M229.6 727.5h0M239.1 725.8h0M224.2 729.3h0M234.6 725.7h0M227.2 724.0h0M233.6 727.1h0M234.7 729.3h0M227.2 727.4h0M233.9 723.4h0M214.5 733.8h0M219.5 728.8h0M209.3 729.3h0M232.5 726.0h0M215.5 726.6h0M227.6 728.7h0M227.3 725.7h0M237.1 725.6h0M221.3 729.2h0M227.3 729.4h0M229.5 727.2h0M225.8 726.9h0M234.4 726.3h0M224.8 727.6h0M206.1 730.5h0M220.1 732.0h0M235.6 728.3h0M224.7 728.5h0M227.5 728.0h0M232.9 727.8h0M219.4 730.3h0M228.5 726.1h0M227.2 725.7h0M225.7 726.0h0M215.8 733.4h0M226.7 729.2h0M214.4 729.5h0M223.0 732.0h0M202.5 744.4h0M228.1 729.2h0M222.5 730.4h0M200.8 750.9h0M209.4 742.7h0M225.0 723.7h0M208.0 745.7h0M212.1 741.6h0M213.0 742.5h0M210.6 739.3h0M209.9 740.0h0M208.5 746.7h0M210.9 740.2h0M208.8 738.2h0M214.0 732.5h0M220.4 735.5h0M201.8 748.0h0M197.8 746.1h0M244.5 735.2h0M220.2 745.3h0M203.1 755.2h0M209.3 744.4h0M216.2 735.8h0M188.8 719.8h0M233.1 745.0h0M191.9 749.1h0M210.5 754.6h0M216.6 751.6h0M200.8 752.7h0M236.3 727.2h0M212.8 763.8h0M206.2 748.3h0M216.5 725.2h0M195.2 762.5h0M213.2 748.8h0M215.6 744.8h0M186.6 748.3h0M205.0 751.8h0M199.9 742.1h0M202.9 743.0h0M214.3 741.9h0M203.0 764.3h0M198.2 734.9h0M225.5 748.5h0M210.4 736.6h0M211.6 747.7h0M208.4 743.4h0M188.7 746.4h0" stroke="#7a9ce6" stroke-width="0.8"/><path d="M201.6 748.4h0M199.4 750.8h0M201.5 738.2h0M196.1 757.1h0M220.4 742.0h0M197.1 760.1h0M207.4 740.8h0M204.5 757.1h0M211.8 753.5h0M197.3 750.8h0M203.5 750.4h0M182.2 760.2h0M199.4 738.1h0M207.0 747.6h0M208.4 750.7h0M188.8 752.2h0M195.3 736.0h0M190.4 763.0h0M205.2 748.8h0M200.8 751.0h0M188.6 754.2h0M201.1 743.0h0M196.4 757.6h0M202.7 760.0h0M192.0 763.9h0M205.5 748.9h0M205.5 741.0h0M217.7 734.2h0M192.7 759.7h0M192.5 763.8h0M202.4 766.9h0M198.2 756.3h0M212.6 736.5h0M200.9 736.6h0M195.4 761.2h0M197.8 751.5h0M197.1 744.3h0M189.2 757.1h0M202.0 757.0h0M206.2 730.2h0M196.0 747.3h0M212.6 735.9h0M205.1 736.3h0M206.7 748.6h0M188.1 762.1h0M192.5 749.6h0M210.6 741.4h0M197.4 752.3h0M206.9 750.6h0M206.4 752.6h0M208.3 744.1h0M184.7 749.4h0M194.7 755.6h0M199.5 752.1h0M193.1 751.8h0M207.5 760.7h0M206.2 747.6h0M203.6 748.2h0M192.5 739.0h0M203.3 750.6h0M203.0 748.2h0M211.7 748.3h0M190.4 758.3h0M192.2 756.9h0M193.3 749.3h0M214.1 752.3h0M209.7 744.2h0M199.3 739.6h0M198.5 740.3h0M206.8 738.1h0M196.2 759.2h0M193.7 751.6h0M197.5 756.7h0M205.1 741.0h0M198.0 746.3h0M180.7 751.6h0M193.2 747.9h0M203.5 751.5h0M194.0 749.0h0M210.5 748.1h0M192.9 761.2h0M207.9 737.6h0M209.1 749.5h0M199.8 754.3h0M213.2 731.8h0M204.6 754.5h0M199.6 753.6h0M206.7 742.0h0M214.1 749.6h0M191.6 755.8h0M202.2 748.8h0M221.0 727.5h0M196.5 739.7h0M194.9 739.3h0M197.7 756.9h0M192.9 746.2h0M206.6 750.6h0M195.4 760.0h0M214.6 730.2h0M206.8 738.1h0M211.9 756.9h0M200.4 748.1h0M209.6 739.8h0M199.8 751.9h0M203.1 758.6h0M195.5 757.7h0M205.3 742.3h0M209.0 747.7h0M202.3 737.9h0M211.4 746.9h0M200.4 760.7h0M203.2 744.7h0M187.9 761.9h0M193.0 738.7h0M206.9 740.0h0M203.6 740.5h0M203.2 747.2h0M190.9 756.6h0M208.3 751.9h0M199.0 740.2h0M201.3 758.9h0M169.3 779.2h0M205.3 752.1h0M205.2 744.1h0M213.7 727.6h0M201.4 748.7h0M203.6 750.8h0M213.3 742.9h0M203.1 747.3h0M204.6 752.1h0M195.5 757.6h0M191.7 759.1h0M209.9 736.3h0M208.2 749.6h0M204.6 757.9h0M213.4 748.9h0M199.2 752.2h0M195.5 758.5h0M194.7 744.4h0M200.8 745.7h0M199.0 741.0h0M181.8 746.9h0M189.4 756.0h0M187.7 749.5h0M197.8 759.8h0M193.8 757.2h0M200.6 765.5h0M213.5 737.4h0M205.0 764.9h0M186.0 748.8h0M216.3 726.2h0M198.8 749.1h0M192.3 761.3h0M191.4 760.7h0M191.6 755.8h0M209.3 741.2h0M196.5 742.3h0M202.7 741.3h0M201.0 745.2h0M193.3 745.5h0M209.5 744.1h0M190.9 754.9h0M215.2 738.6h0M208.0 742.1h0M195.4 744.3h0M213.0 720.0h0M180.0 756.4h0M199.7 754.7h0M205.2 740.9h0M182.1 756.3h0M203.7 750.6h0M203.9 745.6h0M199.9 744.3h0M189.5 744.4h0M185.7 766.8h0M198.4 731.0h0M192.0 769.4h0M196.3 754.3h0M193.9 743.4h0M207.6 735.8h0M204.7 745.7h0M199.4 744.7h0M208.0 725.7h0M199.3 762.0h0M209.6 749.8h0M192.3 758.4h0M199.9 765.0h0M198.3 735.9h0M197.7 743.5h0M194.9 745.8h0M194.7 751.5h0M195.5 760.7h0M215.3 746.2h0M194.2 757.7h0M200.5 753.5h0M197.9 758.4h0M201.0 747.3h0M212.4 732.0h0M195.4 755.9h0M192.4 735.4h0M209.5 731.9h0M201.2 761.1h0M206.7 747.6h0M193.3 764.1h0M196.5 737.9h0M204.8 749.1h0M203.1 746.3h0M195.3 749.2h0M202.9 742.0h0M186.0 769.1h0M209.7 730.4h0M186.5 740.4h0M216.1 743.4h0M194.4 756.2h0M220.5 728.1h0M220.8 727.7h0M208.2 729.4h0M224.9 725.8h0M223.8 727.0h0M234.3 725.1h0M211.4 731.4h0M221.2 728.5h0M222.3 728.1h0M209.6 731.2h0M225.1 726.0h0M245.9 720.2h0M236.4 723.9h0M213.9 734.8h0M237.0 724.2h0M216.1 732.0h0M238.3 727.8h0M230.2 723.7h0M232.2 729.8h0M222.6 726.1h0M220.6 727.4h0M237.6 726.0h0M232.3 723.0h0M231.2 728.8h0M222.8 725.2h0M226.8 728.4h0M215.4 729.8h0M225.7 730.2h0M240.4 722.5h0M228.1 727.0h0M231.5 728.8h0M228.4 725.8h0M216.7 730.9h0M241.4 724.6h0M231.2 730.9h0M234.0 726.7h0M214.9 731.7h0M221.0 729.0h0M214.4 732.0h0M244.1 729.6h0M224.3 726.3h0M231.0 725.6h0M232.9 725.5h0M232.4 722.4h0M220.9 726.9h0M230.0 728.8h0M234.5 727.2h0M218.4 730.0h0M239.7 725.6h0M237.7 725.2h0M216.9 727.9h0M231.4 725.8h0M227.4 725.2h0M223.0 727.6h0M232.8 729.8h0M234.7 725.3h0M230.8 727.5h0M220.4 728.7h0M230.6 725.3h0M236.7 727.3h0M215.1 728.2h0M227.7 730.1h0M221.4 726.2h0M218.9 730.5h0M201.2 748.7h0M216.0 737.7h0M206.9 743.2h0M217.0 737.7h0M212.7 733.5h0M200.6 748.2h0M207.2 745.7h0M221.0 732.5h0M218.8 736.2h0M227.8 728.9h0M225.9 731.7h0M216.2 748.9h0M188.6 751.6h0M171.6 735.7h0M196.9 740.8h0M214.5 740.0h0M194.4 732.0h0M203.8 744.0h0M210.2 747.7h0M217.2 749.3h0M217.2 723.4h0M207.0 736.6h0M193.4 757.1h0M208.8 751.8h0M214.4 764.0h0M222.7 735.6h0M205.3 757.5h0M198.4 735.3h0M189.9 746.9h0M215.8 745.3h0M194.3 752.8h0M205.2 744.9h0M167.4 758.4h0M203.0 750.4h0M179.0 768.8h0M192.2 746.4h0M187.8 777.0h0M211.8 759.1h0M210.2 730.9h0" stroke="#3c64d8" stroke-width="0.8"/></g>
<ellipse cx="201.03" cy="749.82" rx="14.25" ry="7.83" fill="#2cb0d0" fill-opacity="0.55" transform="rotate(-52 201.03 749.82)" filter="url(#hb)"/>
<ellipse cx="201.03" cy="749.82" rx="9.97" ry="5.67" fill="#3cc060" fill-opacity="0.9" transform="rotate(-52 201.03 749.82)" filter="url(#hb)"/>
<ellipse cx="200.43" cy="750.32" rx="5.7" ry="3.35" fill="#d8e030" fill-opacity="0.95" transform="rotate(-52 200.43 750.32)" filter="url(#hb2)"/>
<ellipse cx="200.03" cy="750.72" rx="2.66" ry="1.73" fill="#ee3a20" fill-opacity="0.95" transform="rotate(-52 200.03 750.72)" filter="url(#hb2)"/>
<ellipse cx="225.11" cy="727.64" rx="9.6" ry="3.12" fill="#30b0b0" fill-opacity="0.5" transform="rotate(-10 225.11 727.64)" filter="url(#hb2)"/>
<ellipse cx="226.11" cy="727.64" rx="6" ry="1.92" fill="#3cc060" fill-opacity="0.85" transform="rotate(-10 226.11 727.64)" filter="url(#hb2)"/>
</g>
<line x1="214.5" y1="683.3" x2="214.5" y2="779.7" stroke="#3a3a3a" stroke-width="1.1"/>
<line x1="162.2" y1="734.87" x2="260.5" y2="734.87" stroke="#3a3a3a" stroke-width="1.1"/>
<text x="0" y="0" font-size="4.29" text-anchor="start" fill="#1a1a1a" transform="translate(165.4 689.8) scale(0.9 1)">Q1</text>
<text x="0" y="0" font-size="4.29" text-anchor="start" fill="#1a1a1a" transform="translate(165.4 695.6) scale(0.9 1)">2.77</text>
<text x="0" y="0" font-size="4.29" text-anchor="end" fill="#1a1a1a" transform="translate(253 689.8) scale(0.9 1)">Q2</text>
<text x="0" y="0" font-size="4.29" text-anchor="end" fill="#1a1a1a" transform="translate(253 695.6) scale(0.9 1)">17.3</text>
<text x="0" y="0" font-size="4.29" text-anchor="start" fill="#1a1a1a" transform="translate(165.4 770.2) scale(0.9 1)">Q4</text>
<text x="0" y="0" font-size="4.29" text-anchor="start" fill="#1a1a1a" transform="translate(165.4 776.2) scale(0.9 1)">77.9</text>
<text x="0" y="0" font-size="4.29" text-anchor="end" fill="#1a1a1a" transform="translate(253 770.2) scale(0.9 1)">Q3</text>
<text x="0" y="0" font-size="4.29" text-anchor="end" fill="#1a1a1a" transform="translate(253 776.2) scale(0.9 1)">2.05</text>
<line x1="160.4" y1="696.7" x2="162.2" y2="696.7" stroke="#444" stroke-width="0.5"/>
<text x="0" y="0" font-size="3.74" text-anchor="end" fill="#222" transform="translate(159.2 698.61) scale(0.9 1)">10<tspan dy="-1.3" font-size="2.6">6</tspan></text>
<line x1="161.3" y1="702.27" x2="162.2" y2="702.27" stroke="#777" stroke-width="0.35"/>
<line x1="161.3" y1="705.53" x2="162.2" y2="705.53" stroke="#777" stroke-width="0.35"/>
<line x1="161.3" y1="707.84" x2="162.2" y2="707.84" stroke="#777" stroke-width="0.35"/>
<line x1="161.3" y1="709.63" x2="162.2" y2="709.63" stroke="#777" stroke-width="0.35"/>
<line x1="161.3" y1="711.1" x2="162.2" y2="711.1" stroke="#777" stroke-width="0.35"/>
<line x1="161.3" y1="712.33" x2="162.2" y2="712.33" stroke="#777" stroke-width="0.35"/>
<line x1="161.3" y1="713.41" x2="162.2" y2="713.41" stroke="#777" stroke-width="0.35"/>
<line x1="161.3" y1="714.35" x2="162.2" y2="714.35" stroke="#777" stroke-width="0.35"/>
<line x1="160.4" y1="715.2" x2="162.2" y2="715.2" stroke="#444" stroke-width="0.5"/>
<text x="0" y="0" font-size="3.74" text-anchor="end" fill="#222" transform="translate(159.2 717.11) scale(0.9 1)">10<tspan dy="-1.3" font-size="2.6">5</tspan></text>
<line x1="161.3" y1="720.77" x2="162.2" y2="720.77" stroke="#777" stroke-width="0.35"/>
<line x1="161.3" y1="724.03" x2="162.2" y2="724.03" stroke="#777" stroke-width="0.35"/>
<line x1="161.3" y1="726.34" x2="162.2" y2="726.34" stroke="#777" stroke-width="0.35"/>
<line x1="161.3" y1="728.13" x2="162.2" y2="728.13" stroke="#777" stroke-width="0.35"/>
<line x1="161.3" y1="729.6" x2="162.2" y2="729.6" stroke="#777" stroke-width="0.35"/>
<line x1="161.3" y1="730.83" x2="162.2" y2="730.83" stroke="#777" stroke-width="0.35"/>
<line x1="161.3" y1="731.91" x2="162.2" y2="731.91" stroke="#777" stroke-width="0.35"/>
<line x1="161.3" y1="732.85" x2="162.2" y2="732.85" stroke="#777" stroke-width="0.35"/>
<line x1="160.4" y1="733.7" x2="162.2" y2="733.7" stroke="#444" stroke-width="0.5"/>
<text x="0" y="0" font-size="3.74" text-anchor="end" fill="#222" transform="translate(159.2 735.61) scale(0.9 1)">10<tspan dy="-1.3" font-size="2.6">4</tspan></text>
<line x1="161.3" y1="739.27" x2="162.2" y2="739.27" stroke="#777" stroke-width="0.35"/>
<line x1="161.3" y1="742.53" x2="162.2" y2="742.53" stroke="#777" stroke-width="0.35"/>
<line x1="161.3" y1="744.84" x2="162.2" y2="744.84" stroke="#777" stroke-width="0.35"/>
<line x1="161.3" y1="746.63" x2="162.2" y2="746.63" stroke="#777" stroke-width="0.35"/>
<line x1="161.3" y1="748.1" x2="162.2" y2="748.1" stroke="#777" stroke-width="0.35"/>
<line x1="161.3" y1="749.33" x2="162.2" y2="749.33" stroke="#777" stroke-width="0.35"/>
<line x1="161.3" y1="750.41" x2="162.2" y2="750.41" stroke="#777" stroke-width="0.35"/>
<line x1="161.3" y1="751.35" x2="162.2" y2="751.35" stroke="#777" stroke-width="0.35"/>
<line x1="160.4" y1="752.2" x2="162.2" y2="752.2" stroke="#444" stroke-width="0.5"/>
<text x="0" y="0" font-size="3.74" text-anchor="end" fill="#222" transform="translate(159.2 754.11) scale(0.9 1)">10<tspan dy="-1.3" font-size="2.6">3</tspan></text>
<line x1="161.3" y1="757.77" x2="162.2" y2="757.77" stroke="#777" stroke-width="0.35"/>
<line x1="161.3" y1="761.03" x2="162.2" y2="761.03" stroke="#777" stroke-width="0.35"/>
<line x1="161.3" y1="763.34" x2="162.2" y2="763.34" stroke="#777" stroke-width="0.35"/>
<line x1="161.3" y1="765.13" x2="162.2" y2="765.13" stroke="#777" stroke-width="0.35"/>
<line x1="161.3" y1="766.6" x2="162.2" y2="766.6" stroke="#777" stroke-width="0.35"/>
<line x1="161.3" y1="767.83" x2="162.2" y2="767.83" stroke="#777" stroke-width="0.35"/>
<line x1="161.3" y1="768.91" x2="162.2" y2="768.91" stroke="#777" stroke-width="0.35"/>
<line x1="161.3" y1="769.85" x2="162.2" y2="769.85" stroke="#777" stroke-width="0.35"/>
<line x1="160.4" y1="770.7" x2="162.2" y2="770.7" stroke="#444" stroke-width="0.5"/>
<text x="0" y="0" font-size="3.74" text-anchor="end" fill="#222" transform="translate(159.2 772.61) scale(0.9 1)">10<tspan dy="-1.3" font-size="2.6">2</tspan></text>
<line x1="161.3" y1="776.27" x2="162.2" y2="776.27" stroke="#777" stroke-width="0.35"/>
<line x1="161.3" y1="779.53" x2="162.2" y2="779.53" stroke="#777" stroke-width="0.35"/>
<line x1="162.2" y1="780.6" x2="260.5" y2="780.6" stroke="#444" stroke-width="0.6"/>
<line x1="166.6" y1="780.6" x2="166.6" y2="782.5" stroke="#444" stroke-width="0.5"/>
<text x="0" y="0" font-size="3.74" text-anchor="middle" fill="#222" transform="translate(165.4 787.41) scale(0.9 1)">10<tspan dy="-1.3" font-size="2.6">2</tspan></text>
<line x1="172.08" y1="780.6" x2="172.08" y2="781.6" stroke="#777" stroke-width="0.35"/>
<line x1="175.28" y1="780.6" x2="175.28" y2="781.6" stroke="#777" stroke-width="0.35"/>
<line x1="177.56" y1="780.6" x2="177.56" y2="781.6" stroke="#777" stroke-width="0.35"/>
<line x1="179.32" y1="780.6" x2="179.32" y2="781.6" stroke="#777" stroke-width="0.35"/>
<line x1="180.76" y1="780.6" x2="180.76" y2="781.6" stroke="#777" stroke-width="0.35"/>
<line x1="181.98" y1="780.6" x2="181.98" y2="781.6" stroke="#777" stroke-width="0.35"/>
<line x1="183.04" y1="780.6" x2="183.04" y2="781.6" stroke="#777" stroke-width="0.35"/>
<line x1="183.97" y1="780.6" x2="183.97" y2="781.6" stroke="#777" stroke-width="0.35"/>
<line x1="184.8" y1="780.6" x2="184.8" y2="782.5" stroke="#444" stroke-width="0.5"/>
<text x="0" y="0" font-size="3.74" text-anchor="middle" fill="#222" transform="translate(183.6 787.41) scale(0.9 1)">10<tspan dy="-1.3" font-size="2.6">3</tspan></text>
<line x1="190.28" y1="780.6" x2="190.28" y2="781.6" stroke="#777" stroke-width="0.35"/>
<line x1="193.48" y1="780.6" x2="193.48" y2="781.6" stroke="#777" stroke-width="0.35"/>
<line x1="195.76" y1="780.6" x2="195.76" y2="781.6" stroke="#777" stroke-width="0.35"/>
<line x1="197.52" y1="780.6" x2="197.52" y2="781.6" stroke="#777" stroke-width="0.35"/>
<line x1="198.96" y1="780.6" x2="198.96" y2="781.6" stroke="#777" stroke-width="0.35"/>
<line x1="200.18" y1="780.6" x2="200.18" y2="781.6" stroke="#777" stroke-width="0.35"/>
<line x1="201.24" y1="780.6" x2="201.24" y2="781.6" stroke="#777" stroke-width="0.35"/>
<line x1="202.17" y1="780.6" x2="202.17" y2="781.6" stroke="#777" stroke-width="0.35"/>
<line x1="203" y1="780.6" x2="203" y2="782.5" stroke="#444" stroke-width="0.5"/>
<text x="0" y="0" font-size="3.74" text-anchor="middle" fill="#222" transform="translate(201.8 787.41) scale(0.9 1)">10<tspan dy="-1.3" font-size="2.6">4</tspan></text>
<line x1="208.48" y1="780.6" x2="208.48" y2="781.6" stroke="#777" stroke-width="0.35"/>
<line x1="211.68" y1="780.6" x2="211.68" y2="781.6" stroke="#777" stroke-width="0.35"/>
<line x1="213.96" y1="780.6" x2="213.96" y2="781.6" stroke="#777" stroke-width="0.35"/>
<line x1="215.72" y1="780.6" x2="215.72" y2="781.6" stroke="#777" stroke-width="0.35"/>
<line x1="217.16" y1="780.6" x2="217.16" y2="781.6" stroke="#777" stroke-width="0.35"/>
<line x1="218.38" y1="780.6" x2="218.38" y2="781.6" stroke="#777" stroke-width="0.35"/>
<line x1="219.44" y1="780.6" x2="219.44" y2="781.6" stroke="#777" stroke-width="0.35"/>
<line x1="220.37" y1="780.6" x2="220.37" y2="781.6" stroke="#777" stroke-width="0.35"/>
<line x1="221.2" y1="780.6" x2="221.2" y2="782.5" stroke="#444" stroke-width="0.5"/>
<text x="0" y="0" font-size="3.74" text-anchor="middle" fill="#222" transform="translate(220 787.41) scale(0.9 1)">10<tspan dy="-1.3" font-size="2.6">5</tspan></text>
<line x1="226.68" y1="780.6" x2="226.68" y2="781.6" stroke="#777" stroke-width="0.35"/>
<line x1="229.88" y1="780.6" x2="229.88" y2="781.6" stroke="#777" stroke-width="0.35"/>
<line x1="232.16" y1="780.6" x2="232.16" y2="781.6" stroke="#777" stroke-width="0.35"/>
<line x1="233.92" y1="780.6" x2="233.92" y2="781.6" stroke="#777" stroke-width="0.35"/>
<line x1="235.36" y1="780.6" x2="235.36" y2="781.6" stroke="#777" stroke-width="0.35"/>
<line x1="236.58" y1="780.6" x2="236.58" y2="781.6" stroke="#777" stroke-width="0.35"/>
<line x1="237.64" y1="780.6" x2="237.64" y2="781.6" stroke="#777" stroke-width="0.35"/>
<line x1="238.57" y1="780.6" x2="238.57" y2="781.6" stroke="#777" stroke-width="0.35"/>
<line x1="239.4" y1="780.6" x2="239.4" y2="782.5" stroke="#444" stroke-width="0.5"/>
<text x="0" y="0" font-size="3.74" text-anchor="middle" fill="#222" transform="translate(238.2 787.41) scale(0.9 1)">10<tspan dy="-1.3" font-size="2.6">6</tspan></text>
<line x1="244.88" y1="780.6" x2="244.88" y2="781.6" stroke="#777" stroke-width="0.35"/>
<line x1="248.08" y1="780.6" x2="248.08" y2="781.6" stroke="#777" stroke-width="0.35"/>
<line x1="250.36" y1="780.6" x2="250.36" y2="781.6" stroke="#777" stroke-width="0.35"/>
<line x1="252.12" y1="780.6" x2="252.12" y2="781.6" stroke="#777" stroke-width="0.35"/>
<line x1="253.56" y1="780.6" x2="253.56" y2="781.6" stroke="#777" stroke-width="0.35"/>
<line x1="254.78" y1="780.6" x2="254.78" y2="781.6" stroke="#777" stroke-width="0.35"/>
<line x1="255.84" y1="780.6" x2="255.84" y2="781.6" stroke="#777" stroke-width="0.35"/>
<line x1="256.77" y1="780.6" x2="256.77" y2="781.6" stroke="#777" stroke-width="0.35"/>
<line x1="257.6" y1="780.6" x2="257.6" y2="782.5" stroke="#444" stroke-width="0.5"/>
<text x="0" y="0" font-size="3.74" text-anchor="middle" fill="#222" transform="translate(256.4 787.41) scale(0.9 1)">10<tspan dy="-1.3" font-size="2.6">7</tspan></text>
<text x="0" y="0" font-size="9.68" font-weight="bold" text-anchor="middle" fill="#111" transform="translate(213.6 679.79) scale(0.9 1)" stroke="#111" stroke-width="0.35">si-<tspan font-style="italic">SNRPE</tspan>#1</text>
<rect x="280.6" y="683.3" width="98.3" height="96.4" fill="#fff" stroke="#8a8a8a" stroke-width="0.5"/>
<clipPath id="fc302"><rect x="280.6" y="683.3" width="98.3" height="96.4"/></clipPath>
<g clip-path="url(#fc302)">
<g stroke-linecap="round" fill="none"><path d="M325.4 739.8h0M312.4 742.0h0M306.7 763.7h0M302.9 755.2h0M313.6 747.7h0M322.3 753.6h0M317.1 765.2h0M322.9 748.2h0M315.2 761.3h0M309.9 751.0h0M327.8 761.9h0M313.3 748.5h0M316.1 751.8h0M316.0 759.3h0M316.2 753.8h0M323.6 736.3h0M309.6 741.3h0M329.0 746.2h0M328.2 747.4h0M316.2 751.5h0M317.8 751.9h0M323.5 740.8h0M308.8 762.4h0M317.8 748.9h0M313.2 755.0h0M309.2 763.7h0M329.9 737.1h0M314.9 753.0h0M316.9 755.2h0M312.9 739.7h0M312.5 762.2h0M322.8 762.3h0M323.0 738.6h0M319.0 749.0h0M322.2 739.2h0M316.2 747.2h0M311.5 752.6h0M310.3 755.3h0M308.8 767.9h0M326.1 757.2h0M332.0 733.0h0M325.7 753.1h0M313.5 746.9h0M334.9 747.4h0M299.9 770.0h0M309.7 757.6h0M318.1 752.0h0M322.7 752.8h0M328.9 747.0h0M302.4 746.0h0M338.7 732.8h0M321.4 754.8h0M323.6 749.3h0M322.9 741.7h0M301.5 756.6h0M318.7 749.9h0M310.2 757.2h0M314.9 756.2h0M337.9 739.7h0M314.1 750.6h0M320.6 759.3h0M316.6 750.0h0M325.7 734.6h0M314.5 766.1h0M324.8 736.2h0M323.0 750.7h0M320.9 749.4h0M315.8 757.0h0M332.8 755.6h0M310.3 753.5h0M324.7 741.1h0M326.2 743.0h0M327.8 745.3h0M329.8 743.1h0M310.8 757.2h0M334.7 725.9h0M317.8 745.2h0M310.0 763.2h0M314.2 752.1h0M324.7 751.7h0M312.2 745.8h0M324.0 749.4h0M313.0 745.3h0M317.7 749.1h0M305.1 746.5h0M310.2 751.9h0M325.1 741.9h0M316.7 745.8h0M309.7 754.8h0M325.3 747.9h0M304.9 755.3h0M322.4 734.1h0M310.8 740.6h0M312.1 733.5h0M315.7 743.7h0M316.5 764.8h0M327.7 737.4h0M315.0 733.5h0M327.5 732.4h0M319.4 753.5h0M312.6 751.4h0M311.4 759.1h0M318.9 757.1h0M320.6 765.4h0M324.1 737.3h0M309.5 749.6h0M321.0 767.5h0M316.6 754.6h0M326.4 727.9h0M316.4 747.4h0M325.1 748.4h0M329.0 743.3h0M321.3 752.3h0M309.7 756.8h0M315.7 742.8h0M323.5 739.4h0M333.6 730.0h0M303.2 755.9h0M310.0 749.5h0M321.4 744.5h0M321.9 751.1h0M330.3 725.7h0M325.0 753.9h0M326.1 725.7h0M320.6 745.4h0M308.1 763.6h0M311.1 757.2h0M310.3 763.3h0M317.1 750.0h0M328.5 738.3h0M315.2 751.1h0M311.2 759.2h0M310.1 758.8h0M321.1 731.8h0M306.5 756.3h0M327.5 744.2h0M321.7 753.2h0M314.4 753.0h0M339.4 754.0h0M319.7 750.4h0M323.7 747.5h0M327.1 739.8h0M305.9 755.9h0M325.9 771.2h0M317.8 754.8h0M301.5 764.0h0M311.7 762.0h0M320.8 754.4h0M332.8 738.3h0M324.3 739.6h0M325.9 754.1h0M333.5 736.4h0M319.4 743.9h0M329.2 742.3h0M325.4 742.0h0M313.1 742.8h0M324.2 748.9h0M326.3 742.2h0M326.8 733.9h0M321.5 757.1h0M330.0 756.4h0M319.0 751.4h0M310.2 741.7h0M314.4 749.1h0M307.4 762.4h0M314.6 753.6h0M315.0 760.2h0M308.3 752.1h0M314.8 747.0h0M317.1 758.3h0M331.9 740.0h0M320.1 749.4h0M316.1 753.7h0M318.6 737.0h0M316.8 747.6h0M318.4 751.8h0M330.9 758.2h0M309.0 755.2h0M312.9 743.9h0M320.1 749.0h0M314.0 759.3h0M317.9 759.9h0M316.8 756.5h0M309.5 751.6h0M307.0 749.1h0M334.6 737.8h0M306.0 751.0h0M312.5 764.3h0M309.4 757.1h0M319.0 759.4h0M317.9 748.3h0M320.6 750.0h0M331.4 748.3h0M320.5 753.5h0M324.2 751.8h0M325.9 736.4h0M314.8 740.6h0M340.4 715.7h0M326.6 746.6h0M322.3 740.4h0M336.8 743.0h0M338.9 741.4h0M318.4 754.0h0M305.1 758.3h0M304.0 757.3h0M320.5 757.1h0M315.8 747.2h0M316.2 755.3h0M323.5 746.7h0M315.3 755.8h0M325.8 740.7h0M317.9 755.0h0M315.7 761.8h0M319.0 734.0h0M324.6 740.5h0M309.8 763.8h0M323.7 750.3h0M310.2 746.4h0M307.0 762.6h0M331.4 738.4h0M321.4 747.4h0M327.0 745.9h0M327.1 749.1h0M332.4 733.4h0M323.6 758.7h0M317.3 758.3h0M321.4 745.9h0M310.3 759.1h0M316.8 756.1h0M321.6 761.0h0M326.5 749.8h0M309.3 744.2h0M327.4 753.2h0M314.8 748.9h0M333.7 743.1h0M319.5 746.8h0M325.6 745.4h0M355.8 721.8h0M345.5 725.9h0M354.4 727.5h0M339.9 728.6h0M329.5 732.3h0M346.8 726.8h0M352.4 728.4h0M335.1 730.1h0M336.2 728.3h0M340.3 724.8h0M343.7 723.2h0M363.1 724.1h0M358.6 723.8h0M351.2 727.8h0M349.7 725.8h0M352.4 725.8h0M347.2 723.2h0M347.2 722.8h0M343.9 723.5h0M333.3 729.1h0M360.4 726.7h0M338.2 733.4h0M327.4 732.5h0M335.6 732.7h0M332.4 732.4h0M353.1 729.7h0M346.2 731.9h0M350.6 728.8h0M344.4 730.6h0M340.7 724.4h0M348.9 729.0h0M336.7 727.0h0M336.5 727.6h0M338.2 727.9h0M345.9 725.7h0M333.5 728.8h0M346.8 730.9h0M347.2 724.4h0M350.7 726.6h0M341.7 729.7h0M344.3 729.3h0M340.7 728.3h0M349.4 727.3h0M337.4 729.1h0M340.6 730.0h0M344.0 724.9h0M341.2 725.8h0M341.1 727.4h0M361.4 730.4h0M343.1 727.0h0M353.7 725.5h0M352.8 731.8h0M340.1 730.0h0M341.3 731.6h0M321.1 745.3h0M331.5 734.3h0M342.3 734.6h0M338.6 729.9h0M336.2 729.1h0M339.5 728.7h0M333.0 736.4h0M338.8 739.8h0M329.2 746.2h0M332.4 738.6h0M343.9 726.7h0M335.4 740.4h0M330.6 745.9h0M334.9 732.0h0M328.9 737.4h0M328.7 740.4h0M328.5 737.9h0M343.9 726.7h0M320.2 742.3h0M346.2 729.6h0M334.4 734.8h0M324.1 739.7h0M327.4 752.4h0M349.1 731.1h0M297.5 732.9h0M304.8 733.4h0M327.3 753.3h0M319.9 744.3h0M331.2 747.6h0M329.0 746.0h0M311.4 733.3h0M336.8 746.9h0M332.3 752.1h0M351.0 762.1h0M312.6 757.7h0M309.4 762.8h0M334.5 730.3h0M332.4 740.7h0M317.8 736.8h0M311.0 740.1h0M337.0 728.7h0M332.3 736.4h0M317.0 742.6h0M329.1 764.8h0M302.2 737.5h0M317.1 725.9h0M319.7 744.7h0M338.0 751.4h0M330.7 756.0h0M323.7 739.7h0M361.9 754.3h0M318.1 757.6h0M303.4 776.5h0M334.2 749.8h0" stroke="#5a82e0" stroke-width="0.8"/><path d="M318.3 743.3h0M326.2 744.9h0M323.0 753.2h0M315.3 750.5h0M329.3 730.7h0M314.9 741.1h0M330.3 733.5h0M312.4 760.0h0M332.1 743.6h0M332.2 746.5h0M322.9 762.1h0M324.2 755.6h0M318.0 741.4h0M323.2 743.9h0M315.7 751.9h0M327.4 742.9h0M327.4 744.6h0M310.4 750.7h0M316.5 753.7h0M317.9 764.4h0M322.4 745.3h0M325.1 744.6h0M321.8 747.3h0M312.1 750.1h0M307.8 747.4h0M317.6 752.1h0M307.2 755.0h0M328.4 752.0h0M311.7 751.7h0M331.5 742.2h0M299.1 759.4h0M316.3 763.8h0M310.8 767.8h0M317.8 748.6h0M330.8 737.3h0M306.3 745.3h0M321.1 745.0h0M322.5 763.4h0M331.8 729.7h0M328.2 750.9h0M321.3 748.3h0M323.5 748.6h0M318.8 749.8h0M320.2 751.9h0M313.1 752.2h0M310.7 752.9h0M319.4 755.7h0M323.7 751.7h0M312.0 768.5h0M317.6 748.1h0M315.3 766.2h0M338.5 735.2h0M319.1 752.2h0M302.2 745.7h0M336.7 737.0h0M316.1 741.7h0M313.4 751.5h0M316.1 751.2h0M316.5 748.4h0M315.2 748.6h0M318.0 745.6h0M313.2 751.2h0M313.4 744.0h0M312.9 748.4h0M318.5 759.1h0M326.8 756.2h0M325.3 747.3h0M323.9 760.9h0M326.4 743.3h0M322.3 740.0h0M320.3 750.0h0M316.4 754.3h0M316.0 758.4h0M310.7 761.5h0M324.9 740.2h0M310.5 761.1h0M318.2 743.2h0M327.4 742.7h0M321.5 746.0h0M326.2 745.8h0M325.9 753.8h0M325.5 739.5h0M322.0 750.1h0M323.6 758.3h0M319.4 744.1h0M324.4 752.1h0M319.1 755.8h0M319.1 756.0h0M322.3 755.3h0M315.6 746.5h0M311.7 757.0h0M315.7 742.0h0M318.2 752.9h0M319.9 759.1h0M311.9 746.5h0M313.7 748.6h0M314.4 753.2h0M329.7 755.9h0M339.6 730.3h0M337.4 743.6h0M312.0 748.1h0M314.2 765.6h0M329.7 744.2h0M306.7 764.9h0M330.6 742.9h0M320.8 760.8h0M317.0 753.9h0M306.0 754.3h0M322.4 754.8h0M317.5 751.9h0M309.1 751.1h0M317.8 747.6h0M311.0 754.6h0M317.2 746.6h0M320.0 760.5h0M312.8 746.4h0M328.6 751.1h0M318.4 751.7h0M332.9 736.5h0M322.9 749.6h0M324.4 744.2h0M323.4 746.4h0M297.0 756.4h0M325.5 750.0h0M330.0 740.9h0M312.1 752.5h0M310.5 758.6h0M319.4 753.2h0M301.4 762.9h0M323.1 746.2h0M318.4 747.9h0M317.6 747.3h0M328.4 731.2h0M317.1 752.1h0M319.4 763.1h0M315.4 752.4h0M309.6 747.5h0M322.0 747.3h0M330.5 743.9h0M315.2 746.4h0M322.2 744.2h0M307.4 764.2h0M328.2 748.0h0M319.0 736.5h0M321.8 739.5h0M329.5 757.2h0M326.2 750.2h0M325.1 740.1h0M324.6 744.3h0M322.8 759.5h0M309.7 752.7h0M324.3 752.3h0M328.7 759.6h0M305.1 759.4h0M327.3 747.7h0M318.9 760.5h0M326.7 734.4h0M318.1 746.2h0M302.8 755.8h0M304.6 747.2h0M311.8 752.5h0M318.1 762.0h0M322.6 737.0h0M309.8 760.3h0M322.8 749.2h0M312.8 758.5h0M316.4 748.4h0M313.0 746.5h0M318.7 757.5h0M326.1 747.8h0M319.0 741.2h0M314.1 760.0h0M320.8 745.9h0M311.0 754.1h0M323.5 751.7h0M318.5 751.9h0M315.3 754.8h0M309.1 736.7h0M315.5 747.6h0M329.0 742.7h0M317.4 738.9h0M330.2 738.6h0M317.0 742.4h0M312.3 745.1h0M314.4 746.8h0M299.1 750.0h0M327.1 744.7h0M313.9 753.1h0M328.2 749.3h0M319.4 755.9h0M304.0 768.6h0M327.1 737.8h0M319.0 743.3h0M328.2 743.2h0M310.4 752.0h0M316.9 745.7h0M325.6 750.5h0M307.2 749.3h0M323.5 743.2h0M309.1 761.2h0M331.9 752.9h0M325.5 745.1h0M319.3 749.3h0M308.2 750.1h0M311.8 756.2h0M331.4 736.8h0M324.2 750.5h0M321.0 752.2h0M311.0 771.3h0M327.2 753.6h0M314.1 748.0h0M321.9 757.7h0M325.1 741.1h0M324.9 751.3h0M312.2 749.9h0M312.4 753.3h0M316.9 752.3h0M321.3 749.4h0M319.0 747.6h0M322.2 761.3h0M319.4 744.5h0M324.1 751.3h0M337.8 729.8h0M338.1 730.1h0M314.5 744.8h0M323.6 752.4h0M309.9 752.3h0M322.0 746.5h0M329.9 734.0h0M321.0 742.8h0M317.6 757.0h0M327.2 747.4h0M323.0 749.9h0M332.4 742.8h0M345.9 723.7h0M346.0 724.8h0M343.6 730.0h0M340.3 723.9h0M349.5 728.1h0M327.2 727.4h0M357.5 726.8h0M356.6 725.1h0M330.2 731.8h0M352.5 728.6h0M354.9 720.4h0M335.8 729.4h0M342.3 728.0h0M337.2 731.1h0M330.5 730.2h0M340.2 729.4h0M355.0 725.7h0M328.2 730.3h0M344.8 731.4h0M347.6 727.1h0M347.8 726.6h0M346.9 729.6h0M340.1 732.2h0M336.7 731.0h0M353.1 729.5h0M355.4 728.7h0M349.1 726.8h0M354.7 732.7h0M345.0 730.7h0M342.9 726.2h0M344.5 729.0h0M337.1 728.3h0M344.0 729.6h0M345.3 726.4h0M361.4 720.5h0M346.4 728.2h0M340.6 725.3h0M361.2 724.4h0M349.5 728.1h0M331.1 732.1h0M352.3 725.9h0M348.6 728.0h0M335.3 729.8h0M338.1 728.9h0M350.1 726.8h0M348.1 730.3h0M341.7 724.0h0M346.7 727.1h0M344.7 724.8h0M323.5 746.4h0M328.5 738.8h0M342.2 724.7h0M324.8 741.0h0M329.5 741.8h0M323.9 747.1h0M328.3 736.0h0M343.7 734.6h0M343.6 727.6h0M324.4 744.6h0M324.9 742.4h0M337.4 734.1h0M335.0 738.2h0M337.3 737.2h0M323.9 742.9h0M332.4 742.4h0M327.4 738.8h0M328.2 739.5h0M336.3 737.6h0M335.6 745.2h0M337.1 751.0h0M305.7 748.0h0M333.1 738.9h0M319.9 754.6h0M315.9 752.1h0M317.0 742.2h0M324.3 763.5h0M343.1 741.9h0M357.8 752.2h0M299.8 759.2h0M329.3 746.8h0M307.2 749.6h0M322.3 740.0h0M316.4 740.1h0M312.2 771.0h0M322.1 761.4h0M326.9 738.2h0M318.6 722.6h0M366.5 752.3h0M324.7 765.5h0M335.0 721.6h0M343.6 746.2h0M342.0 761.2h0M331.6 746.9h0M318.9 741.3h0M301.1 758.3h0M298.4 735.9h0M334.9 740.8h0M295.8 761.4h0M314.3 763.6h0M318.7 759.7h0M330.7 766.9h0" stroke="#7a9ce6" stroke-width="0.8"/><path d="M318.6 770.5h0M325.5 747.1h0M310.0 749.6h0M325.6 747.7h0M331.9 737.8h0M321.8 755.4h0M317.6 754.9h0M305.9 766.6h0M316.8 758.2h0M334.0 765.0h0M314.5 737.3h0M312.4 758.2h0M333.5 742.8h0M315.5 742.5h0M331.2 737.9h0M330.6 746.4h0M316.4 757.2h0M308.4 768.5h0M330.3 746.0h0M310.1 754.2h0M327.4 742.8h0M318.8 758.0h0M317.0 759.1h0M318.7 756.3h0M333.3 740.8h0M318.6 749.9h0M323.0 758.0h0M315.7 752.4h0M322.8 753.4h0M342.9 733.4h0M320.2 750.9h0M322.1 749.1h0M326.1 744.3h0M321.9 750.2h0M323.4 735.7h0M307.6 771.9h0M313.8 756.7h0M310.6 763.0h0M314.8 755.5h0M308.4 772.1h0M329.7 733.4h0M325.2 748.5h0M326.1 739.7h0M327.9 750.8h0M312.0 766.7h0M313.0 767.8h0M310.2 749.7h0M313.8 743.4h0M316.9 757.5h0M331.0 734.4h0M331.8 743.7h0M317.5 761.7h0M320.6 748.5h0M311.1 746.1h0M291.2 763.6h0M305.7 751.1h0M334.5 740.9h0M336.7 741.7h0M322.4 749.2h0M318.1 754.0h0M334.1 753.0h0M323.1 755.2h0M324.4 743.7h0M321.2 740.9h0M307.5 756.5h0M322.3 730.9h0M309.4 768.7h0M316.6 745.4h0M324.8 731.2h0M328.5 758.0h0M317.4 737.9h0M315.9 763.3h0M333.0 738.6h0M312.1 758.6h0M318.8 747.4h0M321.8 747.0h0M327.1 735.6h0M317.6 756.4h0M310.8 760.7h0M310.5 760.5h0M308.9 761.8h0M315.8 749.2h0M325.5 746.3h0M328.5 743.6h0M324.4 744.7h0M321.4 757.6h0M315.1 759.3h0M312.5 758.0h0M327.6 751.4h0M311.2 760.0h0M309.2 740.3h0M317.3 738.8h0M321.8 751.0h0M324.7 750.5h0M326.7 744.5h0M317.8 750.0h0M313.4 759.3h0M316.8 738.7h0M313.5 755.7h0M310.6 747.9h0M318.5 745.0h0M326.2 750.3h0M314.1 743.6h0M327.4 744.7h0M322.5 752.0h0M312.5 726.5h0M308.2 771.3h0M325.0 748.1h0M319.6 762.3h0M312.1 763.2h0M321.9 757.7h0M307.4 762.7h0M310.7 767.9h0M316.5 753.3h0M318.9 750.6h0M313.1 753.4h0M319.8 743.5h0M303.3 757.1h0M312.4 753.5h0M323.7 749.1h0M305.0 761.1h0M308.3 768.4h0M320.7 753.3h0M321.8 753.4h0M317.0 740.8h0M318.0 738.8h0M324.3 750.7h0M322.6 749.1h0M317.2 739.7h0M311.2 752.6h0M309.1 756.8h0M316.8 753.2h0M327.0 770.1h0M326.1 753.9h0M327.7 746.3h0M314.1 755.9h0M304.9 752.2h0M309.3 749.0h0M334.8 727.0h0M313.0 747.9h0M322.0 750.2h0M303.9 758.3h0M318.9 751.2h0M327.6 739.1h0M320.4 747.0h0M330.2 743.5h0M320.9 755.7h0M324.0 752.3h0M319.9 745.9h0M324.2 747.7h0M311.7 742.9h0M317.3 750.0h0M312.2 755.6h0M317.6 752.3h0M319.7 756.5h0M318.9 756.6h0M309.2 750.7h0M329.4 736.1h0M315.3 751.6h0M308.8 753.7h0M312.6 754.9h0M319.6 732.9h0M307.9 750.3h0M315.9 751.9h0M324.3 740.6h0M323.7 758.7h0M332.7 735.5h0M324.1 750.5h0M315.7 736.6h0M311.8 748.4h0M314.7 751.3h0M313.4 763.5h0M315.6 748.9h0M324.8 752.1h0M323.5 737.9h0M301.5 764.4h0M314.2 745.3h0M332.9 739.4h0M329.1 739.0h0M331.5 738.7h0M320.1 740.9h0M323.2 746.9h0M311.0 759.8h0M307.0 750.8h0M323.8 722.4h0M314.2 753.0h0M299.1 741.0h0M335.3 750.3h0M312.4 756.5h0M322.5 751.2h0M315.8 744.3h0M321.4 736.7h0M317.6 765.0h0M319.1 748.8h0M311.5 740.5h0M321.4 736.1h0M327.7 742.4h0M310.5 746.3h0M318.2 761.6h0M307.5 765.4h0M319.3 762.5h0M294.8 785.7h0M335.1 742.6h0M336.1 740.3h0M324.2 749.0h0M327.1 740.0h0M308.6 764.1h0M323.4 747.6h0M303.9 761.4h0M319.3 751.2h0M321.6 751.0h0M319.6 756.6h0M324.2 762.5h0M330.4 756.8h0M310.4 753.1h0M312.3 745.2h0M332.4 745.1h0M318.1 748.5h0M317.6 743.4h0M329.1 739.3h0M323.1 763.7h0M325.5 749.2h0M310.2 755.6h0M317.8 753.4h0M320.1 747.0h0M343.1 734.2h0M324.6 743.5h0M326.0 743.6h0M316.8 740.3h0M327.1 763.2h0M317.4 763.7h0M328.3 737.8h0M320.7 755.7h0M335.2 730.5h0M317.5 764.7h0M316.3 748.2h0M326.0 754.9h0M317.8 740.0h0M323.4 748.6h0M322.4 756.9h0M325.7 753.9h0M328.5 737.6h0M321.0 746.7h0M314.1 742.7h0M332.1 747.9h0M330.1 746.1h0M316.6 750.6h0M326.5 736.0h0M308.6 763.6h0M302.3 764.2h0M312.6 759.5h0M325.5 743.7h0M321.6 746.1h0M319.6 738.2h0M335.1 728.6h0M342.2 724.3h0M357.0 724.8h0M339.8 724.6h0M351.9 728.0h0M342.3 733.0h0M347.6 725.5h0M320.1 733.1h0M354.3 726.0h0M342.2 728.6h0M354.9 727.9h0M356.0 727.5h0M336.8 728.2h0M348.9 723.2h0M353.1 728.5h0M355.6 724.4h0M337.0 729.5h0M344.4 730.6h0M336.0 730.1h0M340.7 731.3h0M339.0 727.5h0M354.7 723.7h0M343.6 726.2h0M349.3 727.5h0M333.3 732.0h0M341.8 729.4h0M349.7 726.9h0M351.1 730.1h0M332.1 727.2h0M355.4 723.7h0M349.5 726.2h0M353.4 726.7h0M344.8 726.4h0M344.5 729.3h0M350.7 729.3h0M336.7 725.0h0M353.1 728.9h0M353.3 731.7h0M339.8 730.4h0M338.6 727.6h0M346.3 726.9h0M338.3 728.5h0M337.3 728.7h0M344.6 725.6h0M350.9 727.5h0M338.9 727.5h0M341.9 727.7h0M331.1 726.3h0M325.5 727.4h0M335.0 727.2h0M332.9 727.2h0M336.5 728.2h0M344.8 729.0h0M344.5 728.0h0M351.8 728.2h0M370.2 720.0h0M344.8 726.8h0M337.9 727.9h0M333.1 732.5h0M339.5 729.8h0M334.4 735.7h0M328.6 742.7h0M332.9 743.6h0M323.9 745.3h0M338.5 733.8h0M331.0 737.3h0M323.7 747.2h0M320.3 749.2h0M330.4 740.7h0M338.5 727.4h0M322.0 743.7h0M335.4 732.1h0M308.3 759.0h0M339.0 761.7h0M350.6 760.9h0M338.2 758.5h0M296.7 769.5h0M315.9 761.4h0M340.7 759.0h0M334.9 748.0h0M319.4 757.5h0M360.8 764.5h0M302.9 748.9h0M340.6 726.3h0M334.1 751.6h0M318.7 731.5h0M325.0 756.9h0M331.5 764.1h0M310.7 752.3h0M324.7 727.4h0M342.3 742.4h0M341.6 744.3h0M328.8 729.2h0M323.6 736.1h0M328.6 738.8h0M304.6 741.9h0M320.1 757.9h0M372.9 736.3h0M338.2 729.6h0M314.8 741.6h0M327.6 760.7h0M334.8 755.2h0M323.6 745.8h0M319.2 766.4h0M302.2 750.0h0M337.9 740.9h0M337.0 761.5h0M321.0 744.6h0M324.8 734.2h0M319.1 735.4h0" stroke="#3c64d8" stroke-width="0.8"/><path d="M308.4 751.4h0M338.2 733.9h0M321.6 745.4h0M318.6 748.0h0M312.5 757.9h0M326.6 749.9h0M324.6 767.8h0M314.9 740.8h0M324.6 750.4h0M311.7 753.1h0M310.1 756.2h0M322.1 746.0h0M320.6 750.8h0M322.6 747.2h0M320.0 756.0h0M310.9 759.3h0M323.3 747.7h0M321.9 739.0h0M331.4 734.3h0M308.0 756.3h0M308.0 761.5h0M317.3 753.4h0M322.1 759.6h0M320.7 741.1h0M324.2 750.2h0M326.3 758.2h0M308.8 747.5h0M333.3 725.4h0M318.4 757.0h0M316.1 771.0h0M328.9 744.9h0M324.4 743.4h0M330.5 738.1h0M325.6 756.7h0M314.4 753.8h0M310.2 752.3h0M320.8 745.9h0M334.6 750.3h0M320.7 747.1h0M319.5 751.5h0M308.7 734.3h0M309.5 739.9h0M327.3 748.1h0M316.5 744.0h0M330.2 739.8h0M316.0 747.1h0M323.7 735.8h0M321.7 757.2h0M314.2 739.3h0M321.1 737.1h0M336.1 728.6h0M324.3 751.0h0M316.6 753.8h0M333.4 737.2h0M343.4 731.0h0M309.5 755.7h0M322.4 747.8h0M315.6 752.4h0M307.0 753.7h0M322.4 745.6h0M321.0 731.3h0M314.5 736.9h0M328.7 733.9h0M323.8 749.2h0M317.0 750.9h0M314.8 737.5h0M320.2 752.0h0M322.9 754.9h0M320.6 750.5h0M300.4 761.3h0M310.8 748.7h0M325.8 754.1h0M316.9 753.7h0M321.3 758.3h0M323.5 754.2h0M332.6 731.6h0M311.1 737.4h0M315.0 755.2h0M319.0 752.6h0M307.7 767.2h0M305.7 759.3h0M324.3 734.9h0M313.0 747.1h0M325.0 754.1h0M326.6 743.7h0M314.7 743.6h0M328.0 757.4h0M316.7 761.4h0M319.5 757.8h0M316.0 747.5h0M330.0 741.4h0M308.2 755.9h0M299.6 750.2h0M306.5 764.8h0M306.1 755.6h0M331.0 747.4h0M321.0 743.4h0M309.5 749.6h0M304.3 759.5h0M293.4 744.0h0M335.3 741.8h0M318.2 746.4h0M318.4 751.0h0M318.2 756.2h0M330.0 746.8h0M318.5 745.1h0M314.5 756.7h0M306.9 746.2h0M315.5 775.0h0M318.7 755.5h0M317.8 755.1h0M327.5 746.6h0M318.4 742.6h0M327.1 739.4h0M309.5 759.7h0M318.9 753.0h0M319.3 744.2h0M327.0 737.1h0M312.2 763.9h0M329.7 733.1h0M325.6 740.9h0M323.1 757.7h0M301.8 759.4h0M315.1 759.4h0M310.0 750.8h0M312.7 762.3h0M315.4 745.9h0M303.9 752.2h0M318.3 757.6h0M316.0 758.0h0M321.4 742.3h0M315.7 747.9h0M321.0 750.7h0M329.2 735.0h0M329.9 737.4h0M319.6 739.5h0M316.0 757.3h0M306.2 758.4h0M324.2 760.5h0M323.3 750.4h0M328.1 747.8h0M321.1 757.3h0M344.3 734.2h0M304.2 769.6h0M309.6 755.9h0M326.6 747.4h0M318.0 768.2h0M328.4 750.6h0M322.2 750.2h0M313.7 757.8h0M326.5 749.1h0M332.5 744.4h0M302.5 762.8h0M320.1 745.1h0M322.9 750.3h0M312.5 761.9h0M324.4 739.6h0M321.0 743.2h0M309.9 757.3h0M312.8 760.1h0M322.5 744.9h0M331.6 739.4h0M330.5 760.7h0M309.6 755.5h0M316.8 739.8h0M324.2 742.6h0M324.8 754.6h0M337.9 733.4h0M327.9 751.3h0M326.2 753.5h0M324.2 748.7h0M320.8 751.4h0M324.2 727.7h0M323.3 742.5h0M311.0 754.0h0M330.8 755.4h0M318.9 746.4h0M320.1 758.0h0M321.4 754.8h0M315.1 756.6h0M308.0 745.0h0M322.2 758.4h0M321.3 749.7h0M325.7 734.0h0M321.9 742.9h0M340.8 749.4h0M312.0 743.3h0M323.4 754.8h0M311.7 757.9h0M324.9 753.0h0M313.4 746.2h0M305.5 737.8h0M310.7 745.1h0M327.5 749.4h0M303.8 763.5h0M316.1 748.0h0M311.6 753.0h0M314.0 754.7h0M309.3 760.2h0M315.0 748.0h0M331.1 726.9h0M343.6 730.4h0M340.2 725.3h0M363.7 723.6h0M340.6 732.0h0M339.2 729.3h0M346.2 726.2h0M352.7 726.3h0M341.0 726.1h0M349.2 728.2h0M342.0 729.2h0M351.6 726.7h0M339.0 729.1h0M334.1 727.3h0M331.5 729.2h0M343.6 724.0h0M338.9 729.0h0M358.7 721.6h0M348.4 721.3h0M341.3 727.8h0M341.3 727.9h0M339.8 727.1h0M331.5 729.8h0M354.3 725.5h0M341.6 728.8h0M339.7 728.5h0M343.1 724.1h0M352.9 725.6h0M346.9 728.4h0M347.3 729.4h0M351.0 729.9h0M339.3 727.3h0M344.2 725.3h0M336.2 726.6h0M332.7 727.4h0M342.2 729.3h0M340.2 727.0h0M349.0 731.1h0M341.6 728.4h0M339.2 728.6h0M354.8 723.3h0M346.3 724.7h0M328.7 728.1h0M344.3 730.1h0M327.7 730.1h0M349.3 728.7h0M353.4 726.8h0M347.9 722.2h0M356.2 727.7h0M359.2 721.4h0M334.0 728.5h0M335.7 731.4h0M338.8 727.7h0M346.7 727.1h0M331.8 732.5h0M366.5 723.9h0M340.7 732.6h0M347.1 729.8h0M341.9 724.5h0M333.2 731.4h0M340.9 730.7h0M362.4 719.5h0M325.7 729.0h0M325.3 744.3h0M329.0 740.5h0M340.4 728.7h0M337.8 730.2h0M338.5 731.4h0M336.7 735.2h0M330.8 742.3h0M320.6 745.5h0M341.0 731.9h0M338.4 729.0h0M339.9 728.7h0M326.5 743.3h0M345.7 729.2h0M329.1 748.1h0M337.9 736.3h0M326.8 744.4h0M333.1 734.6h0M324.8 741.0h0M312.4 732.9h0M341.1 745.9h0M310.5 732.2h0M330.6 737.5h0M330.3 739.8h0M341.8 751.5h0M330.1 750.6h0M292.8 748.1h0M352.3 765.9h0M315.8 747.9h0M330.9 747.1h0M354.9 753.8h0M333.3 741.1h0M304.8 753.8h0M307.8 753.9h0M338.1 724.0h0M325.2 737.7h0M338.7 752.3h0M303.1 741.7h0M351.7 760.1h0M313.7 735.4h0M316.8 750.1h0M299.7 739.1h0M341.6 723.2h0M310.2 733.9h0M323.8 750.1h0M307.9 728.9h0M313.8 755.3h0M307.1 739.9h0M304.7 767.7h0M313.5 756.6h0M312.0 748.8h0M336.1 740.8h0M313.2 748.4h0" stroke="#4872dc" stroke-width="0.8"/><path d="M323.6 757.7h0M316.6 748.2h0M313.8 763.7h0M314.9 749.4h0M308.4 752.0h0M329.1 755.8h0M325.9 736.4h0M319.2 759.5h0M321.1 751.3h0M303.7 755.7h0M332.0 749.5h0M315.6 756.3h0M321.9 753.9h0M318.0 731.6h0M304.2 760.8h0M304.9 753.5h0M324.9 754.5h0M326.6 748.8h0M320.3 743.7h0M316.7 752.6h0M311.1 761.7h0M309.8 754.1h0M315.8 754.6h0M329.5 744.0h0M319.8 745.0h0M316.6 743.4h0M315.4 755.5h0M314.8 760.4h0M317.9 757.1h0M304.8 759.7h0M328.6 744.6h0M312.6 751.9h0M310.2 753.6h0M319.2 753.1h0M315.1 766.8h0M321.9 748.6h0M323.1 745.7h0M303.9 761.5h0M314.0 749.0h0M318.5 755.4h0M312.3 757.6h0M316.9 751.0h0M315.9 759.9h0M323.4 745.2h0M312.8 760.3h0M309.7 767.1h0M317.8 746.8h0M331.5 739.8h0M318.9 748.0h0M324.8 751.3h0M328.8 751.8h0M303.2 768.2h0M302.3 757.7h0M312.7 744.9h0M308.6 756.5h0M312.6 761.4h0M310.9 749.6h0M297.9 753.0h0M318.9 771.7h0M329.1 741.9h0M323.4 740.5h0M323.1 752.1h0M331.6 748.9h0M330.1 745.9h0M319.7 756.1h0M308.2 763.4h0M316.5 740.0h0M316.7 758.0h0M326.5 752.4h0M336.6 738.2h0M324.2 749.3h0M333.4 737.3h0M325.1 747.3h0M325.4 742.6h0M316.4 750.0h0M321.6 760.3h0M325.5 762.7h0M325.9 757.6h0M315.0 748.8h0M320.5 747.8h0M324.4 755.1h0M307.1 747.3h0M315.3 752.2h0M325.8 759.7h0M337.3 741.1h0M312.7 758.6h0M333.4 744.7h0M311.6 760.3h0M315.0 746.3h0M309.0 756.8h0M314.2 741.4h0M333.2 740.3h0M319.2 753.0h0M322.6 750.1h0M311.7 753.1h0M314.1 742.2h0M312.0 751.8h0M316.5 764.4h0M321.9 739.7h0M332.8 742.2h0M324.8 738.0h0M319.4 753.6h0M327.1 755.6h0M329.4 751.6h0M311.8 746.9h0M329.7 741.0h0M318.7 746.1h0M290.6 757.0h0M312.5 739.7h0M322.6 754.2h0M303.2 750.5h0M311.5 764.8h0M309.3 755.8h0M312.8 766.2h0M325.3 740.5h0M322.5 745.5h0M324.3 733.3h0M323.2 751.9h0M307.9 759.1h0M306.8 754.5h0M322.0 750.6h0M316.2 743.7h0M316.4 756.2h0M322.4 748.6h0M321.4 770.8h0M308.0 759.0h0M326.3 738.1h0M333.8 739.0h0M318.4 757.5h0M325.0 758.0h0M322.2 754.7h0M337.7 752.0h0M315.5 749.3h0M315.0 749.8h0M329.2 752.1h0M313.8 755.5h0M320.9 756.8h0M327.5 726.8h0M309.6 752.8h0M327.2 743.6h0M315.4 760.6h0M326.7 742.5h0M322.0 753.8h0M324.3 750.0h0M319.1 763.8h0M302.3 755.2h0M327.2 753.8h0M323.9 745.0h0M316.4 757.2h0M320.6 761.0h0M310.6 755.7h0M314.0 759.4h0M307.6 747.6h0M326.7 748.0h0M320.7 753.4h0M322.2 752.5h0M319.6 748.4h0M327.0 748.4h0M303.1 752.5h0M328.4 747.1h0M309.7 756.4h0M309.6 757.1h0M318.1 750.8h0M318.1 756.7h0M323.1 741.7h0M318.0 742.8h0M335.4 742.0h0M327.6 748.8h0M319.5 752.6h0M316.4 741.0h0M313.6 751.4h0M314.5 743.1h0M314.5 756.6h0M333.1 739.1h0M312.8 747.7h0M308.2 757.1h0M319.0 750.0h0M314.4 754.9h0M307.4 758.4h0M315.1 742.1h0M319.9 749.0h0M316.1 743.6h0M322.1 741.8h0M335.7 740.0h0M305.4 747.0h0M315.5 753.8h0M320.1 756.2h0M327.8 747.5h0M319.1 747.8h0M312.8 742.4h0M313.0 743.6h0M306.9 746.2h0M318.7 747.2h0M326.3 749.7h0M311.8 753.0h0M324.1 748.9h0M313.5 743.7h0M312.8 768.7h0M314.6 757.8h0M320.3 753.1h0M322.9 760.3h0M317.9 736.7h0M327.8 754.2h0M320.9 743.2h0M327.4 760.4h0M322.6 758.2h0M313.4 755.5h0M320.9 748.9h0M319.7 752.1h0M322.6 738.2h0M315.5 740.2h0M312.3 756.5h0M308.6 769.2h0M315.6 760.6h0M319.4 750.5h0M325.1 754.5h0M325.6 737.3h0M323.6 745.2h0M314.2 749.5h0M319.1 754.6h0M313.7 753.3h0M340.5 759.8h0M310.9 760.6h0M317.2 738.9h0M328.3 746.9h0M348.3 727.8h0M347.0 724.7h0M325.6 729.4h0M343.7 724.3h0M348.9 725.1h0M344.7 727.7h0M348.0 729.2h0M364.5 723.0h0M356.2 726.1h0M346.0 728.9h0M329.2 735.0h0M344.6 729.9h0M354.1 722.0h0M349.1 727.5h0M342.7 731.3h0M334.6 726.9h0M333.4 729.4h0M345.0 728.6h0M343.2 728.0h0M339.8 732.1h0M350.6 729.5h0M348.3 729.7h0M343.4 728.7h0M342.8 726.1h0M342.0 729.4h0M346.7 724.9h0M345.5 725.3h0M347.7 726.3h0M351.0 732.5h0M346.8 722.3h0M340.8 731.1h0M311.1 732.5h0M357.4 723.0h0M348.0 720.1h0M348.5 727.6h0M343.0 727.2h0M368.8 723.2h0M346.1 725.6h0M342.8 727.3h0M353.2 726.7h0M352.5 728.6h0M344.6 727.2h0M332.5 730.1h0M351.9 729.8h0M342.2 724.2h0M350.4 725.3h0M359.3 723.5h0M328.2 731.2h0M357.9 725.6h0M334.5 728.3h0M350.4 725.6h0M354.2 727.0h0M349.0 721.7h0M326.1 728.8h0M348.5 727.6h0M328.4 741.0h0M332.3 740.8h0M333.4 733.8h0M335.1 736.3h0M328.1 750.0h0M317.0 744.8h0M320.0 746.8h0M324.1 744.9h0M332.4 735.7h0M340.7 732.0h0M329.5 742.6h0M338.9 734.8h0M332.2 740.5h0M346.9 732.6h0M326.6 742.1h0M326.5 745.4h0M338.9 731.5h0M337.0 727.8h0M325.1 744.5h0M327.0 740.9h0M343.0 727.2h0M323.9 753.5h0M343.4 741.9h0M300.8 766.7h0M311.4 755.8h0M309.3 756.8h0M328.9 748.9h0M345.5 741.5h0M322.5 748.1h0M336.6 770.3h0M310.0 728.8h0M337.2 745.2h0M352.5 732.6h0M360.9 752.0h0M329.2 748.7h0M326.8 732.8h0M326.6 763.5h0M338.6 735.8h0M338.8 744.8h0M325.4 761.3h0M319.8 747.9h0M335.9 747.8h0M365.5 744.0h0M318.9 739.8h0" stroke="#2c50c8" stroke-width="0.8"/></g>
<ellipse cx="319.43" cy="749.82" rx="14.25" ry="7.83" fill="#2cb0d0" fill-opacity="0.55" transform="rotate(-52 319.43 749.82)" filter="url(#hb)"/>
<ellipse cx="319.43" cy="749.82" rx="9.97" ry="5.67" fill="#3cc060" fill-opacity="0.9" transform="rotate(-52 319.43 749.82)" filter="url(#hb)"/>
<ellipse cx="318.83" cy="750.32" rx="5.7" ry="3.35" fill="#d8e030" fill-opacity="0.95" transform="rotate(-52 318.83 750.32)" filter="url(#hb2)"/>
<ellipse cx="318.43" cy="750.72" rx="2.66" ry="1.73" fill="#ee3a20" fill-opacity="0.95" transform="rotate(-52 318.43 750.72)" filter="url(#hb2)"/>
<ellipse cx="343.51" cy="727.64" rx="10.2" ry="3.12" fill="#30b0b0" fill-opacity="0.5" transform="rotate(-10 343.51 727.64)" filter="url(#hb2)"/>
<ellipse cx="344.51" cy="727.64" rx="6.38" ry="1.92" fill="#3cc060" fill-opacity="0.85" transform="rotate(-10 344.51 727.64)" filter="url(#hb2)"/>
</g>
<line x1="332.9" y1="683.3" x2="332.9" y2="779.7" stroke="#3a3a3a" stroke-width="1.1"/>
<line x1="280.6" y1="734.87" x2="378.9" y2="734.87" stroke="#3a3a3a" stroke-width="1.1"/>
<text x="0" y="0" font-size="4.29" text-anchor="start" fill="#1a1a1a" transform="translate(283.8 689.8) scale(0.9 1)">Q1</text>
<text x="0" y="0" font-size="4.29" text-anchor="start" fill="#1a1a1a" transform="translate(283.8 695.6) scale(0.9 1)">2.62</text>
<text x="0" y="0" font-size="4.29" text-anchor="end" fill="#1a1a1a" transform="translate(371.4 689.8) scale(0.9 1)">Q2</text>
<text x="0" y="0" font-size="4.29" text-anchor="end" fill="#1a1a1a" transform="translate(371.4 695.6) scale(0.9 1)">15.9</text>
<text x="0" y="0" font-size="4.29" text-anchor="start" fill="#1a1a1a" transform="translate(283.8 770.2) scale(0.9 1)">Q4</text>
<text x="0" y="0" font-size="4.29" text-anchor="start" fill="#1a1a1a" transform="translate(283.8 776.2) scale(0.9 1)">79.4</text>
<text x="0" y="0" font-size="4.29" text-anchor="end" fill="#1a1a1a" transform="translate(371.4 770.2) scale(0.9 1)">Q3</text>
<text x="0" y="0" font-size="4.29" text-anchor="end" fill="#1a1a1a" transform="translate(371.4 776.2) scale(0.9 1)">2.11</text>
<line x1="278.8" y1="696.7" x2="280.6" y2="696.7" stroke="#444" stroke-width="0.5"/>
<text x="0" y="0" font-size="3.74" text-anchor="end" fill="#222" transform="translate(277.6 698.61) scale(0.9 1)">10<tspan dy="-1.3" font-size="2.6">6</tspan></text>
<line x1="279.7" y1="702.27" x2="280.6" y2="702.27" stroke="#777" stroke-width="0.35"/>
<line x1="279.7" y1="705.53" x2="280.6" y2="705.53" stroke="#777" stroke-width="0.35"/>
<line x1="279.7" y1="707.84" x2="280.6" y2="707.84" stroke="#777" stroke-width="0.35"/>
<line x1="279.7" y1="709.63" x2="280.6" y2="709.63" stroke="#777" stroke-width="0.35"/>
<line x1="279.7" y1="711.1" x2="280.6" y2="711.1" stroke="#777" stroke-width="0.35"/>
<line x1="279.7" y1="712.33" x2="280.6" y2="712.33" stroke="#777" stroke-width="0.35"/>
<line x1="279.7" y1="713.41" x2="280.6" y2="713.41" stroke="#777" stroke-width="0.35"/>
<line x1="279.7" y1="714.35" x2="280.6" y2="714.35" stroke="#777" stroke-width="0.35"/>
<line x1="278.8" y1="715.2" x2="280.6" y2="715.2" stroke="#444" stroke-width="0.5"/>
<text x="0" y="0" font-size="3.74" text-anchor="end" fill="#222" transform="translate(277.6 717.11) scale(0.9 1)">10<tspan dy="-1.3" font-size="2.6">5</tspan></text>
<line x1="279.7" y1="720.77" x2="280.6" y2="720.77" stroke="#777" stroke-width="0.35"/>
<line x1="279.7" y1="724.03" x2="280.6" y2="724.03" stroke="#777" stroke-width="0.35"/>
<line x1="279.7" y1="726.34" x2="280.6" y2="726.34" stroke="#777" stroke-width="0.35"/>
<line x1="279.7" y1="728.13" x2="280.6" y2="728.13" stroke="#777" stroke-width="0.35"/>
<line x1="279.7" y1="729.6" x2="280.6" y2="729.6" stroke="#777" stroke-width="0.35"/>
<line x1="279.7" y1="730.83" x2="280.6" y2="730.83" stroke="#777" stroke-width="0.35"/>
<line x1="279.7" y1="731.91" x2="280.6" y2="731.91" stroke="#777" stroke-width="0.35"/>
<line x1="279.7" y1="732.85" x2="280.6" y2="732.85" stroke="#777" stroke-width="0.35"/>
<line x1="278.8" y1="733.7" x2="280.6" y2="733.7" stroke="#444" stroke-width="0.5"/>
<text x="0" y="0" font-size="3.74" text-anchor="end" fill="#222" transform="translate(277.6 735.61) scale(0.9 1)">10<tspan dy="-1.3" font-size="2.6">4</tspan></text>
<line x1="279.7" y1="739.27" x2="280.6" y2="739.27" stroke="#777" stroke-width="0.35"/>
<line x1="279.7" y1="742.53" x2="280.6" y2="742.53" stroke="#777" stroke-width="0.35"/>
<line x1="279.7" y1="744.84" x2="280.6" y2="744.84" stroke="#777" stroke-width="0.35"/>
<line x1="279.7" y1="746.63" x2="280.6" y2="746.63" stroke="#777" stroke-width="0.35"/>
<line x1="279.7" y1="748.1" x2="280.6" y2="748.1" stroke="#777" stroke-width="0.35"/>
<line x1="279.7" y1="749.33" x2="280.6" y2="749.33" stroke="#777" stroke-width="0.35"/>
<line x1="279.7" y1="750.41" x2="280.6" y2="750.41" stroke="#777" stroke-width="0.35"/>
<line x1="279.7" y1="751.35" x2="280.6" y2="751.35" stroke="#777" stroke-width="0.35"/>
<line x1="278.8" y1="752.2" x2="280.6" y2="752.2" stroke="#444" stroke-width="0.5"/>
<text x="0" y="0" font-size="3.74" text-anchor="end" fill="#222" transform="translate(277.6 754.11) scale(0.9 1)">10<tspan dy="-1.3" font-size="2.6">3</tspan></text>
<line x1="279.7" y1="757.77" x2="280.6" y2="757.77" stroke="#777" stroke-width="0.35"/>
<line x1="279.7" y1="761.03" x2="280.6" y2="761.03" stroke="#777" stroke-width="0.35"/>
<line x1="279.7" y1="763.34" x2="280.6" y2="763.34" stroke="#777" stroke-width="0.35"/>
<line x1="279.7" y1="765.13" x2="280.6" y2="765.13" stroke="#777" stroke-width="0.35"/>
<line x1="279.7" y1="766.6" x2="280.6" y2="766.6" stroke="#777" stroke-width="0.35"/>
<line x1="279.7" y1="767.83" x2="280.6" y2="767.83" stroke="#777" stroke-width="0.35"/>
<line x1="279.7" y1="768.91" x2="280.6" y2="768.91" stroke="#777" stroke-width="0.35"/>
<line x1="279.7" y1="769.85" x2="280.6" y2="769.85" stroke="#777" stroke-width="0.35"/>
<line x1="278.8" y1="770.7" x2="280.6" y2="770.7" stroke="#444" stroke-width="0.5"/>
<text x="0" y="0" font-size="3.74" text-anchor="end" fill="#222" transform="translate(277.6 772.61) scale(0.9 1)">10<tspan dy="-1.3" font-size="2.6">2</tspan></text>
<line x1="279.7" y1="776.27" x2="280.6" y2="776.27" stroke="#777" stroke-width="0.35"/>
<line x1="279.7" y1="779.53" x2="280.6" y2="779.53" stroke="#777" stroke-width="0.35"/>
<line x1="280.6" y1="780.6" x2="378.9" y2="780.6" stroke="#444" stroke-width="0.6"/>
<line x1="285" y1="780.6" x2="285" y2="782.5" stroke="#444" stroke-width="0.5"/>
<text x="0" y="0" font-size="3.74" text-anchor="middle" fill="#222" transform="translate(283.8 787.41) scale(0.9 1)">10<tspan dy="-1.3" font-size="2.6">2</tspan></text>
<line x1="290.48" y1="780.6" x2="290.48" y2="781.6" stroke="#777" stroke-width="0.35"/>
<line x1="293.68" y1="780.6" x2="293.68" y2="781.6" stroke="#777" stroke-width="0.35"/>
<line x1="295.96" y1="780.6" x2="295.96" y2="781.6" stroke="#777" stroke-width="0.35"/>
<line x1="297.72" y1="780.6" x2="297.72" y2="781.6" stroke="#777" stroke-width="0.35"/>
<line x1="299.16" y1="780.6" x2="299.16" y2="781.6" stroke="#777" stroke-width="0.35"/>
<line x1="300.38" y1="780.6" x2="300.38" y2="781.6" stroke="#777" stroke-width="0.35"/>
<line x1="301.44" y1="780.6" x2="301.44" y2="781.6" stroke="#777" stroke-width="0.35"/>
<line x1="302.37" y1="780.6" x2="302.37" y2="781.6" stroke="#777" stroke-width="0.35"/>
<line x1="303.2" y1="780.6" x2="303.2" y2="782.5" stroke="#444" stroke-width="0.5"/>
<text x="0" y="0" font-size="3.74" text-anchor="middle" fill="#222" transform="translate(302 787.41) scale(0.9 1)">10<tspan dy="-1.3" font-size="2.6">3</tspan></text>
<line x1="308.68" y1="780.6" x2="308.68" y2="781.6" stroke="#777" stroke-width="0.35"/>
<line x1="311.88" y1="780.6" x2="311.88" y2="781.6" stroke="#777" stroke-width="0.35"/>
<line x1="314.16" y1="780.6" x2="314.16" y2="781.6" stroke="#777" stroke-width="0.35"/>
<line x1="315.92" y1="780.6" x2="315.92" y2="781.6" stroke="#777" stroke-width="0.35"/>
<line x1="317.36" y1="780.6" x2="317.36" y2="781.6" stroke="#777" stroke-width="0.35"/>
<line x1="318.58" y1="780.6" x2="318.58" y2="781.6" stroke="#777" stroke-width="0.35"/>
<line x1="319.64" y1="780.6" x2="319.64" y2="781.6" stroke="#777" stroke-width="0.35"/>
<line x1="320.57" y1="780.6" x2="320.57" y2="781.6" stroke="#777" stroke-width="0.35"/>
<line x1="321.4" y1="780.6" x2="321.4" y2="782.5" stroke="#444" stroke-width="0.5"/>
<text x="0" y="0" font-size="3.74" text-anchor="middle" fill="#222" transform="translate(320.2 787.41) scale(0.9 1)">10<tspan dy="-1.3" font-size="2.6">4</tspan></text>
<line x1="326.88" y1="780.6" x2="326.88" y2="781.6" stroke="#777" stroke-width="0.35"/>
<line x1="330.08" y1="780.6" x2="330.08" y2="781.6" stroke="#777" stroke-width="0.35"/>
<line x1="332.36" y1="780.6" x2="332.36" y2="781.6" stroke="#777" stroke-width="0.35"/>
<line x1="334.12" y1="780.6" x2="334.12" y2="781.6" stroke="#777" stroke-width="0.35"/>
<line x1="335.56" y1="780.6" x2="335.56" y2="781.6" stroke="#777" stroke-width="0.35"/>
<line x1="336.78" y1="780.6" x2="336.78" y2="781.6" stroke="#777" stroke-width="0.35"/>
<line x1="337.84" y1="780.6" x2="337.84" y2="781.6" stroke="#777" stroke-width="0.35"/>
<line x1="338.77" y1="780.6" x2="338.77" y2="781.6" stroke="#777" stroke-width="0.35"/>
<line x1="339.6" y1="780.6" x2="339.6" y2="782.5" stroke="#444" stroke-width="0.5"/>
<text x="0" y="0" font-size="3.74" text-anchor="middle" fill="#222" transform="translate(338.4 787.41) scale(0.9 1)">10<tspan dy="-1.3" font-size="2.6">5</tspan></text>
<line x1="345.08" y1="780.6" x2="345.08" y2="781.6" stroke="#777" stroke-width="0.35"/>
<line x1="348.28" y1="780.6" x2="348.28" y2="781.6" stroke="#777" stroke-width="0.35"/>
<line x1="350.56" y1="780.6" x2="350.56" y2="781.6" stroke="#777" stroke-width="0.35"/>
<line x1="352.32" y1="780.6" x2="352.32" y2="781.6" stroke="#777" stroke-width="0.35"/>
<line x1="353.76" y1="780.6" x2="353.76" y2="781.6" stroke="#777" stroke-width="0.35"/>
<line x1="354.98" y1="780.6" x2="354.98" y2="781.6" stroke="#777" stroke-width="0.35"/>
<line x1="356.04" y1="780.6" x2="356.04" y2="781.6" stroke="#777" stroke-width="0.35"/>
<line x1="356.97" y1="780.6" x2="356.97" y2="781.6" stroke="#777" stroke-width="0.35"/>
<line x1="357.8" y1="780.6" x2="357.8" y2="782.5" stroke="#444" stroke-width="0.5"/>
<text x="0" y="0" font-size="3.74" text-anchor="middle" fill="#222" transform="translate(356.6 787.41) scale(0.9 1)">10<tspan dy="-1.3" font-size="2.6">6</tspan></text>
<line x1="363.28" y1="780.6" x2="363.28" y2="781.6" stroke="#777" stroke-width="0.35"/>
<line x1="366.48" y1="780.6" x2="366.48" y2="781.6" stroke="#777" stroke-width="0.35"/>
<line x1="368.76" y1="780.6" x2="368.76" y2="781.6" stroke="#777" stroke-width="0.35"/>
<line x1="370.52" y1="780.6" x2="370.52" y2="781.6" stroke="#777" stroke-width="0.35"/>
<line x1="371.96" y1="780.6" x2="371.96" y2="781.6" stroke="#777" stroke-width="0.35"/>
<line x1="373.18" y1="780.6" x2="373.18" y2="781.6" stroke="#777" stroke-width="0.35"/>
<line x1="374.24" y1="780.6" x2="374.24" y2="781.6" stroke="#777" stroke-width="0.35"/>
<line x1="375.17" y1="780.6" x2="375.17" y2="781.6" stroke="#777" stroke-width="0.35"/>
<line x1="376" y1="780.6" x2="376" y2="782.5" stroke="#444" stroke-width="0.5"/>
<text x="0" y="0" font-size="3.74" text-anchor="middle" fill="#222" transform="translate(374.8 787.41) scale(0.9 1)">10<tspan dy="-1.3" font-size="2.6">7</tspan></text>
<text x="0" y="0" font-size="9.68" font-weight="bold" text-anchor="middle" fill="#111" transform="translate(331.6 679.79) scale(0.9 1)" stroke="#111" stroke-width="0.35">si-<tspan font-style="italic">SNRPE</tspan>#2</text>
<text x="0" y="0" font-size="18.15" font-weight="bold" text-anchor="start" fill="#111" transform="translate(406.5 682.3) scale(0.9 1)" stroke="#111" stroke-width="0.35">J</text>
<text x="0" y="0" font-size="10.89" font-weight="bold" text-anchor="middle" fill="#222" transform="translate(488.8 681.61) scale(0.9 1)" stroke="#222" stroke-width="0.35">HEY</text>
<line x1="460.55" y1="761.92" x2="460.55" y2="759.09" stroke="#1830d0" stroke-width="1.1"/>
<line x1="457.05" y1="759.09" x2="464.05" y2="759.09" stroke="#1830d0" stroke-width="1.1"/>
<rect x="452.2" y="762.52" width="16.7" height="24.53" fill="url(#pL)" stroke="#1a30e0" stroke-width="1.2"/>
<rect x="452.2" y="787.06" width="16.7" height="7.54" fill="url(#pE)" stroke="#2aa0ea" stroke-width="1.2"/>
<line x1="488.3" y1="725.46" x2="488.3" y2="724.05" stroke="#1830d0" stroke-width="1.1"/>
<line x1="484.8" y1="724.05" x2="491.8" y2="724.05" stroke="#1830d0" stroke-width="1.1"/>
<rect x="479.6" y="726.06" width="17.4" height="61.7" fill="url(#pL)" stroke="#1a30e0" stroke-width="1.2"/>
<rect x="479.6" y="787.77" width="17.4" height="6.83" fill="url(#pE)" stroke="#2aa0ea" stroke-width="1.2"/>
<line x1="516.6" y1="731.48" x2="516.6" y2="730.42" stroke="#1830d0" stroke-width="1.1"/>
<line x1="513.1" y1="730.42" x2="520.1" y2="730.42" stroke="#1830d0" stroke-width="1.1"/>
<rect x="508.2" y="732.08" width="16.8" height="55.69" fill="url(#pL)" stroke="#1a30e0" stroke-width="1.2"/>
<rect x="508.2" y="787.77" width="16.8" height="6.83" fill="url(#pE)" stroke="#2aa0ea" stroke-width="1.2"/>
<polyline points="460.5,750 460.5,700.2 516.6,700.2 516.6,722.6" stroke="#222" stroke-width="0.9" fill="none"/>
<polyline points="460.5,750 460.5,711.4 488.3,711.4 488.3,718" stroke="#222" stroke-width="0.9" fill="none"/>
<text x="0" y="0" font-size="9.9" font-weight="bold" text-anchor="middle" fill="#111" transform="translate(488.5 698.8) scale(0.9 1)" stroke="#111" stroke-width="0.35">**</text>
<text x="0" y="0" font-size="9.9" font-weight="bold" text-anchor="middle" fill="#111" transform="translate(474.5 710) scale(0.9 1)" stroke="#111" stroke-width="0.35">**</text>
<line x1="441.5" y1="706.7" x2="441.5" y2="795.8" stroke="#111" stroke-width="1.2"/>
<line x1="438.2" y1="795.2" x2="441.5" y2="795.2" stroke="#111" stroke-width="1.2"/>
<text x="0" y="0" font-size="8.14" font-weight="bold" text-anchor="end" fill="#111" transform="translate(436.6 798.05) scale(0.9 1)" stroke="#111" stroke-width="0.35">0</text>
<line x1="438.2" y1="777.5" x2="441.5" y2="777.5" stroke="#111" stroke-width="1.2"/>
<text x="0" y="0" font-size="8.14" font-weight="bold" text-anchor="end" fill="#111" transform="translate(436.6 780.35) scale(0.9 1)" stroke="#111" stroke-width="0.35">5</text>
<line x1="438.2" y1="759.8" x2="441.5" y2="759.8" stroke="#111" stroke-width="1.2"/>
<text x="0" y="0" font-size="8.14" font-weight="bold" text-anchor="end" fill="#111" transform="translate(436.6 762.65) scale(0.9 1)" stroke="#111" stroke-width="0.35">10</text>
<line x1="438.2" y1="742.1" x2="441.5" y2="742.1" stroke="#111" stroke-width="1.2"/>
<text x="0" y="0" font-size="8.14" font-weight="bold" text-anchor="end" fill="#111" transform="translate(436.6 744.95) scale(0.9 1)" stroke="#111" stroke-width="0.35">15</text>
<line x1="438.2" y1="724.4" x2="441.5" y2="724.4" stroke="#111" stroke-width="1.2"/>
<text x="0" y="0" font-size="8.14" font-weight="bold" text-anchor="end" fill="#111" transform="translate(436.6 727.25) scale(0.9 1)" stroke="#111" stroke-width="0.35">20</text>
<line x1="438.2" y1="706.7" x2="441.5" y2="706.7" stroke="#111" stroke-width="1.2"/>
<text x="0" y="0" font-size="8.14" font-weight="bold" text-anchor="end" fill="#111" transform="translate(436.6 709.55) scale(0.9 1)" stroke="#111" stroke-width="0.35">25</text>
<line x1="441.5" y1="795.2" x2="534.8" y2="795.2" stroke="#111" stroke-width="1.2"/>
<line x1="460.55" y1="795.2" x2="460.55" y2="798.2" stroke="#111" stroke-width="1.2"/>
<text x="462.55" y="804.7" font-size="7.3" font-weight="bold" text-anchor="end" fill="#111" transform="rotate(-45 462.55 804.7)" stroke="#111" stroke-width="0.35">si-NC</text>
<line x1="488.3" y1="795.2" x2="488.3" y2="798.2" stroke="#111" stroke-width="1.2"/>
<text x="490.3" y="804.7" font-size="7.3" font-weight="bold" text-anchor="end" fill="#111" transform="rotate(-45 490.3 804.7)" stroke="#111" stroke-width="0.35">si-<tspan font-style="italic">SNRPE</tspan>#1</text>
<line x1="516.6" y1="795.2" x2="516.6" y2="798.2" stroke="#111" stroke-width="1.2"/>
<text x="518.6" y="804.7" font-size="7.3" font-weight="bold" text-anchor="end" fill="#111" transform="rotate(-45 518.6 804.7)" stroke="#111" stroke-width="0.35">si-<tspan font-style="italic">SNRPE</tspan>#2</text>
<text x="0" y="0" font-size="7.2" font-weight="bold" text-anchor="middle" fill="#111" transform="translate(425 750.5) rotate(-90)" stroke="#111" stroke-width="0.35">Apoptotic cells (%)</text>
<rect x="542.2" y="741.6" width="9.8" height="4.6" fill="url(#pE)" stroke="#2aa0ea" stroke-width="1.1"/>
<rect x="542.2" y="753.9" width="9.8" height="4.6" fill="url(#pL)" stroke="#1a30e0" stroke-width="1.1"/>
<text x="0" y="0" font-size="7.92" text-anchor="start" fill="#111" transform="translate(556.7 746.67) scale(0.9 1)">early apoptosis</text>
<text x="0" y="0" font-size="7.92" text-anchor="start" fill="#111" transform="translate(556.7 758.97) scale(0.9 1)">late apoptosis</text>
<text x="0" y="0" font-size="18.15" font-weight="bold" text-anchor="start" fill="#111" transform="translate(0 837.8) scale(0.9 1)" stroke="#111" stroke-width="0.35">K</text>
<rect x="27.8" y="831.5" width="221.8" height="145.7" fill="url(#photo)" stroke="none" stroke-width="1"/>
<ellipse cx="52.2" cy="859.7" rx="10.5" ry="10.6" fill="#a09890" fill-opacity="0.35" filter="url(#tb2)" transform="rotate(20 51.7 858.7)"/>
<g filter="url(#tb)" transform="rotate(20 51.7 858.7)"><ellipse cx="51.7" cy="858.7" rx="9" ry="9" fill="url(#tumr)"/><ellipse cx="54.13" cy="856.62" rx="6.78" ry="6.46" fill="url(#tumr)"/><ellipse cx="52.62" cy="861.76" rx="6.58" ry="7" fill="url(#tumr)"/><ellipse cx="48.5" cy="858.74" rx="6.77" ry="6.99" fill="url(#tumr)"/><ellipse cx="53.51" cy="858.91" rx="0.88" ry="1.61" fill="#c04848" fill-opacity="0.55"/><ellipse cx="50.14" cy="861.76" rx="0.99" ry="1.77" fill="#c04848" fill-opacity="0.55"/><ellipse cx="48.23" cy="862.4" rx="1.51" ry="1.33" fill="#c04848" fill-opacity="0.55"/><ellipse cx="51.07" cy="858.2" rx="2.31" ry="1.57" fill="#f2d4bc" fill-opacity="0.6"/><ellipse cx="54.14" cy="856.47" rx="1.68" ry="0.91" fill="#c04848" fill-opacity="0.55"/><ellipse cx="47.4" cy="856.56" rx="2.19" ry="1.84" fill="#f8e4d4" fill-opacity="0.6"/><ellipse cx="48.9" cy="855.03" rx="2.15" ry="1.64" fill="#f2d4bc" fill-opacity="0.6"/><ellipse cx="51.27" cy="862.96" rx="0.97" ry="1.12" fill="#b83c3c" fill-opacity="0.55"/><ellipse cx="48.57" cy="857.53" rx="2.22" ry="1.1" fill="#f8e4d4" fill-opacity="0.6"/></g>
<ellipse cx="94.5" cy="857.7" rx="9.1" ry="11" fill="#a09890" fill-opacity="0.35" filter="url(#tb2)" transform="rotate(-25 94 856.7)"/>
<g filter="url(#tb)" transform="rotate(-25 94 856.7)"><ellipse cx="94" cy="856.7" rx="7.74" ry="9.36" fill="url(#tumr)"/><ellipse cx="93.14" cy="853.54" rx="5.54" ry="7.29" fill="url(#tumr)"/><ellipse cx="96.75" cy="856.81" rx="5.64" ry="7.19" fill="url(#tumr)"/><ellipse cx="92.51" cy="859.5" rx="6.15" ry="6.93" fill="url(#tumr)"/><ellipse cx="93.93" cy="856.78" rx="1.02" ry="1.63" fill="#f6dcc8" fill-opacity="0.6"/><ellipse cx="94.64" cy="856.71" rx="1.37" ry="0.82" fill="#c04848" fill-opacity="0.55"/><ellipse cx="94.55" cy="856.82" rx="1.04" ry="1.03" fill="#f6dcc8" fill-opacity="0.6"/><ellipse cx="90.96" cy="854.57" rx="2.3" ry="1.84" fill="#b83c3c" fill-opacity="0.55"/><ellipse cx="90.25" cy="857.68" rx="2.36" ry="1.56" fill="#c04848" fill-opacity="0.55"/><ellipse cx="96.89" cy="855.99" rx="1.09" ry="1.72" fill="#f2d4bc" fill-opacity="0.6"/><ellipse cx="92.89" cy="856.62" rx="1.94" ry="1.78" fill="#c04848" fill-opacity="0.55"/><ellipse cx="93.26" cy="857.94" rx="1.37" ry="1.23" fill="#f2d4bc" fill-opacity="0.6"/></g>
<ellipse cx="132.9" cy="859.7" rx="10.5" ry="9.8" fill="#a09890" fill-opacity="0.35" filter="url(#tb2)" transform="rotate(10 132.4 858.7)"/>
<g filter="url(#tb)" transform="rotate(10 132.4 858.7)"><ellipse cx="132.4" cy="858.7" rx="9" ry="8.28" fill="url(#tumr)"/><ellipse cx="129.23" cy="858.31" rx="6.55" ry="6.45" fill="url(#tumr)"/><ellipse cx="135.06" cy="857.06" rx="6.37" ry="6.52" fill="url(#tumr)"/><ellipse cx="132.28" cy="861.64" rx="6.24" ry="6.3" fill="url(#tumr)"/><ellipse cx="132.09" cy="858.97" rx="2.03" ry="1.49" fill="#a83838" fill-opacity="0.55"/><ellipse cx="132.72" cy="855.99" rx="1.72" ry="1.46" fill="#f6dcc8" fill-opacity="0.6"/><ellipse cx="132.77" cy="858.78" rx="1.12" ry="0.74" fill="#f6dcc8" fill-opacity="0.6"/><ellipse cx="132.66" cy="858.62" rx="1" ry="1" fill="#f6dcc8" fill-opacity="0.6"/><ellipse cx="136.38" cy="857.62" rx="2.17" ry="1.66" fill="#b83c3c" fill-opacity="0.55"/><ellipse cx="134.96" cy="862.01" rx="2.23" ry="1" fill="#f8e4d4" fill-opacity="0.6"/><ellipse cx="132.97" cy="856.25" rx="0.82" ry="1.06" fill="#f6dcc8" fill-opacity="0.6"/><ellipse cx="133.16" cy="859.21" rx="1.43" ry="1.66" fill="#f6dcc8" fill-opacity="0.6"/></g>
<ellipse cx="177.2" cy="857.7" rx="8.7" ry="9.8" fill="#a09890" fill-opacity="0.35" filter="url(#tb2)" transform="rotate(-20 176.7 856.7)"/>
<g filter="url(#tb)" transform="rotate(-20 176.7 856.7)"><ellipse cx="176.7" cy="856.7" rx="7.38" ry="8.28" fill="url(#tumr)"/><ellipse cx="177.44" cy="859.53" rx="5.24" ry="5.99" fill="url(#tumr)"/><ellipse cx="174.49" cy="855.11" rx="5.1" ry="6.43" fill="url(#tumr)"/><ellipse cx="178.88" cy="855.06" rx="5.11" ry="5.74" fill="url(#tumr)"/><ellipse cx="172.91" cy="855.11" rx="0.86" ry="0.81" fill="#a83838" fill-opacity="0.55"/><ellipse cx="176.81" cy="854.07" rx="1.76" ry="1.27" fill="#f2d4bc" fill-opacity="0.6"/><ellipse cx="177.66" cy="854.86" rx="2.35" ry="1.29" fill="#f8e4d4" fill-opacity="0.6"/><ellipse cx="176.49" cy="860.98" rx="1.15" ry="1.33" fill="#c04848" fill-opacity="0.55"/><ellipse cx="173.06" cy="858.61" rx="1.11" ry="0.97" fill="#b83c3c" fill-opacity="0.55"/><ellipse cx="173.96" cy="860.42" rx="2.24" ry="1.59" fill="#c04848" fill-opacity="0.55"/><ellipse cx="176.06" cy="856.78" rx="2.04" ry="1.54" fill="#c04848" fill-opacity="0.55"/></g>
<ellipse cx="220.5" cy="856.7" rx="8.7" ry="9.8" fill="#a09890" fill-opacity="0.35" filter="url(#tb2)" transform="rotate(-10 220 855.7)"/>
<g filter="url(#tb)" transform="rotate(-10 220 855.7)"><ellipse cx="220" cy="855.7" rx="7.38" ry="8.28" fill="url(#tumr)"/><ellipse cx="217.39" cy="855.38" rx="5.74" ry="6.4" fill="url(#tumr)"/><ellipse cx="221.05" cy="853" rx="5.21" ry="6.39" fill="url(#tumr)"/><ellipse cx="220.86" cy="858.48" rx="5.59" ry="6.61" fill="url(#tumr)"/><ellipse cx="218.7" cy="855.27" rx="2.14" ry="0.99" fill="#b83c3c" fill-opacity="0.55"/><ellipse cx="218.67" cy="859.6" rx="1.46" ry="0.77" fill="#b83c3c" fill-opacity="0.55"/><ellipse cx="219.5" cy="851.89" rx="1.97" ry="0.72" fill="#a83838" fill-opacity="0.55"/><ellipse cx="220.21" cy="855.52" rx="0.96" ry="1.18" fill="#f2d4bc" fill-opacity="0.6"/><ellipse cx="221.55" cy="859" rx="2.34" ry="1.59" fill="#c04848" fill-opacity="0.55"/><ellipse cx="222.35" cy="858.26" rx="1.17" ry="1.84" fill="#f8e4d4" fill-opacity="0.6"/><ellipse cx="219.69" cy="857.35" rx="2.07" ry="1.53" fill="#f6dcc8" fill-opacity="0.6"/></g>
<ellipse cx="50.1" cy="899.6" rx="7.3" ry="8.8" fill="#a09890" fill-opacity="0.35" filter="url(#tb2)" transform="rotate(-25 49.6 898.6)"/>
<g filter="url(#tb)" transform="rotate(-25 49.6 898.6)"><ellipse cx="49.6" cy="898.6" rx="6.12" ry="7.38" fill="url(#tum)"/><ellipse cx="49.87" cy="901.2" rx="4.41" ry="5.66" fill="url(#tum)"/><ellipse cx="47.43" cy="898.41" rx="4.76" ry="5.61" fill="url(#tum)"/><ellipse cx="50.57" cy="896.25" rx="4.87" ry="5.78" fill="url(#tum)"/><ellipse cx="47.95" cy="899.97" rx="0.96" ry="1.77" fill="#f8e4d4" fill-opacity="0.6"/><ellipse cx="48.57" cy="900.76" rx="1.2" ry="0.72" fill="#f2d4bc" fill-opacity="0.6"/><ellipse cx="49.45" cy="899.54" rx="2.03" ry="1.87" fill="#f2d4bc" fill-opacity="0.6"/><ellipse cx="51.4" cy="895.85" rx="1.99" ry="1.16" fill="#f8e4d4" fill-opacity="0.6"/><ellipse cx="50.47" cy="895.04" rx="2.29" ry="1.14" fill="#f2d4bc" fill-opacity="0.6"/></g>
<ellipse cx="92.5" cy="899.2" rx="7.9" ry="7" fill="#a09890" fill-opacity="0.35" filter="url(#tb2)" transform="rotate(0 92 898.2)"/>
<g filter="url(#tb)" transform="rotate(0 92 898.2)"><ellipse cx="92" cy="898.2" rx="6.66" ry="5.76" fill="url(#tum)"/><ellipse cx="92.79" cy="896.27" rx="4.87" ry="4.23" fill="url(#tum)"/><ellipse cx="93.76" cy="899.57" rx="4.76" ry="4.3" fill="url(#tum)"/><ellipse cx="89.63" cy="898.3" rx="5.18" ry="4.24" fill="url(#tum)"/><ellipse cx="92.56" cy="898.07" rx="2.08" ry="1.73" fill="#f6dcc8" fill-opacity="0.6"/><ellipse cx="93.76" cy="899.77" rx="1.12" ry="1.48" fill="#f8e4d4" fill-opacity="0.6"/><ellipse cx="92.45" cy="898.86" rx="0.98" ry="1.77" fill="#f6dcc8" fill-opacity="0.6"/><ellipse cx="92.69" cy="896.69" rx="1.75" ry="1.12" fill="#f6dcc8" fill-opacity="0.6"/><ellipse cx="94.83" cy="897.11" rx="1.63" ry="1.6" fill="#f6dcc8" fill-opacity="0.6"/></g>
<ellipse cx="130.9" cy="897.5" rx="6.5" ry="6.6" fill="#a09890" fill-opacity="0.35" filter="url(#tb2)" transform="rotate(0 130.4 896.5)"/>
<g filter="url(#tb)" transform="rotate(0 130.4 896.5)"><ellipse cx="130.4" cy="896.5" rx="5.4" ry="5.4" fill="url(#tum)"/><ellipse cx="128.54" cy="896.01" rx="4.29" ry="4.01" fill="url(#tum)"/><ellipse cx="131.42" cy="894.87" rx="3.94" ry="4.28" fill="url(#tum)"/><ellipse cx="130.85" cy="898.37" rx="4.25" ry="3.94" fill="url(#tum)"/><ellipse cx="129.42" cy="893.6" rx="1.5" ry="0.89" fill="#f6dcc8" fill-opacity="0.6"/><ellipse cx="130.37" cy="896.43" rx="1.11" ry="1.8" fill="#f8e4d4" fill-opacity="0.6"/><ellipse cx="129.62" cy="897" rx="1.58" ry="1.47" fill="#f8e4d4" fill-opacity="0.6"/><ellipse cx="131.43" cy="894.95" rx="2.14" ry="1.52" fill="#f2d4bc" fill-opacity="0.6"/></g>
<ellipse cx="175" cy="895.6" rx="7" ry="6.1" fill="#a09890" fill-opacity="0.35" filter="url(#tb2)" transform="rotate(10 174.5 894.6)"/>
<g filter="url(#tb)" transform="rotate(10 174.5 894.6)"><ellipse cx="174.5" cy="894.6" rx="5.85" ry="4.95" fill="url(#tum)"/><ellipse cx="172.86" cy="893.52" rx="4.35" ry="3.47" fill="url(#tum)"/><ellipse cx="176.26" cy="893.66" rx="4.08" ry="3.76" fill="url(#tum)"/><ellipse cx="174.56" cy="896.36" rx="4.63" ry="3.72" fill="url(#tum)"/><ellipse cx="174.37" cy="893.55" rx="2" ry="1.18" fill="#f8e4d4" fill-opacity="0.6"/><ellipse cx="173.23" cy="892.39" rx="1.32" ry="1.56" fill="#f6dcc8" fill-opacity="0.6"/><ellipse cx="176.19" cy="897.08" rx="0.83" ry="1.48" fill="#f6dcc8" fill-opacity="0.6"/><ellipse cx="175.08" cy="896.96" rx="2.35" ry="1.11" fill="#f8e4d4" fill-opacity="0.6"/></g>
<ellipse cx="216.2" cy="895.4" rx="7.1" ry="5.2" fill="#a09890" fill-opacity="0.35" filter="url(#tb2)" transform="rotate(5 215.7 894.4)"/>
<g filter="url(#tb)" transform="rotate(5 215.7 894.4)"><ellipse cx="215.7" cy="894.4" rx="5.94" ry="4.14" fill="url(#tum)"/><ellipse cx="216.25" cy="892.98" rx="4.23" ry="2.93" fill="url(#tum)"/><ellipse cx="217.7" cy="894.87" rx="4.48" ry="3.11" fill="url(#tum)"/><ellipse cx="213.74" cy="894.95" rx="4.53" ry="2.99" fill="url(#tum)"/><ellipse cx="214.54" cy="896.52" rx="1.24" ry="1.33" fill="#f8e4d4" fill-opacity="0.6"/><ellipse cx="217.35" cy="895.4" rx="1.24" ry="0.74" fill="#f6dcc8" fill-opacity="0.6"/><ellipse cx="216.65" cy="895.48" rx="1.57" ry="1.69" fill="#f8e4d4" fill-opacity="0.6"/><ellipse cx="215.07" cy="892.97" rx="2.4" ry="0.95" fill="#f8e4d4" fill-opacity="0.6"/></g>
<ellipse cx="50.5" cy="933.7" rx="7.5" ry="6.8" fill="#a09890" fill-opacity="0.35" filter="url(#tb2)" transform="rotate(0 50 932.7)"/>
<g filter="url(#tb)" transform="rotate(0 50 932.7)"><ellipse cx="50" cy="932.7" rx="6.3" ry="5.58" fill="url(#tum)"/><ellipse cx="49.82" cy="930.72" rx="4.87" ry="4.1" fill="url(#tum)"/><ellipse cx="51.87" cy="933.8" rx="4.45" ry="4.38" fill="url(#tum)"/><ellipse cx="47.92" cy="933.45" rx="4.78" ry="4.19" fill="url(#tum)"/><ellipse cx="51.53" cy="934.76" rx="2.37" ry="1.2" fill="#f2d4bc" fill-opacity="0.6"/><ellipse cx="50.17" cy="935.44" rx="1.43" ry="0.72" fill="#f8e4d4" fill-opacity="0.6"/><ellipse cx="49.89" cy="935.88" rx="2.17" ry="1.19" fill="#f6dcc8" fill-opacity="0.6"/><ellipse cx="47.54" cy="932.12" rx="2.23" ry="1.47" fill="#f2d4bc" fill-opacity="0.6"/><ellipse cx="47.92" cy="932.26" rx="2.26" ry="1.61" fill="#f8e4d4" fill-opacity="0.6"/></g>
<ellipse cx="97.1" cy="932.3" rx="7.1" ry="6.6" fill="#a09890" fill-opacity="0.35" filter="url(#tb2)" transform="rotate(20 96.6 931.3)"/>
<g filter="url(#tb)" transform="rotate(20 96.6 931.3)"><ellipse cx="96.6" cy="931.3" rx="5.94" ry="5.4" fill="url(#tum)"/><ellipse cx="98.14" cy="932.61" rx="4.25" ry="4.17" fill="url(#tum)"/><ellipse cx="94.55" cy="931.74" rx="4.27" ry="4.23" fill="url(#tum)"/><ellipse cx="97.12" cy="929.44" rx="4.46" ry="4.21" fill="url(#tum)"/><ellipse cx="96.5" cy="931.55" rx="1.86" ry="1.48" fill="#f6dcc8" fill-opacity="0.6"/><ellipse cx="95.31" cy="931.24" rx="2.21" ry="1.63" fill="#f8e4d4" fill-opacity="0.6"/><ellipse cx="98.83" cy="931.15" rx="1.76" ry="1.16" fill="#f8e4d4" fill-opacity="0.6"/><ellipse cx="96.82" cy="931.42" rx="1.76" ry="0.95" fill="#f6dcc8" fill-opacity="0.6"/></g>
<ellipse cx="132.9" cy="931.9" rx="6.1" ry="6" fill="#a09890" fill-opacity="0.35" filter="url(#tb2)" transform="rotate(0 132.4 930.9)"/>
<g filter="url(#tb)" transform="rotate(0 132.4 930.9)"><ellipse cx="132.4" cy="930.9" rx="5.04" ry="4.86" fill="url(#tum)"/><ellipse cx="134.06" cy="931.55" rx="3.66" ry="3.57" fill="url(#tum)"/><ellipse cx="130.73" cy="931.52" rx="3.7" ry="3.44" fill="url(#tum)"/><ellipse cx="131.96" cy="929.23" rx="3.47" ry="3.75" fill="url(#tum)"/><ellipse cx="131.14" cy="930.91" rx="1.37" ry="0.72" fill="#f8e4d4" fill-opacity="0.6"/><ellipse cx="134.89" cy="930.64" rx="1.8" ry="1.42" fill="#f6dcc8" fill-opacity="0.6"/><ellipse cx="132.3" cy="931.61" rx="1.13" ry="1.56" fill="#f8e4d4" fill-opacity="0.6"/><ellipse cx="130.96" cy="931.36" rx="1.66" ry="0.91" fill="#f8e4d4" fill-opacity="0.6"/></g>
<ellipse cx="176.8" cy="930" rx="6.3" ry="6.8" fill="#a09890" fill-opacity="0.35" filter="url(#tb2)" transform="rotate(-10 176.3 929)"/>
<g filter="url(#tb)" transform="rotate(-10 176.3 929)"><ellipse cx="176.3" cy="929" rx="5.22" ry="5.58" fill="url(#tum)"/><ellipse cx="178.13" cy="929.36" rx="3.95" ry="4.26" fill="url(#tum)"/><ellipse cx="174.75" cy="930.09" rx="3.76" ry="4.44" fill="url(#tum)"/><ellipse cx="175.56" cy="927.18" rx="4.01" ry="4.32" fill="url(#tum)"/><ellipse cx="175.21" cy="925.99" rx="1.03" ry="0.83" fill="#f8e4d4" fill-opacity="0.6"/><ellipse cx="178.32" cy="927.27" rx="1.95" ry="0.92" fill="#f8e4d4" fill-opacity="0.6"/><ellipse cx="174.24" cy="927.88" rx="1.11" ry="1.29" fill="#f6dcc8" fill-opacity="0.6"/><ellipse cx="177.64" cy="929.34" rx="1.02" ry="1.72" fill="#f2d4bc" fill-opacity="0.6"/></g>
<ellipse cx="218.4" cy="930.7" rx="5.5" ry="5.2" fill="#a09890" fill-opacity="0.35" filter="url(#tb2)" transform="rotate(0 217.9 929.7)"/>
<g filter="url(#tb)" transform="rotate(0 217.9 929.7)"><ellipse cx="217.9" cy="929.7" rx="4.5" ry="4.14" fill="url(#tum)"/><ellipse cx="216.51" cy="930.42" rx="3.2" ry="3.04" fill="url(#tum)"/><ellipse cx="217.94" cy="928.23" rx="3.32" ry="3.11" fill="url(#tum)"/><ellipse cx="219.4" cy="930.21" rx="3.26" ry="3.25" fill="url(#tum)"/><ellipse cx="219.75" cy="929.81" rx="1.93" ry="0.82" fill="#f6dcc8" fill-opacity="0.6"/><ellipse cx="217.77" cy="930.22" rx="1.46" ry="1.17" fill="#f8e4d4" fill-opacity="0.6"/><ellipse cx="220.27" cy="928.51" rx="1.02" ry="1.45" fill="#f8e4d4" fill-opacity="0.6"/></g>
<rect x="34.3" y="952.7" width="207.2" height="23.5" fill="#f4f4f3" stroke="#c8c8c8" stroke-width="0.4"/>
<rect x="35.5" y="953.4" width="205" height="5.4" fill="#cfcfcf" stroke="none" stroke-width="1"/>
<line x1="40.4" y1="953" x2="40.4" y2="961" stroke="#777" stroke-width="0.45"/>
<line x1="41.7" y1="953" x2="41.7" y2="957" stroke="#777" stroke-width="0.45"/>
<line x1="42.99" y1="953" x2="42.99" y2="957" stroke="#777" stroke-width="0.45"/>
<line x1="44.28" y1="953" x2="44.28" y2="957" stroke="#777" stroke-width="0.45"/>
<line x1="45.58" y1="953" x2="45.58" y2="957" stroke="#777" stroke-width="0.45"/>
<line x1="46.88" y1="953" x2="46.88" y2="959" stroke="#777" stroke-width="0.45"/>
<line x1="48.17" y1="953" x2="48.17" y2="957" stroke="#777" stroke-width="0.45"/>
<line x1="49.46" y1="953" x2="49.46" y2="957" stroke="#777" stroke-width="0.45"/>
<line x1="50.76" y1="953" x2="50.76" y2="957" stroke="#777" stroke-width="0.45"/>
<line x1="52.05" y1="953" x2="52.05" y2="957" stroke="#777" stroke-width="0.45"/>
<line x1="53.35" y1="953" x2="53.35" y2="961" stroke="#777" stroke-width="0.45"/>
<line x1="54.64" y1="953" x2="54.64" y2="957" stroke="#777" stroke-width="0.45"/>
<line x1="55.94" y1="953" x2="55.94" y2="957" stroke="#777" stroke-width="0.45"/>
<line x1="57.23" y1="953" x2="57.23" y2="957" stroke="#777" stroke-width="0.45"/>
<line x1="58.53" y1="953" x2="58.53" y2="957" stroke="#777" stroke-width="0.45"/>
<line x1="59.83" y1="953" x2="59.83" y2="959" stroke="#777" stroke-width="0.45"/>
<line x1="61.12" y1="953" x2="61.12" y2="957" stroke="#777" stroke-width="0.45"/>
<line x1="62.41" y1="953" x2="62.41" y2="957" stroke="#777" stroke-width="0.45"/>
<line x1="63.71" y1="953" x2="63.71" y2="957" stroke="#777" stroke-width="0.45"/>
<line x1="65" y1="953" x2="65" y2="957" stroke="#777" stroke-width="0.45"/>
<line x1="66.3" y1="953" x2="66.3" y2="961" stroke="#777" stroke-width="0.45"/>
<line x1="67.59" y1="953" x2="67.59" y2="957" stroke="#777" stroke-width="0.45"/>
<line x1="68.89" y1="953" x2="68.89" y2="957" stroke="#777" stroke-width="0.45"/>
<line x1="70.19" y1="953" x2="70.19" y2="957" stroke="#777" stroke-width="0.45"/>
<line x1="71.48" y1="953" x2="71.48" y2="957" stroke="#777" stroke-width="0.45"/>
<line x1="72.78" y1="953" x2="72.78" y2="959" stroke="#777" stroke-width="0.45"/>
<line x1="74.07" y1="953" x2="74.07" y2="957" stroke="#777" stroke-width="0.45"/>
<line x1="75.36" y1="953" x2="75.36" y2="957" stroke="#777" stroke-width="0.45"/>
<line x1="76.66" y1="953" x2="76.66" y2="957" stroke="#777" stroke-width="0.45"/>
<line x1="77.95" y1="953" x2="77.95" y2="957" stroke="#777" stroke-width="0.45"/>
<line x1="79.25" y1="953" x2="79.25" y2="961" stroke="#777" stroke-width="0.45"/>
<line x1="80.54" y1="953" x2="80.54" y2="957" stroke="#777" stroke-width="0.45"/>
<line x1="81.84" y1="953" x2="81.84" y2="957" stroke="#777" stroke-width="0.45"/>
<line x1="83.13" y1="953" x2="83.13" y2="957" stroke="#777" stroke-width="0.45"/>
<line x1="84.43" y1="953" x2="84.43" y2="957" stroke="#777" stroke-width="0.45"/>
<line x1="85.72" y1="953" x2="85.72" y2="959" stroke="#777" stroke-width="0.45"/>
<line x1="87.02" y1="953" x2="87.02" y2="957" stroke="#777" stroke-width="0.45"/>
<line x1="88.31" y1="953" x2="88.31" y2="957" stroke="#777" stroke-width="0.45"/>
<line x1="89.61" y1="953" x2="89.61" y2="957" stroke="#777" stroke-width="0.45"/>
<line x1="90.91" y1="953" x2="90.91" y2="957" stroke="#777" stroke-width="0.45"/>
<line x1="92.2" y1="953" x2="92.2" y2="961" stroke="#777" stroke-width="0.45"/>
<line x1="93.49" y1="953" x2="93.49" y2="957" stroke="#777" stroke-width="0.45"/>
<line x1="94.79" y1="953" x2="94.79" y2="957" stroke="#777" stroke-width="0.45"/>
<line x1="96.09" y1="953" x2="96.09" y2="957" stroke="#777" stroke-width="0.45"/>
<line x1="97.38" y1="953" x2="97.38" y2="957" stroke="#777" stroke-width="0.45"/>
<line x1="98.67" y1="953" x2="98.67" y2="959" stroke="#777" stroke-width="0.45"/>
<line x1="99.97" y1="953" x2="99.97" y2="957" stroke="#777" stroke-width="0.45"/>
<line x1="101.26" y1="953" x2="101.26" y2="957" stroke="#777" stroke-width="0.45"/>
<line x1="102.56" y1="953" x2="102.56" y2="957" stroke="#777" stroke-width="0.45"/>
<line x1="103.85" y1="953" x2="103.85" y2="957" stroke="#777" stroke-width="0.45"/>
<line x1="105.15" y1="953" x2="105.15" y2="961" stroke="#777" stroke-width="0.45"/>
<line x1="106.44" y1="953" x2="106.44" y2="957" stroke="#777" stroke-width="0.45"/>
<line x1="107.74" y1="953" x2="107.74" y2="957" stroke="#777" stroke-width="0.45"/>
<line x1="109.03" y1="953" x2="109.03" y2="957" stroke="#777" stroke-width="0.45"/>
<line x1="110.33" y1="953" x2="110.33" y2="957" stroke="#777" stroke-width="0.45"/>
<line x1="111.62" y1="953" x2="111.62" y2="959" stroke="#777" stroke-width="0.45"/>
<line x1="112.92" y1="953" x2="112.92" y2="957" stroke="#777" stroke-width="0.45"/>
<line x1="114.22" y1="953" x2="114.22" y2="957" stroke="#777" stroke-width="0.45"/>
<line x1="115.51" y1="953" x2="115.51" y2="957" stroke="#777" stroke-width="0.45"/>
<line x1="116.81" y1="953" x2="116.81" y2="957" stroke="#777" stroke-width="0.45"/>
<line x1="118.1" y1="953" x2="118.1" y2="961" stroke="#777" stroke-width="0.45"/>
<line x1="119.39" y1="953" x2="119.39" y2="957" stroke="#777" stroke-width="0.45"/>
<line x1="120.69" y1="953" x2="120.69" y2="957" stroke="#777" stroke-width="0.45"/>
<line x1="121.98" y1="953" x2="121.98" y2="957" stroke="#777" stroke-width="0.45"/>
<line x1="123.28" y1="953" x2="123.28" y2="957" stroke="#777" stroke-width="0.45"/>
<line x1="124.57" y1="953" x2="124.57" y2="959" stroke="#777" stroke-width="0.45"/>
<line x1="125.87" y1="953" x2="125.87" y2="957" stroke="#777" stroke-width="0.45"/>
<line x1="127.16" y1="953" x2="127.16" y2="957" stroke="#777" stroke-width="0.45"/>
<line x1="128.46" y1="953" x2="128.46" y2="957" stroke="#777" stroke-width="0.45"/>
<line x1="129.75" y1="953" x2="129.75" y2="957" stroke="#777" stroke-width="0.45"/>
<line x1="131.05" y1="953" x2="131.05" y2="961" stroke="#777" stroke-width="0.45"/>
<line x1="132.34" y1="953" x2="132.34" y2="957" stroke="#777" stroke-width="0.45"/>
<line x1="133.64" y1="953" x2="133.64" y2="957" stroke="#777" stroke-width="0.45"/>
<line x1="134.94" y1="953" x2="134.94" y2="957" stroke="#777" stroke-width="0.45"/>
<line x1="136.23" y1="953" x2="136.23" y2="957" stroke="#777" stroke-width="0.45"/>
<line x1="137.53" y1="953" x2="137.53" y2="959" stroke="#777" stroke-width="0.45"/>
<line x1="138.82" y1="953" x2="138.82" y2="957" stroke="#777" stroke-width="0.45"/>
<line x1="140.12" y1="953" x2="140.12" y2="957" stroke="#777" stroke-width="0.45"/>
<line x1="141.41" y1="953" x2="141.41" y2="957" stroke="#777" stroke-width="0.45"/>
<line x1="142.7" y1="953" x2="142.7" y2="957" stroke="#777" stroke-width="0.45"/>
<line x1="144" y1="953" x2="144" y2="961" stroke="#777" stroke-width="0.45"/>
<line x1="145.3" y1="953" x2="145.3" y2="957" stroke="#777" stroke-width="0.45"/>
<line x1="146.59" y1="953" x2="146.59" y2="957" stroke="#777" stroke-width="0.45"/>
<line x1="147.88" y1="953" x2="147.88" y2="957" stroke="#777" stroke-width="0.45"/>
<line x1="149.18" y1="953" x2="149.18" y2="957" stroke="#777" stroke-width="0.45"/>
<line x1="150.47" y1="953" x2="150.47" y2="959" stroke="#777" stroke-width="0.45"/>
<line x1="151.77" y1="953" x2="151.77" y2="957" stroke="#777" stroke-width="0.45"/>
<line x1="153.06" y1="953" x2="153.06" y2="957" stroke="#777" stroke-width="0.45"/>
<line x1="154.36" y1="953" x2="154.36" y2="957" stroke="#777" stroke-width="0.45"/>
<line x1="155.66" y1="953" x2="155.66" y2="957" stroke="#777" stroke-width="0.45"/>
<line x1="156.95" y1="953" x2="156.95" y2="961" stroke="#777" stroke-width="0.45"/>
<line x1="158.25" y1="953" x2="158.25" y2="957" stroke="#777" stroke-width="0.45"/>
<line x1="159.54" y1="953" x2="159.54" y2="957" stroke="#777" stroke-width="0.45"/>
<line x1="160.83" y1="953" x2="160.83" y2="957" stroke="#777" stroke-width="0.45"/>
<line x1="162.13" y1="953" x2="162.13" y2="957" stroke="#777" stroke-width="0.45"/>
<line x1="163.43" y1="953" x2="163.43" y2="959" stroke="#777" stroke-width="0.45"/>
<line x1="164.72" y1="953" x2="164.72" y2="957" stroke="#777" stroke-width="0.45"/>
<line x1="166.01" y1="953" x2="166.01" y2="957" stroke="#777" stroke-width="0.45"/>
<line x1="167.31" y1="953" x2="167.31" y2="957" stroke="#777" stroke-width="0.45"/>
<line x1="168.6" y1="953" x2="168.6" y2="957" stroke="#777" stroke-width="0.45"/>
<line x1="169.9" y1="953" x2="169.9" y2="961" stroke="#777" stroke-width="0.45"/>
<line x1="171.19" y1="953" x2="171.19" y2="957" stroke="#777" stroke-width="0.45"/>
<line x1="172.49" y1="953" x2="172.49" y2="957" stroke="#777" stroke-width="0.45"/>
<line x1="173.78" y1="953" x2="173.78" y2="957" stroke="#777" stroke-width="0.45"/>
<line x1="175.08" y1="953" x2="175.08" y2="957" stroke="#777" stroke-width="0.45"/>
<line x1="176.38" y1="953" x2="176.38" y2="959" stroke="#777" stroke-width="0.45"/>
<line x1="177.67" y1="953" x2="177.67" y2="957" stroke="#777" stroke-width="0.45"/>
<line x1="178.97" y1="953" x2="178.97" y2="957" stroke="#777" stroke-width="0.45"/>
<line x1="180.26" y1="953" x2="180.26" y2="957" stroke="#777" stroke-width="0.45"/>
<line x1="181.56" y1="953" x2="181.56" y2="957" stroke="#777" stroke-width="0.45"/>
<line x1="182.85" y1="953" x2="182.85" y2="961" stroke="#777" stroke-width="0.45"/>
<line x1="184.14" y1="953" x2="184.14" y2="957" stroke="#777" stroke-width="0.45"/>
<line x1="185.44" y1="953" x2="185.44" y2="957" stroke="#777" stroke-width="0.45"/>
<line x1="186.73" y1="953" x2="186.73" y2="957" stroke="#777" stroke-width="0.45"/>
<line x1="188.03" y1="953" x2="188.03" y2="957" stroke="#777" stroke-width="0.45"/>
<line x1="189.33" y1="953" x2="189.33" y2="959" stroke="#777" stroke-width="0.45"/>
<line x1="190.62" y1="953" x2="190.62" y2="957" stroke="#777" stroke-width="0.45"/>
<line x1="191.91" y1="953" x2="191.91" y2="957" stroke="#777" stroke-width="0.45"/>
<line x1="193.21" y1="953" x2="193.21" y2="957" stroke="#777" stroke-width="0.45"/>
<line x1="194.5" y1="953" x2="194.5" y2="957" stroke="#777" stroke-width="0.45"/>
<line x1="195.8" y1="953" x2="195.8" y2="961" stroke="#777" stroke-width="0.45"/>
<line x1="197.09" y1="953" x2="197.09" y2="957" stroke="#777" stroke-width="0.45"/>
<line x1="198.39" y1="953" x2="198.39" y2="957" stroke="#777" stroke-width="0.45"/>
<line x1="199.69" y1="953" x2="199.69" y2="957" stroke="#777" stroke-width="0.45"/>
<line x1="200.98" y1="953" x2="200.98" y2="957" stroke="#777" stroke-width="0.45"/>
<line x1="202.28" y1="953" x2="202.28" y2="959" stroke="#777" stroke-width="0.45"/>
<line x1="203.57" y1="953" x2="203.57" y2="957" stroke="#777" stroke-width="0.45"/>
<line x1="204.86" y1="953" x2="204.86" y2="957" stroke="#777" stroke-width="0.45"/>
<line x1="206.16" y1="953" x2="206.16" y2="957" stroke="#777" stroke-width="0.45"/>
<line x1="207.46" y1="953" x2="207.46" y2="957" stroke="#777" stroke-width="0.45"/>
<line x1="208.75" y1="953" x2="208.75" y2="961" stroke="#777" stroke-width="0.45"/>
<line x1="210.04" y1="953" x2="210.04" y2="957" stroke="#777" stroke-width="0.45"/>
<line x1="211.34" y1="953" x2="211.34" y2="957" stroke="#777" stroke-width="0.45"/>
<line x1="212.63" y1="953" x2="212.63" y2="957" stroke="#777" stroke-width="0.45"/>
<line x1="213.93" y1="953" x2="213.93" y2="957" stroke="#777" stroke-width="0.45"/>
<line x1="215.22" y1="953" x2="215.22" y2="959" stroke="#777" stroke-width="0.45"/>
<line x1="216.52" y1="953" x2="216.52" y2="957" stroke="#777" stroke-width="0.45"/>
<line x1="217.81" y1="953" x2="217.81" y2="957" stroke="#777" stroke-width="0.45"/>
<line x1="219.11" y1="953" x2="219.11" y2="957" stroke="#777" stroke-width="0.45"/>
<line x1="220.41" y1="953" x2="220.41" y2="957" stroke="#777" stroke-width="0.45"/>
<line x1="221.7" y1="953" x2="221.7" y2="961" stroke="#777" stroke-width="0.45"/>
<line x1="222.99" y1="953" x2="222.99" y2="957" stroke="#777" stroke-width="0.45"/>
<line x1="224.29" y1="953" x2="224.29" y2="957" stroke="#777" stroke-width="0.45"/>
<line x1="225.59" y1="953" x2="225.59" y2="957" stroke="#777" stroke-width="0.45"/>
<line x1="226.88" y1="953" x2="226.88" y2="957" stroke="#777" stroke-width="0.45"/>
<line x1="228.18" y1="953" x2="228.18" y2="959" stroke="#777" stroke-width="0.45"/>
<line x1="229.47" y1="953" x2="229.47" y2="957" stroke="#777" stroke-width="0.45"/>
<line x1="230.76" y1="953" x2="230.76" y2="957" stroke="#777" stroke-width="0.45"/>
<line x1="232.06" y1="953" x2="232.06" y2="957" stroke="#777" stroke-width="0.45"/>
<line x1="233.35" y1="953" x2="233.35" y2="957" stroke="#777" stroke-width="0.45"/>
<line x1="234.65" y1="953" x2="234.65" y2="961" stroke="#777" stroke-width="0.45"/>
<text x="0" y="0" font-size="5.28" text-anchor="middle" fill="#333" transform="translate(40.4 969.25) scale(0.9 1)" font-family="Liberation Serif">0</text>
<text x="0" y="0" font-size="5.28" text-anchor="middle" fill="#333" transform="translate(53.35 969.25) scale(0.9 1)" font-family="Liberation Serif">1cm</text>
<text x="0" y="0" font-size="5.28" text-anchor="middle" fill="#333" transform="translate(66.3 969.25) scale(0.9 1)" font-family="Liberation Serif">2</text>
<text x="0" y="0" font-size="5.28" text-anchor="middle" fill="#333" transform="translate(79.25 969.25) scale(0.9 1)" font-family="Liberation Serif">3</text>
<text x="0" y="0" font-size="5.28" text-anchor="middle" fill="#333" transform="translate(92.2 969.25) scale(0.9 1)" font-family="Liberation Serif">4</text>
<text x="0" y="0" font-size="5.28" text-anchor="middle" fill="#333" transform="translate(105.15 969.25) scale(0.9 1)" font-family="Liberation Serif">5</text>
<text x="0" y="0" font-size="5.28" text-anchor="middle" fill="#333" transform="translate(118.1 969.25) scale(0.9 1)" font-family="Liberation Serif">6</text>
<text x="0" y="0" font-size="5.28" text-anchor="middle" fill="#333" transform="translate(131.05 969.25) scale(0.9 1)" font-family="Liberation Serif">7</text>
<text x="0" y="0" font-size="5.28" text-anchor="middle" fill="#333" transform="translate(144 969.25) scale(0.9 1)" font-family="Liberation Serif">8</text>
<text x="0" y="0" font-size="5.28" text-anchor="middle" fill="#333" transform="translate(156.95 969.25) scale(0.9 1)" font-family="Liberation Serif">9</text>
<text x="0" y="0" font-size="5.28" text-anchor="middle" fill="#333" transform="translate(169.9 969.25) scale(0.9 1)" font-family="Liberation Serif">10</text>
<text x="0" y="0" font-size="5.28" text-anchor="middle" fill="#333" transform="translate(182.85 969.25) scale(0.9 1)" font-family="Liberation Serif">11</text>
<text x="0" y="0" font-size="5.28" text-anchor="middle" fill="#333" transform="translate(195.8 969.25) scale(0.9 1)" font-family="Liberation Serif">12</text>
<text x="0" y="0" font-size="5.28" text-anchor="middle" fill="#333" transform="translate(208.75 969.25) scale(0.9 1)" font-family="Liberation Serif">13</text>
<text x="0" y="0" font-size="5.28" text-anchor="middle" fill="#333" transform="translate(221.7 969.25) scale(0.9 1)" font-family="Liberation Serif">14</text>
<text x="0" y="0" font-size="5.28" text-anchor="middle" fill="#333" transform="translate(234.65 969.25) scale(0.9 1)" font-family="Liberation Serif">15</text>
<text x="0" y="0" font-size="9.02" font-weight="bold" text-anchor="start" fill="#111" transform="translate(254 859.86) scale(0.9 1)" stroke="#111" stroke-width="0.35">PLKO.1-Ctrl</text>
<text x="0" y="0" font-size="9.02" font-weight="bold" text-anchor="start" fill="#111" transform="translate(254 897.76) scale(0.9 1)" stroke="#111" stroke-width="0.35">sh-<tspan font-style="italic">SNRPE</tspan>#1</text>
<text x="0" y="0" font-size="9.02" font-weight="bold" text-anchor="start" fill="#111" transform="translate(254 934.76) scale(0.9 1)" stroke="#111" stroke-width="0.35">sh-<tspan font-style="italic">SNRPE</tspan>#2</text>
<text x="0" y="0" font-size="18.15" font-weight="bold" text-anchor="start" fill="#111" transform="translate(324.5 838.8) scale(0.9 1)" stroke="#111" stroke-width="0.35">L</text>
<line x1="375.5" y1="951.03" x2="375.5" y2="950.62" stroke="#f7a24c" stroke-width="1"/>
<line x1="372.5" y1="950.62" x2="378.5" y2="950.62" stroke="#f7a24c" stroke-width="1"/>
<line x1="372.5" y1="951.03" x2="378.5" y2="951.03" stroke="#f7a24c" stroke-width="1"/>
<line x1="400.74" y1="950.62" x2="400.74" y2="949.95" stroke="#f7a24c" stroke-width="1"/>
<line x1="397.74" y1="949.95" x2="403.74" y2="949.95" stroke="#f7a24c" stroke-width="1"/>
<line x1="397.74" y1="950.62" x2="403.74" y2="950.62" stroke="#f7a24c" stroke-width="1"/>
<line x1="425.98" y1="950.02" x2="425.98" y2="948.94" stroke="#f7a24c" stroke-width="1"/>
<line x1="422.98" y1="948.94" x2="428.98" y2="948.94" stroke="#f7a24c" stroke-width="1"/>
<line x1="422.98" y1="950.02" x2="428.98" y2="950.02" stroke="#f7a24c" stroke-width="1"/>
<line x1="451.22" y1="949.61" x2="451.22" y2="946.91" stroke="#f7a24c" stroke-width="1"/>
<line x1="448.22" y1="946.91" x2="454.22" y2="946.91" stroke="#f7a24c" stroke-width="1"/>
<line x1="448.22" y1="949.61" x2="454.22" y2="949.61" stroke="#f7a24c" stroke-width="1"/>
<line x1="476.46" y1="947.79" x2="476.46" y2="944.42" stroke="#f7a24c" stroke-width="1"/>
<line x1="473.46" y1="944.42" x2="479.46" y2="944.42" stroke="#f7a24c" stroke-width="1"/>
<line x1="473.46" y1="947.79" x2="479.46" y2="947.79" stroke="#f7a24c" stroke-width="1"/>
<line x1="501.7" y1="945.77" x2="501.7" y2="939.02" stroke="#f7a24c" stroke-width="1"/>
<line x1="498.7" y1="939.02" x2="504.7" y2="939.02" stroke="#f7a24c" stroke-width="1"/>
<line x1="498.7" y1="945.77" x2="504.7" y2="945.77" stroke="#f7a24c" stroke-width="1"/>
<polyline points="375.5,950.83 400.74,950.29 425.98,949.48 451.22,948.26 476.46,946.1 501.7,942.39" stroke="#f7a24c" stroke-width="1.3" fill="none"/>
<polygon points="375.5,948.23 372.64,952.91 378.36,952.91" fill="#f7a24c"/>
<polygon points="400.74,947.69 397.88,952.37 403.6,952.37" fill="#f7a24c"/>
<polygon points="425.98,946.88 423.12,951.56 428.84,951.56" fill="#f7a24c"/>
<polygon points="451.22,945.66 448.36,950.34 454.08,950.34" fill="#f7a24c"/>
<polygon points="476.46,943.5 473.6,948.18 479.32,948.18" fill="#f7a24c"/>
<polygon points="501.7,939.79 498.84,944.47 504.56,944.47" fill="#f7a24c"/>
<line x1="375.5" y1="950.49" x2="375.5" y2="949.81" stroke="#f59fd0" stroke-width="1"/>
<line x1="372.5" y1="949.81" x2="378.5" y2="949.81" stroke="#f59fd0" stroke-width="1"/>
<line x1="372.5" y1="950.49" x2="378.5" y2="950.49" stroke="#f59fd0" stroke-width="1"/>
<line x1="400.74" y1="949.48" x2="400.74" y2="948.13" stroke="#f59fd0" stroke-width="1"/>
<line x1="397.74" y1="948.13" x2="403.74" y2="948.13" stroke="#f59fd0" stroke-width="1"/>
<line x1="397.74" y1="949.48" x2="403.74" y2="949.48" stroke="#f59fd0" stroke-width="1"/>
<line x1="425.98" y1="948.8" x2="425.98" y2="946.1" stroke="#f59fd0" stroke-width="1"/>
<line x1="422.98" y1="946.1" x2="428.98" y2="946.1" stroke="#f59fd0" stroke-width="1"/>
<line x1="422.98" y1="948.8" x2="428.98" y2="948.8" stroke="#f59fd0" stroke-width="1"/>
<line x1="451.22" y1="947.45" x2="451.22" y2="942.05" stroke="#f59fd0" stroke-width="1"/>
<line x1="448.22" y1="942.05" x2="454.22" y2="942.05" stroke="#f59fd0" stroke-width="1"/>
<line x1="448.22" y1="947.45" x2="454.22" y2="947.45" stroke="#f59fd0" stroke-width="1"/>
<line x1="476.46" y1="946.78" x2="476.46" y2="934.63" stroke="#f59fd0" stroke-width="1"/>
<line x1="473.46" y1="934.63" x2="479.46" y2="934.63" stroke="#f59fd0" stroke-width="1"/>
<line x1="473.46" y1="946.78" x2="479.46" y2="946.78" stroke="#f59fd0" stroke-width="1"/>
<line x1="501.7" y1="943.07" x2="501.7" y2="926.87" stroke="#f59fd0" stroke-width="1"/>
<line x1="498.7" y1="926.87" x2="504.7" y2="926.87" stroke="#f59fd0" stroke-width="1"/>
<line x1="498.7" y1="943.07" x2="504.7" y2="943.07" stroke="#f59fd0" stroke-width="1"/>
<polyline points="375.5,950.15 400.74,948.8 425.98,947.45 451.22,944.75 476.46,940.71 501.7,934.97" stroke="#f59fd0" stroke-width="1.3" fill="none"/>
<rect x="373.5" y="948.15" width="4" height="4" fill="#f59fd0" stroke="none" stroke-width="1"/>
<rect x="398.74" y="946.8" width="4" height="4" fill="#f59fd0" stroke="none" stroke-width="1"/>
<rect x="423.98" y="945.45" width="4" height="4" fill="#f59fd0" stroke="none" stroke-width="1"/>
<rect x="449.22" y="942.75" width="4" height="4" fill="#f59fd0" stroke="none" stroke-width="1"/>
<rect x="474.46" y="938.71" width="4" height="4" fill="#f59fd0" stroke="none" stroke-width="1"/>
<rect x="499.7" y="932.97" width="4" height="4" fill="#f59fd0" stroke="none" stroke-width="1"/>
<line x1="375.5" y1="949.14" x2="375.5" y2="947.11" stroke="#1d4f91" stroke-width="1"/>
<line x1="372.5" y1="947.11" x2="378.5" y2="947.11" stroke="#1d4f91" stroke-width="1"/>
<line x1="372.5" y1="949.14" x2="378.5" y2="949.14" stroke="#1d4f91" stroke-width="1"/>
<line x1="400.74" y1="946.78" x2="400.74" y2="940.71" stroke="#1d4f91" stroke-width="1"/>
<line x1="397.74" y1="940.71" x2="403.74" y2="940.71" stroke="#1d4f91" stroke-width="1"/>
<line x1="397.74" y1="946.78" x2="403.74" y2="946.78" stroke="#1d4f91" stroke-width="1"/>
<line x1="425.98" y1="943.4" x2="425.98" y2="932.61" stroke="#1d4f91" stroke-width="1"/>
<line x1="422.98" y1="932.61" x2="428.98" y2="932.61" stroke="#1d4f91" stroke-width="1"/>
<line x1="422.98" y1="943.4" x2="428.98" y2="943.4" stroke="#1d4f91" stroke-width="1"/>
<line x1="451.22" y1="939.69" x2="451.22" y2="920.8" stroke="#1d4f91" stroke-width="1"/>
<line x1="448.22" y1="920.8" x2="454.22" y2="920.8" stroke="#1d4f91" stroke-width="1"/>
<line x1="448.22" y1="939.69" x2="454.22" y2="939.69" stroke="#1d4f91" stroke-width="1"/>
<line x1="476.46" y1="926.54" x2="476.46" y2="898.88" stroke="#1d4f91" stroke-width="1"/>
<line x1="473.46" y1="898.88" x2="479.46" y2="898.88" stroke="#1d4f91" stroke-width="1"/>
<line x1="473.46" y1="926.54" x2="479.46" y2="926.54" stroke="#1d4f91" stroke-width="1"/>
<line x1="501.7" y1="919.12" x2="501.7" y2="873.24" stroke="#1d4f91" stroke-width="1"/>
<line x1="498.7" y1="873.24" x2="504.7" y2="873.24" stroke="#1d4f91" stroke-width="1"/>
<line x1="498.7" y1="919.12" x2="504.7" y2="919.12" stroke="#1d4f91" stroke-width="1"/>
<polyline points="375.5,948.13 400.74,943.74 425.98,938.01 451.22,930.25 476.46,912.71 501.7,896.18" stroke="#1d4f91" stroke-width="1.3" fill="none"/>
<circle cx="375.5" cy="948.13" r="2.3" fill="#1d4f91"/>
<circle cx="400.74" cy="943.74" r="2.3" fill="#1d4f91"/>
<circle cx="425.98" cy="938.01" r="2.3" fill="#1d4f91"/>
<circle cx="451.22" cy="930.25" r="2.3" fill="#1d4f91"/>
<circle cx="476.46" cy="912.71" r="2.3" fill="#1d4f91"/>
<circle cx="501.7" cy="896.18" r="2.3" fill="#1d4f91"/>
<text x="0" y="0" font-size="9.9" font-weight="bold" text-anchor="middle" fill="#111" transform="translate(451.22 918.3) scale(0.9 1)" stroke="#111" stroke-width="0.35">**</text>
<text x="0" y="0" font-size="9.9" font-weight="bold" text-anchor="middle" fill="#111" transform="translate(476.46 896.38) scale(0.9 1)" stroke="#111" stroke-width="0.35">**</text>
<text x="0" y="0" font-size="9.9" font-weight="bold" text-anchor="middle" fill="#111" transform="translate(501.7 870.74) scale(0.9 1)" stroke="#111" stroke-width="0.35">**</text>
<line x1="363.3" y1="850.3" x2="363.3" y2="952.1" stroke="#111" stroke-width="1.2"/>
<line x1="359.8" y1="951.5" x2="363.3" y2="951.5" stroke="#111" stroke-width="1.2"/>
<text x="0" y="0" font-size="8.03" font-weight="bold" text-anchor="end" fill="#111" transform="translate(357.8 954.31) scale(0.9 1)" stroke="#111" stroke-width="0.35">0</text>
<line x1="359.8" y1="917.77" x2="363.3" y2="917.77" stroke="#111" stroke-width="1.2"/>
<text x="0" y="0" font-size="8.03" font-weight="bold" text-anchor="end" fill="#111" transform="translate(357.8 920.58) scale(0.9 1)" stroke="#111" stroke-width="0.35">500</text>
<line x1="359.8" y1="884.03" x2="363.3" y2="884.03" stroke="#111" stroke-width="1.2"/>
<text x="0" y="0" font-size="8.03" font-weight="bold" text-anchor="end" fill="#111" transform="translate(357.8 886.84) scale(0.9 1)" stroke="#111" stroke-width="0.35">1000</text>
<line x1="359.8" y1="850.3" x2="363.3" y2="850.3" stroke="#111" stroke-width="1.2"/>
<text x="0" y="0" font-size="8.03" font-weight="bold" text-anchor="end" fill="#111" transform="translate(357.8 853.11) scale(0.9 1)" stroke="#111" stroke-width="0.35">1500</text>
<line x1="363.3" y1="951.5" x2="513.5" y2="951.5" stroke="#111" stroke-width="1.2"/>
<line x1="375.5" y1="951.5" x2="375.5" y2="954.8" stroke="#111" stroke-width="1.2"/>
<text x="0" y="0" font-size="8.03" font-weight="bold" text-anchor="middle" fill="#111" transform="translate(375.5 964.81) scale(0.9 1)" stroke="#111" stroke-width="0.35">8</text>
<line x1="400.74" y1="951.5" x2="400.74" y2="954.8" stroke="#111" stroke-width="1.2"/>
<text x="0" y="0" font-size="8.03" font-weight="bold" text-anchor="middle" fill="#111" transform="translate(400.74 964.81) scale(0.9 1)" stroke="#111" stroke-width="0.35">12</text>
<line x1="425.98" y1="951.5" x2="425.98" y2="954.8" stroke="#111" stroke-width="1.2"/>
<text x="0" y="0" font-size="8.03" font-weight="bold" text-anchor="middle" fill="#111" transform="translate(425.98 964.81) scale(0.9 1)" stroke="#111" stroke-width="0.35">16</text>
<line x1="451.22" y1="951.5" x2="451.22" y2="954.8" stroke="#111" stroke-width="1.2"/>
<text x="0" y="0" font-size="8.03" font-weight="bold" text-anchor="middle" fill="#111" transform="translate(451.22 964.81) scale(0.9 1)" stroke="#111" stroke-width="0.35">20</text>
<line x1="476.46" y1="951.5" x2="476.46" y2="954.8" stroke="#111" stroke-width="1.2"/>
<text x="0" y="0" font-size="8.03" font-weight="bold" text-anchor="middle" fill="#111" transform="translate(476.46 964.81) scale(0.9 1)" stroke="#111" stroke-width="0.35">24</text>
<line x1="501.7" y1="951.5" x2="501.7" y2="954.8" stroke="#111" stroke-width="1.2"/>
<text x="0" y="0" font-size="8.03" font-weight="bold" text-anchor="middle" fill="#111" transform="translate(501.7 964.81) scale(0.9 1)" stroke="#111" stroke-width="0.35">28</text>
<text x="0" y="0" font-size="9.46" font-weight="bold" text-anchor="middle" fill="#111" transform="translate(438.6 977.31) scale(0.9 1)" stroke="#111" stroke-width="0.35">Days</text>
<text x="0" y="0" font-size="8.2" font-weight="bold" text-anchor="middle" fill="#111" transform="translate(336.65 900.9) rotate(-90)" stroke="#111" stroke-width="0.35">Tumor volume (mm<tspan dy="-2.6" font-size="5.6">3</tspan><tspan dy="2.6">)</tspan></text>
<line x1="369" y1="856" x2="380.2" y2="856" stroke="#1d4f91" stroke-width="1.3"/>
<circle cx="374.6" cy="856" r="1.95" fill="#1d4f91"/>
<text x="0" y="0" font-size="9.02" text-anchor="start" fill="#111" transform="translate(386 859.16) scale(0.9 1)">PLKO.1-Ctrl</text>
<line x1="369" y1="870.6" x2="380.2" y2="870.6" stroke="#f59fd0" stroke-width="1.3"/>
<rect x="372.9" y="868.9" width="3.4" height="3.4" fill="#f59fd0" stroke="none" stroke-width="1"/>
<text x="0" y="0" font-size="9.02" text-anchor="start" fill="#111" transform="translate(386 873.76) scale(0.9 1)">sh-<tspan font-style="italic">SNRPE</tspan>#1</text>
<line x1="369" y1="884.7" x2="380.2" y2="884.7" stroke="#f7a24c" stroke-width="1.3"/>
<polygon points="374.6,882.49 372.17,886.47 377.03,886.47" fill="#f7a24c"/>
<text x="0" y="0" font-size="9.02" text-anchor="start" fill="#111" transform="translate(386 887.86) scale(0.9 1)">sh-<tspan font-style="italic">SNRPE</tspan>#2</text>
<text x="0" y="0" font-size="18.15" font-weight="bold" text-anchor="start" fill="#111" transform="translate(531.5 838.6) scale(0.9 1)" stroke="#111" stroke-width="0.35">M</text>
<circle cx="590.7" cy="877.8" r="2.1" fill="#1d4f91"/>
<circle cx="598.9" cy="877.8" r="2.1" fill="#1d4f91"/>
<circle cx="594.9" cy="885.7" r="2.1" fill="#1d4f91"/>
<circle cx="590.7" cy="910" r="2.1" fill="#1d4f91"/>
<circle cx="598.9" cy="907.6" r="2.1" fill="#1d4f91"/>
<line x1="585.2" y1="891.4" x2="604.8" y2="891.4" stroke="#111" stroke-width="1.3"/>
<line x1="594.9" y1="884.4" x2="594.9" y2="899.4" stroke="#6a8cc0" stroke-width="1"/>
<line x1="591.7" y1="884.4" x2="598.1" y2="884.4" stroke="#6a8cc0" stroke-width="1"/>
<line x1="591.7" y1="899.4" x2="598.1" y2="899.4" stroke="#6a8cc0" stroke-width="1"/>
<rect x="622.2" y="911" width="4" height="4" fill="#f59fd0" stroke="none" stroke-width="1"/>
<rect x="618.5" y="925" width="4" height="4" fill="#f59fd0" stroke="none" stroke-width="1"/>
<rect x="625.8" y="928" width="4" height="4" fill="#f59fd0" stroke="none" stroke-width="1"/>
<rect x="622.2" y="933.5" width="4" height="4" fill="#f59fd0" stroke="none" stroke-width="1"/>
<rect x="622.2" y="921" width="4" height="4" fill="#f59fd0" stroke="none" stroke-width="1"/>
<line x1="614.6" y1="925.3" x2="633.8" y2="925.3" stroke="#111" stroke-width="1.3"/>
<line x1="624.2" y1="921" x2="624.2" y2="930" stroke="#f0b0d0" stroke-width="1"/>
<polygon points="644.8,927.03 642.08,931.48 647.52,931.48" fill="#f7a24c"/>
<polygon points="649.8,928.13 647.08,932.58 652.52,932.58" fill="#f7a24c"/>
<polygon points="655,928.13 652.28,932.58 657.72,932.58" fill="#f7a24c"/>
<polygon points="661.5,926.53 658.78,930.98 664.22,930.98" fill="#f7a24c"/>
<polygon points="653.5,934.53 650.78,938.98 656.22,938.98" fill="#f7a24c"/>
<line x1="643.8" y1="930.9" x2="663.2" y2="930.9" stroke="#111" stroke-width="1.3"/>
<polyline points="594.9,868.3 594.9,846.5 653.5,846.5 653.5,928" stroke="#222" stroke-width="0.9" fill="none"/>
<polyline points="594.9,868.3 594.9,859.2 624.2,859.2 624.2,910.5" stroke="#222" stroke-width="0.9" fill="none"/>
<text x="0" y="0" font-size="9.9" font-weight="bold" text-anchor="middle" fill="#111" transform="translate(624.2 845) scale(0.9 1)" stroke="#111" stroke-width="0.35">**</text>
<text x="0" y="0" font-size="9.9" font-weight="bold" text-anchor="middle" fill="#111" transform="translate(609.5 857.8) scale(0.9 1)" stroke="#111" stroke-width="0.35">**</text>
<line x1="574.6" y1="844.3" x2="574.6" y2="944.6" stroke="#111" stroke-width="1.2"/>
<line x1="571.1" y1="944" x2="574.6" y2="944" stroke="#111" stroke-width="1.2"/>
<text x="0" y="0" font-size="8.03" font-weight="bold" text-anchor="end" fill="#111" transform="translate(569.5 946.81) scale(0.9 1)" stroke="#111" stroke-width="0.35">0</text>
<line x1="571.1" y1="910.77" x2="574.6" y2="910.77" stroke="#111" stroke-width="1.2"/>
<text x="0" y="0" font-size="8.03" font-weight="bold" text-anchor="end" fill="#111" transform="translate(569.5 913.58) scale(0.9 1)" stroke="#111" stroke-width="0.35">500</text>
<line x1="571.1" y1="877.53" x2="574.6" y2="877.53" stroke="#111" stroke-width="1.2"/>
<text x="0" y="0" font-size="8.03" font-weight="bold" text-anchor="end" fill="#111" transform="translate(569.5 880.34) scale(0.9 1)" stroke="#111" stroke-width="0.35">1000</text>
<line x1="571.1" y1="844.3" x2="574.6" y2="844.3" stroke="#111" stroke-width="1.2"/>
<text x="0" y="0" font-size="8.03" font-weight="bold" text-anchor="end" fill="#111" transform="translate(569.5 847.11) scale(0.9 1)" stroke="#111" stroke-width="0.35">1500</text>
<line x1="574.6" y1="944" x2="672.8" y2="944" stroke="#111" stroke-width="1.2"/>
<line x1="594.9" y1="944" x2="594.9" y2="947" stroke="#111" stroke-width="1.2"/>
<text x="596.7" y="954.5" font-size="7.4" font-weight="bold" text-anchor="end" fill="#111" transform="rotate(-45 596.7 954.5)" stroke="#111" stroke-width="0.35">PLKO.1-Ctrl</text>
<line x1="624.2" y1="944" x2="624.2" y2="947" stroke="#111" stroke-width="1.2"/>
<text x="626" y="954.5" font-size="7.4" font-weight="bold" text-anchor="end" fill="#111" transform="rotate(-45 626 954.5)" stroke="#111" stroke-width="0.35">sh-<tspan font-style="italic">SNRPE</tspan>#1</text>
<line x1="653.5" y1="944" x2="653.5" y2="947" stroke="#111" stroke-width="1.2"/>
<text x="655.3" y="954.5" font-size="7.4" font-weight="bold" text-anchor="end" fill="#111" transform="rotate(-45 655.3 954.5)" stroke="#111" stroke-width="0.35">sh-<tspan font-style="italic">SNRPE</tspan>#2</text>
<text x="0" y="0" font-size="8" font-weight="bold" text-anchor="middle" fill="#111" transform="translate(547.8 894.4) rotate(-90)" stroke="#111" stroke-width="0.35">Tumor weight (mg)</text>
</svg>
</body></html>
